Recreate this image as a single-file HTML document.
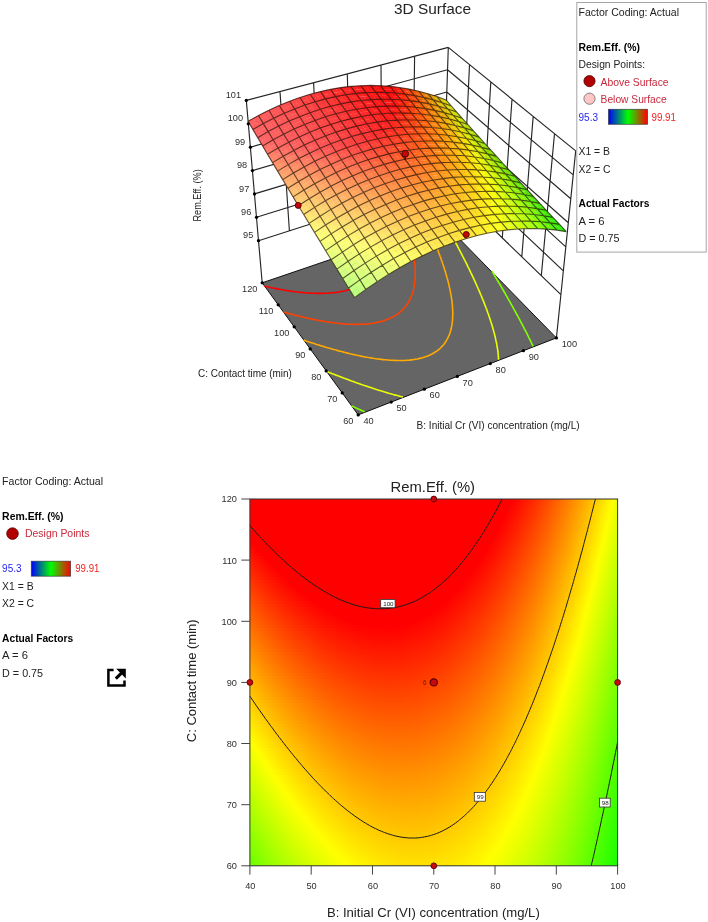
<!DOCTYPE html>
<html><head><meta charset="utf-8"><title>3D Surface</title>
<style>
html,body{margin:0;padding:0;background:#fff}
body{width:708px;height:922px;position:relative;overflow:hidden;font-family:"Liberation Sans",sans-serif}
svg{position:absolute;left:0;display:block}
.s3{top:0}.s2{top:460px}.sl{top:0}
</style></head><body>
<svg class="s3" width="708" height="460" viewBox="0 0 708 460"><path d="M258.5,240.7L443.8,181.2M443.8,181.2L560.9,294.7M256.5,217.3L444.5,158.9M444.5,158.9L563.3,270.8M254.5,193.9L445.3,136.6M445.3,136.6L565.8,246.8M252.4,170.6L446.0,114.3M446.0,114.3L568.3,222.8M250.4,147.2L446.8,92.0M446.8,92.0L570.8,198.8M248.3,123.8L447.5,69.7M447.5,69.7L573.2,174.9M246.3,100.4L448.3,47.4M448.3,47.4L575.7,150.9M246.3,100.4L258.5,240.7M448.3,47.4L443.8,181.2M280.0,91.6L289.4,230.8M469.5,64.7L463.3,200.2M313.6,82.7L320.3,220.9M490.8,81.9L482.8,219.1M347.3,73.9L351.1,211.0M512.0,99.2L502.3,238.0M381.0,65.1L382.0,201.1M533.2,116.4L521.8,256.9M414.6,56.2L412.9,191.2M554.5,133.7L541.3,275.8M448.3,47.4L443.8,181.2M575.7,150.9L560.9,294.7M262.2,282.8L258.5,240.7M442.4,221.4L443.8,181.2M556.4,337.9L560.9,294.7" stroke="#262626" stroke-width="1.15" fill="none"/><polygon points="262.2,282.8 358.2,414.9 556.4,337.9 442.4,221.4" fill="#656565" stroke="#111" stroke-width="1"/><polyline points="533.1,346.3 532.6,345.3 532.5,345.0 531.9,343.8 531.3,342.5 530.7,341.2 530.4,340.7 530.1,340.0 529.4,338.7 528.8,337.5 528.2,336.2 528.1,336.1 527.6,335.0 527.0,333.7 526.3,332.5 525.8,331.4 525.7,331.3 525.1,330.0 524.4,328.8 523.8,327.6 523.3,326.6 523.2,326.4 522.6,325.2 521.9,324.0 521.3,322.8 520.8,321.8 520.7,321.6 520.0,320.4 519.4,319.2 518.8,318.0 518.2,316.9 518.1,316.8 517.5,315.6 516.8,314.5 516.2,313.3 515.6,312.1 515.5,312.0 514.9,310.9 514.3,309.8 513.6,308.6 513.0,307.5 512.7,307.0 512.4,306.3 511.7,305.2 511.1,304.0 510.5,302.9 509.9,302.0 509.8,301.7 509.2,300.6 508.5,299.5 507.9,298.3 507.2,297.2 507.1,296.9 506.6,296.1 506.0,295.0 505.3,293.9 504.7,292.7 504.1,291.8 504.0,291.6 503.4,290.5 502.8,289.4 502.1,288.3 501.5,287.2 501.2,286.6 500.8,286.1 500.2,285.0 499.6,283.9 498.9,282.9 498.3,281.8 498.1,281.5 497.7,280.7 497.0,279.6 496.4,278.5 495.7,277.5 495.1,276.4 495.0,276.3 494.5,275.3 493.8,274.3 493.2,273.2 492.6,272.1 491.9,271.1 491.9,271.1" fill="none" stroke="#83ff00" stroke-width="1.6"/><polyline points="351.4,405.8 351.6,405.9 353.4,406.7 354.9,407.4 355.3,407.6 357.2,408.5 358.3,409.0 359.1,409.3 361.0,410.2 361.7,410.5 362.9,411.0 364.8,411.9" fill="none" stroke="#83ff00" stroke-width="1.6"/><polyline points="498.5,359.8 498.5,358.3 498.4,357.3 498.4,356.8 498.2,355.3 498.2,354.7 498.1,353.8 498.0,352.4 497.9,352.0 497.8,350.9 497.6,349.5 497.5,349.2 497.4,348.1 497.1,346.7 497.1,346.3 496.9,345.3 496.6,343.9 496.6,343.4 496.4,342.5 496.1,341.1 495.9,340.4 495.8,339.8 495.5,338.4 495.3,337.4 495.2,337.1 494.9,335.7 494.5,334.4 494.5,334.2 494.2,333.1 493.8,331.7 493.6,331.0 493.5,330.4 493.1,329.1 492.7,327.8 492.7,327.7 492.4,326.5 492.0,325.2 491.7,324.4 491.6,323.9 491.2,322.7 490.8,321.4 490.6,321.0 490.4,320.1 490.0,318.9 489.5,317.6 489.5,317.5 489.1,316.4 488.7,315.1 488.3,314.0 488.2,313.9 487.8,312.7 487.4,311.4 487.0,310.4 486.9,310.2 486.5,309.0 486.0,307.8 485.6,306.7 485.5,306.6 485.1,305.4 484.6,304.2 484.2,303.0 484.1,303.0 483.7,301.8 483.2,300.6 482.7,299.4 482.6,299.2 482.2,298.2 481.8,297.1 481.3,295.9 481.0,295.3 480.8,294.7 480.3,293.6 479.8,292.4 479.4,291.4 479.3,291.3 478.8,290.1 478.3,289.0 477.8,287.8 477.7,287.5 477.3,286.7 476.8,285.6 476.3,284.4 475.9,283.5 475.8,283.3 475.3,282.2 474.8,281.1 474.3,280.0 474.0,279.5 473.8,278.8 473.2,277.7 472.7,276.6 472.2,275.5 472.1,275.4 471.7,274.4 471.2,273.3 470.7,272.3 470.2,271.2 470.1,271.2 469.6,270.1 469.1,269.0 468.6,267.9 468.1,267.1 468.0,266.9 467.5,265.8 467.0,264.7 466.5,263.6 466.1,262.8 465.9,262.6 465.4,261.5 464.9,260.5 464.3,259.4 463.9,258.6 463.8,258.4 463.3,257.3 462.7,256.3 462.2,255.2 461.7,254.3 461.7,254.2 461.1,253.2 460.6,252.1 460.1,251.1 459.5,250.1 459.5,250.0 459.0,249.1 458.5,248.0 457.9,247.0 457.4,246.0 457.2,245.6 456.9,245.0 456.3,244.0 455.8,243.0 455.3,242.0 454.8,241.2 454.7,241.0 454.2,240.0 453.6,239.0 453.1,238.0 452.6,237.0 452.5,236.8 452.0,236.0 451.5,235.0 451.0,234.0 450.4,233.1 450.0,232.3 449.9,232.1 449.3,231.1 448.8,230.1 448.3,229.2 447.7,228.2 447.6,227.9 447.2,227.2 446.7,226.3 446.1,225.3 445.6,224.3 445.1,223.4" fill="none" stroke="#ebff00" stroke-width="1.6"/><polyline points="326.3,371.3 328.0,371.9 329.4,372.5 329.9,372.7 331.8,373.5 332.5,373.7 333.8,374.2 335.6,374.9 335.7,375.0 337.7,375.7 338.6,376.1 339.7,376.5 341.6,377.2 341.7,377.3 343.6,378.0 344.8,378.4 345.7,378.7 347.7,379.5 347.8,379.6 349.7,380.2 350.9,380.7 351.7,381.0 353.8,381.7 353.9,381.8 355.8,382.5 357.0,382.9 357.9,383.2 360.0,383.9 360.0,383.9 362.1,384.7 363.0,385.0 364.2,385.4 366.0,386.0 366.4,386.1 368.5,386.9 369.0,387.0 370.7,387.6 372.0,388.0 372.8,388.3 374.9,389.0 375.0,389.0 377.2,389.7 377.9,389.9 379.5,390.4 380.8,390.8 381.7,391.1 383.8,391.7 384.0,391.8 386.3,392.5 386.7,392.6 388.6,393.2 389.6,393.5 390.9,393.8 392.5,394.3 393.2,394.5 395.3,395.1 395.6,395.1 398.0,395.8 398.2,395.8 400.5,396.4 401.0,396.6 402.9,397.1" fill="none" stroke="#ebff00" stroke-width="1.6"/><polyline points="303.6,340.1 304.7,340.5 306.4,341.1 306.7,341.2 308.7,341.8 309.2,342.0 310.7,342.5 312.1,342.9 312.7,343.1 314.8,343.8 314.9,343.8 316.8,344.5 317.6,344.7 318.9,345.1 320.4,345.6 321.0,345.7 323.1,346.4 323.2,346.4 325.2,347.0 326.0,347.2 327.4,347.7 328.7,348.1 329.5,348.3 331.5,348.8 331.7,348.9 333.9,349.5 334.2,349.6 336.1,350.1 336.9,350.4 338.3,350.7 339.6,351.1 340.6,351.3 342.3,351.8 342.9,351.9 345.0,352.5 345.2,352.5 347.5,353.1 347.6,353.1 349.9,353.7 350.3,353.8 352.2,354.2 352.9,354.4 354.7,354.8 355.5,355.0 357.1,355.3 358.1,355.5 359.6,355.8 360.7,356.1 362.2,356.4 363.3,356.6 364.7,356.8 365.8,357.1 367.4,357.3 368.3,357.5 370.0,357.8 370.8,357.9 372.8,358.2 373.3,358.3 375.6,358.7 375.8,358.7 378.2,359.0 378.4,359.1 380.6,359.3 381.4,359.4 383.0,359.6 384.5,359.7 385.4,359.8 387.6,360.0 387.7,360.0 390.0,360.2 390.9,360.3 392.3,360.3 394.4,360.4 394.5,360.4 396.8,360.5 398.1,360.5 399.0,360.5 401.1,360.5 402.1,360.5 403.3,360.5 405.4,360.4 406.6,360.3 407.4,360.2 409.5,360.1 411.5,359.9 411.8,359.8 413.4,359.6 415.4,359.3 417.3,359.0 418.9,358.6 419.1,358.6 420.9,358.1 422.7,357.7 424.4,357.1 426.1,356.6 427.8,355.9 429.4,355.3 430.9,354.5 432.4,353.8 433.8,353.0 433.9,352.9 435.3,352.0 436.7,351.1 438.0,350.1 438.5,349.8 439.3,349.1 440.5,348.0 441.2,347.2 441.6,346.8 442.7,345.6 443.3,345.0 443.8,344.4 444.8,343.1 444.9,342.9 445.7,341.7 446.2,341.0 446.6,340.2 447.2,339.1 447.5,338.7 448.1,337.4 448.2,337.2 448.9,335.6 449.0,335.6 449.6,333.9 449.6,333.9 450.2,332.3 450.2,332.2 450.6,330.7 450.7,330.4 451.1,329.1 451.2,328.5 451.4,327.6 451.6,326.6 451.7,326.0 452.0,324.6 452.0,324.5 452.2,323.1 452.3,322.6 452.4,321.6 452.5,320.5 452.5,320.1 452.6,318.7 452.6,318.3 452.7,317.3 452.7,316.1 452.7,315.9 452.8,314.5 452.8,313.8 452.8,313.1 452.7,311.7 452.7,311.5 452.7,310.4 452.6,309.1 452.6,309.0 452.6,307.7 452.5,306.6 452.5,306.4 452.3,305.1 452.3,304.1 452.2,303.8 452.1,302.5 452.0,301.5 451.9,301.2 451.8,299.9 451.6,298.9 451.6,298.6 451.4,297.4 451.2,296.2 451.2,296.1 451.0,294.9 450.8,293.6 450.7,293.5 450.5,292.4 450.3,291.1 450.2,290.6 450.0,289.9 449.8,288.7 449.6,287.8 449.5,287.5 449.2,286.3 449.0,285.1 448.9,284.9 448.7,283.9 448.4,282.7 448.2,281.9 448.1,281.5 447.8,280.3 447.5,279.2 447.4,278.9 447.1,278.0 446.8,276.8 446.5,275.8 446.5,275.7 446.2,274.5 445.8,273.4 445.6,272.6 445.5,272.3 445.1,271.1 444.8,270.0 444.6,269.5 444.4,268.9 444.1,267.7 443.7,266.6 443.6,266.2 443.3,265.5 443.0,264.4 442.6,263.3 442.5,262.9 442.2,262.2 441.8,261.1 441.4,260.0 441.3,259.6 441.1,258.9 440.7,257.8 440.3,256.7 440.1,256.2 439.9,255.6 439.5,254.6 439.1,253.5 438.8,252.8 438.7,252.4 438.3,251.3 437.9,250.3 437.5,249.4 437.5,249.2 437.0,248.2 436.6,247.1 436.2,246.1 436.1,245.9 435.8,245.0 435.4,244.0 435.0,243.0 434.7,242.3 434.5,241.9 434.1,240.9 433.7,239.9 433.3,238.8 433.2,238.7 432.8,237.8 432.4,236.8 432.0,235.8 431.7,235.1 431.5,234.8 431.1,233.8 430.6,232.7 430.2,231.7 430.1,231.5 429.8,230.7 429.3,229.7 428.9,228.8 428.5,227.8 428.4,227.8 428.0,226.8" fill="none" stroke="#ffaa00" stroke-width="1.6"/><polyline points="283.1,311.9 283.4,312.0 285.4,312.6 285.7,312.6 287.5,313.2 288.3,313.4 289.6,313.7 290.8,314.0 291.8,314.3 293.4,314.7 293.9,314.8 296.0,315.4 296.1,315.4 298.2,315.9 298.5,316.0 300.5,316.5 301.1,316.6 302.7,317.0 303.6,317.2 305.0,317.5 306.1,317.8 307.2,318.1 308.6,318.4 309.6,318.6 311.1,318.9 311.9,319.1 313.6,319.4 314.3,319.5 316.0,319.9 316.7,320.0 318.5,320.4 319.2,320.5 320.9,320.8 321.7,320.9 323.3,321.2 324.2,321.4 325.7,321.6 326.8,321.8 328.1,322.0 329.4,322.2 330.4,322.3 332.2,322.6 332.8,322.7 334.9,322.9 335.1,323.0 337.4,323.2 337.8,323.3 339.7,323.5 340.7,323.6 342.0,323.7 343.8,323.8 344.2,323.9 346.4,324.0 346.9,324.1 348.6,324.2 350.2,324.2 350.8,324.3 353.0,324.3 353.8,324.3 355.1,324.4 357.2,324.4 357.5,324.4 359.3,324.3 361.3,324.3 361.5,324.3 363.3,324.2 365.3,324.1 366.1,324.0 367.3,323.9 369.2,323.7 371.2,323.5 371.5,323.4 373.0,323.2 374.9,322.9 376.7,322.5 378.5,322.1 379.5,321.9 380.2,321.7 381.9,321.3 383.6,320.8 385.3,320.2 386.9,319.6 388.4,319.0 390.0,318.3 391.5,317.6 391.7,317.5 392.9,316.9 394.3,316.1 395.7,315.2 397.1,314.4 397.4,314.1 398.4,313.4 399.6,312.4 400.6,311.6 400.8,311.4 402.0,310.3 402.9,309.5 403.1,309.2 404.2,308.1 404.7,307.5 405.2,306.9 406.2,305.6 406.2,305.6 407.1,304.3 407.4,303.8 408.0,302.9 408.5,302.1 408.8,301.5 409.4,300.5 409.6,300.1 410.2,298.9 410.3,298.5 410.9,297.3 411.0,297.0 411.5,295.8 411.7,295.4 412.1,294.3 412.3,293.7 412.5,292.8 412.8,292.0 413.0,291.4 413.3,290.3 413.4,289.9 413.7,288.5 413.7,288.4 414.0,287.1 414.1,286.6 414.2,285.8 414.4,284.7 414.5,284.4 414.6,283.1 414.7,282.7 414.8,281.7 414.9,280.7 414.9,280.4 415.0,279.1 415.1,278.6 415.1,277.8 415.2,276.5 415.2,276.5 415.2,275.3 415.2,274.4 415.2,274.0 415.2,272.8 415.2,272.1 415.2,271.5 415.2,270.3 415.2,269.9 415.2,269.1 415.1,267.8 415.1,267.6 415.0,266.6 415.0,265.4 414.9,265.2 414.9,264.2 414.7,263.0 414.7,262.8 414.6,261.9 414.5,260.7 414.5,260.3 414.4,259.5 414.2,258.4 414.1,257.8 414.1,257.2 413.9,256.1 413.8,255.3 413.7,254.9 413.5,253.8 413.3,252.7 413.3,252.7 413.1,251.5 412.9,250.4 412.9,250.1 412.7,249.3 412.5,248.2 412.3,247.4 412.3,247.1 412.0,246.0 411.8,244.9 411.7,244.6 411.6,243.8 411.3,242.7 411.1,241.9 411.1,241.6 410.8,240.5 410.5,239.5 410.4,239.0 410.3,238.4 410.0,237.3 409.7,236.3 409.7,236.2 409.4,235.2 409.1,234.2 408.9,233.3 408.9,233.1" fill="none" stroke="#ff4200" stroke-width="1.6"/><polyline points="264.3,286.1 266.1,286.5 266.7,286.7 268.3,287.0 269.1,287.2 270.5,287.5 271.5,287.7 272.8,288.0 273.9,288.2 275.1,288.4 276.2,288.6 277.4,288.9 278.6,289.1 279.7,289.3 280.9,289.5 282.1,289.7 283.3,289.9 284.5,290.2 285.6,290.3 287.0,290.6 287.9,290.7 289.5,290.9 290.2,291.0 292.1,291.3 292.4,291.4 294.7,291.7 294.7,291.7 296.9,292.0 297.4,292.0 299.2,292.2 300.1,292.3 301.4,292.4 303.0,292.6 303.6,292.7 305.7,292.8 305.9,292.8 307.9,293.0 308.9,293.1 310.0,293.1 312.1,293.2 312.1,293.2 314.2,293.3 315.4,293.4 316.3,293.4 318.4,293.4 318.9,293.4 320.4,293.4 322.4,293.4 322.7,293.4 324.4,293.3 326.4,293.3 326.8,293.2 328.3,293.2 330.3,293.0 331.4,292.9 332.2,292.8 334.0,292.6 335.9,292.4 337.1,292.2 337.7,292.1 339.5,291.8 341.3,291.5 343.0,291.2 344.7,290.8 345.9,290.4 346.4,290.3 348.0,289.9 349.7,289.4 351.2,288.8 352.8,288.3 354.3,287.7 355.5,287.1 355.8,287.0 357.3,286.3 358.7,285.6 360.1,284.9 361.5,284.1 362.2,283.6 362.8,283.2 364.1,282.4 365.3,281.4 365.7,281.1 366.5,280.5 367.7,279.5 368.2,279.0 368.8,278.5 369.9,277.4 370.2,277.1 371.0,276.3 371.8,275.3 372.0,275.1 373.0,273.9 373.2,273.6 373.9,272.7 374.4,272.0 374.8,271.4 375.5,270.4 375.6,270.1 376.4,268.8 376.5,268.7 377.2,267.3 377.2,267.3 378.0,265.9 378.0,265.9 378.6,264.4 378.6,264.4 379.2,263.0 379.3,262.8 379.7,261.6 379.9,261.3 380.2,260.3 380.4,259.6 380.6,258.9 380.9,258.0 381.0,257.6 381.4,256.3 381.4,256.3 381.7,255.0 381.8,254.5 381.9,253.7 382.2,252.7 382.2,252.5 382.4,251.2 382.5,250.9 382.6,250.0 382.8,249.0 382.8,248.8 382.9,247.5 383.0,247.1 383.1,246.3 383.2,245.1 383.2,245.1 383.2,243.9 383.3,243.1 383.3,242.8 383.4,241.6" fill="none" stroke="#ff0000" stroke-width="1.6"/><polygon points="444.1,101.3 448.9,103.1 446.1,99.9 441.3,98.1" fill="#d5d802"/><polygon points="446.8,104.4 451.6,106.2 448.7,102.9 444.0,101.1" fill="#d0d902"/><polygon points="439.6,99.7 444.4,101.4 441.6,98.2 436.8,96.5" fill="#dcc702"/><polygon points="449.5,107.5 454.3,109.2 451.4,106.0 446.7,104.2" fill="#cbd902"/><polygon points="442.3,102.8 447.1,104.5 444.2,101.2 439.4,99.5" fill="#ddcd02"/><polygon points="435.0,98.2 439.9,99.8 437.0,96.6 432.2,95.0" fill="#e0b203"/><polygon points="452.2,110.6 457.0,112.3 454.1,109.0 449.4,107.3" fill="#c6da02"/><polygon points="445.0,105.9 449.8,107.6 446.9,104.3 442.1,102.6" fill="#ddd302"/><polygon points="437.7,101.4 442.6,102.9 439.7,99.6 434.9,98.1" fill="#e0b903"/><polygon points="430.5,96.9 435.3,98.3 432.5,95.0 427.6,93.6" fill="#e49e03"/><polygon points="455.0,113.7 459.8,115.4 456.9,112.1 452.1,110.4" fill="#c1da02"/><polygon points="447.7,109.0 452.5,110.7 449.6,107.4 444.8,105.7" fill="#ded902"/><polygon points="440.4,104.5 445.3,106.0 442.4,102.7 437.6,101.2" fill="#e1bf03"/><polygon points="433.1,100.0 438.0,101.4 435.2,98.1 430.3,96.7" fill="#e4a503"/><polygon points="425.8,95.6 430.7,96.9 427.9,93.6 423.0,92.3" fill="#e88a04"/><polygon points="457.7,116.8 462.5,118.5 459.6,115.2 454.8,113.5" fill="#bcdb02"/><polygon points="450.4,112.2 455.3,113.8 452.4,110.5 447.5,108.8" fill="#ddde02"/><polygon points="443.1,107.6 448.0,109.1 445.1,105.8 440.3,104.3" fill="#e1c503"/><polygon points="435.8,103.1 440.7,104.6 437.8,101.3 433.0,99.8" fill="#e5ab03"/><polygon points="428.5,98.8 433.4,100.1 430.6,96.8 425.7,95.4" fill="#e89104"/><polygon points="421.2,94.4 426.1,95.7 423.3,92.3 418.4,91.1" fill="#ec7705"/><polygon points="460.5,119.9 465.3,121.6 462.4,118.3 457.6,116.6" fill="#b8db02"/><polygon points="453.2,115.3 458.0,116.9 455.1,113.6 450.3,112.0" fill="#d8df02"/><polygon points="445.9,110.8 450.7,112.2 447.8,108.9 443.0,107.4" fill="#e2cb03"/><polygon points="438.5,106.3 443.4,107.7 440.5,104.4 435.7,103.0" fill="#e5b103"/><polygon points="431.2,101.9 436.1,103.2 433.3,99.9 428.4,98.6" fill="#e99704"/><polygon points="423.9,97.6 428.8,98.8 426.0,95.5 421.0,94.2" fill="#ec7d05"/><polygon points="416.5,93.4 421.5,94.5 418.7,91.1 413.7,90.0" fill="#f06305"/><polygon points="463.3,123.0 468.1,124.7 465.1,121.4 460.3,119.7" fill="#b3dc02"/><polygon points="456.0,118.5 460.8,120.0 457.8,116.7 453.0,115.1" fill="#d3df02"/><polygon points="448.6,113.9 453.5,115.4 450.6,112.1 445.7,110.6" fill="#e2d103"/><polygon points="441.3,109.5 446.1,110.8 443.3,107.5 438.4,106.1" fill="#e6b804"/><polygon points="433.9,105.1 438.8,106.4 435.9,103.0 431.0,101.7" fill="#e99e04"/><polygon points="426.5,100.8 431.5,102.0 428.6,98.6 423.7,97.4" fill="#ed8405"/><polygon points="419.2,96.6 424.1,97.7 421.3,94.3 416.4,93.2" fill="#f06b06"/><polygon points="411.8,92.4 416.8,93.4 414.0,90.1 409.0,89.0" fill="#f35106"/><polygon points="466.1,126.2 470.9,127.8 467.9,124.5 463.1,122.9" fill="#aedc02"/><polygon points="458.7,121.6 463.6,123.1 460.6,119.8 455.8,118.3" fill="#cedf03"/><polygon points="451.4,117.1 456.2,118.5 453.3,115.2 448.4,113.7" fill="#e3d803"/><polygon points="444.0,112.7 448.9,114.0 446.0,110.7 441.1,109.3" fill="#e6be04"/><polygon points="436.6,108.3 441.5,109.6 438.7,106.2 433.7,104.9" fill="#eaa404"/><polygon points="429.2,104.0 434.2,105.2 431.3,101.8 426.4,100.6" fill="#ed8b05"/><polygon points="421.9,99.8 426.8,100.9 424.0,97.5 419.0,96.4" fill="#f17206"/><polygon points="414.5,95.7 419.5,96.6 416.6,93.2 411.6,92.2" fill="#f45807"/><polygon points="407.1,91.6 412.1,92.5 409.3,89.1 404.3,88.2" fill="#f73f08"/><polygon points="468.9,129.4 473.7,131.0 470.7,127.6 465.9,126.0" fill="#a9dd02"/><polygon points="461.5,124.8 466.4,126.3 463.4,123.0 458.6,121.4" fill="#c9e003"/><polygon points="454.1,120.3 459.0,121.7 456.1,118.3 451.2,116.9" fill="#e3de03"/><polygon points="446.8,115.9 451.6,117.2 448.7,113.8 443.8,112.5" fill="#e7c404"/><polygon points="439.4,111.5 444.3,112.7 441.4,109.4 436.5,108.1" fill="#eaab04"/><polygon points="432.0,107.2 436.9,108.4 434.0,105.0 429.1,103.8" fill="#ee9205"/><polygon points="424.5,103.0 429.5,104.1 426.7,100.7 421.7,99.6" fill="#f17806"/><polygon points="417.1,98.9 422.1,99.8 419.3,96.4 414.3,95.5" fill="#f55f07"/><polygon points="409.7,94.8 414.7,95.7 411.9,92.3 406.9,91.4" fill="#f84608"/><polygon points="402.3,90.9 407.3,91.6 404.6,88.2 399.5,87.4" fill="#fb2e09"/><polygon points="471.7,132.5 476.5,134.1 473.5,130.8 468.7,129.2" fill="#a4dd02"/><polygon points="464.3,128.0 469.2,129.5 466.2,126.1 461.4,124.6" fill="#c4e003"/><polygon points="456.9,123.5 461.8,124.9 458.8,121.5 454.0,120.1" fill="#e4e403"/><polygon points="449.5,119.1 454.4,120.4 451.5,117.0 446.6,115.7" fill="#e7cb04"/><polygon points="442.1,114.7 447.0,115.9 444.1,112.5 439.2,111.3" fill="#ebb204"/><polygon points="434.7,110.4 439.6,111.6 436.7,108.2 431.8,107.0" fill="#ee9805"/><polygon points="427.3,106.3 432.2,107.3 429.4,103.9 424.4,102.8" fill="#f27f06"/><polygon points="419.8,102.1 424.8,103.1 422.0,99.7 417.0,98.7" fill="#f56707"/><polygon points="412.4,98.1 417.4,98.9 414.6,95.5 409.6,94.6" fill="#f84e08"/><polygon points="404.9,94.1 410.0,94.9 407.2,91.4 402.1,90.7" fill="#fc3509"/><polygon points="397.5,90.3 402.6,90.9 399.8,87.5 394.7,86.8" fill="#ff1d0a"/><polygon points="474.6,135.7 479.4,137.3 476.4,133.9 471.6,132.4" fill="#a0dd02"/><polygon points="467.2,131.2 472.0,132.6 469.0,129.3 464.2,127.8" fill="#bfe103"/><polygon points="459.7,126.7 464.6,128.1 461.6,124.7 456.8,123.3" fill="#dfe403"/><polygon points="452.3,122.3 457.2,123.6 454.2,120.2 449.4,118.9" fill="#e8d104"/><polygon points="444.9,117.9 449.8,119.1 446.9,115.7 441.9,114.5" fill="#ebb805"/><polygon points="437.4,113.7 442.4,114.8 439.5,111.4 434.5,110.3" fill="#ef9f05"/><polygon points="430.0,109.5 435.0,110.5 432.1,107.1 427.1,106.1" fill="#f28606"/><polygon points="422.5,105.4 427.5,106.3 424.7,102.9 419.7,101.9" fill="#f66e07"/><polygon points="415.1,101.4 420.1,102.2 417.3,98.7 412.2,97.9" fill="#f95508"/><polygon points="407.6,97.4 412.7,98.1 409.8,94.7 404.8,93.9" fill="#fc3d09"/><polygon points="400.2,93.6 405.2,94.2 402.4,90.7 397.4,90.1" fill="#ff250a"/><polygon points="392.7,89.8 397.8,90.3 395.0,86.8 389.9,86.3" fill="#ff0e0c"/><polygon points="477.4,138.9 482.2,140.5 479.2,137.1 474.4,135.5" fill="#9bde02"/><polygon points="470.0,134.4 474.8,135.8 471.8,132.4 467.0,131.0" fill="#bae103"/><polygon points="462.6,129.9 467.4,131.3 464.4,127.9 459.6,126.5" fill="#dae503"/><polygon points="455.1,125.5 460.0,126.8 457.0,123.4 452.1,122.1" fill="#e8d704"/><polygon points="447.6,121.2 452.6,122.4 449.6,118.9 444.7,117.8" fill="#ecbf05"/><polygon points="440.2,116.9 445.1,118.0 442.2,114.6 437.3,113.5" fill="#efa605"/><polygon points="432.7,112.8 437.7,113.7 434.8,110.3 429.8,109.3" fill="#f38d06"/><polygon points="425.2,108.7 430.3,109.6 427.4,106.1 422.4,105.2" fill="#f67507"/><polygon points="417.8,104.7 422.8,105.4 419.9,102.0 414.9,101.2" fill="#fa5d08"/><polygon points="410.3,100.7 415.4,101.4 412.5,97.9 407.4,97.2" fill="#fd4509"/><polygon points="387.8,89.4 393.0,89.8 390.2,86.3 385.1,85.9" fill="#ff0d0d"/><polygon points="402.8,96.9 407.9,97.5 405.1,94.0 400.0,93.4" fill="#ff2d0b"/><polygon points="395.3,93.1 400.4,93.6 397.6,90.1 392.5,89.6" fill="#ff160c"/><polygon points="480.3,142.2 485.1,143.7 482.1,140.3 477.3,138.8" fill="#96de02"/><polygon points="472.9,137.6 477.7,139.0 474.7,135.6 469.8,134.2" fill="#b5e203"/><polygon points="465.4,133.2 470.3,134.5 467.3,131.1 462.4,129.7" fill="#d5e503"/><polygon points="457.9,128.8 462.8,130.0 459.8,126.6 454.9,125.3" fill="#e9dd04"/><polygon points="450.4,124.4 455.4,125.6 452.4,122.2 447.5,121.0" fill="#ecc505"/><polygon points="443.0,120.2 447.9,121.3 445.0,117.8 440.0,116.7" fill="#f0ad06"/><polygon points="435.5,116.0 440.5,117.0 437.5,113.6 432.5,112.6" fill="#f39406"/><polygon points="428.0,112.0 433.0,112.8 430.1,109.4 425.1,108.5" fill="#f77c07"/><polygon points="420.5,108.0 425.5,108.7 422.6,105.3 417.6,104.5" fill="#fa6408"/><polygon points="383.0,89.1 388.1,89.4 385.4,85.9 380.2,85.6" fill="#ff0f0f"/><polygon points="413.0,104.0 418.1,104.7 415.2,101.2 410.1,100.5" fill="#fe4c0a"/><polygon points="390.5,92.7 395.6,93.1 392.8,89.6 387.7,89.2" fill="#ff0e0e"/><polygon points="405.5,100.2 410.6,100.8 407.7,97.3 402.6,96.7" fill="#ff340b"/><polygon points="398.0,96.4 403.1,96.9 400.3,93.4 395.2,92.9" fill="#ff1d0c"/><polygon points="483.2,145.4 488.0,146.9 485.0,143.5 480.1,142.0" fill="#92df02"/><polygon points="475.7,140.9 480.6,142.2 477.5,138.8 472.7,137.4" fill="#b1e203"/><polygon points="468.2,136.4 473.1,137.7 470.1,134.3 465.2,133.0" fill="#d0e604"/><polygon points="460.8,132.0 465.7,133.2 462.7,129.8 457.8,128.6" fill="#e9e404"/><polygon points="453.3,127.7 458.2,128.8 455.2,125.4 450.3,124.3" fill="#edcb05"/><polygon points="445.7,123.5 450.7,124.5 447.8,121.1 442.8,120.0" fill="#f0b306"/><polygon points="438.2,119.3 443.2,120.3 440.3,116.8 435.3,115.9" fill="#f49b07"/><polygon points="378.1,89.0 383.3,89.1 380.5,85.6 375.3,85.4" fill="#ff1111"/><polygon points="430.7,115.3 435.8,116.1 432.8,112.6 427.8,111.8" fill="#f78308"/><polygon points="385.6,92.5 390.8,92.7 388.0,89.2 382.8,88.9" fill="#ff1010"/><polygon points="423.2,111.3 428.3,112.0 425.4,108.5 420.3,107.8" fill="#fb6b09"/><polygon points="393.1,96.1 398.3,96.4 395.5,92.9 390.3,92.5" fill="#ff0f0e"/><polygon points="415.7,107.4 420.8,108.0 417.9,104.5 412.8,103.8" fill="#fe540a"/><polygon points="400.6,99.8 405.8,100.2 402.9,96.7 397.8,96.2" fill="#ff250c"/><polygon points="408.2,103.5 413.3,104.1 410.4,100.6 405.3,100.0" fill="#ff3c0b"/><polygon points="486.1,148.6 490.9,150.1 487.9,146.7 483.0,145.2" fill="#8ddf03"/><polygon points="478.6,144.1 483.5,145.5 480.4,142.0 475.6,140.7" fill="#ace303"/><polygon points="471.1,139.7 476.0,140.9 473.0,137.5 468.1,136.2" fill="#cbe604"/><polygon points="463.6,135.3 468.5,136.5 465.5,133.0 460.6,131.8" fill="#eaea04"/><polygon points="456.1,131.0 461.0,132.1 458.0,128.6 453.1,127.5" fill="#edd205"/><polygon points="448.6,126.8 453.5,127.8 450.6,124.3 445.6,123.3" fill="#f1ba06"/><polygon points="373.2,88.9 378.4,89.0 375.6,85.4 370.4,85.3" fill="#ff1414"/><polygon points="441.0,122.6 446.0,123.5 443.1,120.1 438.1,119.1" fill="#f4a207"/><polygon points="380.7,92.4 385.9,92.5 383.1,88.9 377.9,88.8" fill="#ff1212"/><polygon points="433.5,118.6 438.5,119.4 435.6,115.9 430.6,115.1" fill="#f88a08"/><polygon points="388.2,95.9 393.4,96.1 390.6,92.5 385.4,92.3" fill="#ff1010"/><polygon points="425.9,114.6 431.0,115.3 428.1,111.8 423.0,111.1" fill="#fb7309"/><polygon points="395.8,99.5 400.9,99.8 398.1,96.2 393.0,95.9" fill="#ff170e"/><polygon points="418.4,110.7 423.5,111.3 420.6,107.8 415.5,107.2" fill="#ff5b0a"/><polygon points="403.3,103.1 408.5,103.5 405.6,100.0 400.5,99.6" fill="#ff2d0d"/><polygon points="410.9,106.9 416.0,107.4 413.1,103.9 408.0,103.3" fill="#ff440b"/><polygon points="489.1,151.9 493.9,153.3 490.8,149.9 485.9,148.4" fill="#88e003"/><polygon points="481.5,147.4 486.4,148.7 483.3,145.3 478.5,143.9" fill="#a7e303"/><polygon points="474.0,142.9 478.9,144.2 475.8,140.7 470.9,139.5" fill="#c6e704"/><polygon points="466.5,138.6 471.4,139.7 468.4,136.3 463.4,135.1" fill="#e5ea04"/><polygon points="368.2,89.0 373.5,88.9 370.7,85.3 365.5,85.4" fill="#ff1616"/><polygon points="458.9,134.3 463.9,135.4 460.9,131.9 455.9,130.8" fill="#eed805"/><polygon points="375.8,92.4 381.0,92.4 378.2,88.8 373.0,88.7" fill="#ff1414"/><polygon points="451.4,130.1 456.4,131.1 453.4,127.6 448.4,126.6" fill="#f1c006"/><polygon points="383.3,95.8 388.5,95.9 385.7,92.3 380.5,92.2" fill="#ff1212"/><polygon points="443.8,126.0 448.8,126.8 445.9,123.3 440.9,122.4" fill="#f5a907"/><polygon points="390.9,99.3 396.1,99.5 393.3,95.9 388.1,95.7" fill="#ff1010"/><polygon points="436.3,121.9 441.3,122.7 438.4,119.2 433.3,118.4" fill="#f89108"/><polygon points="398.5,102.8 403.6,103.1 400.8,99.6 395.6,99.3" fill="#ff1f0f"/><polygon points="428.7,117.9 433.8,118.6 430.8,115.1 425.8,114.4" fill="#fc7a09"/><polygon points="406.0,106.5 411.2,106.9 408.3,103.3 403.2,102.9" fill="#ff350d"/><polygon points="421.1,114.0 426.2,114.6 423.3,111.1 418.2,110.5" fill="#ff630a"/><polygon points="413.6,110.2 418.7,110.7 415.8,107.2 410.7,106.7" fill="#ff4b0c"/><polygon points="492.0,155.2 496.8,156.6 493.7,153.1 488.9,151.7" fill="#84e003"/><polygon points="484.5,150.7 489.3,152.0 486.2,148.5 481.4,147.2" fill="#a2e403"/><polygon points="363.3,89.3 368.5,89.0 365.8,85.4 360.5,85.6" fill="#ff1919"/><polygon points="476.9,146.2 481.8,147.5 478.7,144.0 473.8,142.7" fill="#c1e704"/><polygon points="370.8,92.5 376.1,92.4 373.3,88.7 368.1,88.8" fill="#ff1717"/><polygon points="469.4,141.9 474.3,143.0 471.2,139.5 466.3,138.4" fill="#e0eb04"/><polygon points="378.4,95.8 383.6,95.8 380.8,92.2 375.6,92.2" fill="#ff1414"/><polygon points="461.8,137.6 466.7,138.6 463.7,135.2 458.8,134.1" fill="#eedf05"/><polygon points="386.0,99.2 391.2,99.3 388.4,95.7 383.2,95.6" fill="#ff1212"/><polygon points="454.2,133.4 459.2,134.4 456.2,130.9 451.2,129.9" fill="#f2c706"/><polygon points="393.6,102.7 398.7,102.9 395.9,99.3 390.7,99.1" fill="#ff1311"/><polygon points="446.6,129.3 451.7,130.1 448.7,126.6 443.7,125.8" fill="#f5b007"/><polygon points="401.1,106.2 406.3,106.5 403.5,102.9 398.3,102.6" fill="#ff270f"/><polygon points="439.1,125.2 444.1,126.0 441.1,122.5 436.1,121.7" fill="#f99808"/><polygon points="408.7,109.9 413.9,110.2 411.0,106.7 405.9,106.3" fill="#ff3c0d"/><polygon points="431.5,121.3 436.6,121.9 433.6,118.4 428.5,117.7" fill="#fc8109"/><polygon points="416.3,113.6 421.4,114.1 418.5,110.5 413.4,110.0" fill="#ff530c"/><polygon points="423.9,117.4 429.0,118.0 426.1,114.4 421.0,113.8" fill="#ff6a0a"/><polygon points="495.0,158.4 499.8,159.8 496.7,156.4 491.8,155.0" fill="#7fe103"/><polygon points="358.3,89.6 363.6,89.2 360.8,85.6 355.6,85.9" fill="#ff1c1c"/><polygon points="487.4,154.0 492.3,155.2 489.2,151.8 484.3,150.5" fill="#9ee403"/><polygon points="365.9,92.7 371.1,92.5 368.4,88.8 363.1,89.0" fill="#ff1919"/><polygon points="479.8,149.5 484.7,150.7 481.6,147.3 476.7,146.0" fill="#bce804"/><polygon points="373.5,95.9 378.7,95.8 375.9,92.2 370.7,92.3" fill="#ff1717"/><polygon points="472.2,145.2 477.2,146.3 474.1,142.8 469.2,141.7" fill="#daeb05"/><polygon points="381.0,99.2 386.3,99.2 383.5,95.6 378.2,95.6" fill="#ff1515"/><polygon points="464.7,140.9 469.6,141.9 466.6,138.4 461.6,137.4" fill="#efe505"/><polygon points="388.6,102.6 393.9,102.7 391.0,99.1 385.8,99.0" fill="#ff1313"/><polygon points="457.1,136.7 462.1,137.7 459.0,134.2 454.0,133.2" fill="#f2ce06"/><polygon points="396.2,106.1 401.4,106.2 398.6,102.6 393.4,102.5" fill="#ff1b11"/><polygon points="449.5,132.6 454.5,133.5 451.5,129.9 446.5,129.1" fill="#f6b607"/><polygon points="403.8,109.6 409.0,109.9 406.1,106.3 401.0,106.0" fill="#ff2f0f"/><polygon points="441.9,128.6 446.9,129.3 443.9,125.8 438.9,125.0" fill="#f99f08"/><polygon points="411.4,113.3 416.6,113.6 413.7,110.0 408.6,109.7" fill="#ff440e"/><polygon points="434.3,124.6 439.3,125.3 436.4,121.7 431.3,121.1" fill="#fd8809"/><polygon points="419.1,117.0 424.2,117.4 421.3,113.9 416.1,113.4" fill="#ff5a0c"/><polygon points="426.7,120.8 431.8,121.3 428.8,117.8 423.7,117.2" fill="#ff710b"/><polygon points="353.3,90.0 358.6,89.6 355.9,85.9 350.6,86.3" fill="#ff1f1f"/><polygon points="360.9,93.1 366.2,92.7 363.4,89.0 358.1,89.4" fill="#ff1c1c"/><polygon points="497.9,161.7 502.8,163.1 499.6,159.6 494.8,158.3" fill="#7be103"/><polygon points="368.5,96.2 373.7,95.9 371.0,92.3 365.7,92.5" fill="#ff1a1a"/><polygon points="490.4,157.3 495.2,158.5 492.1,155.0 487.2,153.8" fill="#99e503"/><polygon points="376.1,99.4 381.3,99.2 378.5,95.6 373.3,95.7" fill="#ff1717"/><polygon points="482.8,152.9 487.7,154.0 484.6,150.5 479.7,149.3" fill="#b7e804"/><polygon points="383.7,102.7 388.9,102.6 386.1,99.0 380.9,99.0" fill="#ff1515"/><polygon points="475.2,148.5 480.1,149.6 477.0,146.1 472.1,145.0" fill="#d5ec05"/><polygon points="391.3,106.1 396.5,106.1 393.7,102.5 388.5,102.4" fill="#ff1313"/><polygon points="467.6,144.3 472.5,145.3 469.5,141.7 464.5,140.7" fill="#efeb05"/><polygon points="398.9,109.5 404.1,109.7 401.3,106.0 396.1,105.9" fill="#ff2311"/><polygon points="459.9,140.1 464.9,141.0 461.9,137.5 456.9,136.5" fill="#f3d406"/><polygon points="406.6,113.1 411.7,113.3 408.9,109.7 403.7,109.4" fill="#ff370f"/><polygon points="452.3,136.0 457.4,136.8 454.3,133.3 449.3,132.4" fill="#f6bd07"/><polygon points="414.2,116.7 419.3,117.0 416.4,113.4 411.3,113.1" fill="#ff4c0e"/><polygon points="444.7,132.0 449.8,132.7 446.8,129.1 441.7,128.4" fill="#faa608"/><polygon points="421.8,120.4 427.0,120.8 424.0,117.2 418.9,116.8" fill="#ff610c"/><polygon points="437.1,128.0 442.2,128.6 439.2,125.1 434.1,124.4" fill="#fd900a"/><polygon points="429.4,124.2 434.6,124.7 431.6,121.1 426.5,120.6" fill="#ff780b"/><polygon points="348.3,90.6 353.6,90.0 350.9,86.3 345.6,86.9" fill="#ff2222"/><polygon points="355.9,93.6 361.2,93.1 358.4,89.4 353.1,89.8" fill="#ff1f1f"/><polygon points="363.5,96.6 368.8,96.2 366.0,92.5 360.7,92.9" fill="#ff1d1d"/><polygon points="500.9,165.1 505.8,166.4 502.6,162.9 497.8,161.5" fill="#76e203"/><polygon points="371.1,99.7 376.4,99.4 373.6,95.7 368.3,96.0" fill="#ff1a1a"/><polygon points="493.3,160.6 498.2,161.8 495.1,158.3 490.2,157.1" fill="#94e503"/><polygon points="378.7,102.9 384.0,102.7 381.2,99.0 375.9,99.2" fill="#ff1818"/><polygon points="485.7,156.2 490.6,157.3 487.5,153.8 482.6,152.7" fill="#b2e904"/><polygon points="386.4,106.2 391.6,106.1 388.8,102.4 383.5,102.5" fill="#ff1616"/><polygon points="478.1,151.9 483.0,152.9 479.9,149.4 475.0,148.3" fill="#d0ec05"/><polygon points="343.2,91.3 348.6,90.6 345.9,86.8 340.5,87.6" fill="#ff2525"/><polygon points="394.0,109.5 399.2,109.5 396.4,105.9 391.2,105.9" fill="#ff1814"/><polygon points="470.5,147.6 475.4,148.6 472.4,145.1 467.4,144.1" fill="#eef006"/><polygon points="401.6,113.0 406.9,113.1 404.0,109.4 398.8,109.3" fill="#ff2b12"/><polygon points="462.8,143.4 467.8,144.3 464.8,140.8 459.8,139.9" fill="#f4db06"/><polygon points="409.3,116.5 414.5,116.7 411.6,113.1 406.4,112.9" fill="#ff3e10"/><polygon points="455.2,139.4 460.2,140.1 457.2,136.6 452.2,135.8" fill="#f7c407"/><polygon points="416.9,120.1 422.1,120.4 419.2,116.8 414.0,116.5" fill="#ff530e"/><polygon points="350.8,94.2 356.2,93.5 353.4,89.8 348.1,90.4" fill="#ff2222"/><polygon points="447.5,135.3 452.6,136.0 449.6,132.5 444.5,131.8" fill="#fbad09"/><polygon points="424.6,123.8 429.7,124.2 426.8,120.6 421.6,120.2" fill="#ff690d"/><polygon points="439.9,131.4 445.0,132.0 442.0,128.4 436.9,127.8" fill="#fe970a"/><polygon points="432.2,127.6 437.4,128.1 434.4,124.5 429.3,124.0" fill="#ff800b"/><polygon points="358.5,97.1 363.8,96.6 361.0,92.8 355.7,93.4" fill="#ff2020"/><polygon points="366.1,100.1 371.4,99.7 368.6,96.0 363.3,96.4" fill="#ff1d1d"/><polygon points="373.7,103.2 379.0,102.9 376.2,99.2 370.9,99.5" fill="#ff1b1b"/><polygon points="504.0,168.4 508.8,169.7 505.6,166.2 500.8,164.9" fill="#72e203"/><polygon points="338.2,92.1 343.5,91.3 340.8,87.5 335.5,88.3" fill="#ff2828"/><polygon points="381.4,106.4 386.7,106.2 383.8,102.5 378.6,102.7" fill="#ff1818"/><polygon points="496.3,163.9 501.2,165.1 498.0,161.6 493.2,160.4" fill="#90e604"/><polygon points="389.0,109.7 394.3,109.5 391.4,105.9 386.2,106.0" fill="#ff1616"/><polygon points="488.7,159.5 493.6,160.7 490.5,157.1 485.5,156.0" fill="#ade904"/><polygon points="345.8,94.9 351.1,94.1 348.4,90.4 343.1,91.1" fill="#ff2626"/><polygon points="396.7,113.0 401.9,113.0 399.1,109.3 393.8,109.3" fill="#ff2014"/><polygon points="481.0,155.2 486.0,156.2 482.9,152.7 477.9,151.7" fill="#cbed05"/><polygon points="404.4,116.4 409.6,116.5 406.7,112.9 401.5,112.8" fill="#ff3312"/><polygon points="473.4,151.0 478.4,151.9 475.3,148.4 470.3,147.4" fill="#e9f106"/><polygon points="412.0,119.9 417.2,120.1 414.3,116.5 409.1,116.3" fill="#ff4610"/><polygon points="465.7,146.8 470.8,147.7 467.7,144.1 462.7,143.2" fill="#f4e107"/><polygon points="353.4,97.7 358.8,97.1 356.0,93.3 350.7,94.0" fill="#ff2323"/><polygon points="419.7,123.5 424.9,123.8 421.9,120.2 416.8,119.9" fill="#ff5a0e"/><polygon points="458.1,142.7 463.1,143.5 460.1,139.9 455.0,139.2" fill="#f8cb08"/><polygon points="427.4,127.2 432.5,127.6 429.6,124.0 424.4,123.6" fill="#ff700d"/><polygon points="450.4,138.7 455.5,139.4 452.4,135.8 447.4,135.1" fill="#fbb409"/><polygon points="435.1,131.0 440.2,131.4 437.2,127.9 432.1,127.4" fill="#ff870b"/><polygon points="442.7,134.8 447.8,135.4 444.8,131.8 439.7,131.2" fill="#ff9e0a"/><polygon points="361.1,100.6 366.4,100.1 363.6,96.4 358.3,96.9" fill="#ff2020"/><polygon points="333.1,93.1 338.5,92.1 335.8,88.3 330.4,89.3" fill="#ff2c2c"/><polygon points="368.7,103.6 374.0,103.2 371.2,99.5 365.9,99.9" fill="#ff1e1e"/><polygon points="376.4,106.7 381.7,106.4 378.9,102.7 373.6,103.0" fill="#ff1b1b"/><polygon points="340.7,95.7 346.1,94.8 343.4,91.1 338.0,91.9" fill="#ff2929"/><polygon points="507.0,171.7 511.9,173.0 508.6,169.5 503.8,168.2" fill="#6de303"/><polygon points="384.1,109.9 389.3,109.6 386.5,106.0 381.2,106.2" fill="#ff1919"/><polygon points="499.4,167.3 504.2,168.5 501.0,164.9 496.2,163.7" fill="#8be604"/><polygon points="391.7,113.2 397.0,113.0 394.1,109.3 388.9,109.4" fill="#ff1716"/><polygon points="348.4,98.5 353.7,97.7 351.0,93.9 345.6,94.7" fill="#ff2626"/><polygon points="491.7,162.9 496.6,164.0 493.4,160.5 488.5,159.3" fill="#a9ea04"/><polygon points="399.4,116.5 404.7,116.4 401.8,112.8 396.5,112.8" fill="#ff2814"/><polygon points="484.0,158.6 489.0,159.6 485.8,156.0 480.9,155.0" fill="#c6ee05"/><polygon points="407.1,119.9 412.3,120.0 409.4,116.3 404.2,116.2" fill="#ff3a12"/><polygon points="356.0,101.3 361.4,100.6 358.6,96.8 353.3,97.5" fill="#ff2323"/><polygon points="476.3,154.4 481.3,155.3 478.2,151.7 473.2,150.8" fill="#e4f106"/><polygon points="414.8,123.4 420.0,123.6 417.1,119.9 411.9,119.7" fill="#ff4e10"/><polygon points="468.7,150.2 473.7,151.0 470.6,147.5 465.6,146.6" fill="#f5e807"/><polygon points="328.0,94.2 333.4,93.0 330.7,89.2 325.3,90.3" fill="#ff2f2f"/><polygon points="422.5,127.0 427.7,127.2 424.7,123.6 419.5,123.3" fill="#ff620f"/><polygon points="461.0,146.1 466.0,146.9 462.9,143.3 457.9,142.5" fill="#f8d108"/><polygon points="430.2,130.7 435.3,131.0 432.4,127.4 427.2,127.0" fill="#ff770d"/><polygon points="453.3,142.2 458.4,142.8 455.3,139.2 450.2,138.5" fill="#fcbb09"/><polygon points="437.9,134.4 443.0,134.9 440.0,131.2 434.9,130.8" fill="#ff8e0c"/><polygon points="445.6,138.2 450.7,138.8 447.7,135.2 442.6,134.6" fill="#ffa50a"/><polygon points="363.7,104.2 369.0,103.6 366.2,99.9 360.9,100.4" fill="#ff2121"/><polygon points="335.6,96.7 341.0,95.7 338.3,91.9 332.9,92.9" fill="#ff2d2d"/><polygon points="371.4,107.2 376.7,106.7 373.9,103.0 368.6,103.4" fill="#ff1e1e"/><polygon points="379.1,110.3 384.4,109.9 381.5,106.2 376.2,106.5" fill="#ff1c1c"/><polygon points="343.3,99.4 348.7,98.4 345.9,94.6 340.6,95.5" fill="#ff2a2a"/><polygon points="386.8,113.4 392.0,113.1 389.2,109.4 383.9,109.7" fill="#ff1919"/><polygon points="510.1,175.1 514.9,176.3 511.7,172.8 506.8,171.5" fill="#69e303"/><polygon points="322.9,95.4 328.3,94.1 325.6,90.2 320.2,91.5" fill="#ff3333"/><polygon points="394.5,116.7 399.7,116.5 396.8,112.8 391.6,112.9" fill="#ff1f17"/><polygon points="351.0,102.1 356.3,101.3 353.6,97.5 348.2,98.3" fill="#ff2727"/><polygon points="502.4,170.6 507.3,171.8 504.1,168.3 499.2,167.1" fill="#86e704"/><polygon points="402.2,120.0 407.4,119.9 404.5,116.2 399.3,116.3" fill="#ff3015"/><polygon points="494.7,166.3 499.6,167.3 496.4,163.8 491.5,162.7" fill="#a4ea04"/><polygon points="409.9,123.4 415.1,123.4 412.2,119.7 406.9,119.7" fill="#ff4213"/><polygon points="487.0,162.0 492.0,162.9 488.8,159.4 483.8,158.4" fill="#c1ee05"/><polygon points="358.6,104.9 364.0,104.2 361.2,100.4 355.9,101.1" fill="#ff2424"/><polygon points="417.6,126.9 422.8,127.0 419.8,123.4 414.6,123.2" fill="#ff5511"/><polygon points="330.5,97.8 335.9,96.7 333.2,92.8 327.8,94.0" fill="#ff3030"/><polygon points="479.3,157.8 484.3,158.6 481.2,155.1 476.2,154.2" fill="#dff206"/><polygon points="425.3,130.5 430.5,130.7 427.5,127.0 422.3,126.8" fill="#ff690f"/><polygon points="471.6,153.6 476.6,154.4 473.5,150.8 468.5,150.0" fill="#f5ee07"/><polygon points="433.0,134.1 438.2,134.4 435.2,130.8 430.0,130.5" fill="#ff7e0d"/><polygon points="463.9,149.6 468.9,150.3 465.8,146.7 460.8,145.9" fill="#f9d808"/><polygon points="440.7,137.9 445.9,138.3 442.9,134.6 437.7,134.2" fill="#ff950c"/><polygon points="456.2,145.6 461.3,146.2 458.2,142.6 453.1,141.9" fill="#fcc209"/><polygon points="448.5,141.7 453.6,142.2 450.5,138.6 445.4,138.0" fill="#ffac0a"/><polygon points="366.3,107.8 371.7,107.2 368.9,103.4 363.5,104.0" fill="#ff2121"/><polygon points="338.2,100.4 343.6,99.3 340.9,95.5 335.5,96.5" fill="#ff2d2d"/><polygon points="374.0,110.8 379.4,110.2 376.5,106.5 371.2,107.0" fill="#ff1f1f"/><polygon points="317.8,96.7 323.2,95.3 320.5,91.4 315.1,92.8" fill="#ff3737"/><polygon points="381.7,113.8 387.1,113.4 384.2,109.7 378.9,110.1" fill="#ff1c1c"/><polygon points="345.9,103.0 351.3,102.0 348.5,98.2 343.1,99.1" fill="#ff2a2a"/><polygon points="389.5,117.0 394.8,116.7 391.9,112.9 386.6,113.2" fill="#ff1a1a"/><polygon points="325.4,99.1 330.8,97.8 328.2,93.9 322.7,95.2" fill="#ff3434"/><polygon points="513.1,178.5 518.0,179.7 514.7,176.1 509.9,174.9" fill="#65e403"/><polygon points="353.6,105.7 358.9,104.8 356.2,101.0 350.8,101.9" fill="#ff2727"/><polygon points="397.2,120.2 402.5,120.0 399.6,116.3 394.3,116.5" fill="#ff2717"/><polygon points="505.4,174.0 510.3,175.2 507.1,171.6 502.2,170.4" fill="#82e704"/><polygon points="404.9,123.5 410.2,123.4 407.2,119.7 402.0,119.8" fill="#ff3815"/><polygon points="497.7,169.7 502.7,170.7 499.4,167.1 494.5,166.1" fill="#9feb04"/><polygon points="361.3,108.5 366.6,107.7 363.8,104.0 358.5,104.7" fill="#ff2525"/><polygon points="412.6,126.9 417.9,126.9 414.9,123.2 409.7,123.2" fill="#ff4a13"/><polygon points="333.1,101.5 338.5,100.3 335.8,96.4 330.4,97.6" fill="#ff3131"/><polygon points="490.0,165.4 495.0,166.3 491.8,162.7 486.8,161.8" fill="#bcef05"/><polygon points="420.4,130.4 425.6,130.5 422.6,126.8 417.4,126.7" fill="#ff5c11"/><polygon points="312.6,98.2 318.1,96.6 315.4,92.7 310.0,94.2" fill="#ff3b3b"/><polygon points="482.3,161.2 487.3,162.0 484.1,158.4 479.1,157.6" fill="#daf206"/><polygon points="428.1,133.9 433.3,134.1 430.3,130.5 425.1,130.3" fill="#ff700f"/><polygon points="474.6,157.0 479.6,157.8 476.4,154.2 471.4,153.4" fill="#f6f507"/><polygon points="435.9,137.6 441.0,137.9 438.0,134.2 432.8,133.9" fill="#ff850e"/><polygon points="369.0,111.4 374.3,110.7 371.5,106.9 366.2,107.6" fill="#ff2222"/><polygon points="466.8,153.0 471.9,153.7 468.8,150.1 463.7,149.4" fill="#f9df08"/><polygon points="443.6,141.3 448.7,141.7 445.7,138.1 440.6,137.7" fill="#ff9b0c"/><polygon points="459.1,149.0 464.2,149.6 461.1,146.0 456.0,145.4" fill="#fdc909"/><polygon points="451.3,145.1 456.5,145.6 453.4,142.0 448.3,141.5" fill="#ffb20b"/><polygon points="340.8,104.0 346.2,102.9 343.4,99.1 338.1,100.1" fill="#ff2e2e"/><polygon points="376.7,114.3 382.0,113.8 379.2,110.0 373.9,110.5" fill="#ff1f1f"/><polygon points="320.3,100.4 325.7,99.0 323.0,95.1 317.6,96.5" fill="#ff3838"/><polygon points="384.4,117.4 389.8,116.9 386.9,113.2 381.6,113.6" fill="#ff1d1d"/><polygon points="348.5,106.6 353.9,105.6 351.1,101.8 345.7,102.8" fill="#ff2b2b"/><polygon points="392.2,120.5 397.5,120.2 394.6,116.4 389.3,116.8" fill="#ff201a"/><polygon points="328.0,102.7 333.4,101.4 330.7,97.5 325.3,98.8" fill="#ff3535"/><polygon points="307.5,99.7 312.9,98.1 310.3,94.1 304.9,95.8" fill="#ff3e3e"/><polygon points="356.2,109.3 361.6,108.4 358.8,104.6 353.4,105.5" fill="#ff2828"/><polygon points="399.9,123.7 405.2,123.5 402.3,119.8 397.0,120.0" fill="#ff2f18"/><polygon points="516.2,181.8 521.1,183.0 517.8,179.5 512.9,178.3" fill="#60e403"/><polygon points="407.7,127.0 412.9,126.9 410.0,123.2 404.7,123.3" fill="#ff4015"/><polygon points="508.5,177.4 513.4,178.5 510.2,174.9 505.2,173.8" fill="#7de804"/><polygon points="363.9,112.1 369.3,111.3 366.5,107.5 361.1,108.3" fill="#ff2525"/><polygon points="335.7,105.2 341.1,104.0 338.4,100.1 332.9,101.3" fill="#ff3232"/><polygon points="415.4,130.4 420.7,130.4 417.7,126.7 412.5,126.7" fill="#ff5113"/><polygon points="500.8,173.1 505.7,174.1 502.5,170.5 497.5,169.5" fill="#9aec05"/><polygon points="315.2,101.9 320.6,100.3 317.9,96.4 312.5,97.9" fill="#ff3b3b"/><polygon points="423.2,133.9 428.4,134.0 425.4,130.3 420.2,130.2" fill="#ff6411"/><polygon points="493.0,168.8 498.0,169.7 494.8,166.1 489.8,165.2" fill="#b8ef05"/><polygon points="431.0,137.4 436.2,137.6 433.1,133.9 428.0,133.7" fill="#ff7810"/><polygon points="371.7,115.0 377.0,114.3 374.2,110.5 368.8,111.2" fill="#ff2222"/><polygon points="485.3,164.6 490.3,165.4 487.1,161.8 482.1,161.0" fill="#d5f306"/><polygon points="438.7,141.1 443.9,141.3 440.9,137.7 435.7,137.4" fill="#ff8c0e"/><polygon points="477.5,160.5 482.6,161.2 479.4,157.6 474.4,156.8" fill="#f2f607"/><polygon points="446.5,144.8 451.6,145.2 448.6,141.5 443.4,141.1" fill="#ffa20c"/><polygon points="469.8,156.4 474.8,157.1 471.7,153.5 466.6,152.8" fill="#fae508"/><polygon points="343.4,107.7 348.8,106.6 346.0,102.7 340.6,103.8" fill="#ff2f2f"/><polygon points="454.2,148.6 459.4,149.0 456.3,145.4 451.2,144.9" fill="#ffb90b"/><polygon points="462.0,152.5 467.1,153.0 464.0,149.4 458.9,148.8" fill="#fdd00a"/><polygon points="302.3,101.4 307.8,99.6 305.2,95.7 299.7,97.4" fill="#ff4242"/><polygon points="379.4,117.9 384.7,117.4 381.9,113.6 376.5,114.1" fill="#ff2020"/><polygon points="322.8,104.1 328.3,102.7 325.6,98.8 320.1,100.2" fill="#ff3838"/><polygon points="351.1,110.3 356.5,109.3 353.7,105.4 348.3,106.4" fill="#ff2c2c"/><polygon points="387.2,121.0 392.5,120.5 389.6,116.7 384.3,117.2" fill="#ff1d1d"/><polygon points="394.9,124.1 400.2,123.7 397.3,120.0 392.0,120.3" fill="#ff281b"/><polygon points="330.5,106.5 336.0,105.1 333.3,101.2 327.8,102.5" fill="#ff3535"/><polygon points="310.0,103.5 315.5,101.8 312.8,97.8 307.3,99.5" fill="#ff3f3f"/><polygon points="358.8,113.0 364.2,112.1 361.4,108.2 356.0,109.1" fill="#ff2929"/><polygon points="402.7,127.3 408.0,127.0 405.0,123.3 399.8,123.5" fill="#ff3718"/><polygon points="297.2,103.3 302.6,101.3 300.0,97.3 294.5,99.3" fill="#ff4646"/><polygon points="519.3,185.2 524.2,186.4 520.9,182.8 516.0,181.6" fill="#5ce503"/><polygon points="410.5,130.6 415.7,130.4 412.8,126.7 407.5,126.8" fill="#ff4716"/><polygon points="366.6,115.7 372.0,114.9 369.1,111.1 363.8,111.9" fill="#ff2626"/><polygon points="338.3,108.9 343.7,107.6 340.9,103.7 335.5,105.0" fill="#ff3232"/><polygon points="317.7,105.6 323.1,104.0 320.5,100.1 315.0,101.7" fill="#ff3c3c"/><polygon points="511.6,180.8 516.5,181.9 513.2,178.3 508.3,177.2" fill="#79e904"/><polygon points="418.2,134.0 423.5,133.9 420.5,130.2 415.3,130.2" fill="#ff5914"/><polygon points="503.8,176.5 508.8,177.5 505.5,173.9 500.6,172.9" fill="#96ec05"/><polygon points="426.0,137.4 431.2,137.4 428.2,133.7 423.0,133.7" fill="#ff6b12"/><polygon points="374.3,118.6 379.7,117.9 376.8,114.1 371.5,114.8" fill="#ff2323"/><polygon points="496.1,172.2 501.1,173.1 497.8,169.5 492.8,168.6" fill="#b3f006"/><polygon points="433.8,141.0 439.0,141.1 436.0,137.4 430.8,137.2" fill="#ff7f10"/><polygon points="346.0,111.4 351.4,110.2 348.6,106.3 343.2,107.5" fill="#ff2f2f"/><polygon points="488.3,168.0 493.3,168.8 490.1,165.2 485.1,164.4" fill="#d0f306"/><polygon points="441.6,144.6 446.8,144.8 443.7,141.1 438.5,140.9" fill="#ff930e"/><polygon points="480.5,163.9 485.6,164.6 482.4,161.0 477.4,160.3" fill="#ecf707"/><polygon points="449.4,148.3 454.5,148.6 451.5,144.9 446.3,144.6" fill="#ffa90d"/><polygon points="304.8,105.2 310.3,103.4 307.7,99.4 302.2,101.2" fill="#ff4343"/><polygon points="472.7,159.9 477.8,160.5 474.7,156.9 469.6,156.2" fill="#faec09"/><polygon points="457.2,152.1 462.3,152.5 459.2,148.8 454.1,148.4" fill="#ffc00b"/><polygon points="465.0,155.9 470.1,156.5 466.9,152.8 461.8,152.3" fill="#fed70a"/><polygon points="325.4,107.9 330.8,106.4 328.1,102.4 322.7,103.9" fill="#ff3939"/><polygon points="382.1,121.5 387.5,120.9 384.6,117.1 379.2,117.7" fill="#ff2020"/><polygon points="292.0,105.3 297.5,103.2 294.9,99.1 289.4,101.2" fill="#ff4949"/><polygon points="353.7,114.0 359.1,112.9 356.3,109.1 350.9,110.1" fill="#ff2c2c"/><polygon points="389.9,124.6 395.2,124.1 392.3,120.3 387.0,120.7" fill="#ff221e"/><polygon points="312.5,107.3 318.0,105.5 315.3,101.6 309.9,103.3" fill="#ff4040"/><polygon points="333.1,110.2 338.6,108.8 335.8,104.9 330.4,106.2" fill="#ff3636"/><polygon points="397.7,127.7 403.0,127.3 400.1,123.5 394.7,123.9" fill="#ff301b"/><polygon points="361.5,116.6 366.9,115.7 364.1,111.8 358.7,112.7" fill="#ff2929"/><polygon points="405.5,130.9 410.8,130.6 407.8,126.8 402.5,127.1" fill="#ff3f19"/><polygon points="299.7,107.1 305.1,105.1 302.5,101.1 297.0,103.1" fill="#ff4747"/><polygon points="413.3,134.1 418.5,133.9 415.6,130.2 410.3,130.4" fill="#ff4f16"/><polygon points="340.8,112.6 346.3,111.3 343.5,107.4 338.1,108.6" fill="#ff3333"/><polygon points="369.3,119.4 374.6,118.5 371.8,114.7 366.4,115.5" fill="#ff2626"/><polygon points="320.2,109.4 325.7,107.8 323.0,103.8 317.5,105.4" fill="#ff3d3d"/><polygon points="522.5,188.7 527.4,189.8 524.0,186.2 519.2,185.0" fill="#58e503"/><polygon points="286.8,107.3 292.3,105.1 289.7,101.1 284.2,103.3" fill="#ff4d4d"/><polygon points="421.1,137.5 426.3,137.4 423.3,133.7 418.1,133.7" fill="#ff6014"/><polygon points="514.7,184.2 519.6,185.3 516.3,181.7 511.4,180.6" fill="#74e904"/><polygon points="428.9,140.9 434.1,141.0 431.1,137.2 425.8,137.2" fill="#ff7212"/><polygon points="377.0,122.2 382.4,121.5 379.5,117.7 374.2,118.4" fill="#ff2424"/><polygon points="506.9,179.9 511.9,180.9 508.6,177.3 503.6,176.3" fill="#91ed05"/><polygon points="436.7,144.5 441.9,144.6 438.8,140.9 433.6,140.7" fill="#ff8610"/><polygon points="348.6,115.1 354.0,113.9 351.2,110.0 345.8,111.1" fill="#ff3030"/><polygon points="307.4,109.0 312.8,107.2 310.2,103.2 304.7,105.0" fill="#ff4444"/><polygon points="499.1,175.7 504.1,176.5 500.9,172.9 495.9,172.0" fill="#aef006"/><polygon points="444.5,148.1 449.7,148.3 446.6,144.6 441.4,144.4" fill="#ff9a0e"/><polygon points="491.3,171.5 496.4,172.3 493.1,168.6 488.1,167.8" fill="#cbf407"/><polygon points="328.0,111.6 333.4,110.1 330.7,106.2 325.2,107.6" fill="#ff3a3a"/><polygon points="452.3,151.8 457.5,152.1 454.4,148.4 449.2,148.1" fill="#ffb00d"/><polygon points="483.5,167.4 488.6,168.1 485.4,164.4 480.3,163.7" fill="#e7f708"/><polygon points="460.1,155.6 465.2,156.0 462.1,152.3 457.0,151.9" fill="#ffc60b"/><polygon points="384.8,125.2 390.2,124.5 387.3,120.7 381.9,121.3" fill="#ff2121"/><polygon points="475.7,163.4 480.8,164.0 477.6,160.3 472.6,159.7" fill="#fbf209"/><polygon points="467.9,159.4 473.0,159.9 469.9,156.3 464.8,155.7" fill="#ffdd0a"/><polygon points="294.5,109.1 300.0,107.0 297.3,102.9 291.8,105.0" fill="#ff4a4a"/><polygon points="356.4,117.6 361.8,116.6 359.0,112.7 353.6,113.7" fill="#ff2d2d"/><polygon points="281.6,109.6 287.1,107.2 284.5,103.1 279.0,105.4" fill="#ff5050"/><polygon points="392.6,128.2 398.0,127.6 395.1,123.8 389.7,124.3" fill="#ff2a1e"/><polygon points="315.1,111.1 320.5,109.3 317.8,105.3 312.4,107.1" fill="#ff4141"/><polygon points="335.7,113.9 341.2,112.5 338.4,108.6 333.0,110.0" fill="#ff3737"/><polygon points="400.4,131.3 405.8,130.8 402.8,127.1 397.5,127.5" fill="#ff381c"/><polygon points="364.1,120.3 369.6,119.3 366.7,115.5 361.3,116.4" fill="#ff2a2a"/><polygon points="302.2,110.9 307.7,108.9 305.0,104.9 299.5,106.9" fill="#ff4848"/><polygon points="408.2,134.4 413.6,134.1 410.6,130.4 405.3,130.6" fill="#ff4719"/><polygon points="343.5,116.3 348.9,115.0 346.1,111.1 340.7,112.4" fill="#ff3434"/><polygon points="289.3,111.2 294.8,109.0 292.2,104.9 286.7,107.1" fill="#ff4e4e"/><polygon points="371.9,123.0 377.3,122.2 374.5,118.3 369.1,119.2" fill="#ff2727"/><polygon points="322.8,113.2 328.3,111.5 325.5,107.6 320.1,109.2" fill="#ff3e3e"/><polygon points="416.1,137.7 421.4,137.5 418.4,133.7 413.1,133.9" fill="#ff5617"/><polygon points="276.4,111.9 281.9,109.4 279.3,105.3 273.8,107.8" fill="#ff5454"/><polygon points="423.9,141.1 429.2,140.9 426.1,137.2 420.9,137.3" fill="#ff6715"/><polygon points="525.6,192.1 530.5,193.2 527.2,189.6 522.3,188.4" fill="#53e604"/><polygon points="379.7,125.9 385.1,125.1 382.2,121.3 376.9,122.0" fill="#ff2424"/><polygon points="431.7,144.5 437.0,144.5 433.9,140.7 428.7,140.7" fill="#ff7a12"/><polygon points="517.8,187.7 522.7,188.7 519.4,185.1 514.5,184.0" fill="#70ea04"/><polygon points="309.9,112.9 315.4,111.0 312.7,106.9 307.2,108.8" fill="#ff4545"/><polygon points="351.2,118.8 356.7,117.6 353.9,113.7 348.4,114.8" fill="#ff3131"/><polygon points="439.6,148.0 444.8,148.1 441.7,144.4 436.5,144.3" fill="#ff8d11"/><polygon points="510.0,183.4 515.0,184.3 511.7,180.7 506.7,179.7" fill="#8ded05"/><polygon points="330.5,115.4 336.0,113.8 333.3,109.9 327.8,111.4" fill="#ff3b3b"/><polygon points="447.4,151.6 452.6,151.8 449.5,148.1 444.3,147.9" fill="#ffa10f"/><polygon points="502.2,179.1 507.2,180.0 503.9,176.3 498.9,175.4" fill="#a9f106"/><polygon points="387.6,128.8 392.9,128.1 390.0,124.3 384.7,124.9" fill="#ff2621"/><polygon points="455.2,155.3 460.4,155.6 457.3,151.9 452.1,151.6" fill="#ffb60d"/><polygon points="494.4,174.9 499.4,175.7 496.2,172.1 491.2,171.3" fill="#c6f407"/><polygon points="297.0,113.0 302.5,110.8 299.8,106.8 294.3,108.9" fill="#ff4b4b"/><polygon points="463.1,159.1 468.2,159.4 465.1,155.8 459.9,155.4" fill="#ffcd0c"/><polygon points="486.6,170.9 491.6,171.5 488.4,167.9 483.4,167.2" fill="#e2f808"/><polygon points="470.9,162.9 476.0,163.4 472.9,159.7 467.7,159.2" fill="#ffe40a"/><polygon points="478.7,166.8 483.8,167.4 480.6,163.7 475.5,163.2" fill="#fcf909"/><polygon points="284.1,113.5 289.6,111.1 287.0,107.0 281.5,109.3" fill="#ff5151"/><polygon points="271.2,114.4 276.7,111.8 274.1,107.6 268.6,110.2" fill="#ff5757"/><polygon points="359.0,121.3 364.5,120.2 361.6,116.3 356.2,117.4" fill="#ff2e2e"/><polygon points="395.4,131.8 400.7,131.2 397.8,127.4 392.5,127.9" fill="#ff321f"/><polygon points="317.6,114.9 323.1,113.1 320.4,109.1 314.9,110.8" fill="#ff4242"/><polygon points="338.3,117.7 343.8,116.2 341.0,112.3 335.5,113.7" fill="#ff3838"/><polygon points="403.2,134.9 408.5,134.4 405.6,130.6 400.3,131.0" fill="#ff401c"/><polygon points="366.8,124.0 372.2,123.0 369.4,119.1 364.0,120.1" fill="#ff2b2b"/><polygon points="304.7,114.8 310.2,112.8 307.5,108.7 302.0,110.7" fill="#ff4949"/><polygon points="411.1,138.0 416.4,137.7 413.4,133.9 408.1,134.2" fill="#ff4e1a"/><polygon points="291.8,115.1 297.3,112.8 294.6,108.7 289.1,111.0" fill="#ff4f4f"/><polygon points="266.0,117.0 271.5,114.2 268.9,110.1 263.4,112.8" fill="#ff5959"/><polygon points="346.1,120.0 351.5,118.7 348.8,114.8 343.3,116.1" fill="#ff3535"/><polygon points="325.4,117.0 330.8,115.3 328.1,111.3 322.6,113.0" fill="#ff3f3f"/><polygon points="278.9,115.8 284.4,113.3 281.8,109.2 276.3,111.7" fill="#ff5454"/><polygon points="374.6,126.7 380.0,125.8 377.2,122.0 371.8,122.8" fill="#ff2828"/><polygon points="418.9,141.3 424.2,141.1 421.2,137.3 415.9,137.5" fill="#ff5e17"/><polygon points="426.7,144.6 432.0,144.5 429.0,140.7 423.7,140.9" fill="#ff6f15"/><polygon points="312.4,116.7 317.9,114.8 315.2,110.7 309.7,112.6" fill="#ff4646"/><polygon points="528.8,195.5 533.7,196.6 530.3,193.0 525.4,191.9" fill="#4fe704"/><polygon points="382.5,129.5 387.9,128.7 385.0,124.9 379.6,125.7" fill="#ff2525"/><polygon points="353.9,122.5 359.3,121.3 356.5,117.4 351.1,118.6" fill="#ff3232"/><polygon points="434.6,148.1 439.9,148.0 436.8,144.3 431.6,144.3" fill="#ff8113"/><polygon points="521.0,191.1 525.9,192.1 522.6,188.5 517.6,187.5" fill="#6cea04"/><polygon points="333.1,119.2 338.6,117.6 335.9,113.6 330.4,115.2" fill="#ff3c3c"/><polygon points="442.5,151.6 447.7,151.6 444.6,147.9 439.4,147.8" fill="#ff9411"/><polygon points="260.8,119.7 266.3,116.8 263.8,112.6 258.2,115.5" fill="#ff5c5c"/><polygon points="299.5,116.8 305.0,114.7 302.3,110.6 296.8,112.7" fill="#ff4c4c"/><polygon points="513.1,186.8 518.1,187.7 514.8,184.1 509.8,183.2" fill="#88ee05"/><polygon points="450.3,155.2 455.5,155.3 452.4,151.6 447.2,151.4" fill="#ffa80f"/><polygon points="390.3,132.4 395.7,131.8 392.8,127.9 387.4,128.6" fill="#ff2e22"/><polygon points="505.3,182.6 510.3,183.4 507.0,179.8 502.0,178.9" fill="#a4f106"/><polygon points="273.7,118.4 279.2,115.7 276.6,111.5 271.1,114.2" fill="#ff5757"/><polygon points="286.6,117.4 292.1,115.0 289.4,110.9 283.9,113.2" fill="#ff5252"/><polygon points="458.2,158.8 463.4,159.1 460.2,155.4 455.1,155.1" fill="#ffbd0d"/><polygon points="497.5,178.4 502.5,179.2 499.2,175.5 494.2,174.7" fill="#c1f507"/><polygon points="466.0,162.6 471.2,162.9 468.0,159.2 462.9,158.9" fill="#ffd30c"/><polygon points="361.7,125.1 367.1,123.9 364.3,120.0 358.9,121.1" fill="#ff2e2e"/><polygon points="489.6,174.3 494.7,175.0 491.4,171.3 486.4,170.6" fill="#ddf908"/><polygon points="473.9,166.4 479.0,166.9 475.8,163.2 470.7,162.7" fill="#ffea0a"/><polygon points="481.8,170.3 486.8,170.9 483.6,167.2 478.6,166.6" fill="#f9fc09"/><polygon points="320.2,118.7 325.7,116.9 322.9,112.9 317.5,114.6" fill="#ff4343"/><polygon points="398.2,135.4 403.5,134.8 400.6,131.0 395.2,131.6" fill="#ff3a1f"/><polygon points="340.9,121.4 346.4,120.0 343.6,116.0 338.1,117.4" fill="#ff3939"/><polygon points="255.6,122.6 261.1,119.6 258.5,115.3 253.0,118.3" fill="#ff5e5e"/><polygon points="369.5,127.7 374.9,126.7 372.1,122.8 366.7,123.8" fill="#ff2b2b"/><polygon points="406.0,138.5 411.4,138.0 408.4,134.2 403.0,134.7" fill="#ff471d"/><polygon points="307.2,118.6 312.7,116.6 310.0,112.5 304.5,114.6" fill="#ff4949"/><polygon points="268.4,121.0 274.0,118.2 271.4,114.0 265.9,116.8" fill="#ff5a5a"/><polygon points="294.3,119.0 299.8,116.7 297.1,112.6 291.6,114.9" fill="#ff5050"/><polygon points="413.9,141.7 419.2,141.3 416.2,137.5 410.9,137.8" fill="#ff561a"/><polygon points="281.3,119.8 286.9,117.2 284.2,113.1 278.7,115.6" fill="#ff5555"/><polygon points="348.7,123.8 354.2,122.4 351.4,118.5 345.9,119.8" fill="#ff3535"/><polygon points="327.9,120.8 333.4,119.1 330.7,115.1 325.2,116.7" fill="#ff4040"/><polygon points="377.4,130.4 382.8,129.5 379.9,125.6 374.5,126.5" fill="#ff2828"/><polygon points="421.7,144.9 427.0,144.6 424.0,140.8 418.7,141.1" fill="#ff6518"/><polygon points="250.4,125.6 255.9,122.4 253.3,118.2 247.8,121.3" fill="#ff6161"/><polygon points="315.0,120.5 320.5,118.6 317.8,114.5 312.3,116.5" fill="#ff4747"/><polygon points="429.6,148.2 434.9,148.1 431.9,144.3 426.6,144.4" fill="#ff7615"/><polygon points="385.2,133.2 390.6,132.4 387.7,128.5 382.3,129.3" fill="#ff2b25"/><polygon points="356.5,126.2 362.0,125.0 359.2,121.0 353.7,122.3" fill="#ff3232"/><polygon points="335.7,123.0 341.2,121.3 338.5,117.4 333.0,118.9" fill="#ff3d3d"/><polygon points="437.5,151.6 442.8,151.6 439.7,147.8 434.4,147.9" fill="#ff8813"/><polygon points="263.2,123.8 268.8,120.8 266.2,116.6 260.6,119.5" fill="#ff5d5d"/><polygon points="532.0,199.0 536.9,200.1 533.5,196.4 528.6,195.3" fill="#4be704"/><polygon points="302.0,120.7 307.5,118.5 304.8,114.4 299.3,116.6" fill="#ff4d4d"/><polygon points="445.4,155.1 450.6,155.2 447.5,151.4 442.3,151.4" fill="#ff9b11"/><polygon points="524.1,194.6 529.1,195.6 525.7,191.9 520.8,190.9" fill="#67eb04"/><polygon points="276.1,122.3 281.7,119.6 279.0,115.5 273.5,118.1" fill="#ff5858"/><polygon points="289.0,121.3 294.6,118.9 291.9,114.7 286.4,117.2" fill="#ff5353"/><polygon points="393.1,136.1 398.5,135.4 395.5,131.5 390.1,132.2" fill="#ff3622"/><polygon points="453.3,158.7 458.5,158.8 455.3,155.1 450.1,155.0" fill="#ffae0f"/><polygon points="516.3,190.3 521.2,191.2 517.9,187.5 513.0,186.6" fill="#83ee05"/><polygon points="364.4,128.8 369.8,127.6 367.0,123.7 361.5,124.8" fill="#ff2f2f"/><polygon points="461.1,162.4 466.3,162.6 463.2,158.9 458.0,158.6" fill="#ffc30e"/><polygon points="508.4,186.1 513.4,186.9 510.1,183.2 505.1,182.4" fill="#a0f206"/><polygon points="469.0,166.1 474.2,166.5 471.0,162.7 465.9,162.4" fill="#ffd90c"/><polygon points="500.5,181.9 505.6,182.6 502.3,178.9 497.3,178.2" fill="#bcf607"/><polygon points="322.7,122.5 328.3,120.7 325.5,116.6 320.0,118.5" fill="#ff4444"/><polygon points="476.9,170.0 482.0,170.4 478.8,166.7 473.7,166.2" fill="#fff00b"/><polygon points="492.7,177.9 497.7,178.5 494.5,174.8 489.4,174.1" fill="#d8f908"/><polygon points="484.8,173.9 489.9,174.4 486.7,170.7 481.6,170.1" fill="#f4fd09"/><polygon points="343.6,125.2 349.0,123.7 346.2,119.7 340.8,121.2" fill="#ff3939"/><polygon points="400.9,139.1 406.3,138.5 403.3,134.6 398.0,135.2" fill="#ff4220"/><polygon points="258.0,126.7 263.5,123.6 261.0,119.3 255.4,122.4" fill="#ff5f5f"/><polygon points="309.8,122.5 315.3,120.4 312.6,116.4 307.1,118.4" fill="#ff4a4a"/><polygon points="372.2,131.4 377.7,130.3 374.8,126.4 369.4,127.5" fill="#ff2c2c"/><polygon points="408.8,142.1 414.2,141.6 411.2,137.8 405.8,138.3" fill="#ff4f1d"/><polygon points="270.9,125.0 276.4,122.2 273.8,118.0 268.3,120.8" fill="#ff5b5b"/><polygon points="296.8,122.9 302.3,120.6 299.6,116.5 294.1,118.8" fill="#ff5151"/><polygon points="283.8,123.8 289.4,121.2 286.7,117.0 281.2,119.6" fill="#ff5656"/><polygon points="330.5,124.6 336.0,122.9 333.3,118.8 327.8,120.6" fill="#ff4141"/><polygon points="351.4,127.6 356.9,126.2 354.0,122.2 348.6,123.6" fill="#ff3636"/><polygon points="416.7,145.3 422.0,144.9 419.0,141.1 413.7,141.4" fill="#ff5d1a"/><polygon points="380.1,134.1 385.5,133.2 382.6,129.3 377.2,130.2" fill="#ff2929"/><polygon points="252.8,129.7 258.3,126.5 255.7,122.2 250.2,125.4" fill="#ff6161"/><polygon points="424.6,148.5 429.9,148.2 426.9,144.4 421.6,144.7" fill="#ff6d18"/><polygon points="317.5,124.4 323.1,122.4 320.3,118.4 314.8,120.3" fill="#ff4747"/><polygon points="432.5,151.8 437.8,151.6 434.7,147.8 429.4,148.0" fill="#ff7d16"/><polygon points="359.2,130.0 364.7,128.7 361.8,124.8 356.4,126.0" fill="#ff3333"/><polygon points="388.0,136.9 393.4,136.1 390.4,132.2 385.0,133.0" fill="#ff3326"/><polygon points="265.7,127.8 271.2,124.8 268.6,120.6 263.1,123.5" fill="#ff5e5e"/><polygon points="338.4,126.8 343.9,125.1 341.1,121.1 335.6,122.7" fill="#ff3d3d"/><polygon points="304.5,124.6 310.1,122.4 307.4,118.3 301.8,120.5" fill="#ff4e4e"/><polygon points="440.4,155.2 445.7,155.1 442.6,151.4 437.3,151.4" fill="#ff8f14"/><polygon points="278.6,126.3 284.1,123.6 281.5,119.4 276.0,122.1" fill="#ff5959"/><polygon points="291.5,125.3 297.1,122.8 294.4,118.6 288.9,121.1" fill="#ff5454"/><polygon points="535.2,202.5 540.1,203.5 536.7,199.9 531.8,198.8" fill="#47e804"/><polygon points="448.3,158.7 453.6,158.7 450.4,155.0 445.2,154.9" fill="#ffa112"/><polygon points="395.9,139.8 401.2,139.0 398.3,135.2 392.9,135.9" fill="#ff3e23"/><polygon points="527.3,198.1 532.3,199.1 528.9,195.4 523.9,194.4" fill="#63eb05"/><polygon points="456.2,162.3 461.4,162.4 458.3,158.6 453.1,158.5" fill="#ffb510"/><polygon points="367.1,132.5 372.5,131.3 369.7,127.4 364.2,128.6" fill="#ff3030"/><polygon points="325.3,126.4 330.9,124.5 328.1,120.5 322.6,122.3" fill="#ff4444"/><polygon points="519.4,193.8 524.4,194.7 521.1,191.0 516.1,190.1" fill="#7fef05"/><polygon points="464.1,166.0 469.3,166.1 466.2,162.4 461.0,162.2" fill="#ffca0e"/><polygon points="511.6,189.6 516.6,190.4 513.2,186.7 508.2,185.9" fill="#9bf306"/><polygon points="346.2,129.0 351.7,127.5 348.9,123.5 343.4,125.0" fill="#ff3a3a"/><polygon points="472.0,169.7 477.2,170.0 474.0,166.2 468.9,165.9" fill="#ffe00c"/><polygon points="260.4,130.7 266.0,127.6 263.4,123.3 257.8,126.4" fill="#ff6060"/><polygon points="503.7,185.4 508.7,186.1 505.4,182.4 500.4,181.7" fill="#b7f607"/><polygon points="403.8,142.7 409.1,142.1 406.1,138.3 400.8,138.9" fill="#ff4a20"/><polygon points="479.9,173.5 485.1,173.9 481.9,170.2 476.7,169.7" fill="#fff60b"/><polygon points="495.8,181.4 500.8,182.0 497.6,178.3 492.5,177.6" fill="#d3fa08"/><polygon points="487.9,177.4 493.0,177.9 489.7,174.2 484.6,173.7" fill="#eefd0a"/><polygon points="312.3,126.4 317.8,124.3 315.1,120.2 309.6,122.3" fill="#ff4b4b"/><polygon points="375.0,135.1 380.4,134.1 377.5,130.1 372.1,131.2" fill="#ff2d2d"/><polygon points="273.3,129.0 278.9,126.2 276.3,121.9 270.7,124.8" fill="#ff5c5c"/><polygon points="299.3,126.9 304.8,124.5 302.2,120.4 296.6,122.7" fill="#ff5252"/><polygon points="411.7,145.8 417.0,145.3 414.0,141.4 408.7,141.9" fill="#ff571e"/><polygon points="286.3,127.7 291.9,125.1 289.2,120.9 283.7,123.5" fill="#ff5757"/><polygon points="333.2,128.4 338.7,126.7 335.9,122.6 330.4,124.4" fill="#ff4141"/><polygon points="354.0,131.4 359.5,129.9 356.7,125.9 351.2,127.3" fill="#ff3737"/><polygon points="419.6,148.9 424.9,148.5 421.9,144.7 416.5,145.1" fill="#ff651b"/><polygon points="255.2,133.8 260.7,130.5 258.2,126.2 252.6,129.4" fill="#ff6262"/><polygon points="382.8,137.8 388.3,136.9 385.4,132.9 379.9,133.9" fill="#ff312a"/><polygon points="320.1,128.3 325.6,126.3 322.9,122.2 317.4,124.2" fill="#ff4848"/><polygon points="427.5,152.2 432.8,151.8 429.7,148.0 424.4,148.3" fill="#ff7419"/><polygon points="268.1,131.8 273.7,128.9 271.1,124.6 265.5,127.5" fill="#ff5f5f"/><polygon points="361.9,133.8 367.4,132.5 364.5,128.5 359.1,129.8" fill="#ff3434"/><polygon points="390.7,140.6 396.2,139.7 393.2,135.8 387.8,136.7" fill="#ff3b27"/><polygon points="341.0,130.6 346.5,128.9 343.7,124.9 338.2,126.5" fill="#ff3e3e"/><polygon points="307.1,128.6 312.6,126.3 309.9,122.2 304.4,124.4" fill="#ff4f4f"/><polygon points="435.4,155.5 440.7,155.2 437.6,151.4 432.3,151.6" fill="#ff8416"/><polygon points="281.1,130.3 286.6,127.6 284.0,123.4 278.4,126.1" fill="#ff5a5a"/><polygon points="294.1,129.2 299.6,126.7 296.9,122.6 291.4,125.0" fill="#ff5555"/><polygon points="443.3,158.9 448.6,158.7 445.5,154.9 440.2,155.0" fill="#ff9614"/><polygon points="398.7,143.5 404.1,142.7 401.1,138.8 395.7,139.6" fill="#ff4524"/><polygon points="451.3,162.3 456.5,162.3 453.4,158.5 448.1,158.5" fill="#ffa812"/><polygon points="538.4,206.0 543.3,207.0 539.9,203.3 535.0,202.3" fill="#43e804"/><polygon points="369.8,136.3 375.3,135.1 372.4,131.1 366.9,132.3" fill="#ff3131"/><polygon points="327.9,130.3 333.5,128.3 330.7,124.3 325.2,126.2" fill="#ff4545"/><polygon points="459.2,165.9 464.4,166.0 461.3,162.2 456.0,162.1" fill="#ffbc10"/><polygon points="262.9,134.8 268.4,131.7 265.8,127.4 260.3,130.5" fill="#ff6161"/><polygon points="530.5,201.6 535.5,202.5 532.1,198.8 527.1,197.9" fill="#5fec05"/><polygon points="348.9,132.8 354.4,131.3 351.5,127.3 346.0,128.8" fill="#ff3b3b"/><polygon points="467.1,169.5 472.3,169.7 469.1,165.9 464.0,165.7" fill="#ffd00e"/><polygon points="522.6,197.3 527.6,198.1 524.2,194.5 519.2,193.6" fill="#7aef05"/><polygon points="406.6,146.4 412.0,145.8 409.0,141.9 403.6,142.5" fill="#ff5121"/><polygon points="475.1,173.3 480.2,173.5 477.0,169.8 471.9,169.5" fill="#ffe60d"/><polygon points="514.7,193.1 519.7,193.8 516.4,190.1 511.4,189.4" fill="#96f306"/><polygon points="314.9,130.3 320.4,128.2 317.7,124.1 312.2,126.2" fill="#ff4c4c"/><polygon points="483.0,177.1 488.1,177.4 484.9,173.7 479.8,173.3" fill="#fffc0b"/><polygon points="506.8,189.0 511.8,189.6 508.5,185.9 503.5,185.2" fill="#b2f707"/><polygon points="275.8,133.1 281.4,130.2 278.7,125.9 273.2,128.8" fill="#ff5d5d"/><polygon points="490.9,181.0 496.0,181.4 492.8,177.7 487.7,177.2" fill="#e9fe0a"/><polygon points="498.9,184.9 503.9,185.5 500.6,181.8 495.6,181.2" fill="#cefa08"/><polygon points="377.7,138.9 383.2,137.8 380.2,133.8 374.8,134.9" fill="#ff312d"/><polygon points="301.8,130.8 307.4,128.4 304.7,124.3 299.1,126.6" fill="#ff5353"/><polygon points="288.8,131.7 294.4,129.1 291.7,124.9 286.2,127.5" fill="#ff5858"/><polygon points="414.5,149.5 419.9,148.9 416.8,145.0 411.5,145.6" fill="#ff5e1e"/><polygon points="335.8,132.3 341.3,130.5 338.5,126.4 333.0,128.2" fill="#ff4242"/><polygon points="356.7,135.2 362.2,133.7 359.4,129.7 353.9,131.1" fill="#ff3838"/><polygon points="257.6,137.9 263.2,134.6 260.6,130.3 255.0,133.5" fill="#ff6363"/><polygon points="422.4,152.6 427.8,152.1 424.7,148.3 419.4,148.7" fill="#ff6c1b"/><polygon points="385.6,141.6 391.1,140.6 388.1,136.6 382.7,137.6" fill="#ff392a"/><polygon points="322.7,132.2 328.3,130.1 325.5,126.0 320.0,128.1" fill="#ff4949"/><polygon points="270.6,135.9 276.1,132.9 273.5,128.6 268.0,131.6" fill="#ff6060"/><polygon points="430.4,155.8 435.7,155.5 432.6,151.6 427.3,151.9" fill="#ff7b19"/><polygon points="364.6,137.6 370.1,136.2 367.2,132.2 361.8,133.5" fill="#ff3535"/><polygon points="309.6,132.5 315.2,130.2 312.5,126.1 306.9,128.3" fill="#ff5050"/><polygon points="283.6,134.4 289.1,131.6 286.5,127.3 280.9,130.1" fill="#ff5b5b"/><polygon points="343.6,134.4 349.2,132.7 346.3,128.7 340.8,130.4" fill="#ff3f3f"/><polygon points="393.5,144.3 399.0,143.4 396.0,139.5 390.6,140.4" fill="#ff4327"/><polygon points="296.6,133.2 302.2,130.7 299.5,126.5 293.9,129.0" fill="#ff5656"/><polygon points="438.3,159.1 443.6,158.8 440.5,155.0 435.2,155.3" fill="#ff8b17"/><polygon points="446.3,162.5 451.6,162.3 448.4,158.5 443.2,158.6" fill="#ff9c14"/><polygon points="401.5,147.2 406.9,146.4 403.9,142.5 398.5,143.3" fill="#ff4d24"/><polygon points="330.6,134.1 336.1,132.2 333.3,128.1 327.8,130.0" fill="#ff4646"/><polygon points="372.5,140.1 378.0,138.8 375.1,134.8 369.6,136.1" fill="#ff3131"/><polygon points="265.3,138.9 270.9,135.7 268.3,131.4 262.7,134.5" fill="#ff6262"/><polygon points="454.2,166.0 459.5,165.9 456.3,162.1 451.1,162.1" fill="#ffaf12"/><polygon points="351.5,136.7 357.0,135.1 354.2,131.0 348.7,132.6" fill="#ff3c3c"/><polygon points="541.7,209.5 546.6,210.5 543.1,206.8 538.2,205.8" fill="#3fe904"/><polygon points="462.2,169.5 467.4,169.5 464.2,165.7 459.0,165.7" fill="#ffc210"/><polygon points="317.5,134.3 323.0,132.1 320.3,127.9 314.7,130.1" fill="#ff4d4d"/><polygon points="533.7,205.1 538.7,206.0 535.3,202.3 530.3,201.4" fill="#5aec05"/><polygon points="278.3,137.1 283.9,134.2 281.2,129.9 275.7,132.8" fill="#ff5e5e"/><polygon points="470.2,173.1 475.4,173.3 472.2,169.5 467.0,169.3" fill="#ffd70f"/><polygon points="409.4,150.1 414.8,149.4 411.8,145.5 406.4,146.2" fill="#ff5921"/><polygon points="525.8,200.8 530.8,201.6 527.4,197.9 522.4,197.1" fill="#76f006"/><polygon points="478.1,176.8 483.3,177.1 480.1,173.3 474.9,173.0" fill="#ffec0d"/><polygon points="304.4,134.8 310.0,132.4 307.2,128.2 301.7,130.6" fill="#ff5353"/><polygon points="291.3,135.7 296.9,133.1 294.2,128.8 288.7,131.5" fill="#ff5959"/><polygon points="517.9,196.6 522.9,197.4 519.5,193.6 514.5,192.9" fill="#92f406"/><polygon points="486.1,180.6 491.2,181.0 488.0,177.2 482.8,176.9" fill="#fcff0b"/><polygon points="380.5,142.6 385.9,141.5 383.0,137.5 377.5,138.7" fill="#ff392e"/><polygon points="509.9,192.5 515.0,193.1 511.6,189.4 506.6,188.8" fill="#adf708"/><polygon points="494.0,184.5 499.2,184.9 495.9,181.2 490.7,180.7" fill="#e4ff0a"/><polygon points="502.0,188.5 507.1,189.0 503.8,185.3 498.7,184.7" fill="#c9fb09"/><polygon points="260.1,142.0 265.6,138.7 263.0,134.4 257.5,137.6" fill="#ff6464"/><polygon points="338.4,136.2 344.0,134.3 341.2,130.3 335.6,132.1" fill="#ff4343"/><polygon points="417.4,153.2 422.7,152.6 419.7,148.7 414.3,149.3" fill="#ff661f"/><polygon points="359.4,139.0 364.9,137.5 362.1,133.5 356.6,134.9" fill="#ff3939"/><polygon points="388.4,145.3 393.8,144.3 390.9,140.3 385.4,141.3" fill="#ff412b"/><polygon points="425.3,156.3 430.7,155.8 427.6,151.9 422.3,152.4" fill="#ff731c"/><polygon points="273.0,140.0 278.6,136.9 276.0,132.6 270.4,135.7" fill="#ff6161"/><polygon points="325.3,136.1 330.9,134.0 328.1,129.9 322.6,132.0" fill="#ff4a4a"/><polygon points="286.1,138.4 291.6,135.6 289.0,131.3 283.4,134.1" fill="#ff5c5c"/><polygon points="312.2,136.4 317.8,134.1 315.0,130.0 309.5,132.3" fill="#ff5151"/><polygon points="433.3,159.5 438.6,159.1 435.5,155.2 430.2,155.6" fill="#ff8219"/><polygon points="367.3,141.4 372.8,140.0 369.9,136.0 364.5,137.3" fill="#ff3535"/><polygon points="346.3,138.3 351.8,136.6 349.0,132.5 343.5,134.2" fill="#ff4040"/><polygon points="299.1,137.2 304.7,134.6 302.0,130.4 296.4,133.0" fill="#ff5757"/><polygon points="396.3,148.1 401.8,147.1 398.8,143.2 393.4,144.1" fill="#ff4a28"/><polygon points="441.3,162.8 446.6,162.5 443.5,158.6 438.2,158.9" fill="#ff9217"/><polygon points="267.8,143.0 273.4,139.8 270.7,135.5 265.2,138.6" fill="#ff6363"/><polygon points="449.2,166.1 454.5,165.9 451.4,162.1 446.1,162.3" fill="#ffa315"/><polygon points="333.2,138.0 338.7,136.1 335.9,132.0 330.4,133.9" fill="#ff4747"/><polygon points="404.3,150.9 409.7,150.1 406.7,146.2 401.3,147.0" fill="#ff5525"/><polygon points="375.3,143.9 380.8,142.6 377.8,138.6 372.4,139.8" fill="#ff3a32"/><polygon points="457.2,169.6 462.5,169.5 459.3,165.7 454.1,165.7" fill="#ffb513"/><polygon points="354.2,140.5 359.7,138.9 356.9,134.8 351.4,136.4" fill="#ff3d3d"/><polygon points="280.8,141.2 286.4,138.2 283.7,133.9 278.2,136.9" fill="#ff5f5f"/><polygon points="320.1,138.2 325.6,136.0 322.9,131.8 317.3,134.0" fill="#ff4e4e"/><polygon points="465.2,173.1 470.5,173.1 467.2,169.3 462.0,169.3" fill="#ffc911"/><polygon points="544.9,213.0 549.9,214.0 546.4,210.3 541.5,209.3" fill="#3be904"/><polygon points="293.9,139.8 299.4,137.1 296.8,132.8 291.2,135.5" fill="#ff5a5a"/><polygon points="307.0,138.8 312.5,136.3 309.8,132.1 304.2,134.5" fill="#ff5454"/><polygon points="412.3,153.9 417.7,153.1 414.6,149.2 409.2,149.9" fill="#ff6022"/><polygon points="473.2,176.7 478.4,176.9 475.2,173.1 470.0,172.9" fill="#ffdd0f"/><polygon points="537.0,208.7 541.9,209.5 538.5,205.8 533.6,204.9" fill="#56ed05"/><polygon points="383.2,146.4 388.7,145.3 385.8,141.3 380.3,142.4" fill="#ff412f"/><polygon points="481.2,180.4 486.4,180.7 483.1,176.9 477.9,176.6" fill="#fff20d"/><polygon points="262.5,146.1 268.1,142.8 265.5,138.5 259.9,141.7" fill="#ff6865"/><polygon points="529.0,204.4 534.0,205.2 530.6,201.4 525.6,200.6" fill="#71f106"/><polygon points="489.2,184.2 494.3,184.5 491.0,180.8 485.9,180.4" fill="#f6ff0c"/><polygon points="341.1,140.1 346.6,138.2 343.8,134.1 338.3,135.9" fill="#ff4444"/><polygon points="521.1,200.2 526.1,200.9 522.7,197.1 517.7,196.4" fill="#8df407"/><polygon points="497.1,188.1 502.3,188.5 499.0,184.7 493.8,184.3" fill="#deff0a"/><polygon points="513.1,196.1 518.2,196.7 514.8,192.9 509.7,192.3" fill="#a8f808"/><polygon points="505.1,192.0 510.2,192.5 506.9,188.8 501.8,188.3" fill="#c3fc09"/><polygon points="420.2,156.9 425.6,156.2 422.6,152.4 417.2,152.9" fill="#ff6d1f"/><polygon points="362.1,142.8 367.7,141.3 364.8,137.3 359.3,138.7" fill="#ff3a3a"/><polygon points="275.5,144.1 281.1,141.0 278.5,136.7 272.9,139.7" fill="#ff6262"/><polygon points="327.9,140.0 333.5,137.9 330.7,133.8 325.2,135.9" fill="#ff4b4b"/><polygon points="391.2,149.1 396.6,148.0 393.7,144.1 388.2,145.1" fill="#ff492c"/><polygon points="428.2,160.0 433.6,159.5 430.5,155.6 425.2,156.1" fill="#ff7b1d"/><polygon points="288.6,142.4 294.2,139.6 291.5,135.3 285.9,138.1" fill="#ff5d5d"/><polygon points="314.8,140.4 320.4,138.1 317.6,133.9 312.1,136.2" fill="#ff5252"/><polygon points="301.7,141.2 307.3,138.6 304.6,134.4 299.0,137.0" fill="#ff5858"/><polygon points="349.0,142.2 354.5,140.4 351.7,136.3 346.2,138.1" fill="#ff4141"/><polygon points="370.1,145.2 375.6,143.8 372.7,139.8 367.2,141.1" fill="#ff3b36"/><polygon points="436.2,163.2 441.6,162.7 438.5,158.9 433.1,159.3" fill="#ff891a"/><polygon points="399.2,151.8 404.6,150.9 401.6,146.9 396.2,147.9" fill="#ff5229"/><polygon points="444.2,166.4 449.5,166.1 446.4,162.3 441.1,162.5" fill="#ff9918"/><polygon points="270.3,147.1 275.8,143.9 273.2,139.6 267.6,142.7" fill="#ff6664"/><polygon points="335.8,141.9 341.4,139.9 338.6,135.8 333.0,137.8" fill="#ff4848"/><polygon points="452.2,169.8 457.5,169.6 454.4,165.7 449.1,165.9" fill="#ffaa15"/><polygon points="378.0,147.7 383.5,146.4 380.6,142.4 375.1,143.6" fill="#ff4233"/><polygon points="407.1,154.7 412.6,153.8 409.5,149.9 404.1,150.7" fill="#ff5c26"/><polygon points="283.3,145.3 288.9,142.3 286.2,138.0 280.7,140.9" fill="#ff6060"/><polygon points="356.9,144.4 362.5,142.7 359.6,138.7 354.1,140.3" fill="#ff3e3e"/><polygon points="322.7,142.1 328.3,139.9 325.5,135.7 319.9,138.0" fill="#ff4f4f"/><polygon points="460.2,173.2 465.5,173.1 462.3,169.3 457.0,169.4" fill="#ffbc13"/><polygon points="296.4,143.8 302.0,141.1 299.3,136.8 293.7,139.5" fill="#ff5b5b"/><polygon points="309.5,142.8 315.1,140.3 312.4,136.1 306.8,138.5" fill="#ff5555"/><polygon points="468.2,176.8 473.5,176.7 470.3,172.9 465.0,172.9" fill="#ffcf11"/><polygon points="415.1,157.6 420.6,156.8 417.5,152.9 412.1,153.6" fill="#ff6823"/><polygon points="265.0,150.3 270.6,146.9 267.9,142.6 262.4,145.9" fill="#ff7066"/><polygon points="548.2,216.5 553.2,217.5 549.7,213.8 544.7,212.8" fill="#36ea04"/><polygon points="386.0,150.2 391.5,149.0 388.5,145.0 383.1,146.2" fill="#ff4930"/><polygon points="476.3,180.4 481.5,180.5 478.2,176.6 473.0,176.5" fill="#ffe30f"/><polygon points="343.8,144.0 349.3,142.1 346.5,138.0 340.9,139.8" fill="#ff4545"/><polygon points="540.3,212.2 545.2,213.1 541.8,209.3 536.8,208.4" fill="#52ed05"/><polygon points="484.3,184.1 489.5,184.2 486.2,180.4 481.0,180.2" fill="#fff80d"/><polygon points="364.9,146.7 370.4,145.1 367.5,141.1 362.0,142.6" fill="#ff3e3a"/><polygon points="532.3,207.9 537.3,208.7 533.8,205.0 528.8,204.2" fill="#6df106"/><polygon points="492.3,187.8 497.4,188.1 494.1,184.3 489.0,184.0" fill="#f0ff0c"/><polygon points="423.1,160.6 428.5,159.9 425.5,156.0 420.1,156.6" fill="#ff7420"/><polygon points="524.3,203.8 529.3,204.4 525.9,200.7 520.9,200.0" fill="#88f507"/><polygon points="500.3,191.7 505.4,192.1 502.1,188.3 497.0,187.9" fill="#d9ff0a"/><polygon points="516.3,199.7 521.4,200.2 518.0,196.5 512.9,195.9" fill="#a4f808"/><polygon points="508.3,195.6 513.4,196.1 510.0,192.3 504.9,191.8" fill="#bffc09"/><polygon points="278.0,148.2 283.6,145.1 281.0,140.8 275.4,143.8" fill="#ff6463"/><polygon points="330.6,144.0 336.1,141.8 333.3,137.7 327.8,139.8" fill="#ff4c4c"/><polygon points="394.0,152.9 399.5,151.8 396.5,147.8 391.0,148.9" fill="#ff512c"/><polygon points="291.1,146.5 296.7,143.6 294.0,139.4 288.4,142.2" fill="#ff5e5e"/><polygon points="431.2,163.7 436.5,163.1 433.4,159.2 428.1,159.8" fill="#ff821d"/><polygon points="317.4,144.4 323.0,142.0 320.2,137.8 314.6,140.2" fill="#ff5353"/><polygon points="304.3,145.2 309.8,142.6 307.1,138.4 301.5,141.0" fill="#ff5959"/><polygon points="351.7,146.1 357.2,144.3 354.4,140.2 348.8,141.9" fill="#ff4242"/><polygon points="372.8,149.0 378.4,147.6 375.4,143.6 369.9,145.0" fill="#ff4337"/><polygon points="439.2,166.9 444.5,166.4 441.4,162.5 436.0,162.9" fill="#ff901a"/><polygon points="402.0,155.6 407.5,154.6 404.4,150.6 399.0,151.6" fill="#ff5a29"/><polygon points="272.7,151.3 278.3,148.0 275.7,143.7 270.1,146.9" fill="#ff6e65"/><polygon points="447.2,170.1 452.5,169.8 449.4,165.9 444.0,166.2" fill="#ffa018"/><polygon points="338.5,145.9 344.1,143.9 341.2,139.7 335.7,141.7" fill="#ff4949"/><polygon points="285.8,149.4 291.4,146.3 288.8,142.0 283.2,145.0" fill="#ff6361"/><polygon points="380.8,151.5 386.3,150.2 383.4,146.1 377.9,147.4" fill="#ff4934"/><polygon points="410.0,158.4 415.4,157.5 412.4,153.6 407.0,154.4" fill="#ff6426"/><polygon points="455.2,173.5 460.5,173.2 457.3,169.4 452.0,169.6" fill="#ffb116"/><polygon points="359.6,148.2 365.2,146.6 362.3,142.5 356.8,144.1" fill="#ff423f"/><polygon points="325.3,146.1 330.9,143.8 328.1,139.7 322.5,141.9" fill="#ff5050"/><polygon points="299.0,147.9 304.6,145.1 301.8,140.8 296.3,143.6" fill="#ff5c5c"/><polygon points="312.1,146.8 317.7,144.3 315.0,140.0 309.4,142.5" fill="#ff5656"/><polygon points="463.3,176.9 468.5,176.8 465.3,172.9 460.1,173.0" fill="#ffc213"/><polygon points="267.5,154.5 273.1,151.1 270.4,146.7 264.8,150.0" fill="#ff7867"/><polygon points="418.0,161.3 423.4,160.6 420.4,156.6 415.0,157.4" fill="#ff6f23"/><polygon points="471.3,180.4 476.6,180.4 473.3,176.5 468.1,176.5" fill="#ffd511"/><polygon points="388.8,154.0 394.3,152.8 391.3,148.8 385.8,150.0" fill="#ff5130"/><polygon points="346.4,147.9 352.0,146.0 349.1,141.8 343.6,143.7" fill="#ff4646"/><polygon points="479.3,184.0 484.6,184.1 481.3,180.2 476.1,180.2" fill="#ffe90f"/><polygon points="551.5,220.1 556.5,221.0 553.0,217.3 548.0,216.3" fill="#32ea04"/><polygon points="367.6,150.5 373.2,148.9 370.2,144.9 364.7,146.4" fill="#ff463b"/><polygon points="280.5,152.3 286.2,149.2 283.5,144.8 277.9,147.9" fill="#ff6c63"/><polygon points="487.4,187.7 492.6,187.9 489.3,184.0 484.1,183.8" fill="#fffe0e"/><polygon points="543.5,215.8 548.5,216.6 545.0,212.8 540.1,212.0" fill="#4eee05"/><polygon points="426.1,164.3 431.5,163.6 428.4,159.7 423.0,160.4" fill="#ff7b20"/><polygon points="495.4,191.5 500.6,191.7 497.3,187.9 492.1,187.6" fill="#eaff0c"/><polygon points="535.5,211.5 540.5,212.2 537.1,208.5 532.1,207.7" fill="#69f206"/><polygon points="333.2,147.9 338.8,145.8 336.0,141.6 330.4,143.7" fill="#ff4d4d"/><polygon points="503.4,195.3 508.6,195.7 505.2,191.9 500.1,191.5" fill="#d3ff0b"/><polygon points="527.5,207.3 532.6,208.0 529.1,204.2 524.1,203.5" fill="#84f507"/><polygon points="511.5,199.2 516.6,199.7 513.2,195.9 508.1,195.4" fill="#bafd09"/><polygon points="519.5,203.3 524.6,203.8 521.2,200.0 516.1,199.4" fill="#9ff908"/><polygon points="293.7,150.6 299.3,147.7 296.6,143.4 291.0,146.3" fill="#ff615f"/><polygon points="396.8,156.7 402.3,155.5 399.3,151.5 393.8,152.6" fill="#ff582d"/><polygon points="320.0,148.4 325.6,146.0 322.8,141.8 317.2,144.2" fill="#ff5454"/><polygon points="306.8,149.3 312.4,146.6 309.7,142.4 304.1,145.0" fill="#ff5a5a"/><polygon points="434.1,167.4 439.5,166.8 436.4,162.9 431.0,163.5" fill="#ff891e"/><polygon points="354.4,150.0 360.0,148.1 357.1,144.0 351.5,145.8" fill="#ff4643"/><polygon points="375.6,152.9 381.1,151.4 378.2,147.4 372.7,148.8" fill="#ff4b38"/><polygon points="275.2,155.4 280.9,152.1 278.2,147.8 272.6,151.0" fill="#ff7666"/><polygon points="442.1,170.6 447.5,170.1 444.3,166.2 439.0,166.6" fill="#ff971b"/><polygon points="404.9,159.4 410.3,158.4 407.3,154.4 401.8,155.4" fill="#ff612a"/><polygon points="341.2,149.8 346.8,147.8 343.9,143.6 338.3,145.6" fill="#ff4a4a"/><polygon points="288.4,153.5 294.0,150.4 291.3,146.1 285.7,149.1" fill="#ff6b62"/><polygon points="450.2,173.8 455.5,173.5 452.3,169.6 447.0,169.9" fill="#ffa718"/><polygon points="383.6,155.3 389.1,154.0 386.2,149.9 380.7,151.3" fill="#ff5135"/><polygon points="327.9,150.1 333.5,147.8 330.7,143.6 325.1,145.9" fill="#ff5151"/><polygon points="362.4,152.1 367.9,150.4 365.0,146.3 359.5,148.0" fill="#ff4a3f"/><polygon points="412.9,162.2 418.3,161.3 415.3,157.3 409.8,158.2" fill="#ff6b27"/><polygon points="301.5,151.9 307.2,149.1 304.4,144.9 298.8,147.6" fill="#ff605d"/><polygon points="314.7,150.8 320.3,148.3 317.6,144.0 312.0,146.5" fill="#ff5757"/><polygon points="458.2,177.2 463.6,176.9 460.4,173.0 455.0,173.2" fill="#ffb716"/><polygon points="270.0,158.7 275.6,155.2 272.9,150.8 267.3,154.2" fill="#ff8068"/><polygon points="466.3,180.6 471.6,180.4 468.4,176.5 463.1,176.7" fill="#ffc914"/><polygon points="420.9,165.1 426.4,164.3 423.3,160.3 417.9,161.1" fill="#ff7624"/><polygon points="349.1,151.8 354.7,149.9 351.8,145.7 346.3,147.6" fill="#ff4c47"/><polygon points="391.6,157.9 397.1,156.6 394.1,152.6 388.7,153.8" fill="#ff5831"/><polygon points="474.4,184.1 479.6,184.0 476.4,180.2 471.1,180.2" fill="#ffdc12"/><polygon points="283.1,156.5 288.7,153.3 286.0,148.9 280.4,152.1" fill="#ff7464"/><polygon points="370.4,154.4 375.9,152.8 373.0,148.7 367.5,150.3" fill="#ff4e3c"/><polygon points="482.4,187.7 487.7,187.7 484.4,183.9 479.1,183.8" fill="#ffef10"/><polygon points="335.9,151.9 341.5,149.7 338.7,145.5 333.1,147.7" fill="#ff504e"/><polygon points="554.9,223.7 559.8,224.6 556.3,220.8 551.3,219.9" fill="#2eeb04"/><polygon points="490.5,191.3 495.7,191.5 492.4,187.6 487.2,187.5" fill="#faff0e"/><polygon points="429.0,168.1 434.4,167.4 431.3,163.4 425.9,164.1" fill="#ff8321"/><polygon points="296.2,154.7 301.9,151.8 299.1,147.5 293.5,150.4" fill="#ff6960"/><polygon points="546.9,219.4 551.8,220.2 548.3,216.4 543.3,215.6" fill="#49ef05"/><polygon points="498.6,195.1 503.7,195.3 500.4,191.5 495.2,191.2" fill="#e4ff0c"/><polygon points="322.7,152.4 328.3,150.0 325.5,145.8 319.9,148.2" fill="#ff5755"/><polygon points="309.4,153.4 315.0,150.7 312.3,146.4 306.7,149.1" fill="#ff5f5b"/><polygon points="538.8,215.1 543.8,215.8 540.3,212.0 535.3,211.3" fill="#64f206"/><polygon points="506.6,198.9 511.8,199.3 508.4,195.4 503.2,195.1" fill="#ceff0b"/><polygon points="399.7,160.5 405.2,159.3 402.1,155.3 396.7,156.4" fill="#ff602e"/><polygon points="530.8,211.0 535.8,211.6 532.4,207.8 527.3,207.1" fill="#7ff607"/><polygon points="514.7,202.9 519.8,203.3 516.4,199.5 511.3,199.0" fill="#b5fd0a"/><polygon points="522.7,206.9 527.8,207.4 524.4,203.6 519.3,203.0" fill="#9afa08"/><polygon points="437.1,171.1 442.4,170.5 439.3,166.6 433.9,167.2" fill="#ff901e"/><polygon points="357.1,153.9 362.7,152.0 359.8,147.9 354.2,149.7" fill="#ff4e44"/><polygon points="277.8,159.6 283.4,156.3 280.7,151.9 275.1,155.2" fill="#ff7e67"/><polygon points="378.4,156.7 383.9,155.2 381.0,151.2 375.4,152.6" fill="#ff5339"/><polygon points="407.7,163.2 413.2,162.1 410.1,158.1 404.7,159.2" fill="#ff692b"/><polygon points="445.1,174.3 450.5,173.8 447.3,169.9 442.0,170.4" fill="#ff9e1b"/><polygon points="343.9,153.8 349.5,151.7 346.6,147.5 341.0,149.6" fill="#ff524b"/><polygon points="290.9,157.6 296.6,154.5 293.8,150.2 288.2,153.2" fill="#ff7363"/><polygon points="453.2,177.5 458.5,177.1 455.3,173.2 450.0,173.6" fill="#ffad19"/><polygon points="330.6,154.1 336.2,151.8 333.4,147.6 327.8,149.9" fill="#ff5752"/><polygon points="304.1,156.0 309.7,153.2 307.0,148.9 301.4,151.7" fill="#ff685e"/><polygon points="386.4,159.2 392.0,157.8 389.0,153.7 383.4,155.1" fill="#ff5935"/><polygon points="365.1,156.0 370.7,154.3 367.8,150.2 362.2,151.9" fill="#ff5240"/><polygon points="272.5,162.9 278.1,159.4 275.4,155.0 269.8,158.4" fill="#ff8869"/><polygon points="317.4,154.9 323.0,152.3 320.2,148.0 314.6,150.6" fill="#ff5f58"/><polygon points="415.8,166.0 421.2,165.0 418.2,161.1 412.7,162.0" fill="#ff7328"/><polygon points="461.3,180.9 466.6,180.6 463.4,176.7 458.1,176.9" fill="#ffbe16"/><polygon points="469.4,184.3 474.7,184.1 471.4,180.2 466.1,180.4" fill="#ffcf14"/><polygon points="351.9,155.8 357.4,153.8 354.6,149.6 349.0,151.6" fill="#ff5448"/><polygon points="285.6,160.6 291.2,157.4 288.5,153.0 282.9,156.2" fill="#ff7c65"/><polygon points="423.9,168.9 429.3,168.0 426.2,164.1 420.8,164.9" fill="#ff7e24"/><polygon points="394.5,161.7 400.0,160.4 397.0,156.4 391.5,157.6" fill="#ff6032"/><polygon points="477.5,187.8 482.7,187.7 479.4,183.8 474.2,183.9" fill="#ffe212"/><polygon points="373.2,158.3 378.7,156.7 375.8,152.6 370.2,154.2" fill="#ff563d"/><polygon points="338.6,155.9 344.2,153.7 341.3,149.5 335.7,151.7" fill="#ff584f"/><polygon points="298.8,158.8 304.4,155.9 301.7,151.5 296.1,154.5" fill="#ff7161"/><polygon points="485.5,191.4 490.8,191.4 487.5,187.5 482.2,187.5" fill="#fff510"/><polygon points="431.9,171.9 437.4,171.1 434.2,167.1 428.8,167.9" fill="#ff8a22"/><polygon points="325.3,156.5 330.9,154.0 328.1,149.7 322.5,152.2" fill="#ff5f56"/><polygon points="312.0,157.4 317.7,154.7 314.9,150.4 309.3,153.1" fill="#ff675c"/><polygon points="493.6,195.0 498.8,195.1 495.5,191.3 490.3,191.1" fill="#f4ff0e"/><polygon points="558.2,227.3 563.2,228.1 559.6,224.4 554.7,223.5" fill="#2beb05"/><polygon points="402.5,164.3 408.0,163.1 405.0,159.1 399.5,160.3" fill="#ff682f"/><polygon points="501.7,198.8 506.9,199.0 503.5,195.1 498.4,194.9" fill="#dfff0d"/><polygon points="550.2,223.0 555.2,223.7 551.6,219.9 546.7,219.1" fill="#45ef05"/><polygon points="509.8,202.6 515.0,202.9 511.6,199.0 506.4,198.7" fill="#c8ff0b"/><polygon points="280.3,163.8 285.9,160.5 283.2,156.0 277.6,159.4" fill="#ff8668"/><polygon points="359.9,157.8 365.4,155.9 362.5,151.8 357.0,153.7" fill="#ff5645"/><polygon points="542.1,218.7 547.1,219.4 543.6,215.6 538.6,214.9" fill="#60f306"/><polygon points="517.9,206.5 523.0,206.9 519.6,203.1 514.5,202.6" fill="#b0fe0a"/><polygon points="534.1,214.6 539.1,215.2 535.6,211.3 530.6,210.7" fill="#7bf707"/><polygon points="526.0,210.5 531.1,211.0 527.6,207.2 522.5,206.7" fill="#95fa08"/><polygon points="440.0,174.9 445.4,174.3 442.3,170.3 436.9,170.9" fill="#ff971f"/><polygon points="381.2,160.6 386.7,159.1 383.8,155.0 378.2,156.5" fill="#ff5b3a"/><polygon points="293.5,161.8 299.1,158.7 296.4,154.3 290.8,157.4" fill="#ff7a64"/><polygon points="410.6,167.0 416.1,165.9 413.0,161.9 407.6,163.0" fill="#ff702b"/><polygon points="346.6,157.8 352.2,155.7 349.3,151.5 343.7,153.6" fill="#ff5a4c"/><polygon points="448.1,178.1 453.5,177.5 450.3,173.6 444.9,174.1" fill="#ffa51c"/><polygon points="306.7,160.1 312.4,157.3 309.6,153.0 304.0,155.8" fill="#ff705f"/><polygon points="333.3,158.1 338.9,155.8 336.0,151.5 330.4,153.9" fill="#ff5f53"/><polygon points="275.0,167.1 280.6,163.6 277.9,159.2 272.3,162.6" fill="#ff906a"/><polygon points="320.0,158.9 325.6,156.3 322.8,152.0 317.2,154.6" fill="#ff6759"/><polygon points="389.3,163.1 394.8,161.6 391.8,157.6 386.3,159.0" fill="#ff6136"/><polygon points="367.9,160.0 373.5,158.2 370.5,154.1 365.0,155.8" fill="#ff5a41"/><polygon points="456.2,181.3 461.6,180.8 458.4,176.9 453.0,177.3" fill="#ffb419"/><polygon points="418.7,169.8 424.2,168.8 421.1,164.8 415.6,165.8" fill="#ff7a28"/><polygon points="464.3,184.6 469.7,184.3 466.4,180.3 461.1,180.6" fill="#ffc417"/><polygon points="288.2,164.8 293.8,161.6 291.1,157.2 285.5,160.4" fill="#ff8466"/><polygon points="354.6,159.7 360.2,157.7 357.3,153.5 351.7,155.5" fill="#ff5c49"/><polygon points="472.4,188.0 477.8,187.8 474.5,183.9 469.2,184.1" fill="#ffd515"/><polygon points="397.3,165.6 402.8,164.3 399.8,160.2 394.3,161.5" fill="#ff6733"/><polygon points="426.8,172.7 432.2,171.8 429.1,167.8 423.7,168.7" fill="#ff8525"/><polygon points="375.9,162.2 381.5,160.5 378.5,156.4 373.0,158.1" fill="#ff5e3e"/><polygon points="301.4,163.0 307.0,160.0 304.3,155.6 298.7,158.6" fill="#ff7962"/><polygon points="341.3,159.9 346.9,157.7 344.0,153.4 338.4,155.7" fill="#ff6050"/><polygon points="480.6,191.5 485.8,191.4 482.5,187.5 477.3,187.6" fill="#ffe812"/><polygon points="314.7,161.5 320.3,158.8 317.5,154.5 311.9,157.2" fill="#ff6f5d"/><polygon points="328.0,160.5 333.6,158.0 330.8,153.7 325.1,156.2" fill="#ff6757"/><polygon points="488.7,195.0 493.9,195.0 490.6,191.1 485.4,191.1" fill="#fffb10"/><polygon points="434.9,175.6 440.3,174.9 437.2,170.9 431.8,171.6" fill="#ff9122"/><polygon points="282.8,168.0 288.5,164.6 285.8,160.2 280.1,163.5" fill="#ff8e69"/><polygon points="405.4,168.2 410.9,167.0 407.9,162.9 402.4,164.1" fill="#ff6f2f"/><polygon points="496.8,198.7 502.0,198.8 498.7,194.9 493.4,194.8" fill="#eeff0f"/><polygon points="362.6,161.8 368.2,159.9 365.3,155.7 359.7,157.6" fill="#ff5e46"/><polygon points="504.9,202.4 510.1,202.6 506.7,198.7 501.5,198.5" fill="#d9ff0d"/><polygon points="561.6,230.9 566.6,231.7 563.0,227.9 558.0,227.1" fill="#27ec05"/><polygon points="384.0,164.5 389.6,163.0 386.6,158.9 381.0,160.4" fill="#ff633a"/><polygon points="513.0,206.3 518.2,206.5 514.8,202.7 509.6,202.4" fill="#c3ff0b"/><polygon points="553.5,226.6 558.5,227.3 555.0,223.5 550.0,222.7" fill="#41f006"/><polygon points="443.0,178.7 448.4,178.0 445.2,174.0 439.8,174.7" fill="#ff9e1f"/><polygon points="521.1,210.2 526.3,210.5 522.8,206.7 517.7,206.3" fill="#abfe0a"/><polygon points="545.4,222.4 550.5,223.0 546.9,219.2 541.9,218.5" fill="#5cf306"/><polygon points="529.2,214.1 534.3,214.6 530.9,210.8 525.8,210.3" fill="#91fb09"/><polygon points="537.3,218.2 542.4,218.8 538.9,214.9 533.9,214.4" fill="#76f707"/><polygon points="296.1,165.9 301.7,162.8 299.0,158.4 293.3,161.5" fill="#ff8265"/><polygon points="349.3,161.8 354.9,159.6 352.0,155.4 346.4,157.5" fill="#ff624d"/><polygon points="413.5,170.9 419.0,169.7 415.9,165.7 410.4,166.8" fill="#ff782c"/><polygon points="451.1,181.8 456.5,181.3 453.3,177.3 447.9,177.8" fill="#ffab1c"/><polygon points="277.5,171.3 283.2,167.8 280.5,163.3 274.8,166.8" fill="#ff976b"/><polygon points="309.3,164.3 315.0,161.4 312.2,157.0 306.6,159.9" fill="#ff7860"/><polygon points="336.0,162.2 341.6,159.8 338.7,155.5 333.1,157.9" fill="#ff6754"/><polygon points="322.6,163.0 328.3,160.4 325.5,156.1 319.8,158.7" fill="#ff6f5a"/><polygon points="370.7,163.9 376.3,162.1 373.3,158.0 367.7,159.7" fill="#ff6142"/><polygon points="392.1,166.9 397.6,165.5 394.6,161.4 389.1,162.8" fill="#ff6837"/><polygon points="459.3,185.0 464.6,184.6 461.4,180.6 456.0,181.1" fill="#ffba1a"/><polygon points="421.6,173.6 427.1,172.6 424.0,168.6 418.5,169.6" fill="#ff8129"/><polygon points="290.7,169.0 296.4,165.7 293.7,161.3 288.0,164.6" fill="#ff8c67"/><polygon points="467.4,188.3 472.7,188.0 469.5,184.0 464.1,184.4" fill="#ffcb17"/><polygon points="357.3,163.7 362.9,161.7 360.0,157.5 354.4,159.5" fill="#ff634a"/><polygon points="400.2,169.4 405.7,168.1 402.7,164.0 397.2,165.3" fill="#ff6f34"/><polygon points="429.8,176.5 435.2,175.6 432.1,171.6 426.6,172.5" fill="#ff8c26"/><polygon points="304.0,167.1 309.7,164.1 306.9,159.7 301.2,162.7" fill="#ff8163"/><polygon points="475.5,191.7 480.9,191.5 477.6,187.5 472.3,187.8" fill="#ffdc15"/><polygon points="378.8,166.1 384.3,164.4 381.3,160.3 375.8,162.0" fill="#ff653f"/><polygon points="344.0,163.9 349.6,161.6 346.7,157.4 341.1,159.7" fill="#ff6851"/><polygon points="317.3,165.6 323.0,162.9 320.1,158.5 314.5,161.3" fill="#ff775e"/><polygon points="330.6,164.6 336.3,162.0 333.4,157.8 327.8,160.3" fill="#ff6f58"/><polygon points="483.7,195.2 489.0,195.0 485.7,191.1 480.4,191.3" fill="#ffee13"/><polygon points="285.4,172.2 291.1,168.8 288.3,164.4 282.7,167.8" fill="#ff956a"/><polygon points="437.9,179.4 443.3,178.6 440.2,174.6 434.7,175.4" fill="#ff9823"/><polygon points="491.8,198.8 497.1,198.7 493.7,194.8 488.5,194.8" fill="#fdff11"/><polygon points="408.3,172.0 413.8,170.8 410.7,166.7 405.2,167.9" fill="#ff7630"/><polygon points="365.4,165.8 371.0,163.8 368.0,159.6 362.5,161.5" fill="#ff6646"/><polygon points="500.0,202.4 505.2,202.4 501.8,198.6 496.6,198.5" fill="#e9ff0f"/><polygon points="386.8,168.5 392.4,166.9 389.4,162.7 383.8,164.3" fill="#ff6a3b"/><polygon points="508.1,206.1 513.3,206.3 509.9,202.4 504.7,202.2" fill="#d3ff0d"/><polygon points="298.7,170.1 304.3,166.9 301.6,162.5 295.9,165.7" fill="#ff8a66"/><polygon points="446.0,182.5 451.4,181.8 448.2,177.8 442.8,178.5" fill="#ffa420"/><polygon points="516.3,209.9 521.4,210.2 518.0,206.3 512.8,206.0" fill="#bdff0c"/><polygon points="556.9,230.2 561.9,230.9 558.3,227.1 553.3,226.4" fill="#3df006"/><polygon points="352.0,165.8 357.6,163.6 354.7,159.4 349.1,161.5" fill="#ff694e"/><polygon points="524.4,213.8 529.5,214.2 526.1,210.3 520.9,209.9" fill="#a6ff0a"/><polygon points="548.8,226.0 553.8,226.6 550.3,222.8 545.2,222.1" fill="#58f407"/><polygon points="532.5,217.8 537.6,218.2 534.1,214.4 529.0,213.9" fill="#8cfb09"/><polygon points="540.7,221.9 545.7,222.4 542.2,218.5 537.1,218.0" fill="#72f808"/><polygon points="280.1,175.6 285.7,172.0 283.0,167.6 277.4,171.1" fill="#ff9f6c"/><polygon points="416.4,174.7 421.9,173.6 418.8,169.5 413.3,170.6" fill="#ff7f2d"/><polygon points="312.0,168.4 317.6,165.5 314.8,161.1 309.2,164.0" fill="#ff8061"/><polygon points="338.7,166.2 344.3,163.8 341.4,159.5 335.8,161.9" fill="#ff6f55"/><polygon points="325.3,167.1 331.0,164.4 328.1,160.1 322.5,162.8" fill="#ff775b"/><polygon points="454.2,185.6 459.6,185.0 456.3,181.0 451.0,181.6" fill="#ffb21d"/><polygon points="373.5,167.9 379.1,166.0 376.1,161.9 370.5,163.7" fill="#ff6943"/><polygon points="395.0,170.9 400.5,169.4 397.5,165.3 391.9,166.7" fill="#ff7038"/><polygon points="293.3,173.2 299.0,169.9 296.2,165.5 290.6,168.8" fill="#ff9368"/><polygon points="462.3,188.8 467.7,188.3 464.5,184.3 459.1,184.8" fill="#ffc11a"/><polygon points="424.6,177.5 430.1,176.4 426.9,172.4 421.5,173.4" fill="#ff882a"/><polygon points="360.1,167.7 365.7,165.6 362.8,161.4 357.2,163.5" fill="#ff6b4b"/><polygon points="470.5,192.1 475.8,191.7 472.6,187.8 467.2,188.1" fill="#ffd118"/><polygon points="306.6,171.3 312.3,168.2 309.5,163.8 303.8,166.9" fill="#ff8864"/><polygon points="403.1,173.3 408.6,172.0 405.6,167.9 400.0,169.2" fill="#ff7634"/><polygon points="381.6,170.1 387.2,168.4 384.2,164.2 378.6,165.9" fill="#ff6d40"/><polygon points="346.7,168.0 352.3,165.7 349.4,161.4 343.8,163.7" fill="#ff7052"/><polygon points="432.7,180.3 438.2,179.4 435.0,175.4 429.6,176.3" fill="#ff9326"/><polygon points="320.0,169.8 325.6,167.0 322.8,162.6 317.1,165.4" fill="#ff7f5f"/><polygon points="478.7,195.5 484.0,195.2 480.7,191.2 475.4,191.5" fill="#ffe215"/><polygon points="333.3,168.7 339.0,166.1 336.1,161.8 330.5,164.3" fill="#ff7659"/><polygon points="288.0,176.5 293.6,173.0 290.9,168.6 285.2,172.0" fill="#ff9d6b"/><polygon points="486.8,198.9 492.1,198.8 488.8,194.8 483.5,195.0" fill="#fff413"/><polygon points="440.9,183.3 446.3,182.4 443.1,178.4 437.7,179.2" fill="#ff9e23"/><polygon points="368.2,169.7 373.8,167.8 370.8,163.6 365.2,165.5" fill="#ff6e47"/><polygon points="411.2,175.9 416.8,174.6 413.7,170.6 408.1,171.8" fill="#ff7e31"/><polygon points="495.0,202.5 500.3,202.4 496.9,198.5 491.6,198.5" fill="#f7ff11"/><polygon points="301.3,174.3 306.9,171.1 304.2,166.7 298.5,169.9" fill="#ff9167"/><polygon points="389.7,172.4 395.3,170.8 392.2,166.6 386.7,168.2" fill="#ff723c"/><polygon points="503.2,206.1 508.4,206.1 505.0,202.2 499.8,202.2" fill="#e3ff0f"/><polygon points="282.6,179.9 288.3,176.3 285.6,171.8 279.9,175.3" fill="#ffa66d"/><polygon points="354.8,169.8 360.4,167.6 357.5,163.4 351.9,165.5" fill="#ff714f"/><polygon points="449.1,186.3 454.5,185.6 451.3,181.6 445.8,182.3" fill="#ffab20"/><polygon points="511.3,209.8 516.6,210.0 513.1,206.0 507.9,205.9" fill="#ceff0d"/><polygon points="314.6,172.6 320.3,169.6 317.5,165.2 311.8,168.2" fill="#ff8762"/><polygon points="519.5,213.6 524.7,213.8 521.2,210.0 516.1,209.7" fill="#b8ff0c"/><polygon points="341.4,170.3 347.0,167.9 344.1,163.6 338.5,166.0" fill="#ff7756"/><polygon points="419.4,178.6 424.9,177.4 421.8,173.3 416.3,174.5" fill="#ff862e"/><polygon points="527.7,217.5 532.8,217.8 529.3,213.9 524.2,213.6" fill="#a1ff0a"/><polygon points="328.0,171.2 333.6,168.5 330.8,164.2 325.1,166.9" fill="#ff7e5c"/><polygon points="535.8,221.5 541.0,221.9 537.4,218.0 532.3,217.6" fill="#88fc09"/><polygon points="552.2,229.7 557.2,230.3 553.6,226.4 548.6,225.8" fill="#53f507"/><polygon points="544.0,225.5 549.1,226.0 545.5,222.2 540.5,221.6" fill="#6df808"/><polygon points="457.2,189.4 462.6,188.8 459.4,184.8 454.0,185.4" fill="#ffb91e"/><polygon points="376.3,171.9 381.9,170.0 378.9,165.8 373.3,167.6" fill="#ff7144"/><polygon points="397.8,174.8 403.4,173.3 400.3,169.1 394.8,170.6" fill="#ff7739"/><polygon points="295.9,177.5 301.6,174.1 298.8,169.7 293.2,173.0" fill="#ff9a69"/><polygon points="427.5,181.3 433.0,180.3 429.9,176.2 424.4,177.2" fill="#ff8f2a"/><polygon points="465.4,192.6 470.8,192.1 467.5,188.1 462.2,188.6" fill="#ffc71b"/><polygon points="362.9,171.7 368.5,169.6 365.5,165.4 359.9,167.5" fill="#ff734c"/><polygon points="309.3,175.5 314.9,172.4 312.1,168.0 306.5,171.0" fill="#ff9065"/><polygon points="473.6,195.9 479.0,195.5 475.7,191.5 470.3,191.9" fill="#ffd718"/><polygon points="349.4,172.0 355.1,169.7 352.2,165.4 346.5,167.7" fill="#ff7753"/><polygon points="406.0,177.3 411.5,175.8 408.5,171.7 402.9,173.1" fill="#ff7e35"/><polygon points="384.4,174.1 390.0,172.3 387.0,168.1 381.4,169.9" fill="#ff7541"/><polygon points="322.6,173.9 328.3,171.1 325.5,166.7 319.8,169.5" fill="#ff8660"/><polygon points="336.0,172.8 341.7,170.2 338.8,165.9 333.2,168.4" fill="#ff7e5a"/><polygon points="435.7,184.2 441.2,183.2 438.0,179.2 432.6,180.1" fill="#ff9a27"/><polygon points="290.5,180.7 296.2,177.3 293.5,172.8 287.8,176.2" fill="#ffa46c"/><polygon points="481.8,199.2 487.1,198.9 483.8,195.0 478.5,195.3" fill="#ffe816"/><polygon points="490.0,202.7 495.3,202.5 491.9,198.5 486.6,198.7" fill="#fffa14"/><polygon points="371.0,173.8 376.6,171.8 373.6,167.5 368.0,169.5" fill="#ff7548"/><polygon points="443.9,187.1 449.4,186.2 446.2,182.2 440.7,183.0" fill="#ffa524"/><polygon points="414.2,179.8 419.7,178.5 416.6,174.4 411.0,175.7" fill="#ff8532"/><polygon points="303.9,178.5 309.6,175.3 306.8,170.9 301.1,174.1" fill="#ff9968"/><polygon points="498.2,206.2 503.5,206.1 500.1,202.2 494.8,202.3" fill="#f1ff12"/><polygon points="392.6,176.3 398.2,174.7 395.1,170.5 389.5,172.2" fill="#ff793d"/><polygon points="285.2,184.2 290.9,180.5 288.1,176.0 282.5,179.6" fill="#ffae6d"/><polygon points="357.5,173.9 363.2,171.6 360.2,167.4 354.6,169.6" fill="#ff7850"/><polygon points="506.4,209.9 511.6,209.8 508.2,205.9 503.0,205.9" fill="#ddff10"/><polygon points="317.3,176.7 322.9,173.8 320.1,169.4 314.4,172.3" fill="#ff8f63"/><polygon points="452.1,190.1 457.5,189.4 454.3,185.3 448.9,186.1" fill="#ffb221"/><polygon points="344.1,174.4 349.8,171.9 346.9,167.6 341.2,170.1" fill="#ff7e57"/><polygon points="514.6,213.6 519.8,213.7 516.4,209.7 511.2,209.6" fill="#c8ff0e"/><polygon points="330.7,175.4 336.3,172.6 333.5,168.3 327.8,171.0" fill="#ff865e"/><polygon points="422.3,182.5 427.9,181.3 424.7,177.2 419.2,178.4" fill="#ff8d2e"/><polygon points="522.8,217.4 528.0,217.5 524.5,213.6 519.3,213.4" fill="#b3ff0c"/><polygon points="531.0,221.2 536.1,221.5 532.6,217.6 527.5,217.3" fill="#9cff0b"/><polygon points="379.1,175.9 384.7,174.0 381.7,169.8 376.1,171.6" fill="#ff7845"/><polygon points="539.2,225.2 544.3,225.6 540.8,221.7 535.6,221.3" fill="#83fd09"/><polygon points="298.5,181.7 304.2,178.3 301.4,173.9 295.8,177.2" fill="#ffa26a"/><polygon points="547.4,229.2 552.4,229.7 548.9,225.8 543.8,225.3" fill="#69f908"/><polygon points="460.3,193.2 465.7,192.6 462.5,188.5 457.1,189.2" fill="#ffbf1e"/><polygon points="400.7,178.7 406.3,177.2 403.2,173.0 397.7,174.5" fill="#ff7f3a"/><polygon points="430.5,185.2 436.0,184.1 432.9,180.0 427.4,181.1" fill="#ff962b"/><polygon points="365.7,175.8 371.3,173.6 368.3,169.4 362.7,171.5" fill="#ff7a4d"/><polygon points="468.5,196.4 473.9,195.9 470.6,191.8 465.2,192.4" fill="#ffce1b"/><polygon points="311.9,179.7 317.6,176.6 314.8,172.1 309.1,175.2" fill="#ff9766"/><polygon points="352.2,176.1 357.9,173.7 354.9,169.4 349.3,171.8" fill="#ff7f54"/><polygon points="325.3,178.1 331.0,175.2 328.1,170.8 322.5,173.7" fill="#ff8e61"/><polygon points="408.9,181.2 414.5,179.7 411.4,175.6 405.8,177.0" fill="#ff8536"/><polygon points="293.1,185.0 298.8,181.5 296.1,177.0 290.4,180.5" fill="#ffab6d"/><polygon points="387.3,178.0 392.9,176.3 389.8,172.1 384.2,173.8" fill="#ff7c42"/><polygon points="338.7,176.9 344.4,174.3 341.5,169.9 335.9,172.5" fill="#ff855b"/><polygon points="476.7,199.7 482.1,199.2 478.8,195.2 473.4,195.7" fill="#ffdd19"/><polygon points="438.7,188.0 444.2,187.1 441.0,183.0 435.5,183.9" fill="#ffa128"/><polygon points="485.0,203.0 490.3,202.7 486.9,198.7 481.6,199.0" fill="#ffee16"/><polygon points="306.5,182.8 312.2,179.5 309.4,175.1 303.7,178.3" fill="#ffa069"/><polygon points="373.8,177.8 379.4,175.7 376.4,171.5 370.8,173.5" fill="#ff7d49"/><polygon points="493.2,206.5 498.5,206.2 495.1,202.3 489.8,202.5" fill="#feff14"/><polygon points="417.1,183.7 422.6,182.4 419.5,178.3 414.0,179.6" fill="#ff8c33"/><polygon points="447.0,191.0 452.4,190.1 449.2,186.0 443.7,186.9" fill="#ffac25"/><polygon points="287.8,188.5 293.5,184.8 290.7,180.3 285.0,183.9" fill="#ffb56e"/><polygon points="395.4,180.3 401.0,178.6 398.0,174.5 392.4,176.1" fill="#ff803e"/><polygon points="501.4,210.0 506.7,209.9 503.3,205.9 498.0,206.0" fill="#ecff12"/><polygon points="319.9,180.9 325.6,177.9 322.8,173.5 317.1,176.5" fill="#ff9664"/><polygon points="360.3,177.9 366.0,175.7 363.0,171.4 357.4,173.6" fill="#ff8051"/><polygon points="333.4,179.5 339.1,176.7 336.2,172.4 330.5,175.1" fill="#ff8d5f"/><polygon points="346.8,178.5 352.5,176.0 349.6,171.7 343.9,174.2" fill="#ff8658"/><polygon points="509.6,213.6 514.9,213.6 511.4,209.6 506.2,209.6" fill="#d8ff10"/><polygon points="455.2,194.0 460.6,193.2 457.4,189.1 451.9,189.9" fill="#ffb822"/><polygon points="425.3,186.4 430.8,185.2 427.7,181.0 422.2,182.2" fill="#ff942f"/><polygon points="517.9,217.3 523.1,217.4 519.6,213.4 514.4,213.3" fill="#c3ff0e"/><polygon points="301.1,186.0 306.8,182.6 304.1,178.1 298.4,181.5" fill="#ffa96b"/><polygon points="382.0,179.9 387.6,177.9 384.6,173.7 379.0,175.6" fill="#ff8046"/><polygon points="526.1,221.1 531.3,221.2 527.8,217.3 522.6,217.1" fill="#adff0c"/><polygon points="403.6,182.7 409.2,181.1 406.1,176.9 400.6,178.5" fill="#ff863a"/><polygon points="534.3,225.0 539.5,225.2 535.9,221.3 530.8,221.0" fill="#97ff0b"/><polygon points="463.4,197.1 468.8,196.4 465.5,192.3 460.1,193.0" fill="#ffc61f"/><polygon points="542.5,228.9 547.7,229.3 544.1,225.3 539.0,225.0" fill="#7efd09"/><polygon points="314.6,183.9 320.3,180.8 317.4,176.3 311.7,179.4" fill="#ff9e67"/><polygon points="368.5,179.8 374.1,177.7 371.1,173.4 365.5,175.5" fill="#ff824e"/><polygon points="433.5,189.1 439.0,188.0 435.9,183.9 430.4,185.0" fill="#ff9d2c"/><polygon points="471.6,200.2 477.0,199.6 473.7,195.6 468.3,196.2" fill="#ffd41c"/><polygon points="328.0,182.3 333.7,179.4 330.8,175.0 325.1,177.8" fill="#ff9562"/><polygon points="355.0,180.2 360.6,177.8 357.7,173.5 352.0,175.9" fill="#ff8655"/><polygon points="295.8,189.3 301.5,185.8 298.7,181.3 293.0,184.8" fill="#ffb26e"/><polygon points="341.5,181.0 347.2,178.4 344.3,174.0 338.6,176.7" fill="#ff8d5c"/><polygon points="390.1,182.0 395.8,180.2 392.7,176.0 387.1,177.8" fill="#ff8342"/><polygon points="411.8,185.1 417.4,183.7 414.3,179.5 408.7,181.0" fill="#ff8c37"/><polygon points="479.9,203.5 485.3,203.0 481.9,199.0 476.6,199.4" fill="#ffe319"/><polygon points="441.8,191.9 447.3,190.9 444.0,186.8 438.6,187.8" fill="#ffa728"/><polygon points="309.2,187.0 314.9,183.7 312.1,179.3 306.4,182.5" fill="#ffa76a"/><polygon points="488.1,206.8 493.5,206.5 490.1,202.5 484.8,202.8" fill="#fff417"/><polygon points="376.6,181.8 382.3,179.8 379.3,175.5 373.6,177.5" fill="#ff844a"/><polygon points="290.4,192.8 296.1,189.1 293.3,184.6 287.6,188.2" fill="#ffbc6f"/><polygon points="420.1,187.7 425.6,186.3 422.5,182.2 416.9,183.5" fill="#ff9333"/><polygon points="450.0,194.8 455.5,193.9 452.2,189.8 446.8,190.7" fill="#ffb325"/><polygon points="496.4,210.3 501.7,210.0 498.3,206.0 493.0,206.2" fill="#f8ff14"/><polygon points="398.4,184.3 404.0,182.6 400.9,178.4 395.3,180.1" fill="#ff883f"/><polygon points="322.6,185.1 328.3,182.1 325.5,177.7 319.8,180.7" fill="#ff9d65"/><polygon points="363.1,182.0 368.8,179.7 365.8,175.4 360.2,177.7" fill="#ff8752"/><polygon points="336.1,183.7 341.8,180.9 338.9,176.5 333.2,179.3" fill="#ff9460"/><polygon points="349.6,182.6 355.3,180.1 352.4,175.7 346.7,178.3" fill="#ff8d59"/><polygon points="504.6,213.8 509.9,213.6 506.5,209.6 501.2,209.8" fill="#e6ff12"/><polygon points="458.3,197.8 463.7,197.0 460.4,192.9 455.0,193.7" fill="#ffbf22"/><polygon points="303.8,190.3 309.5,186.8 306.7,182.3 301.0,185.7" fill="#ffb06c"/><polygon points="512.9,217.4 518.2,217.3 514.7,213.3 509.4,213.4" fill="#d2ff10"/><polygon points="428.3,190.3 433.8,189.0 430.7,184.9 425.1,186.2" fill="#ff9b30"/><polygon points="384.8,183.9 390.5,181.9 387.4,177.7 381.8,179.6" fill="#ff8747"/><polygon points="521.2,221.1 526.4,221.1 522.9,217.1 517.7,217.1" fill="#beff0e"/><polygon points="406.6,186.7 412.2,185.1 409.0,180.9 403.5,182.4" fill="#ff8d3b"/><polygon points="529.4,224.8 534.6,225.0 531.1,221.0 525.9,220.9" fill="#a8ff0d"/><polygon points="466.5,200.9 472.0,200.2 468.6,196.1 463.2,196.8" fill="#ffcc1f"/><polygon points="317.2,188.2 322.9,185.0 320.1,180.5 314.4,183.7" fill="#ffa568"/><polygon points="537.7,228.7 542.8,228.9 539.3,225.0 534.1,224.7" fill="#92ff0b"/><polygon points="371.3,183.9 377.0,181.7 374.0,177.4 368.3,179.6" fill="#ff894f"/><polygon points="436.6,193.0 442.1,191.9 438.9,187.8 433.4,188.9" fill="#ffa42c"/><polygon points="298.4,193.6 304.1,190.1 301.3,185.5 295.6,189.1" fill="#ffb96f"/><polygon points="330.7,186.5 336.4,183.5 333.5,179.1 327.8,182.0" fill="#ff9c63"/><polygon points="357.8,184.3 363.4,181.9 360.5,177.6 354.8,180.0" fill="#ff8d56"/><polygon points="474.8,204.1 480.2,203.5 476.9,199.4 471.5,200.0" fill="#ffda1c"/><polygon points="344.2,185.2 349.9,182.5 347.0,178.1 341.3,180.8" fill="#ff945d"/><polygon points="393.0,186.1 398.7,184.2 395.6,180.0 390.0,181.8" fill="#ff8a43"/><polygon points="414.8,189.1 420.4,187.6 417.2,183.4 411.7,184.9" fill="#ff9338"/><polygon points="483.1,207.3 488.4,206.8 485.1,202.8 479.7,203.3" fill="#ffea1a"/><polygon points="444.8,195.8 450.3,194.8 447.1,190.7 441.6,191.7" fill="#ffae29"/><polygon points="311.8,191.3 317.6,188.0 314.7,183.5 309.0,186.8" fill="#ffae6b"/><polygon points="293.0,197.1 298.7,193.4 295.9,188.9 290.2,192.5" fill="#ffc370"/><polygon points="379.5,185.9 385.2,183.8 382.1,179.5 376.5,181.6" fill="#ff8b4b"/><polygon points="491.3,210.7 496.7,210.2 493.3,206.2 487.9,206.6" fill="#fffa17"/><polygon points="325.3,189.4 331.0,186.3 328.2,181.8 322.5,184.9" fill="#ffa466"/><polygon points="423.1,191.6 428.6,190.2 425.4,186.1 419.9,187.4" fill="#ff9a34"/><polygon points="401.3,188.3 406.9,186.6 403.8,182.4 398.2,184.1" fill="#ff8f40"/><polygon points="453.1,198.7 458.6,197.8 455.3,193.7 449.8,194.6" fill="#ffb926"/><polygon points="365.9,186.1 371.6,183.8 368.6,179.5 363.0,181.8" fill="#ff8e53"/><polygon points="499.6,214.1 504.9,213.8 501.5,209.8 496.2,210.0" fill="#f3ff15"/><polygon points="338.8,187.9 344.6,185.0 341.6,180.6 335.9,183.4" fill="#ff9b61"/><polygon points="352.4,186.8 358.1,184.2 355.1,179.8 349.4,182.4" fill="#ff945a"/><polygon points="306.4,194.6 312.2,191.1 309.3,186.6 303.6,190.0" fill="#ffb76d"/><polygon points="507.9,217.6 513.2,217.4 509.7,213.4 504.5,213.6" fill="#e0ff13"/><polygon points="461.4,201.7 466.8,200.9 463.5,196.8 458.1,197.6" fill="#ffc523"/><polygon points="431.3,194.3 436.9,193.0 433.7,188.8 428.1,190.1" fill="#ffa231"/><polygon points="387.7,188.0 393.4,186.0 390.3,181.7 384.7,183.7" fill="#ff8e48"/><polygon points="516.2,221.2 521.5,221.1 518.0,217.1 512.7,217.2" fill="#cdff11"/><polygon points="409.5,190.7 415.1,189.0 412.0,184.8 406.4,186.4" fill="#ff943c"/><polygon points="524.5,224.9 529.7,224.9 526.2,220.9 521.0,220.9" fill="#b9ff0f"/><polygon points="319.9,192.4 325.6,189.2 322.8,184.7 317.1,187.9" fill="#ffac69"/><polygon points="469.7,204.8 475.1,204.0 471.8,200.0 466.3,200.7" fill="#ffd220"/><polygon points="532.8,228.6 538.0,228.7 534.4,224.7 529.2,224.6" fill="#a3ff0d"/><polygon points="374.1,188.0 379.8,185.8 376.8,181.5 371.1,183.7" fill="#ff9050"/><polygon points="301.0,198.0 306.8,194.4 303.9,189.8 298.2,193.4" fill="#ffc070"/><polygon points="333.4,190.7 339.2,187.7 336.3,183.3 330.6,186.2" fill="#ffa364"/><polygon points="439.6,197.0 445.1,195.8 441.9,191.6 436.4,192.8" fill="#ffab2d"/><polygon points="360.6,188.5 366.3,186.0 363.3,181.6 357.6,184.1" fill="#ff9557"/><polygon points="347.0,189.4 352.7,186.6 349.8,182.2 344.1,184.9" fill="#ff9b5e"/><polygon points="477.9,207.9 483.4,207.3 480.0,203.2 474.6,203.8" fill="#ffe01d"/><polygon points="395.9,190.1 401.6,188.2 398.5,184.0 392.9,185.8" fill="#ff9244"/><polygon points="417.8,193.1 423.4,191.6 420.2,187.4 414.6,188.9" fill="#ff9a39"/><polygon points="314.5,195.6 320.2,192.2 317.4,187.7 311.7,191.0" fill="#ffb56c"/><polygon points="295.6,201.5 301.4,197.8 298.6,193.2 292.8,196.9" fill="#ffc971"/><polygon points="447.9,199.8 453.4,198.7 450.1,194.5 444.6,195.6" fill="#ffb52a"/><polygon points="486.2,211.2 491.6,210.6 488.3,206.6 482.9,207.1" fill="#fff01a"/><polygon points="382.4,190.0 388.0,187.8 385.0,183.5 379.3,185.6" fill="#ff924c"/><polygon points="328.0,193.6 333.8,190.5 330.9,186.0 325.2,189.1" fill="#ffab67"/><polygon points="494.6,214.5 499.9,214.1 496.5,210.0 491.1,210.4" fill="#feff18"/><polygon points="426.1,195.6 431.6,194.2 428.4,190.0 422.9,191.4" fill="#ffa135"/><polygon points="368.8,190.3 374.5,187.9 371.5,183.5 365.8,185.9" fill="#ff9654"/><polygon points="404.2,192.3 409.8,190.6 406.7,186.3 401.1,188.1" fill="#ff9641"/><polygon points="341.6,192.1 347.3,189.2 344.4,184.8 338.7,187.6" fill="#ffa262"/><polygon points="456.2,202.6 461.7,201.7 458.4,197.5 452.9,198.5" fill="#ffc027"/><polygon points="355.2,191.0 360.9,188.3 357.9,184.0 352.2,186.5" fill="#ff9b5b"/><polygon points="309.1,198.9 314.8,195.4 312.0,190.9 306.3,194.3" fill="#ffbe6e"/><polygon points="502.9,217.9 508.2,217.6 504.8,213.5 499.4,213.9" fill="#edff15"/><polygon points="511.2,221.4 516.5,221.2 513.0,217.2 507.7,217.4" fill="#dbff13"/><polygon points="390.6,192.0 396.3,190.0 393.2,185.7 387.5,187.7" fill="#ff9549"/><polygon points="464.5,205.6 470.0,204.7 466.6,200.6 461.2,201.5" fill="#ffcb23"/><polygon points="434.3,198.2 439.9,196.9 436.7,192.7 431.1,194.0" fill="#ffa931"/><polygon points="322.6,196.7 328.4,193.5 325.5,188.9 319.8,192.2" fill="#ffb36a"/><polygon points="519.5,225.0 524.8,224.9 521.3,220.8 516.0,221.0" fill="#c8ff11"/><polygon points="412.5,194.7 418.1,193.0 414.9,188.8 409.3,190.4" fill="#ff9b3d"/><polygon points="303.7,202.3 309.4,198.7 306.6,194.1 300.9,197.7" fill="#ffc771"/><polygon points="527.8,228.7 533.0,228.6 529.5,224.6 524.3,224.6" fill="#b3ff0f"/><polygon points="377.0,192.1 382.7,189.8 379.6,185.5 374.0,187.8" fill="#ff9751"/><polygon points="336.2,194.9 341.9,191.9 339.0,187.5 333.3,190.4" fill="#ffaa65"/><polygon points="472.8,208.7 478.3,207.9 474.9,203.8 469.5,204.5" fill="#ffd820"/><polygon points="363.4,192.6 369.1,190.1 366.1,185.7 360.4,188.2" fill="#ff9c58"/><polygon points="349.8,193.6 355.5,190.8 352.5,186.4 346.8,189.1" fill="#ffa25f"/><polygon points="442.7,200.9 448.2,199.7 444.9,195.5 439.4,196.7" fill="#ffb12e"/><polygon points="398.9,194.2 404.5,192.2 401.4,188.0 395.8,189.9" fill="#ff9945"/><polygon points="481.1,211.8 486.6,211.1 483.2,207.1 477.8,207.7" fill="#ffe61e"/><polygon points="420.8,197.1 426.4,195.5 423.2,191.3 417.6,192.9" fill="#ffa13a"/><polygon points="317.2,199.9 323.0,196.5 320.1,192.0 314.4,195.3" fill="#ffbc6d"/><polygon points="298.3,205.9 304.0,202.1 301.2,197.5 295.5,201.2" fill="#ffd072"/><polygon points="451.0,203.7 456.5,202.6 453.2,198.4 447.7,199.5" fill="#ffbb2b"/><polygon points="489.5,215.0 494.9,214.5 491.4,210.4 486.1,210.9" fill="#fff51b"/><polygon points="385.3,194.1 390.9,191.9 387.9,187.6 382.2,189.7" fill="#ff994d"/><polygon points="330.8,197.9 336.5,194.8 333.6,190.3 327.9,193.4" fill="#ffb268"/><polygon points="371.6,194.4 377.3,192.0 374.3,187.6 368.6,190.0" fill="#ff9d55"/><polygon points="344.4,196.3 350.1,193.4 347.2,189.0 341.4,191.8" fill="#ffa963"/><polygon points="429.1,199.6 434.7,198.1 431.4,193.9 425.9,195.4" fill="#ffa836"/><polygon points="497.8,218.4 503.2,217.9 499.7,213.8 494.4,214.3" fill="#f9ff18"/><polygon points="407.2,196.4 412.8,194.6 409.7,190.3 404.0,192.1" fill="#ff9d42"/><polygon points="358.0,195.1 363.7,192.5 360.7,188.1 355.0,190.7" fill="#ffa25c"/><polygon points="311.8,203.2 317.5,199.7 314.7,195.1 308.9,198.6" fill="#ffc56f"/><polygon points="459.3,206.6 464.8,205.6 461.5,201.4 456.0,202.4" fill="#ffc627"/><polygon points="506.1,221.8 511.5,221.4 508.0,217.3 502.7,217.7" fill="#e7ff16"/><polygon points="393.5,196.1 399.2,194.0 396.1,189.7 390.4,191.8" fill="#ff9c4a"/><polygon points="325.3,201.0 331.1,197.7 328.2,193.2 322.5,196.4" fill="#ffba6b"/><polygon points="514.5,225.2 519.8,225.0 516.3,220.9 511.0,221.2" fill="#d5ff13"/><polygon points="467.6,209.5 473.1,208.6 469.8,204.5 464.3,205.4" fill="#ffd224"/><polygon points="437.4,202.2 443.0,200.8 439.7,196.7 434.2,198.0" fill="#ffaf32"/><polygon points="415.5,198.7 421.1,197.0 417.9,192.8 412.3,194.4" fill="#ffa23e"/><polygon points="306.4,206.7 312.1,203.0 309.3,198.4 303.5,202.1" fill="#ffce72"/><polygon points="522.8,228.8 528.1,228.7 524.6,224.6 519.3,224.8" fill="#c2ff11"/><polygon points="379.9,196.2 385.6,193.9 382.5,189.6 376.8,191.9" fill="#ff9e52"/><polygon points="339.0,199.2 344.7,196.1 341.8,191.7 336.0,194.7" fill="#ffb166"/><polygon points="366.2,196.8 371.9,194.3 368.9,189.9 363.2,192.4" fill="#ffa359"/><polygon points="352.6,197.8 358.3,195.0 355.3,190.6 349.6,193.3" fill="#ffa960"/><polygon points="476.0,212.6 481.4,211.8 478.1,207.7 472.6,208.4" fill="#ffdf21"/><polygon points="445.7,204.9 451.3,203.6 448.0,199.5 442.5,200.7" fill="#ffb82f"/><polygon points="401.8,198.2 407.5,196.3 404.3,192.0 398.7,193.9" fill="#ff9f46"/><polygon points="319.9,204.2 325.7,200.8 322.8,196.3 317.0,199.7" fill="#ffc36e"/><polygon points="300.9,210.3 306.7,206.5 303.8,201.9 298.1,205.6" fill="#ffd773"/><polygon points="423.8,201.1 429.4,199.5 426.2,195.3 420.6,196.9" fill="#ffa83a"/><polygon points="484.3,215.7 489.8,215.0 486.4,210.9 480.9,211.6" fill="#ffec1e"/><polygon points="388.2,198.2 393.8,196.0 390.8,191.7 385.1,193.8" fill="#ffa04e"/><polygon points="454.1,207.7 459.6,206.5 456.3,202.3 450.8,203.5" fill="#ffc22b"/><polygon points="333.5,202.2 339.3,199.0 336.4,194.5 330.6,197.6" fill="#ffb96a"/><polygon points="492.7,218.9 498.1,218.3 494.7,214.2 489.3,214.8" fill="#fffb1b"/><polygon points="374.5,198.6 380.2,196.1 377.2,191.7 371.4,194.1" fill="#ffa456"/><polygon points="347.2,200.6 352.9,197.6 349.9,193.2 344.2,196.1" fill="#ffb064"/><polygon points="314.5,207.6 320.2,204.0 317.4,199.5 311.6,203.0" fill="#ffcb70"/><polygon points="360.8,199.3 366.5,196.7 363.5,192.2 357.8,194.9" fill="#ffa95e"/><polygon points="410.1,200.5 415.8,198.6 412.6,194.3 407.0,196.1" fill="#ffa443"/><polygon points="432.1,203.6 437.7,202.1 434.5,197.9 428.9,199.4" fill="#ffae37"/><polygon points="501.1,222.2 506.4,221.7 503.0,217.7 497.6,218.1" fill="#f3ff19"/><polygon points="462.4,210.5 467.9,209.5 464.6,205.3 459.1,206.3" fill="#ffcc28"/><polygon points="509.4,225.6 514.8,225.2 511.3,221.2 505.9,221.5" fill="#e2ff16"/><polygon points="328.1,205.3 333.8,202.0 330.9,197.5 325.2,200.7" fill="#ffc16c"/><polygon points="396.5,200.2 402.1,198.1 399.0,193.8 393.3,195.9" fill="#ffa34b"/><polygon points="440.5,206.2 446.0,204.8 442.8,200.6 437.2,202.0" fill="#ffb633"/><polygon points="309.0,211.1 314.8,207.4 311.9,202.8 306.2,206.4" fill="#ffd473"/><polygon points="470.8,213.5 476.3,212.5 472.9,208.4 467.4,209.3" fill="#ffd825"/><polygon points="517.8,229.1 523.1,228.8 519.6,224.8 514.3,225.0" fill="#d0ff14"/><polygon points="418.5,202.8 424.1,201.0 420.9,196.8 415.3,198.5" fill="#ffa93f"/><polygon points="341.7,203.5 347.5,200.4 344.5,195.9 338.8,198.9" fill="#ffb867"/><polygon points="382.8,200.4 388.5,198.1 385.4,193.7 379.7,196.0" fill="#ffa553"/><polygon points="355.4,202.0 361.1,199.2 358.1,194.7 352.4,197.5" fill="#ffb061"/><polygon points="369.1,201.0 374.8,198.4 371.8,194.0 366.1,196.6" fill="#ffa95b"/><polygon points="479.2,216.5 484.6,215.7 481.2,211.5 475.8,212.3" fill="#ffe522"/><polygon points="322.6,208.6 328.4,205.1 325.5,200.6 319.8,204.0" fill="#ffc96f"/><polygon points="448.8,208.9 454.4,207.6 451.1,203.4 445.5,204.6" fill="#ffbf30"/><polygon points="303.6,214.7 309.4,210.9 306.5,206.2 300.8,210.0" fill="#ffdd74"/><polygon points="404.8,202.3 410.4,200.3 407.3,196.0 401.6,198.0" fill="#ffa647"/><polygon points="426.8,205.2 432.4,203.5 429.2,199.3 423.6,200.9" fill="#ffae3b"/><polygon points="487.6,219.6 493.0,218.9 489.6,214.8 484.1,215.5" fill="#fff21f"/><polygon points="336.3,206.5 342.1,203.3 339.1,198.8 333.4,201.9" fill="#ffbf6b"/><polygon points="391.1,202.3 396.8,200.1 393.7,195.7 388.0,197.9" fill="#ffa750"/><polygon points="457.2,211.6 462.7,210.4 459.4,206.3 453.9,207.4" fill="#ffc82c"/><polygon points="350.0,204.8 355.7,201.9 352.7,197.4 347.0,200.3" fill="#ffb765"/><polygon points="495.9,222.8 501.4,222.2 497.9,218.1 492.5,218.7" fill="#fdff1c"/><polygon points="317.2,212.0 323.0,208.4 320.1,203.8 314.3,207.3" fill="#ffd271"/><polygon points="377.4,202.7 383.1,200.3 380.0,195.9 374.3,198.3" fill="#ffaa57"/><polygon points="363.7,203.6 369.4,200.8 366.4,196.4 360.6,199.1" fill="#ffb05f"/><polygon points="413.1,204.5 418.8,202.7 415.6,198.4 409.9,200.2" fill="#ffaa44"/><polygon points="435.2,207.6 440.8,206.1 437.5,201.9 431.9,203.4" fill="#ffb538"/><polygon points="504.3,226.1 509.7,225.6 506.2,221.5 500.9,222.0" fill="#edff19"/><polygon points="465.6,214.5 471.1,213.4 467.8,209.2 462.2,210.3" fill="#ffd329"/><polygon points="330.8,209.7 336.6,206.3 333.7,201.7 327.9,205.1" fill="#ffc76e"/><polygon points="399.4,204.3 405.1,202.2 402.0,197.9 396.3,200.0" fill="#ffaa4c"/><polygon points="311.7,215.5 317.5,211.8 314.6,207.1 308.9,210.8" fill="#ffda74"/><polygon points="512.7,229.5 518.1,229.1 514.6,225.0 509.2,225.4" fill="#dcff17"/><polygon points="443.5,210.2 449.1,208.8 445.9,204.6 440.3,206.0" fill="#ffbc34"/><polygon points="344.5,207.8 350.3,204.6 347.3,200.1 341.6,203.2" fill="#ffbe69"/><polygon points="474.0,217.4 479.5,216.4 476.1,212.3 470.6,213.2" fill="#ffde25"/><polygon points="421.5,206.8 427.1,205.1 423.9,200.8 418.3,202.5" fill="#ffaf40"/><polygon points="385.7,204.6 391.4,202.2 388.3,197.8 382.6,200.1" fill="#ffac54"/><polygon points="358.2,206.3 364.0,203.4 361.0,198.9 355.2,201.8" fill="#ffb663"/><polygon points="371.9,205.2 377.7,202.6 374.6,198.2 368.9,200.7" fill="#ffb05c"/><polygon points="325.4,213.0 331.2,209.5 328.2,204.9 322.5,208.3" fill="#ffd070"/><polygon points="306.3,219.2 312.1,215.3 309.2,210.6 303.4,214.5" fill="#ffe475"/><polygon points="482.4,220.4 487.9,219.6 484.4,215.4 479.0,216.3" fill="#ffeb22"/><polygon points="451.9,212.9 457.5,211.6 454.2,207.3 448.6,208.6" fill="#ffc530"/><polygon points="407.8,206.4 413.4,204.4 410.3,200.1 404.6,202.1" fill="#ffad48"/><polygon points="429.9,209.2 435.5,207.5 432.2,203.3 426.6,204.9" fill="#ffb53c"/><polygon points="339.1,210.8 344.8,207.6 341.9,203.0 336.1,206.2" fill="#ffc66c"/><polygon points="490.8,223.6 496.2,222.8 492.8,218.7 487.4,219.4" fill="#fff81f"/><polygon points="394.0,206.5 399.7,204.2 396.6,199.8 390.9,202.1" fill="#ffae51"/><polygon points="319.9,216.4 325.7,212.8 322.8,208.1 317.0,211.7" fill="#ffd873"/><polygon points="460.3,215.6 465.9,214.4 462.6,210.2 457.0,211.4" fill="#ffce2d"/><polygon points="352.8,209.1 358.6,206.1 355.6,201.6 349.8,204.6" fill="#ffbd66"/><polygon points="380.3,206.9 386.0,204.4 382.9,200.0 377.2,202.5" fill="#ffb158"/><polygon points="366.5,207.8 372.3,205.0 369.2,200.6 363.5,203.3" fill="#ffb660"/><polygon points="499.2,226.8 504.6,226.1 501.2,222.0 495.7,222.6" fill="#f7ff1c"/><polygon points="416.1,208.6 421.8,206.7 418.6,202.4 412.9,204.3" fill="#ffb145"/><polygon points="438.2,211.7 443.9,210.1 440.6,205.9 435.0,207.4" fill="#ffbb38"/><polygon points="333.6,214.0 339.4,210.6 336.4,206.1 330.7,209.4" fill="#ffce6f"/><polygon points="468.8,218.5 474.3,217.4 470.9,213.2 465.4,214.2" fill="#ffd929"/><polygon points="507.6,230.0 513.0,229.5 509.5,225.4 504.1,225.9" fill="#e8ff1a"/><polygon points="314.5,219.9 320.2,216.2 317.4,211.5 311.6,215.2" fill="#ffe175"/><polygon points="402.4,208.5 408.1,206.3 404.9,202.0 399.2,204.1" fill="#ffb04d"/><polygon points="347.3,212.1 353.1,208.9 350.1,204.4 344.3,207.5" fill="#ffc56a"/><polygon points="446.7,214.2 452.3,212.8 449.0,208.6 443.4,210.0" fill="#ffc335"/><polygon points="424.5,210.9 430.2,209.1 426.9,204.8 421.3,206.6" fill="#ffb641"/><polygon points="388.6,208.7 394.3,206.3 391.2,201.9 385.5,204.3" fill="#ffb255"/><polygon points="477.2,221.4 482.7,220.4 479.3,216.2 473.8,217.2" fill="#ffe426"/><polygon points="361.1,210.5 366.8,207.6 363.8,203.2 358.1,206.0" fill="#ffbd64"/><polygon points="374.8,209.4 380.6,206.8 377.5,202.3 371.8,204.9" fill="#ffb75d"/><polygon points="309.0,223.6 314.8,219.7 311.9,215.0 306.1,218.9" fill="#ffea76"/><polygon points="328.1,217.3 333.9,213.8 331.0,209.2 325.2,212.7" fill="#ffd671"/><polygon points="485.6,224.4 491.1,223.5 487.7,219.3 482.2,220.2" fill="#fff123"/><polygon points="410.8,210.6 416.4,208.5 413.3,204.2 407.6,206.2" fill="#ffb449"/><polygon points="455.1,216.9 460.7,215.6 457.3,211.3 451.7,212.6" fill="#ffcb31"/><polygon points="432.9,213.3 438.6,211.6 435.3,207.3 429.7,209.0" fill="#ffbb3d"/><polygon points="341.9,215.2 347.7,211.9 344.7,207.3 338.9,210.6" fill="#ffcc6d"/><polygon points="397.0,210.6 402.7,208.4 399.5,204.0 393.8,206.2" fill="#ffb452"/><polygon points="494.1,227.5 499.5,226.7 496.1,222.6 490.6,223.3" fill="#fffe20"/><polygon points="322.7,220.8 328.5,217.1 325.5,212.5 319.8,216.1" fill="#ffde74"/><polygon points="355.6,213.4 361.4,210.4 358.4,205.8 352.6,208.8" fill="#ffc467"/><polygon points="383.2,211.1 388.9,208.6 385.8,204.2 380.1,206.7" fill="#ffb85a"/><polygon points="463.5,219.6 469.1,218.4 465.7,214.2 460.2,215.4" fill="#ffd52e"/><polygon points="369.4,212.1 375.2,209.3 372.1,204.8 366.3,207.5" fill="#ffbd61"/><polygon points="419.1,212.8 424.8,210.8 421.6,206.5 415.9,208.4" fill="#ffb846"/><polygon points="502.5,230.7 507.9,230.0 504.4,225.9 499.0,226.5" fill="#f2ff1d"/><polygon points="441.3,215.8 447.0,214.2 443.7,209.9 438.1,211.4" fill="#ffc239"/><polygon points="336.4,218.4 342.2,215.0 339.2,210.4 333.4,213.8" fill="#ffd470"/><polygon points="317.2,224.4 323.0,220.6 320.1,215.9 314.3,219.7" fill="#ffe776"/><polygon points="471.9,222.5 477.5,221.3 474.1,217.1 468.6,218.2" fill="#ffdf2a"/><polygon points="405.4,212.6 411.1,210.5 407.9,206.1 402.2,208.2" fill="#ffb74e"/><polygon points="350.1,216.4 355.9,213.2 352.9,208.7 347.2,211.8" fill="#ffcb6b"/><polygon points="391.6,212.9 397.3,210.5 394.2,206.1 388.4,208.5" fill="#ffb956"/><polygon points="449.8,218.3 455.4,216.8 452.1,212.6 446.5,214.0" fill="#ffc936"/><polygon points="427.6,215.0 433.2,213.2 430.0,208.9 424.3,210.7" fill="#ffbc42"/><polygon points="363.9,214.8 369.7,211.9 366.7,207.4 360.9,210.3" fill="#ffc365"/><polygon points="377.7,213.7 383.5,211.0 380.4,206.5 374.7,209.2" fill="#ffbd5e"/><polygon points="480.4,225.4 485.9,224.4 482.5,220.2 477.0,221.2" fill="#ffea27"/><polygon points="311.7,228.1 317.5,224.2 314.6,219.5 308.8,223.4" fill="#fff077"/><polygon points="330.9,221.8 336.7,218.2 333.8,213.6 328.0,217.1" fill="#ffdc72"/><polygon points="413.8,214.7 419.5,212.6 416.3,208.3 410.6,210.3" fill="#ffba4a"/><polygon points="488.9,228.4 494.4,227.5 490.9,223.3 485.4,224.2" fill="#fff624"/><polygon points="458.2,220.9 463.8,219.6 460.5,215.3 454.9,216.7" fill="#ffd132"/><polygon points="344.7,219.5 350.5,216.2 347.5,211.6 341.7,214.9" fill="#ffd36e"/><polygon points="436.0,217.4 441.7,215.7 438.4,211.4 432.7,213.0" fill="#ffc23e"/><polygon points="325.4,225.2 331.2,221.6 328.3,216.9 322.5,220.5" fill="#ffe475"/><polygon points="399.9,214.8 405.7,212.5 402.5,208.1 396.8,210.4" fill="#ffbb53"/><polygon points="358.5,217.7 364.3,214.7 361.2,210.1 355.4,213.1" fill="#ffca68"/><polygon points="497.3,231.5 502.8,230.7 499.3,226.5 493.9,227.3" fill="#faff20"/><polygon points="386.1,215.4 391.9,212.8 388.8,208.4 383.0,210.9" fill="#ffbe5b"/><polygon points="372.3,216.3 378.1,213.5 375.0,209.0 369.2,211.8" fill="#ffc362"/><polygon points="466.7,223.7 472.3,222.4 468.9,218.2 463.3,219.4" fill="#ffdb2e"/><polygon points="422.2,216.9 427.9,214.9 424.6,210.6 419.0,212.5" fill="#ffbe47"/><polygon points="339.2,222.8 345.0,219.3 342.0,214.7 336.2,218.1" fill="#ffda71"/><polygon points="444.5,219.8 450.1,218.2 446.8,213.9 441.2,215.5" fill="#ffc83a"/><polygon points="319.9,228.9 325.7,225.0 322.8,220.3 317.0,224.1" fill="#ffed77"/><polygon points="475.2,226.5 480.7,225.3 477.3,221.1 471.8,222.2" fill="#ffe52b"/><polygon points="408.4,216.8 414.1,214.6 410.9,210.2 405.2,212.4" fill="#ffbd4f"/><polygon points="353.0,220.8 358.8,217.6 355.8,213.0 350.0,216.1" fill="#ffd16c"/><polygon points="394.5,217.2 400.3,214.7 397.1,210.3 391.4,212.7" fill="#ffbf57"/><polygon points="366.8,219.1 372.6,216.2 369.5,211.6 363.8,214.6" fill="#ffca66"/><polygon points="314.4,232.6 320.3,228.6 317.3,223.9 311.5,227.8" fill="#fff678"/><polygon points="452.9,222.4 458.5,220.9 455.2,216.6 449.6,218.1" fill="#ffcf37"/><polygon points="430.6,219.2 436.3,217.3 433.1,212.9 427.4,214.8" fill="#ffc343"/><polygon points="380.7,217.9 386.4,215.2 383.3,210.7 377.6,213.4" fill="#ffc45f"/><polygon points="333.7,226.2 339.5,222.6 336.5,217.9 330.7,221.5" fill="#ffe273"/><polygon points="483.6,229.4 489.2,228.3 485.7,224.1 480.2,225.1" fill="#fff027"/><polygon points="416.8,218.9 422.5,216.8 419.3,212.4 413.6,214.5" fill="#ffc14b"/><polygon points="347.5,223.9 353.3,220.6 350.3,216.0 344.5,219.3" fill="#ffd96f"/><polygon points="461.4,225.0 467.0,223.6 463.6,219.3 458.0,220.7" fill="#ffd833"/><polygon points="492.1,232.4 497.7,231.4 494.2,227.2 488.7,228.1" fill="#fffc24"/><polygon points="328.2,229.7 334.0,226.0 331.1,221.3 325.3,225.0" fill="#ffea76"/><polygon points="439.1,221.5 444.8,219.7 441.5,215.4 435.8,217.1" fill="#ffc83f"/><polygon points="402.9,219.1 408.7,216.7 405.5,212.3 399.8,214.6" fill="#ffc154"/><polygon points="361.3,222.1 367.1,219.0 364.1,214.4 358.3,217.5" fill="#ffd06a"/><polygon points="389.1,219.6 394.8,217.0 391.7,212.6 385.9,215.1" fill="#ffc45c"/><polygon points="375.2,220.6 381.0,217.8 377.9,213.3 372.1,216.1" fill="#ffca63"/><polygon points="469.9,227.7 475.5,226.4 472.1,222.2 466.5,223.4" fill="#ffe12f"/><polygon points="342.0,227.2 347.8,223.7 344.8,219.1 339.0,222.5" fill="#ffe072"/><polygon points="425.3,221.1 431.0,219.0 427.7,214.7 422.0,216.6" fill="#ffc448"/><polygon points="322.7,233.4 328.5,229.5 325.6,224.8 319.8,228.6" fill="#fff378"/><polygon points="447.6,223.9 453.2,222.3 449.9,218.0 444.3,219.6" fill="#ffce3b"/><polygon points="355.8,225.1 361.7,221.9 358.6,217.3 352.8,220.5" fill="#ffd76d"/><polygon points="411.4,221.0 417.1,218.8 413.9,214.4 408.2,216.6" fill="#ffc450"/><polygon points="478.4,230.5 484.0,229.3 480.5,225.1 475.0,226.3" fill="#ffeb2c"/><polygon points="317.2,237.1 323.0,233.1 320.1,228.4 314.3,232.3" fill="#fffc79"/><polygon points="369.7,223.5 375.5,220.5 372.4,215.9 366.6,218.9" fill="#ffd067"/><polygon points="397.5,221.4 403.3,218.9 400.1,214.5 394.3,216.9" fill="#ffc658"/><polygon points="336.5,230.6 342.3,227.0 339.3,222.3 333.5,225.9" fill="#ffe875"/><polygon points="383.6,222.2 389.4,219.5 386.3,215.0 380.5,217.7" fill="#ffca60"/><polygon points="433.7,223.3 439.4,221.4 436.1,217.0 430.5,218.9" fill="#ffc944"/><polygon points="456.1,226.5 461.7,224.9 458.4,220.6 452.7,222.1" fill="#ffd637"/><polygon points="486.9,233.4 492.5,232.3 489.0,228.1 483.5,229.2" fill="#fff628"/><polygon points="350.3,228.3 356.2,224.9 353.1,220.3 347.3,223.7" fill="#ffdf70"/><polygon points="419.8,223.1 425.6,220.9 422.3,216.5 416.6,218.6" fill="#ffc74d"/><polygon points="331.0,234.2 336.8,230.4 333.9,225.7 328.0,229.4" fill="#fff077"/><polygon points="464.6,229.1 470.2,227.7 466.8,223.4 461.2,224.8" fill="#ffde34"/><polygon points="442.2,225.6 447.9,223.8 444.6,219.5 438.9,221.3" fill="#ffce40"/><polygon points="364.2,226.4 370.0,223.3 367.0,218.7 361.2,221.8" fill="#ffd76b"/><polygon points="405.9,223.3 411.7,220.9 408.5,216.4 402.8,218.8" fill="#ffc855"/><polygon points="378.1,225.0 383.9,222.1 380.8,217.5 375.0,220.4" fill="#ffd064"/><polygon points="392.0,223.9 397.8,221.3 394.7,216.8 388.9,219.4" fill="#ffcb5d"/><polygon points="344.8,231.6 350.7,228.1 347.7,223.5 341.8,226.9" fill="#ffe673"/><polygon points="325.5,237.9 331.3,234.0 328.4,229.2 322.5,233.1" fill="#fff979"/><polygon points="473.1,231.8 478.7,230.5 475.3,226.2 469.7,227.5" fill="#ffe730"/><polygon points="428.3,225.2 434.1,223.2 430.8,218.8 425.1,220.8" fill="#ffcb49"/><polygon points="450.7,228.1 456.4,226.4 453.0,222.0 447.4,223.7" fill="#ffd53c"/><polygon points="358.7,229.5 364.6,226.3 361.5,221.6 355.7,224.9" fill="#ffde6e"/><polygon points="414.4,225.2 420.2,223.0 416.9,218.5 411.2,220.8" fill="#ffca51"/><polygon points="319.9,241.7 325.8,237.6 322.9,232.9 317.0,236.9" fill="#fcff7a"/><polygon points="481.7,234.6 487.2,233.4 483.8,229.1 478.2,230.3" fill="#fff12c"/><polygon points="372.6,227.8 378.5,224.8 375.3,220.2 369.5,223.2" fill="#ffd668"/><polygon points="339.3,235.1 345.2,231.4 342.2,226.7 336.3,230.4" fill="#ffee76"/><polygon points="400.5,225.7 406.3,223.1 403.1,218.7 397.3,221.2" fill="#ffcc5a"/><polygon points="386.6,226.5 392.4,223.8 389.2,219.2 383.4,222.0" fill="#ffd061"/><polygon points="436.8,227.5 442.5,225.5 439.2,221.2 433.5,223.1" fill="#ffcf45"/><polygon points="459.3,230.6 464.9,229.0 461.5,224.7 455.9,226.2" fill="#ffdc38"/><polygon points="353.2,232.7 359.0,229.3 356.0,224.7 350.2,228.1" fill="#ffe571"/><polygon points="422.9,227.3 428.7,225.1 425.4,220.7 419.7,222.8" fill="#ffcd4e"/><polygon points="333.8,238.7 339.6,234.9 336.7,230.2 330.8,233.9" fill="#fff678"/><polygon points="467.8,233.2 473.4,231.7 470.0,227.4 464.4,228.8" fill="#ffe435"/><polygon points="367.1,230.8 373.0,227.6 369.9,223.0 364.0,226.2" fill="#ffdd6c"/><polygon points="445.4,229.8 451.1,228.0 447.7,223.6 442.0,225.4" fill="#ffd541"/><polygon points="409.0,227.5 414.7,225.1 411.5,220.6 405.8,223.0" fill="#ffce56"/><polygon points="381.1,229.3 386.9,226.4 383.8,221.8 377.9,224.7" fill="#ffd665"/><polygon points="395.0,228.2 400.8,225.5 397.6,221.0 391.9,223.7" fill="#ffd15e"/><polygon points="347.7,236.1 353.5,232.6 350.5,227.9 344.7,231.4" fill="#ffec74"/><polygon points="328.3,242.4 334.1,238.5 331.1,233.7 325.3,237.6" fill="#ffff7a"/><polygon points="431.4,229.4 437.2,227.4 433.9,222.9 428.1,225.0" fill="#ffd14a"/><polygon points="476.4,235.9 482.0,234.5 478.5,230.2 472.9,231.6" fill="#ffec31"/><polygon points="453.9,232.2 459.6,230.5 456.2,226.1 450.5,227.8" fill="#ffdb3d"/><polygon points="361.6,233.9 367.5,230.6 364.4,226.0 358.5,229.3" fill="#ffe36f"/><polygon points="322.7,246.3 328.6,242.2 325.6,237.4 319.8,241.4" fill="#f7ff7b"/><polygon points="417.5,229.5 423.2,227.2 420.0,222.7 414.2,225.0" fill="#ffd052"/><polygon points="342.1,239.6 348.0,235.9 345.0,231.2 339.1,234.8" fill="#fff477"/><polygon points="375.6,232.2 381.4,229.1 378.3,224.5 372.5,227.6" fill="#ffdc69"/><polygon points="403.5,230.0 409.3,227.4 406.1,222.9 400.3,225.4" fill="#ffd25b"/><polygon points="389.5,230.9 395.3,228.1 392.2,223.5 386.4,226.3" fill="#ffd662"/><polygon points="440.0,231.7 445.7,229.7 442.4,225.3 436.7,227.2" fill="#ffd546"/><polygon points="462.5,234.7 468.1,233.1 464.7,228.8 459.1,230.3" fill="#ffe239"/><polygon points="356.1,237.2 361.9,233.7 358.9,229.1 353.0,232.5" fill="#ffeb72"/><polygon points="336.6,243.2 342.5,239.4 339.5,234.6 333.6,238.4" fill="#fffc79"/><polygon points="426.0,231.5 431.8,229.3 428.5,224.9 422.7,227.0" fill="#ffd34f"/><polygon points="370.0,235.2 375.9,232.0 372.8,227.4 366.9,230.6" fill="#ffe26d"/><polygon points="471.0,237.3 476.7,235.8 473.2,231.5 467.6,233.0" fill="#ffe935"/><polygon points="412.0,231.8 417.8,229.4 414.6,224.9 408.8,227.3" fill="#ffd457"/><polygon points="448.5,234.0 454.2,232.1 450.9,227.7 445.2,229.6" fill="#ffdb42"/><polygon points="384.0,233.7 389.9,230.7 386.7,226.1 380.9,229.0" fill="#ffdc67"/><polygon points="398.0,232.5 403.8,229.8 400.6,225.3 394.8,227.9" fill="#ffd75f"/><polygon points="331.1,247.0 336.9,243.0 334.0,238.2 328.1,242.1" fill="#faff7b"/><polygon points="350.5,240.6 356.4,237.0 353.4,232.3 347.5,235.8" fill="#fff275"/><polygon points="434.6,233.7 440.3,231.5 437.0,227.1 431.2,229.2" fill="#ffd74b"/><polygon points="364.5,238.4 370.4,235.0 367.3,230.4 361.4,233.7" fill="#ffe970"/><polygon points="457.1,236.4 462.8,234.6 459.4,230.3 453.7,232.0" fill="#ffe13e"/><polygon points="325.5,250.8 331.4,246.7 328.4,241.9 322.6,246.0" fill="#f1ff7c"/><polygon points="420.6,233.7 426.3,231.4 423.1,226.9 417.3,229.2" fill="#ffd654"/><polygon points="345.0,244.1 350.9,240.4 347.8,235.6 342.0,239.3" fill="#fffa78"/><polygon points="378.5,236.6 384.4,233.5 381.2,228.9 375.4,231.9" fill="#ffe26a"/><polygon points="406.5,234.3 412.3,231.7 409.1,227.1 403.3,229.7" fill="#ffd85c"/><polygon points="392.5,235.2 398.4,232.4 395.2,227.8 389.4,230.6" fill="#ffdc64"/><polygon points="443.1,235.9 448.9,233.9 445.5,229.4 439.8,231.4" fill="#ffdb47"/><polygon points="465.7,238.9 471.4,237.2 467.9,232.9 462.3,234.5" fill="#ffe73a"/><polygon points="359.0,241.7 364.8,238.2 361.8,233.5 355.9,236.9" fill="#fff074"/><polygon points="339.4,247.8 345.3,243.9 342.3,239.1 336.4,242.9" fill="#fdff7a"/><polygon points="429.1,235.8 434.9,233.5 431.6,229.1 425.8,231.3" fill="#ffd950"/><polygon points="373.0,239.6 378.8,236.4 375.7,231.8 369.9,235.0" fill="#ffe86e"/><polygon points="415.1,236.1 420.9,233.6 417.6,229.1 411.8,231.6" fill="#ffda58"/><polygon points="387.0,238.0 392.9,235.1 389.7,230.4 383.8,233.4" fill="#ffe268"/><polygon points="451.7,238.2 457.4,236.3 454.0,231.9 448.3,233.7" fill="#ffe043"/><polygon points="401.0,236.9 406.9,234.1 403.7,229.6 397.8,232.3" fill="#ffdd60"/><polygon points="333.9,251.5 339.8,247.5 336.8,242.7 330.9,246.7" fill="#f4ff7c"/><polygon points="353.4,245.1 359.3,241.5 356.2,236.7 350.4,240.3" fill="#fff776"/><polygon points="437.7,237.9 443.4,235.8 440.1,231.3 434.4,233.4" fill="#ffdd4c"/><polygon points="367.4,242.8 373.3,239.5 370.2,234.8 364.3,238.1" fill="#ffef72"/><polygon points="328.3,255.4 334.2,251.3 331.2,246.5 325.3,250.6" fill="#ecff7d"/><polygon points="460.3,240.6 466.0,238.8 462.6,234.4 456.9,236.1" fill="#ffe63f"/><polygon points="347.9,248.6 353.8,244.9 350.7,240.1 344.8,243.8" fill="#ffff79"/><polygon points="423.7,238.0 429.4,235.6 426.1,231.1 420.4,233.5" fill="#ffdc55"/><polygon points="381.5,241.0 387.3,237.9 384.2,233.2 378.3,236.3" fill="#ffe86c"/><polygon points="409.6,238.6 415.4,236.0 412.2,231.4 406.4,234.0" fill="#ffde5d"/><polygon points="395.5,239.6 401.4,236.7 398.2,232.1 392.3,235.0" fill="#ffe265"/><polygon points="446.3,240.1 452.0,238.1 448.7,233.6 442.9,235.6" fill="#ffe148"/><polygon points="361.9,246.2 367.8,242.6 364.7,237.9 358.8,241.4" fill="#fff675"/><polygon points="342.3,252.3 348.2,248.4 345.2,243.6 339.3,247.5" fill="#f7ff7b"/><polygon points="432.2,240.0 438.0,237.8 434.7,233.3 428.9,235.5" fill="#ffdf51"/><polygon points="375.9,244.1 381.8,240.8 378.7,236.1 372.8,239.4" fill="#ffee6f"/><polygon points="418.2,240.4 424.0,237.9 420.7,233.4 414.9,235.8" fill="#ffe059"/><polygon points="390.0,242.4 395.9,239.4 392.7,234.8 386.8,237.8" fill="#ffe769"/><polygon points="336.7,256.1 342.6,252.1 339.6,247.3 333.7,251.3" fill="#efff7d"/><polygon points="404.1,241.2 409.9,238.4 406.7,233.9 400.9,236.6" fill="#ffe362"/><polygon points="454.9,242.4 460.6,240.5 457.2,236.0 451.5,237.9" fill="#ffe644"/><polygon points="356.3,249.6 362.2,245.9 359.1,241.2 353.3,244.8" fill="#fffd78"/><polygon points="440.9,242.2 446.6,240.0 443.3,235.5 437.5,237.6" fill="#ffe34d"/><polygon points="331.2,260.1 337.1,255.9 334.1,251.0 328.2,255.2" fill="#e6ff7e"/><polygon points="370.4,247.3 376.3,243.9 373.1,239.2 367.3,242.6" fill="#fff473"/><polygon points="350.8,253.2 356.7,249.4 353.6,244.6 347.7,248.4" fill="#faff7a"/><polygon points="426.8,242.3 432.6,239.9 429.3,235.4 423.5,237.8" fill="#ffe256"/><polygon points="384.5,245.4 390.3,242.3 387.2,237.6 381.3,240.7" fill="#ffed6d"/><polygon points="412.7,242.9 418.5,240.3 415.2,235.7 409.4,238.3" fill="#ffe45e"/><polygon points="398.6,244.0 404.4,241.1 401.2,236.4 395.4,239.3" fill="#ffe866"/><polygon points="364.8,250.7 370.7,247.1 367.6,242.4 361.7,245.9" fill="#fffb76"/><polygon points="449.5,244.3 455.2,242.3 451.8,237.8 446.1,239.8" fill="#ffe749"/><polygon points="345.2,256.9 351.1,253.0 348.0,248.1 342.1,252.0" fill="#f2ff7c"/><polygon points="378.9,248.6 384.8,245.2 381.6,240.5 375.8,243.8" fill="#fff371"/><polygon points="435.4,244.3 441.2,242.0 437.8,237.5 432.1,239.8" fill="#ffe552"/><polygon points="339.6,260.7 345.5,256.7 342.5,251.8 336.6,255.9" fill="#eaff7e"/><polygon points="393.0,246.9 398.9,243.8 395.7,239.2 389.8,242.2" fill="#ffed6a"/><polygon points="421.3,244.8 427.1,242.2 423.8,237.6 418.0,240.2" fill="#ffe65b"/><polygon points="359.2,254.1 365.1,250.5 362.0,245.7 356.1,249.3" fill="#fcff79"/><polygon points="407.1,245.6 413.0,242.8 409.7,238.2 403.9,241.0" fill="#ffe863"/><polygon points="334.0,264.7 339.9,260.5 336.9,255.6 331.0,259.8" fill="#e1ff80"/><polygon points="373.3,251.8 379.2,248.4 376.1,243.6 370.2,247.0" fill="#fffa74"/><polygon points="444.0,246.4 449.8,244.2 446.4,239.7 440.7,241.9" fill="#ffe84e"/><polygon points="353.7,257.8 359.6,253.9 356.5,249.1 350.6,252.9" fill="#f4ff7b"/><polygon points="387.5,249.9 393.4,246.7 390.2,242.0 384.3,245.2" fill="#fff36e"/><polygon points="429.9,246.7 435.7,244.2 432.4,239.7 426.6,242.1" fill="#ffe857"/><polygon points="401.6,248.4 407.5,245.4 404.2,240.8 398.4,243.7" fill="#ffed67"/><polygon points="415.8,247.3 421.6,244.6 418.3,240.0 412.5,242.7" fill="#ffea5f"/><polygon points="367.8,255.2 373.7,251.6 370.5,246.8 364.6,250.4" fill="#fdff77"/><polygon points="348.1,261.5 354.0,257.5 350.9,252.7 345.0,256.6" fill="#edff7d"/><polygon points="381.9,253.0 387.8,249.7 384.6,245.0 378.7,248.3" fill="#fff972"/><polygon points="438.6,248.7 444.4,246.3 441.0,241.8 435.2,244.1" fill="#ffeb53"/><polygon points="342.5,265.4 348.4,261.3 345.3,256.4 339.4,260.5" fill="#e4ff7f"/><polygon points="396.1,251.3 401.9,248.2 398.7,243.5 392.8,246.6" fill="#fff36b"/><polygon points="362.2,258.7 368.1,255.0 365.0,250.2 359.1,253.9" fill="#f6ff7a"/><polygon points="424.4,249.1 430.2,246.5 426.9,241.9 421.1,244.5" fill="#ffeb5c"/><polygon points="410.2,250.0 416.1,247.2 412.8,242.5 407.0,245.3" fill="#ffee64"/><polygon points="336.9,269.4 342.8,265.2 339.8,260.2 333.8,264.4" fill="#dcff80"/><polygon points="376.3,256.3 382.2,252.8 379.1,248.1 373.2,251.5" fill="#ffff75"/><polygon points="356.6,262.4 362.5,258.5 359.4,253.7 353.5,257.5" fill="#efff7c"/><polygon points="390.5,254.4 396.4,251.1 393.2,246.4 387.3,249.6" fill="#fff86f"/><polygon points="433.1,251.0 438.9,248.5 435.5,243.9 429.7,246.4" fill="#ffed58"/><polygon points="404.7,252.8 410.6,249.8 407.3,245.2 401.4,248.1" fill="#fff368"/><polygon points="418.9,251.7 424.7,249.0 421.4,244.3 415.6,247.0" fill="#ffef61"/><polygon points="370.7,259.7 376.7,256.1 373.5,251.3 367.6,254.9" fill="#f8ff78"/><polygon points="351.0,266.1 356.9,262.1 353.8,257.3 347.9,261.2" fill="#e7ff7e"/><polygon points="384.9,257.5 390.8,254.2 387.6,249.4 381.7,252.8" fill="#fffe73"/><polygon points="345.4,270.1 351.3,265.9 348.2,261.0 342.3,265.1" fill="#dfff80"/><polygon points="365.1,263.3 371.1,259.5 367.9,254.7 362.0,258.4" fill="#f1ff7b"/><polygon points="399.1,255.8 405.0,252.6 401.8,247.9 395.9,251.0" fill="#fff86d"/><polygon points="427.5,253.5 433.4,250.9 430.0,246.3 424.2,248.9" fill="#fff15d"/><polygon points="413.3,254.4 419.2,251.5 415.9,246.9 410.0,249.7" fill="#fff365"/><polygon points="339.7,274.1 345.7,269.8 342.6,264.9 336.7,269.1" fill="#d6ff80"/><polygon points="379.3,260.9 385.2,257.4 382.1,252.6 376.1,256.1" fill="#faff76"/><polygon points="359.5,267.0 365.5,263.1 362.3,258.2 356.4,262.1" fill="#eaff7d"/><polygon points="393.5,258.9 399.4,255.6 396.2,250.9 390.3,254.1" fill="#fffe70"/><polygon points="407.8,257.3 413.7,254.3 410.4,249.6 404.5,252.6" fill="#fff86a"/><polygon points="422.0,256.1 427.9,253.3 424.5,248.7 418.7,251.4" fill="#fff562"/><polygon points="353.9,270.8 359.8,266.8 356.7,261.9 350.8,265.9" fill="#e2ff7f"/><polygon points="373.7,264.3 379.6,260.7 376.5,255.9 370.5,259.5" fill="#f3ff79"/><polygon points="387.9,262.1 393.9,258.7 390.6,253.9 384.7,257.3" fill="#fbff74"/><polygon points="348.3,274.7 354.2,270.6 351.1,265.6 345.2,269.8" fill="#daff80"/><polygon points="368.1,267.9 374.0,264.1 370.9,259.3 364.9,263.0" fill="#ecff7c"/><polygon points="402.2,260.3 408.1,257.1 404.8,252.4 398.9,255.5" fill="#fffd6e"/><polygon points="416.4,258.9 422.3,255.9 419.0,251.3 413.1,254.2" fill="#fff966"/><polygon points="342.6,278.8 348.6,274.5 345.5,269.5 339.6,273.8" fill="#d1ff80"/><polygon points="382.3,265.4 388.3,261.9 385.1,257.1 379.1,260.6" fill="#f4ff77"/><polygon points="362.5,271.6 368.4,267.7 365.3,262.8 359.3,266.7" fill="#e5ff7f"/><polygon points="396.6,263.4 402.5,260.1 399.3,255.3 393.3,258.6" fill="#fbff72"/><polygon points="410.9,261.7 416.8,258.7 413.5,254.0 407.6,257.0" fill="#fffd6b"/><polygon points="356.8,275.5 362.8,271.4 359.7,266.5 353.7,270.5" fill="#ddff80"/><polygon points="376.7,268.9 382.7,265.2 379.5,260.4 373.5,264.0" fill="#eeff7b"/><polygon points="391.0,266.6 396.9,263.2 393.7,258.4 387.8,261.8" fill="#f6ff75"/><polygon points="351.2,279.4 357.2,275.2 354.1,270.3 348.1,274.5" fill="#d5ff80"/><polygon points="371.1,272.5 377.0,268.7 373.9,263.8 367.9,267.6" fill="#e7ff7d"/><polygon points="405.3,264.8 411.2,261.6 407.9,256.8 402.0,260.0" fill="#fcff6f"/><polygon points="345.5,283.5 351.5,279.2 348.4,274.2 342.5,278.5" fill="#ccff80"/><polygon points="385.4,270.0 391.3,266.4 388.1,261.6 382.1,265.2" fill="#efff79"/><polygon points="365.4,276.3 371.4,272.3 368.2,267.4 362.3,271.3" fill="#e0ff80"/><polygon points="399.7,267.9 405.6,264.6 402.3,259.8 396.4,263.1" fill="#f6ff73"/><polygon points="359.8,280.2 365.8,276.1 362.6,271.1 356.7,275.2" fill="#d8ff80"/><polygon points="379.7,273.5 385.7,269.8 382.5,265.0 376.5,268.6" fill="#e9ff7c"/><polygon points="354.1,284.2 360.1,279.9 357.0,274.9 351.0,279.2" fill="#cfff80"/><polygon points="394.0,271.2 400.0,267.7 396.7,262.9 390.8,266.4" fill="#f1ff77"/><polygon points="374.1,277.2 380.1,273.3 376.9,268.4 370.9,272.3" fill="#e2ff7e"/><polygon points="348.5,288.3 354.5,283.9 351.4,278.9 345.4,283.3" fill="#c6ff80"/><polygon points="388.4,274.6 394.4,271.0 391.1,266.2 385.2,269.7" fill="#ebff7a"/><polygon points="368.4,281.0 374.4,277.0 371.2,272.0 365.3,276.0" fill="#dbff80"/><polygon points="362.8,284.9 368.8,280.7 365.6,275.8 359.6,279.9" fill="#d3ff80"/><polygon points="382.8,278.2 388.7,274.4 385.5,269.5 379.5,273.3" fill="#e4ff7d"/><polygon points="357.1,288.9 363.1,284.6 360.0,279.6 354.0,283.9" fill="#caff80"/><polygon points="377.1,281.9 383.1,278.0 379.9,273.0 373.9,276.9" fill="#deff80"/><polygon points="351.4,293.1 357.4,288.7 354.3,283.6 348.3,288.0" fill="#c1ff80"/><polygon points="371.4,285.7 377.4,281.6 374.2,276.7 368.2,280.7" fill="#d6ff80"/><polygon points="365.8,289.6 371.8,285.4 368.6,280.5 362.6,284.6" fill="#ceff80"/><polygon points="360.1,293.7 366.1,289.4 362.9,284.4 356.9,288.6" fill="#c5ff80"/><polygon points="354.4,297.9 360.4,293.5 357.3,288.4 351.2,292.8" fill="#bcff80"/><path d="M354.5,297.6L348.6,288.0L342.7,278.5L336.9,269.1L331.2,259.8L325.6,250.6L320.0,241.4L314.5,232.4L309.1,223.4L303.7,214.5L298.3,205.7L293.1,196.9L287.9,188.2L282.7,179.6L277.6,171.1L272.5,162.6L267.5,154.2L262.6,145.9L257.7,137.7L252.9,129.5L248.1,121.3M354.5,297.6L365.8,289.4L377.2,281.6L388.5,274.4L399.7,267.7L410.9,261.5L422.1,255.9L433.1,250.8L444.1,246.2L455.0,242.2L465.8,238.7L476.4,235.7L487.0,233.3L497.4,231.3L507.7,229.9L517.8,229.0L527.8,228.5L537.7,228.6L547.4,229.1L556.9,230.1L566.3,231.6M365.8,289.4L359.9,279.9L354.0,270.5L348.1,261.3L342.4,252.1L336.7,243.0L331.1,233.9L325.5,225.0L320.0,216.2L314.6,207.4L309.2,198.7L303.9,190.0L298.6,181.5L293.4,173.0L288.2,164.6L283.2,156.3L278.1,148.0L273.1,139.8L268.2,131.6L263.3,123.6L258.5,115.5M348.6,288.0L359.9,279.9L371.2,272.3L382.4,265.2L393.6,258.6L404.8,252.6L415.8,247.1L426.8,242.1L437.8,237.7L448.6,233.8L459.3,230.4L470.0,227.6L480.5,225.2L490.9,223.4L501.1,222.1L511.2,221.3L521.2,221.0L531.0,221.1L540.7,221.8L550.2,222.9L559.6,224.4M377.2,281.6L371.2,272.3L365.2,263.1L359.3,253.9L353.5,244.8L347.8,235.9L342.1,227.0L336.5,218.2L330.9,209.4L325.4,200.8L320.0,192.2L314.6,183.7L309.3,175.3L304.1,166.9L298.9,158.6L293.8,150.4L288.7,142.2L283.6,134.2L278.7,126.1L273.7,118.2L268.9,110.3M342.7,278.5L354.0,270.5L365.2,263.1L376.4,256.1L387.5,249.7L398.6,243.8L409.7,238.4L420.6,233.6L431.5,229.2L442.3,225.5L453.0,222.2L463.6,219.5L474.0,217.3L484.4,215.6L494.6,214.4L504.7,213.7L514.6,213.5L524.4,213.7L534.1,214.5L543.6,215.7L552.9,217.4M388.5,274.4L382.4,265.2L376.4,256.1L370.5,247.1L364.6,238.1L358.8,229.3L353.1,220.5L347.4,211.9L341.8,203.2L336.3,194.7L330.8,186.3L325.4,177.9L320.0,169.6L314.7,161.3L309.5,153.2L304.3,145.1L299.2,137.0L294.1,129.0L289.1,121.1L284.2,113.3L279.2,105.5M336.9,269.1L348.1,261.3L359.3,253.9L370.5,247.1L381.6,240.8L392.6,235.0L403.6,229.8L414.5,225.1L425.3,220.9L436.1,217.2L446.7,214.1L457.3,211.5L467.7,209.4L478.0,207.8L488.2,206.7L498.3,206.1L508.2,206.0L517.9,206.4L527.6,207.3L537.0,208.6L546.3,210.3M399.7,267.7L393.6,258.6L387.5,249.7L381.6,240.8L375.6,232.0L369.8,223.3L364.0,214.6L358.3,206.1L352.7,197.6L347.1,189.2L341.6,180.8L336.1,172.6L330.7,164.4L325.4,156.3L320.1,148.2L314.9,140.2L309.7,132.3L304.6,124.5L299.6,116.7L294.6,108.9L289.6,101.2M331.2,259.8L342.4,252.1L353.5,244.8L364.6,238.1L375.6,232.0L386.6,226.3L397.6,221.2L408.4,216.6L419.2,212.6L429.9,209.0L440.5,206.0L451.0,203.5L461.4,201.6L471.7,200.1L481.9,199.1L491.9,198.6L501.8,198.7L511.5,199.1L521.1,200.1L530.6,201.5L539.9,203.4M410.9,261.5L404.8,252.6L398.6,243.8L392.6,235.0L386.6,226.3L380.7,217.7L374.9,209.2L369.2,200.8L363.5,192.4L357.8,184.2L352.3,175.9L346.8,167.8L341.3,159.7L336.0,151.7L330.7,143.8L325.4,135.9L320.2,128.1L315.0,120.4L310.0,112.7L304.9,105.1L299.9,97.5M325.6,250.6L336.7,243.0L347.8,235.9L358.8,229.3L369.8,223.3L380.7,217.7L391.6,212.8L402.4,208.3L413.2,204.4L423.8,200.9L434.4,198.1L444.9,195.7L455.2,193.8L465.5,192.5L475.6,191.6L485.6,191.2L495.5,191.4L505.2,192.0L514.8,193.0L524.2,194.5L533.4,196.5M422.1,255.9L415.8,247.1L409.7,238.4L403.6,229.8L397.6,221.2L391.6,212.8L385.8,204.4L380.0,196.1L374.2,187.8L368.5,179.7L362.9,171.6L357.4,163.5L351.9,155.6L346.5,147.7L341.2,139.9L335.9,132.1L330.6,124.4L325.4,116.8L320.3,109.2L315.2,101.7L310.2,94.3M320.0,241.4L331.1,233.9L342.1,227.0L353.1,220.5L364.0,214.6L374.9,209.2L385.8,204.4L396.5,200.0L407.2,196.2L417.8,192.9L428.4,190.2L438.8,187.9L449.1,186.2L459.3,184.9L469.4,184.2L479.4,183.9L489.2,184.1L498.9,184.8L508.5,186.0L517.9,187.6L527.1,189.7M433.1,250.8L426.8,242.1L420.6,233.6L414.5,225.1L408.4,216.6L402.4,208.3L396.5,200.0L390.7,191.8L384.9,183.7L379.2,175.7L373.6,167.7L368.0,159.8L362.5,152.0L357.0,144.2L351.6,136.5L346.3,128.9L341.0,121.3L335.8,113.8L330.6,106.3L325.5,98.9L320.5,91.6M314.5,232.4L325.5,225.0L336.5,218.2L347.4,211.9L358.3,206.1L369.2,200.8L380.0,196.1L390.7,191.8L401.3,188.1L411.9,185.0L422.4,182.3L432.8,180.2L443.1,178.6L453.3,177.4L463.3,176.8L473.3,176.6L483.1,177.0L492.7,177.8L502.3,179.0L511.6,180.7L520.9,182.9M444.1,246.2L437.8,237.7L431.5,229.2L425.3,220.9L419.2,212.6L413.2,204.4L407.2,196.2L401.3,188.1L395.5,180.2L389.8,172.2L384.1,164.4L378.5,156.6L372.9,148.9L367.4,141.2L362.0,133.6L356.6,126.1L351.3,118.6L346.1,111.2L340.9,103.9L335.7,96.6L330.6,89.4M309.1,223.4L320.0,216.2L330.9,209.4L341.8,203.2L352.7,197.6L363.5,192.4L374.2,187.8L384.9,183.7L395.5,180.2L406.1,177.1L416.5,174.6L426.9,172.5L437.1,171.0L447.3,170.0L457.3,169.5L467.2,169.4L477.0,169.9L486.6,170.8L496.1,172.1L505.5,173.9L514.7,176.2M455.0,242.2L448.6,233.8L442.3,225.5L436.1,217.2L429.9,209.0L423.8,200.9L417.8,192.9L411.9,185.0L406.1,177.1L400.3,169.3L394.5,161.6L388.9,153.9L383.3,146.3L377.8,138.7L372.3,131.3L366.9,123.8L361.6,116.5L356.3,109.2L351.0,101.9L345.9,94.8L340.7,87.6M303.7,214.5L314.6,207.4L325.4,200.8L336.3,194.7L347.1,189.2L357.8,184.2L368.5,179.7L379.2,175.7L389.8,172.2L400.3,169.3L410.7,166.9L421.0,165.0L431.2,163.6L441.3,162.6L451.3,162.2L461.2,162.3L471.0,162.8L480.6,163.8L490.1,165.3L499.4,167.2L508.6,169.6M465.8,238.7L459.3,230.4L453.0,222.2L446.7,214.1L440.5,206.0L434.4,198.1L428.4,190.2L422.4,182.3L416.5,174.6L410.7,166.9L404.9,159.3L399.2,151.7L393.6,144.2L388.0,136.8L382.5,129.4L377.1,122.1L371.7,114.8L366.4,107.7L361.1,100.5L355.9,93.4L350.8,86.4M298.3,205.7L309.2,198.7L320.0,192.2L330.8,186.3L341.6,180.8L352.3,175.9L362.9,171.6L373.6,167.7L384.1,164.4L394.5,161.6L404.9,159.3L415.2,157.5L425.4,156.2L435.5,155.4L445.4,155.0L455.3,155.2L465.0,155.8L474.6,157.0L484.1,158.5L493.4,160.5L502.6,163.0M476.4,235.7L470.0,227.6L463.6,219.5L457.3,211.5L451.0,203.5L444.9,195.7L438.8,187.9L432.8,180.2L426.9,172.5L421.0,165.0L415.2,157.5L409.5,150.0L403.8,142.6L398.2,135.3L392.7,128.0L387.2,120.8L381.8,113.7L376.5,106.6L371.2,99.6L365.9,92.6L360.8,85.7M293.1,196.9L303.9,190.0L314.6,183.7L325.4,177.9L336.1,172.6L346.8,167.8L357.4,163.5L368.0,159.8L378.5,156.6L388.9,153.9L399.2,151.7L409.5,150.0L419.6,148.8L429.7,148.1L439.6,147.9L449.4,148.2L459.1,148.9L468.7,150.1L478.2,151.8L487.5,153.9L496.6,156.4M487.0,233.3L480.5,225.2L474.0,217.3L467.7,209.4L461.4,201.6L455.2,193.8L449.1,186.2L443.1,178.6L437.1,171.0L431.2,163.6L425.4,156.2L419.6,148.8L413.9,141.5L408.3,134.3L402.7,127.2L397.2,120.1L391.8,113.0L386.4,106.1L381.1,99.1L375.8,92.3L370.6,85.4M287.9,188.2L298.6,181.5L309.3,175.3L320.0,169.6L330.7,164.4L341.3,159.7L351.9,155.6L362.5,152.0L372.9,148.9L383.3,146.3L393.6,144.2L403.8,142.6L413.9,141.5L424.0,141.0L433.9,140.9L443.7,141.2L453.3,142.1L462.9,143.4L472.3,145.1L481.6,147.3L490.7,149.9M497.4,231.3L490.9,223.4L484.4,215.6L478.0,207.8L471.7,200.1L465.5,192.5L459.3,184.9L453.3,177.4L447.3,170.0L441.3,162.6L435.5,155.4L429.7,148.1L424.0,141.0L418.3,133.8L412.7,126.8L407.2,119.8L401.7,112.9L396.3,106.0L391.0,99.2L385.7,92.4L380.4,85.7M282.7,179.6L293.4,173.0L304.1,166.9L314.7,161.3L325.4,156.3L336.0,151.7L346.5,147.7L357.0,144.2L367.4,141.2L377.8,138.7L388.0,136.8L398.2,135.3L408.3,134.3L418.3,133.8L428.2,133.8L438.0,134.3L447.6,135.3L457.1,136.7L466.5,138.5L475.8,140.8L484.9,143.5M507.7,229.9L501.1,222.1L494.6,214.4L488.2,206.7L481.9,199.1L475.6,191.6L469.4,184.2L463.3,176.8L457.3,169.5L451.3,162.2L445.4,155.0L439.6,147.9L433.9,140.9L428.2,133.8L422.6,126.9L417.0,120.0L411.5,113.2L406.1,106.4L400.7,99.7L395.4,93.0L390.1,86.4M277.6,171.1L288.2,164.6L298.9,158.6L309.5,153.2L320.1,148.2L330.7,143.8L341.2,139.9L351.6,136.5L362.0,133.6L372.3,131.3L382.5,129.4L392.7,128.0L402.7,127.2L412.7,126.8L422.6,126.9L432.3,127.5L441.9,128.5L451.4,130.0L460.8,132.0L470.1,134.3L479.2,137.1M517.8,229.0L511.2,221.3L504.7,213.7L498.3,206.1L491.9,198.6L485.6,191.2L479.4,183.9L473.3,176.6L467.2,169.4L461.2,162.3L455.3,155.2L449.4,148.2L443.7,141.2L438.0,134.3L432.3,127.5L426.7,120.7L421.2,114.0L415.7,107.3L410.3,100.6L405.0,94.1L399.7,87.5M272.5,162.6L283.2,156.3L293.8,150.4L304.3,145.1L314.9,140.2L325.4,135.9L335.9,132.1L346.3,128.9L356.6,126.1L366.9,123.8L377.1,122.1L387.2,120.8L397.2,120.1L407.2,119.8L417.0,120.0L426.7,120.7L436.3,121.8L445.8,123.4L455.2,125.5L464.4,127.9L473.5,130.8M527.8,228.5L521.2,221.0L514.6,213.5L508.2,206.0L501.8,198.7L495.5,191.4L489.2,184.1L483.1,177.0L477.0,169.9L471.0,162.8L465.0,155.8L459.1,148.9L453.3,142.1L447.6,135.3L441.9,128.5L436.3,121.8L430.8,115.2L425.3,108.6L419.9,102.1L414.5,95.6L409.2,89.1M267.5,154.2L278.1,148.0L288.7,142.2L299.2,137.0L309.7,132.3L320.2,128.1L330.6,124.4L341.0,121.3L351.3,118.6L361.6,116.5L371.7,114.8L381.8,113.7L391.8,113.0L401.7,112.9L411.5,113.2L421.2,114.0L430.8,115.2L440.2,116.9L449.6,119.0L458.8,121.6L467.9,124.5M537.7,228.6L531.0,221.1L524.4,213.7L517.9,206.4L511.5,199.1L505.2,192.0L498.9,184.8L492.7,177.8L486.6,170.8L480.6,163.8L474.6,157.0L468.7,150.1L462.9,143.4L457.1,136.7L451.4,130.0L445.8,123.4L440.2,116.9L434.7,110.4L429.3,103.9L423.9,97.5L418.6,91.2M262.6,145.9L273.1,139.8L283.6,134.2L294.1,129.0L304.6,124.5L315.0,120.4L325.4,116.8L335.8,113.8L346.1,111.2L356.3,109.2L366.4,107.7L376.5,106.6L386.4,106.1L396.3,106.0L406.1,106.4L415.7,107.3L425.3,108.6L434.7,110.4L444.1,112.6L453.2,115.3L462.3,118.3M547.4,229.1L540.7,221.8L534.1,214.5L527.6,207.3L521.1,200.1L514.8,193.0L508.5,186.0L502.3,179.0L496.1,172.1L490.1,165.3L484.1,158.5L478.2,151.8L472.3,145.1L466.5,138.5L460.8,132.0L455.2,125.5L449.6,119.0L444.1,112.6L438.6,106.3L433.2,99.9L427.9,93.7M257.7,137.7L268.2,131.6L278.7,126.1L289.1,121.1L299.6,116.7L310.0,112.7L320.3,109.2L330.6,106.3L340.9,103.9L351.0,101.9L361.1,100.5L371.2,99.6L381.1,99.1L391.0,99.2L400.7,99.7L410.3,100.6L419.9,102.1L429.3,103.9L438.6,106.3L447.8,109.0L456.8,112.1M556.9,230.1L550.2,222.9L543.6,215.7L537.0,208.6L530.6,201.5L524.2,194.5L517.9,187.6L511.6,180.7L505.5,173.9L499.4,167.2L493.4,160.5L487.5,153.9L481.6,147.3L475.8,140.8L470.1,134.3L464.4,127.9L458.8,121.6L453.2,115.3L447.8,109.0L442.3,102.8L437.0,96.6M252.9,129.5L263.3,123.6L273.7,118.2L284.2,113.3L294.6,108.9L304.9,105.1L315.2,101.7L325.5,98.9L335.7,96.6L345.9,94.8L355.9,93.4L365.9,92.6L375.8,92.3L385.7,92.4L395.4,93.0L405.0,94.1L414.5,95.6L423.9,97.5L433.2,99.9L442.3,102.8L451.4,106.0M566.3,231.6L559.6,224.4L552.9,217.4L546.3,210.3L539.9,203.4L533.4,196.5L527.1,189.7L520.9,182.9L514.7,176.2L508.6,169.6L502.6,163.0L496.6,156.4L490.7,149.9L484.9,143.5L479.2,137.1L473.5,130.8L467.9,124.5L462.3,118.3L456.8,112.1L451.4,106.0L446.0,99.9M248.1,121.3L258.5,115.5L268.9,110.3L279.2,105.5L289.6,101.2L299.9,97.5L310.2,94.3L320.5,91.6L330.6,89.4L340.7,87.6L350.8,86.4L360.8,85.7L370.6,85.4L380.4,85.7L390.1,86.4L399.7,87.5L409.2,89.1L418.6,91.2L427.9,93.7L437.0,96.6L446.0,99.9" fill="none" stroke="#140800" stroke-opacity="0.66" stroke-width="1.1"/><path d="M298.2,205.4v1.5" stroke="#300" stroke-width="1.3"/><circle cx="298.2" cy="205.4" r="3.0" fill="#c4060a" stroke="#4a0000" stroke-width="0.9"/><path d="M405.2,153.8v6.0" stroke="#300" stroke-width="1.3"/><circle cx="405.2" cy="153.8" r="3.4" fill="#c4060a" stroke="#4a0000" stroke-width="0.9"/><path d="M466.3,234.5v2.0" stroke="#300" stroke-width="1.3"/><circle cx="466.3" cy="234.5" r="3.0" fill="#c4060a" stroke="#4a0000" stroke-width="0.9"/><circle cx="258.5" cy="240.7" r="1.65" fill="#000"/><circle cx="256.5" cy="217.3" r="1.65" fill="#000"/><circle cx="254.5" cy="193.9" r="1.65" fill="#000"/><circle cx="252.4" cy="170.6" r="1.65" fill="#000"/><circle cx="250.4" cy="147.2" r="1.65" fill="#000"/><circle cx="248.3" cy="123.8" r="1.65" fill="#000"/><circle cx="246.3" cy="100.4" r="1.65" fill="#000"/><circle cx="262.2" cy="282.8" r="1.65" fill="#000"/><circle cx="278.2" cy="304.8" r="1.65" fill="#000"/><circle cx="294.2" cy="326.8" r="1.65" fill="#000"/><circle cx="310.2" cy="348.9" r="1.65" fill="#000"/><circle cx="326.2" cy="370.9" r="1.65" fill="#000"/><circle cx="342.2" cy="392.9" r="1.65" fill="#000"/><circle cx="358.2" cy="414.9" r="1.65" fill="#000"/><circle cx="391.2" cy="402.1" r="1.65" fill="#000"/><circle cx="424.3" cy="389.2" r="1.65" fill="#000"/><circle cx="457.3" cy="376.4" r="1.65" fill="#000"/><circle cx="490.3" cy="363.6" r="1.65" fill="#000"/><circle cx="523.4" cy="350.7" r="1.65" fill="#000"/><circle cx="556.4" cy="337.9" r="1.65" fill="#000"/><g font-family="Liberation Sans, sans-serif" font-size="9.2" fill="#2e2e2e"><text x="253.3" y="238.3" text-anchor="end">95</text><text x="251.3" y="214.9" text-anchor="end">96</text><text x="249.3" y="191.5" text-anchor="end">97</text><text x="247.2" y="168.2" text-anchor="end">98</text><text x="245.2" y="144.8" text-anchor="end">99</text><text x="243.1" y="121.4" text-anchor="end">100</text><text x="241.1" y="98.0" text-anchor="end">101</text><text x="257.4" y="292.3" text-anchor="end">120</text><text x="273.4" y="314.3" text-anchor="end">110</text><text x="289.4" y="336.3" text-anchor="end">100</text><text x="305.4" y="358.4" text-anchor="end">90</text><text x="321.4" y="380.4" text-anchor="end">80</text><text x="337.4" y="402.4" text-anchor="end">70</text><text x="353.4" y="424.4" text-anchor="end">60</text><text x="363.5" y="424.0">40</text><text x="396.5" y="411.2">50</text><text x="429.6" y="398.3">60</text><text x="462.6" y="385.5">70</text><text x="495.6" y="372.7">80</text><text x="528.7" y="359.8">90</text><text x="561.7" y="347.0">100</text></g><text font-family="Liberation Sans, sans-serif" font-size="10.4" fill="#222" x="198.1" y="376.6" textLength="93.8" lengthAdjust="spacingAndGlyphs">C: Contact time (min)</text><text font-family="Liberation Sans, sans-serif" font-size="10.4" fill="#222" x="416.6" y="429.2" textLength="163" lengthAdjust="spacingAndGlyphs">B: Initial Cr (VI) concentration (mg/L)</text><text font-family="Liberation Sans, sans-serif" font-size="10.4" fill="#222" transform="translate(201.2,221.6) rotate(-90)" textLength="52.4" lengthAdjust="spacingAndGlyphs">Rem.Eff. (%)</text><text font-family="Liberation Sans, sans-serif" font-size="15" fill="#222" x="394" y="14.1" textLength="77.1" lengthAdjust="spacingAndGlyphs">3D Surface</text></svg>
<svg class="s2" width="708" height="462" viewBox="0 460 708 462"><defs><linearGradient id="r0"><stop offset="0" stop-color="#ff0000"/><stop offset="0.714" stop-color="#ff0000"/><stop offset="0.75" stop-color="#ff1b00"/><stop offset="0.792" stop-color="#ff3c00"/><stop offset="0.833" stop-color="#ff6000"/><stop offset="0.875" stop-color="#ff8800"/><stop offset="0.917" stop-color="#ffb200"/><stop offset="0.958" stop-color="#ffdf00"/><stop offset="0.986" stop-color="#ffff00"/><stop offset="1" stop-color="#eeff00"/></linearGradient><linearGradient id="r1"><stop offset="0" stop-color="#ff0000"/><stop offset="0.71" stop-color="#ff0000"/><stop offset="0.75" stop-color="#ff1d00"/><stop offset="0.792" stop-color="#ff3e00"/><stop offset="0.833" stop-color="#ff6300"/><stop offset="0.875" stop-color="#ff8a00"/><stop offset="0.917" stop-color="#ffb400"/><stop offset="0.958" stop-color="#ffe100"/><stop offset="0.984" stop-color="#ffff00"/><stop offset="1" stop-color="#ecff00"/></linearGradient><linearGradient id="r2"><stop offset="0" stop-color="#ff0000"/><stop offset="0.706" stop-color="#ff0000"/><stop offset="0.708" stop-color="#ff0200"/><stop offset="0.75" stop-color="#ff2000"/><stop offset="0.792" stop-color="#ff4100"/><stop offset="0.833" stop-color="#ff6500"/><stop offset="0.875" stop-color="#ff8c00"/><stop offset="0.917" stop-color="#ffb600"/><stop offset="0.958" stop-color="#ffe400"/><stop offset="0.982" stop-color="#ffff00"/><stop offset="1" stop-color="#eaff00"/></linearGradient><linearGradient id="r3"><stop offset="0" stop-color="#ff0000"/><stop offset="0.702" stop-color="#ff0000"/><stop offset="0.708" stop-color="#ff0400"/><stop offset="0.75" stop-color="#ff2200"/><stop offset="0.792" stop-color="#ff4300"/><stop offset="0.833" stop-color="#ff6700"/><stop offset="0.875" stop-color="#ff8e00"/><stop offset="0.917" stop-color="#ffb900"/><stop offset="0.958" stop-color="#ffe600"/><stop offset="0.98" stop-color="#ffff00"/><stop offset="1" stop-color="#e8ff00"/></linearGradient><linearGradient id="r4"><stop offset="0" stop-color="#ff0000"/><stop offset="0.698" stop-color="#ff0000"/><stop offset="0.708" stop-color="#ff0700"/><stop offset="0.75" stop-color="#ff2500"/><stop offset="0.792" stop-color="#ff4600"/><stop offset="0.833" stop-color="#ff6a00"/><stop offset="0.875" stop-color="#ff9100"/><stop offset="0.917" stop-color="#ffbb00"/><stop offset="0.958" stop-color="#ffe800"/><stop offset="0.979" stop-color="#ffff00"/><stop offset="1" stop-color="#e6ff00"/></linearGradient><linearGradient id="r5"><stop offset="0" stop-color="#ff0000"/><stop offset="0.694" stop-color="#ff0000"/><stop offset="0.708" stop-color="#ff0a00"/><stop offset="0.75" stop-color="#ff2700"/><stop offset="0.792" stop-color="#ff4800"/><stop offset="0.833" stop-color="#ff6c00"/><stop offset="0.875" stop-color="#ff9300"/><stop offset="0.917" stop-color="#ffbd00"/><stop offset="0.958" stop-color="#ffea00"/><stop offset="0.977" stop-color="#ffff00"/><stop offset="1" stop-color="#e4ff00"/></linearGradient><linearGradient id="r6"><stop offset="0" stop-color="#ff0000"/><stop offset="0.69" stop-color="#ff0000"/><stop offset="0.708" stop-color="#ff0c00"/><stop offset="0.75" stop-color="#ff2a00"/><stop offset="0.792" stop-color="#ff4b00"/><stop offset="0.833" stop-color="#ff6f00"/><stop offset="0.875" stop-color="#ff9500"/><stop offset="0.917" stop-color="#ffbf00"/><stop offset="0.958" stop-color="#ffec00"/><stop offset="0.975" stop-color="#ffff00"/><stop offset="1" stop-color="#e2ff00"/></linearGradient><linearGradient id="r7"><stop offset="0" stop-color="#ff0000"/><stop offset="0.686" stop-color="#ff0000"/><stop offset="0.708" stop-color="#ff0f00"/><stop offset="0.75" stop-color="#ff2d00"/><stop offset="0.792" stop-color="#ff4d00"/><stop offset="0.833" stop-color="#ff7100"/><stop offset="0.875" stop-color="#ff9800"/><stop offset="0.917" stop-color="#ffc200"/><stop offset="0.958" stop-color="#ffee00"/><stop offset="0.973" stop-color="#ffff00"/><stop offset="1" stop-color="#e0ff00"/></linearGradient><linearGradient id="r8"><stop offset="0" stop-color="#ff0000"/><stop offset="0.681" stop-color="#ff0000"/><stop offset="0.708" stop-color="#ff1100"/><stop offset="0.75" stop-color="#ff2f00"/><stop offset="0.792" stop-color="#ff5000"/><stop offset="0.833" stop-color="#ff7300"/><stop offset="0.875" stop-color="#ff9a00"/><stop offset="0.917" stop-color="#ffc400"/><stop offset="0.958" stop-color="#fff100"/><stop offset="0.971" stop-color="#ffff00"/><stop offset="1" stop-color="#deff00"/></linearGradient><linearGradient id="r9"><stop offset="0" stop-color="#ff0000"/><stop offset="0.677" stop-color="#ff0000"/><stop offset="0.708" stop-color="#ff1400"/><stop offset="0.75" stop-color="#ff3200"/><stop offset="0.792" stop-color="#ff5200"/><stop offset="0.833" stop-color="#ff7600"/><stop offset="0.875" stop-color="#ff9c00"/><stop offset="0.917" stop-color="#ffc600"/><stop offset="0.958" stop-color="#fff300"/><stop offset="0.969" stop-color="#ffff00"/><stop offset="1" stop-color="#dcff00"/></linearGradient><linearGradient id="r10"><stop offset="0" stop-color="#ff0000"/><stop offset="0.673" stop-color="#ff0000"/><stop offset="0.708" stop-color="#ff1700"/><stop offset="0.75" stop-color="#ff3400"/><stop offset="0.792" stop-color="#ff5500"/><stop offset="0.833" stop-color="#ff7800"/><stop offset="0.875" stop-color="#ff9f00"/><stop offset="0.917" stop-color="#ffc800"/><stop offset="0.958" stop-color="#fff500"/><stop offset="0.968" stop-color="#ffff00"/><stop offset="1" stop-color="#daff00"/></linearGradient><linearGradient id="r11"><stop offset="0" stop-color="#ff0000"/><stop offset="0.668" stop-color="#ff0000"/><stop offset="0.708" stop-color="#ff1900"/><stop offset="0.75" stop-color="#ff3700"/><stop offset="0.792" stop-color="#ff5700"/><stop offset="0.833" stop-color="#ff7a00"/><stop offset="0.875" stop-color="#ffa100"/><stop offset="0.917" stop-color="#ffca00"/><stop offset="0.958" stop-color="#fff700"/><stop offset="0.966" stop-color="#ffff00"/><stop offset="1" stop-color="#d8ff00"/></linearGradient><linearGradient id="r12"><stop offset="0" stop-color="#ff0000"/><stop offset="0.664" stop-color="#ff0000"/><stop offset="0.667" stop-color="#ff0200"/><stop offset="0.708" stop-color="#ff1c00"/><stop offset="0.75" stop-color="#ff3900"/><stop offset="0.792" stop-color="#ff5900"/><stop offset="0.833" stop-color="#ff7d00"/><stop offset="0.875" stop-color="#ffa300"/><stop offset="0.917" stop-color="#ffcd00"/><stop offset="0.958" stop-color="#fff900"/><stop offset="0.964" stop-color="#ffff00"/><stop offset="1" stop-color="#d6ff00"/></linearGradient><linearGradient id="r13"><stop offset="0" stop-color="#ff0000"/><stop offset="0.659" stop-color="#ff0000"/><stop offset="0.667" stop-color="#ff0400"/><stop offset="0.708" stop-color="#ff1f00"/><stop offset="0.75" stop-color="#ff3c00"/><stop offset="0.792" stop-color="#ff5c00"/><stop offset="0.833" stop-color="#ff7f00"/><stop offset="0.875" stop-color="#ffa500"/><stop offset="0.917" stop-color="#ffcf00"/><stop offset="0.958" stop-color="#fffb00"/><stop offset="0.962" stop-color="#ffff00"/><stop offset="1" stop-color="#d4ff00"/></linearGradient><linearGradient id="r14"><stop offset="0" stop-color="#ff0300"/><stop offset="0.005" stop-color="#ff0000"/><stop offset="0.654" stop-color="#ff0000"/><stop offset="0.667" stop-color="#ff0700"/><stop offset="0.708" stop-color="#ff2100"/><stop offset="0.75" stop-color="#ff3e00"/><stop offset="0.792" stop-color="#ff5e00"/><stop offset="0.833" stop-color="#ff8200"/><stop offset="0.875" stop-color="#ffa800"/><stop offset="0.917" stop-color="#ffd100"/><stop offset="0.958" stop-color="#fffd00"/><stop offset="0.96" stop-color="#ffff00"/><stop offset="1" stop-color="#d2ff00"/></linearGradient><linearGradient id="r15"><stop offset="0" stop-color="#ff0700"/><stop offset="0.012" stop-color="#ff0000"/><stop offset="0.65" stop-color="#ff0000"/><stop offset="0.667" stop-color="#ff0a00"/><stop offset="0.708" stop-color="#ff2400"/><stop offset="0.75" stop-color="#ff4100"/><stop offset="0.792" stop-color="#ff6100"/><stop offset="0.833" stop-color="#ff8400"/><stop offset="0.875" stop-color="#ffaa00"/><stop offset="0.917" stop-color="#ffd300"/><stop offset="0.958" stop-color="#ffff00"/><stop offset="0.958" stop-color="#ffff00"/><stop offset="1" stop-color="#d0ff00"/></linearGradient><linearGradient id="r16"><stop offset="0" stop-color="#ff0b00"/><stop offset="0.019" stop-color="#ff0000"/><stop offset="0.645" stop-color="#ff0000"/><stop offset="0.667" stop-color="#ff0c00"/><stop offset="0.708" stop-color="#ff2600"/><stop offset="0.75" stop-color="#ff4300"/><stop offset="0.792" stop-color="#ff6300"/><stop offset="0.833" stop-color="#ff8600"/><stop offset="0.875" stop-color="#ffac00"/><stop offset="0.917" stop-color="#ffd500"/><stop offset="0.956" stop-color="#ffff00"/><stop offset="0.958" stop-color="#fdff00"/><stop offset="1" stop-color="#ceff00"/></linearGradient><linearGradient id="r17"><stop offset="0" stop-color="#ff0f00"/><stop offset="0.026" stop-color="#ff0000"/><stop offset="0.64" stop-color="#ff0000"/><stop offset="0.667" stop-color="#ff0f00"/><stop offset="0.708" stop-color="#ff2900"/><stop offset="0.75" stop-color="#ff4600"/><stop offset="0.792" stop-color="#ff6600"/><stop offset="0.833" stop-color="#ff8900"/><stop offset="0.875" stop-color="#ffae00"/><stop offset="0.917" stop-color="#ffd700"/><stop offset="0.954" stop-color="#ffff00"/><stop offset="0.958" stop-color="#fbff00"/><stop offset="1" stop-color="#ccff00"/></linearGradient><linearGradient id="r18"><stop offset="0" stop-color="#ff1300"/><stop offset="0.034" stop-color="#ff0000"/><stop offset="0.635" stop-color="#ff0000"/><stop offset="0.667" stop-color="#ff1200"/><stop offset="0.708" stop-color="#ff2b00"/><stop offset="0.75" stop-color="#ff4800"/><stop offset="0.792" stop-color="#ff6800"/><stop offset="0.833" stop-color="#ff8b00"/><stop offset="0.875" stop-color="#ffb100"/><stop offset="0.917" stop-color="#ffda00"/><stop offset="0.952" stop-color="#ffff00"/><stop offset="0.958" stop-color="#f8ff00"/><stop offset="1" stop-color="#caff00"/></linearGradient><linearGradient id="r19"><stop offset="0" stop-color="#ff1700"/><stop offset="0.041" stop-color="#ff0000"/><stop offset="0.629" stop-color="#ff0000"/><stop offset="0.667" stop-color="#ff1400"/><stop offset="0.708" stop-color="#ff2e00"/><stop offset="0.75" stop-color="#ff4b00"/><stop offset="0.792" stop-color="#ff6a00"/><stop offset="0.833" stop-color="#ff8d00"/><stop offset="0.875" stop-color="#ffb300"/><stop offset="0.917" stop-color="#ffdc00"/><stop offset="0.95" stop-color="#ffff00"/><stop offset="0.958" stop-color="#f6ff00"/><stop offset="1" stop-color="#c8ff00"/></linearGradient><linearGradient id="r20"><stop offset="0" stop-color="#ff1b00"/><stop offset="0.042" stop-color="#ff0400"/><stop offset="0.049" stop-color="#ff0000"/><stop offset="0.624" stop-color="#ff0000"/><stop offset="0.625" stop-color="#ff0100"/><stop offset="0.667" stop-color="#ff1700"/><stop offset="0.708" stop-color="#ff3100"/><stop offset="0.75" stop-color="#ff4d00"/><stop offset="0.792" stop-color="#ff6d00"/><stop offset="0.833" stop-color="#ff8f00"/><stop offset="0.875" stop-color="#ffb500"/><stop offset="0.917" stop-color="#ffde00"/><stop offset="0.948" stop-color="#ffff00"/><stop offset="0.958" stop-color="#f4ff00"/><stop offset="1" stop-color="#c6ff00"/></linearGradient><linearGradient id="r21"><stop offset="0" stop-color="#ff1f00"/><stop offset="0.042" stop-color="#ff0800"/><stop offset="0.057" stop-color="#ff0000"/><stop offset="0.618" stop-color="#ff0000"/><stop offset="0.625" stop-color="#ff0300"/><stop offset="0.667" stop-color="#ff1a00"/><stop offset="0.708" stop-color="#ff3300"/><stop offset="0.75" stop-color="#ff5000"/><stop offset="0.792" stop-color="#ff6f00"/><stop offset="0.833" stop-color="#ff9200"/><stop offset="0.875" stop-color="#ffb700"/><stop offset="0.917" stop-color="#ffe000"/><stop offset="0.946" stop-color="#ffff00"/><stop offset="0.958" stop-color="#f2ff00"/><stop offset="1" stop-color="#c4ff00"/></linearGradient><linearGradient id="r22"><stop offset="0" stop-color="#ff2300"/><stop offset="0.042" stop-color="#ff0c00"/><stop offset="0.065" stop-color="#ff0000"/><stop offset="0.613" stop-color="#ff0000"/><stop offset="0.625" stop-color="#ff0600"/><stop offset="0.667" stop-color="#ff1c00"/><stop offset="0.708" stop-color="#ff3600"/><stop offset="0.75" stop-color="#ff5200"/><stop offset="0.792" stop-color="#ff7200"/><stop offset="0.833" stop-color="#ff9400"/><stop offset="0.875" stop-color="#ffba00"/><stop offset="0.917" stop-color="#ffe200"/><stop offset="0.945" stop-color="#ffff00"/><stop offset="0.958" stop-color="#f0ff00"/><stop offset="1" stop-color="#c2ff00"/></linearGradient><linearGradient id="r23"><stop offset="0" stop-color="#ff2700"/><stop offset="0.042" stop-color="#ff0f00"/><stop offset="0.073" stop-color="#ff0000"/><stop offset="0.607" stop-color="#ff0000"/><stop offset="0.625" stop-color="#ff0900"/><stop offset="0.667" stop-color="#ff1f00"/><stop offset="0.708" stop-color="#ff3800"/><stop offset="0.75" stop-color="#ff5500"/><stop offset="0.792" stop-color="#ff7400"/><stop offset="0.833" stop-color="#ff9600"/><stop offset="0.875" stop-color="#ffbc00"/><stop offset="0.917" stop-color="#ffe400"/><stop offset="0.943" stop-color="#ffff00"/><stop offset="0.958" stop-color="#eeff00"/><stop offset="1" stop-color="#c0ff00"/></linearGradient><linearGradient id="r24"><stop offset="0" stop-color="#ff2b00"/><stop offset="0.042" stop-color="#ff1300"/><stop offset="0.081" stop-color="#ff0000"/><stop offset="0.601" stop-color="#ff0000"/><stop offset="0.625" stop-color="#ff0b00"/><stop offset="0.667" stop-color="#ff2200"/><stop offset="0.708" stop-color="#ff3b00"/><stop offset="0.75" stop-color="#ff5700"/><stop offset="0.792" stop-color="#ff7600"/><stop offset="0.833" stop-color="#ff9900"/><stop offset="0.875" stop-color="#ffbe00"/><stop offset="0.917" stop-color="#ffe600"/><stop offset="0.941" stop-color="#ffff00"/><stop offset="0.958" stop-color="#ecff00"/><stop offset="1" stop-color="#beff00"/></linearGradient><linearGradient id="r25"><stop offset="0" stop-color="#ff2f00"/><stop offset="0.042" stop-color="#ff1700"/><stop offset="0.083" stop-color="#ff0300"/><stop offset="0.09" stop-color="#ff0000"/><stop offset="0.595" stop-color="#ff0000"/><stop offset="0.625" stop-color="#ff0e00"/><stop offset="0.667" stop-color="#ff2400"/><stop offset="0.708" stop-color="#ff3d00"/><stop offset="0.75" stop-color="#ff5a00"/><stop offset="0.792" stop-color="#ff7900"/><stop offset="0.833" stop-color="#ff9b00"/><stop offset="0.875" stop-color="#ffc000"/><stop offset="0.917" stop-color="#ffe900"/><stop offset="0.939" stop-color="#ffff00"/><stop offset="0.958" stop-color="#eaff00"/><stop offset="1" stop-color="#bcff00"/></linearGradient><linearGradient id="r26"><stop offset="0" stop-color="#ff3200"/><stop offset="0.042" stop-color="#ff1b00"/><stop offset="0.083" stop-color="#ff0700"/><stop offset="0.098" stop-color="#ff0000"/><stop offset="0.588" stop-color="#ff0000"/><stop offset="0.625" stop-color="#ff1100"/><stop offset="0.667" stop-color="#ff2700"/><stop offset="0.708" stop-color="#ff4000"/><stop offset="0.75" stop-color="#ff5c00"/><stop offset="0.792" stop-color="#ff7b00"/><stop offset="0.833" stop-color="#ff9d00"/><stop offset="0.875" stop-color="#ffc200"/><stop offset="0.917" stop-color="#ffeb00"/><stop offset="0.937" stop-color="#ffff00"/><stop offset="0.958" stop-color="#e8ff00"/><stop offset="1" stop-color="#baff00"/></linearGradient><linearGradient id="r27"><stop offset="0" stop-color="#ff3600"/><stop offset="0.042" stop-color="#ff1f00"/><stop offset="0.083" stop-color="#ff0a00"/><stop offset="0.107" stop-color="#ff0000"/><stop offset="0.582" stop-color="#ff0000"/><stop offset="0.583" stop-color="#ff0100"/><stop offset="0.625" stop-color="#ff1400"/><stop offset="0.667" stop-color="#ff2900"/><stop offset="0.708" stop-color="#ff4200"/><stop offset="0.75" stop-color="#ff5e00"/><stop offset="0.792" stop-color="#ff7d00"/><stop offset="0.833" stop-color="#ffa000"/><stop offset="0.875" stop-color="#ffc500"/><stop offset="0.917" stop-color="#ffed00"/><stop offset="0.935" stop-color="#ffff00"/><stop offset="0.958" stop-color="#e6ff00"/><stop offset="1" stop-color="#b8ff00"/></linearGradient><linearGradient id="r28"><stop offset="0" stop-color="#ff3a00"/><stop offset="0.042" stop-color="#ff2300"/><stop offset="0.083" stop-color="#ff0e00"/><stop offset="0.116" stop-color="#ff0000"/><stop offset="0.575" stop-color="#ff0000"/><stop offset="0.583" stop-color="#ff0300"/><stop offset="0.625" stop-color="#ff1600"/><stop offset="0.667" stop-color="#ff2c00"/><stop offset="0.708" stop-color="#ff4500"/><stop offset="0.75" stop-color="#ff6100"/><stop offset="0.792" stop-color="#ff8000"/><stop offset="0.833" stop-color="#ffa200"/><stop offset="0.875" stop-color="#ffc700"/><stop offset="0.917" stop-color="#ffef00"/><stop offset="0.933" stop-color="#ffff00"/><stop offset="0.958" stop-color="#e4ff00"/><stop offset="1" stop-color="#b6ff00"/></linearGradient><linearGradient id="r29"><stop offset="0" stop-color="#ff3e00"/><stop offset="0.042" stop-color="#ff2700"/><stop offset="0.083" stop-color="#ff1200"/><stop offset="0.125" stop-color="#ff0000"/><stop offset="0.568" stop-color="#ff0000"/><stop offset="0.583" stop-color="#ff0600"/><stop offset="0.625" stop-color="#ff1900"/><stop offset="0.667" stop-color="#ff2f00"/><stop offset="0.708" stop-color="#ff4700"/><stop offset="0.75" stop-color="#ff6300"/><stop offset="0.792" stop-color="#ff8200"/><stop offset="0.833" stop-color="#ffa400"/><stop offset="0.875" stop-color="#ffc900"/><stop offset="0.917" stop-color="#fff100"/><stop offset="0.931" stop-color="#ffff00"/><stop offset="0.958" stop-color="#e2ff00"/><stop offset="1" stop-color="#b4ff00"/></linearGradient><linearGradient id="r30"><stop offset="0" stop-color="#ff4200"/><stop offset="0.042" stop-color="#ff2a00"/><stop offset="0.083" stop-color="#ff1600"/><stop offset="0.125" stop-color="#ff0400"/><stop offset="0.135" stop-color="#ff0000"/><stop offset="0.561" stop-color="#ff0000"/><stop offset="0.583" stop-color="#ff0900"/><stop offset="0.625" stop-color="#ff1c00"/><stop offset="0.667" stop-color="#ff3100"/><stop offset="0.708" stop-color="#ff4a00"/><stop offset="0.75" stop-color="#ff6600"/><stop offset="0.792" stop-color="#ff8500"/><stop offset="0.833" stop-color="#ffa600"/><stop offset="0.875" stop-color="#ffcb00"/><stop offset="0.917" stop-color="#fff300"/><stop offset="0.929" stop-color="#ffff00"/><stop offset="0.958" stop-color="#e0ff00"/><stop offset="1" stop-color="#b2ff00"/></linearGradient><linearGradient id="r31"><stop offset="0" stop-color="#ff4600"/><stop offset="0.042" stop-color="#ff2e00"/><stop offset="0.083" stop-color="#ff1900"/><stop offset="0.125" stop-color="#ff0800"/><stop offset="0.145" stop-color="#ff0000"/><stop offset="0.553" stop-color="#ff0000"/><stop offset="0.583" stop-color="#ff0c00"/><stop offset="0.625" stop-color="#ff1e00"/><stop offset="0.667" stop-color="#ff3400"/><stop offset="0.708" stop-color="#ff4c00"/><stop offset="0.75" stop-color="#ff6800"/><stop offset="0.792" stop-color="#ff8700"/><stop offset="0.833" stop-color="#ffa900"/><stop offset="0.875" stop-color="#ffcd00"/><stop offset="0.917" stop-color="#fff500"/><stop offset="0.926" stop-color="#ffff00"/><stop offset="0.958" stop-color="#deff00"/><stop offset="1" stop-color="#b0ff00"/></linearGradient><linearGradient id="r32"><stop offset="0" stop-color="#ff4a00"/><stop offset="0.042" stop-color="#ff3200"/><stop offset="0.083" stop-color="#ff1d00"/><stop offset="0.125" stop-color="#ff0b00"/><stop offset="0.156" stop-color="#ff0000"/><stop offset="0.545" stop-color="#ff0000"/><stop offset="0.583" stop-color="#ff0e00"/><stop offset="0.625" stop-color="#ff2100"/><stop offset="0.667" stop-color="#ff3600"/><stop offset="0.708" stop-color="#ff4f00"/><stop offset="0.75" stop-color="#ff6b00"/><stop offset="0.792" stop-color="#ff8900"/><stop offset="0.833" stop-color="#ffab00"/><stop offset="0.875" stop-color="#ffd000"/><stop offset="0.917" stop-color="#fff700"/><stop offset="0.924" stop-color="#ffff00"/><stop offset="0.958" stop-color="#dcff00"/><stop offset="1" stop-color="#aeff00"/></linearGradient><linearGradient id="r33"><stop offset="0" stop-color="#ff4e00"/><stop offset="0.042" stop-color="#ff3600"/><stop offset="0.083" stop-color="#ff2100"/><stop offset="0.125" stop-color="#ff0f00"/><stop offset="0.167" stop-color="#ff0000"/><stop offset="0.536" stop-color="#ff0000"/><stop offset="0.542" stop-color="#ff0200"/><stop offset="0.583" stop-color="#ff1100"/><stop offset="0.625" stop-color="#ff2400"/><stop offset="0.667" stop-color="#ff3900"/><stop offset="0.708" stop-color="#ff5100"/><stop offset="0.75" stop-color="#ff6d00"/><stop offset="0.792" stop-color="#ff8c00"/><stop offset="0.833" stop-color="#ffad00"/><stop offset="0.875" stop-color="#ffd200"/><stop offset="0.917" stop-color="#fff900"/><stop offset="0.922" stop-color="#ffff00"/><stop offset="0.958" stop-color="#daff00"/><stop offset="1" stop-color="#acff00"/></linearGradient><linearGradient id="r34"><stop offset="0" stop-color="#ff5200"/><stop offset="0.042" stop-color="#ff3a00"/><stop offset="0.083" stop-color="#ff2500"/><stop offset="0.125" stop-color="#ff1300"/><stop offset="0.167" stop-color="#ff0400"/><stop offset="0.178" stop-color="#ff0000"/><stop offset="0.527" stop-color="#ff0000"/><stop offset="0.542" stop-color="#ff0500"/><stop offset="0.583" stop-color="#ff1400"/><stop offset="0.625" stop-color="#ff2600"/><stop offset="0.667" stop-color="#ff3c00"/><stop offset="0.708" stop-color="#ff5400"/><stop offset="0.75" stop-color="#ff6f00"/><stop offset="0.792" stop-color="#ff8e00"/><stop offset="0.833" stop-color="#ffaf00"/><stop offset="0.875" stop-color="#ffd400"/><stop offset="0.917" stop-color="#fffb00"/><stop offset="0.92" stop-color="#ffff00"/><stop offset="0.958" stop-color="#d8ff00"/><stop offset="1" stop-color="#aaff00"/></linearGradient><linearGradient id="r35"><stop offset="0" stop-color="#ff5600"/><stop offset="0.042" stop-color="#ff3e00"/><stop offset="0.083" stop-color="#ff2800"/><stop offset="0.125" stop-color="#ff1600"/><stop offset="0.167" stop-color="#ff0700"/><stop offset="0.19" stop-color="#ff0000"/><stop offset="0.517" stop-color="#ff0000"/><stop offset="0.542" stop-color="#ff0700"/><stop offset="0.583" stop-color="#ff1700"/><stop offset="0.625" stop-color="#ff2900"/><stop offset="0.667" stop-color="#ff3e00"/><stop offset="0.708" stop-color="#ff5600"/><stop offset="0.75" stop-color="#ff7200"/><stop offset="0.792" stop-color="#ff9000"/><stop offset="0.833" stop-color="#ffb200"/><stop offset="0.875" stop-color="#ffd600"/><stop offset="0.917" stop-color="#fffe00"/><stop offset="0.918" stop-color="#ffff00"/><stop offset="0.958" stop-color="#d6ff00"/><stop offset="1" stop-color="#a8ff00"/></linearGradient><linearGradient id="r36"><stop offset="0" stop-color="#ff5a00"/><stop offset="0.042" stop-color="#ff4100"/><stop offset="0.083" stop-color="#ff2c00"/><stop offset="0.125" stop-color="#ff1a00"/><stop offset="0.167" stop-color="#ff0b00"/><stop offset="0.202" stop-color="#ff0000"/><stop offset="0.507" stop-color="#ff0000"/><stop offset="0.542" stop-color="#ff0a00"/><stop offset="0.583" stop-color="#ff1900"/><stop offset="0.625" stop-color="#ff2c00"/><stop offset="0.667" stop-color="#ff4100"/><stop offset="0.708" stop-color="#ff5900"/><stop offset="0.75" stop-color="#ff7400"/><stop offset="0.792" stop-color="#ff9300"/><stop offset="0.833" stop-color="#ffb400"/><stop offset="0.875" stop-color="#ffd800"/><stop offset="0.916" stop-color="#ffff00"/><stop offset="0.917" stop-color="#feff00"/><stop offset="0.958" stop-color="#d4ff00"/><stop offset="1" stop-color="#a7ff00"/></linearGradient><linearGradient id="r37"><stop offset="0" stop-color="#ff5e00"/><stop offset="0.042" stop-color="#ff4500"/><stop offset="0.083" stop-color="#ff3000"/><stop offset="0.125" stop-color="#ff1e00"/><stop offset="0.167" stop-color="#ff0e00"/><stop offset="0.208" stop-color="#ff0200"/><stop offset="0.216" stop-color="#ff0000"/><stop offset="0.496" stop-color="#ff0000"/><stop offset="0.5" stop-color="#ff0100"/><stop offset="0.542" stop-color="#ff0d00"/><stop offset="0.583" stop-color="#ff1c00"/><stop offset="0.625" stop-color="#ff2e00"/><stop offset="0.667" stop-color="#ff4300"/><stop offset="0.708" stop-color="#ff5b00"/><stop offset="0.75" stop-color="#ff7700"/><stop offset="0.792" stop-color="#ff9500"/><stop offset="0.833" stop-color="#ffb600"/><stop offset="0.875" stop-color="#ffda00"/><stop offset="0.914" stop-color="#ffff00"/><stop offset="0.917" stop-color="#fcff00"/><stop offset="0.958" stop-color="#d2ff00"/><stop offset="1" stop-color="#a5ff00"/></linearGradient><linearGradient id="r38"><stop offset="0" stop-color="#ff6100"/><stop offset="0.042" stop-color="#ff4900"/><stop offset="0.083" stop-color="#ff3400"/><stop offset="0.125" stop-color="#ff2100"/><stop offset="0.167" stop-color="#ff1200"/><stop offset="0.208" stop-color="#ff0500"/><stop offset="0.231" stop-color="#ff0000"/><stop offset="0.483" stop-color="#ff0000"/><stop offset="0.5" stop-color="#ff0400"/><stop offset="0.542" stop-color="#ff1000"/><stop offset="0.583" stop-color="#ff1f00"/><stop offset="0.625" stop-color="#ff3100"/><stop offset="0.667" stop-color="#ff4600"/><stop offset="0.708" stop-color="#ff5e00"/><stop offset="0.75" stop-color="#ff7900"/><stop offset="0.792" stop-color="#ff9700"/><stop offset="0.833" stop-color="#ffb800"/><stop offset="0.875" stop-color="#ffdc00"/><stop offset="0.912" stop-color="#ffff00"/><stop offset="0.917" stop-color="#faff00"/><stop offset="0.958" stop-color="#d0ff00"/><stop offset="1" stop-color="#a3ff00"/></linearGradient><linearGradient id="r39"><stop offset="0" stop-color="#ff6500"/><stop offset="0.042" stop-color="#ff4d00"/><stop offset="0.083" stop-color="#ff3700"/><stop offset="0.125" stop-color="#ff2500"/><stop offset="0.167" stop-color="#ff1500"/><stop offset="0.208" stop-color="#ff0900"/><stop offset="0.247" stop-color="#ff0000"/><stop offset="0.469" stop-color="#ff0000"/><stop offset="0.5" stop-color="#ff0700"/><stop offset="0.542" stop-color="#ff1300"/><stop offset="0.583" stop-color="#ff2200"/><stop offset="0.625" stop-color="#ff3300"/><stop offset="0.667" stop-color="#ff4800"/><stop offset="0.708" stop-color="#ff6000"/><stop offset="0.75" stop-color="#ff7b00"/><stop offset="0.792" stop-color="#ff9900"/><stop offset="0.833" stop-color="#ffba00"/><stop offset="0.875" stop-color="#ffdf00"/><stop offset="0.91" stop-color="#ffff00"/><stop offset="0.917" stop-color="#f8ff00"/><stop offset="0.958" stop-color="#ceff00"/><stop offset="1" stop-color="#a1ff00"/></linearGradient><linearGradient id="r40"><stop offset="0" stop-color="#ff6900"/><stop offset="0.042" stop-color="#ff5100"/><stop offset="0.083" stop-color="#ff3b00"/><stop offset="0.125" stop-color="#ff2800"/><stop offset="0.167" stop-color="#ff1900"/><stop offset="0.208" stop-color="#ff0c00"/><stop offset="0.25" stop-color="#ff0300"/><stop offset="0.266" stop-color="#ff0000"/><stop offset="0.452" stop-color="#ff0000"/><stop offset="0.458" stop-color="#ff0100"/><stop offset="0.5" stop-color="#ff0a00"/><stop offset="0.542" stop-color="#ff1500"/><stop offset="0.583" stop-color="#ff2400"/><stop offset="0.625" stop-color="#ff3600"/><stop offset="0.667" stop-color="#ff4b00"/><stop offset="0.708" stop-color="#ff6300"/><stop offset="0.75" stop-color="#ff7e00"/><stop offset="0.792" stop-color="#ff9c00"/><stop offset="0.833" stop-color="#ffbd00"/><stop offset="0.875" stop-color="#ffe100"/><stop offset="0.908" stop-color="#ffff00"/><stop offset="0.917" stop-color="#f6ff00"/><stop offset="0.958" stop-color="#ccff00"/><stop offset="1" stop-color="#9fff00"/></linearGradient><linearGradient id="r41"><stop offset="0" stop-color="#ff6d00"/><stop offset="0.042" stop-color="#ff5400"/><stop offset="0.083" stop-color="#ff3f00"/><stop offset="0.125" stop-color="#ff2c00"/><stop offset="0.167" stop-color="#ff1c00"/><stop offset="0.208" stop-color="#ff1000"/><stop offset="0.25" stop-color="#ff0600"/><stop offset="0.289" stop-color="#ff0000"/><stop offset="0.432" stop-color="#ff0000"/><stop offset="0.458" stop-color="#ff0400"/><stop offset="0.5" stop-color="#ff0d00"/><stop offset="0.542" stop-color="#ff1800"/><stop offset="0.583" stop-color="#ff2700"/><stop offset="0.625" stop-color="#ff3900"/><stop offset="0.667" stop-color="#ff4d00"/><stop offset="0.708" stop-color="#ff6500"/><stop offset="0.75" stop-color="#ff8000"/><stop offset="0.792" stop-color="#ff9e00"/><stop offset="0.833" stop-color="#ffbf00"/><stop offset="0.875" stop-color="#ffe300"/><stop offset="0.905" stop-color="#ffff00"/><stop offset="0.917" stop-color="#f4ff00"/><stop offset="0.958" stop-color="#caff00"/><stop offset="1" stop-color="#9dff00"/></linearGradient><linearGradient id="r42"><stop offset="0" stop-color="#ff7100"/><stop offset="0.042" stop-color="#ff5800"/><stop offset="0.083" stop-color="#ff4200"/><stop offset="0.125" stop-color="#ff3000"/><stop offset="0.167" stop-color="#ff2000"/><stop offset="0.208" stop-color="#ff1300"/><stop offset="0.25" stop-color="#ff0a00"/><stop offset="0.292" stop-color="#ff0300"/><stop offset="0.323" stop-color="#ff0000"/><stop offset="0.4" stop-color="#ff0000"/><stop offset="0.417" stop-color="#ff0100"/><stop offset="0.458" stop-color="#ff0700"/><stop offset="0.5" stop-color="#ff0f00"/><stop offset="0.542" stop-color="#ff1b00"/><stop offset="0.583" stop-color="#ff2a00"/><stop offset="0.625" stop-color="#ff3b00"/><stop offset="0.667" stop-color="#ff5000"/><stop offset="0.708" stop-color="#ff6800"/><stop offset="0.75" stop-color="#ff8200"/><stop offset="0.792" stop-color="#ffa000"/><stop offset="0.833" stop-color="#ffc100"/><stop offset="0.875" stop-color="#ffe500"/><stop offset="0.903" stop-color="#ffff00"/><stop offset="0.917" stop-color="#f2ff00"/><stop offset="0.958" stop-color="#c8ff00"/><stop offset="1" stop-color="#9bff00"/></linearGradient><linearGradient id="r43"><stop offset="0" stop-color="#ff7500"/><stop offset="0.042" stop-color="#ff5c00"/><stop offset="0.083" stop-color="#ff4600"/><stop offset="0.125" stop-color="#ff3300"/><stop offset="0.167" stop-color="#ff2300"/><stop offset="0.208" stop-color="#ff1700"/><stop offset="0.25" stop-color="#ff0d00"/><stop offset="0.292" stop-color="#ff0600"/><stop offset="0.333" stop-color="#ff0300"/><stop offset="0.375" stop-color="#ff0200"/><stop offset="0.417" stop-color="#ff0400"/><stop offset="0.458" stop-color="#ff0a00"/><stop offset="0.5" stop-color="#ff1200"/><stop offset="0.542" stop-color="#ff1e00"/><stop offset="0.583" stop-color="#ff2c00"/><stop offset="0.625" stop-color="#ff3e00"/><stop offset="0.667" stop-color="#ff5300"/><stop offset="0.708" stop-color="#ff6a00"/><stop offset="0.75" stop-color="#ff8500"/><stop offset="0.792" stop-color="#ffa300"/><stop offset="0.833" stop-color="#ffc300"/><stop offset="0.875" stop-color="#ffe700"/><stop offset="0.901" stop-color="#ffff00"/><stop offset="0.917" stop-color="#f0ff00"/><stop offset="0.958" stop-color="#c6ff00"/><stop offset="1" stop-color="#99ff00"/></linearGradient><linearGradient id="r44"><stop offset="0" stop-color="#ff7900"/><stop offset="0.042" stop-color="#ff6000"/><stop offset="0.083" stop-color="#ff4a00"/><stop offset="0.125" stop-color="#ff3700"/><stop offset="0.167" stop-color="#ff2700"/><stop offset="0.208" stop-color="#ff1a00"/><stop offset="0.25" stop-color="#ff1000"/><stop offset="0.292" stop-color="#ff0a00"/><stop offset="0.333" stop-color="#ff0600"/><stop offset="0.375" stop-color="#ff0500"/><stop offset="0.417" stop-color="#ff0700"/><stop offset="0.458" stop-color="#ff0d00"/><stop offset="0.5" stop-color="#ff1500"/><stop offset="0.542" stop-color="#ff2100"/><stop offset="0.583" stop-color="#ff2f00"/><stop offset="0.625" stop-color="#ff4100"/><stop offset="0.667" stop-color="#ff5500"/><stop offset="0.708" stop-color="#ff6d00"/><stop offset="0.75" stop-color="#ff8700"/><stop offset="0.792" stop-color="#ffa500"/><stop offset="0.833" stop-color="#ffc500"/><stop offset="0.875" stop-color="#ffe900"/><stop offset="0.899" stop-color="#ffff00"/><stop offset="0.917" stop-color="#eeff00"/><stop offset="0.958" stop-color="#c4ff00"/><stop offset="1" stop-color="#98ff00"/></linearGradient><linearGradient id="r45"><stop offset="0" stop-color="#ff7d00"/><stop offset="0.042" stop-color="#ff6300"/><stop offset="0.083" stop-color="#ff4d00"/><stop offset="0.125" stop-color="#ff3a00"/><stop offset="0.167" stop-color="#ff2a00"/><stop offset="0.208" stop-color="#ff1e00"/><stop offset="0.25" stop-color="#ff1400"/><stop offset="0.292" stop-color="#ff0d00"/><stop offset="0.333" stop-color="#ff0900"/><stop offset="0.375" stop-color="#ff0800"/><stop offset="0.417" stop-color="#ff0a00"/><stop offset="0.458" stop-color="#ff1000"/><stop offset="0.5" stop-color="#ff1800"/><stop offset="0.542" stop-color="#ff2300"/><stop offset="0.583" stop-color="#ff3200"/><stop offset="0.625" stop-color="#ff4300"/><stop offset="0.667" stop-color="#ff5800"/><stop offset="0.708" stop-color="#ff6f00"/><stop offset="0.75" stop-color="#ff8a00"/><stop offset="0.792" stop-color="#ffa700"/><stop offset="0.833" stop-color="#ffc800"/><stop offset="0.875" stop-color="#ffeb00"/><stop offset="0.897" stop-color="#ffff00"/><stop offset="0.917" stop-color="#ecff00"/><stop offset="0.958" stop-color="#c2ff00"/><stop offset="1" stop-color="#96ff00"/></linearGradient><linearGradient id="r46"><stop offset="0" stop-color="#ff8000"/><stop offset="0.042" stop-color="#ff6700"/><stop offset="0.083" stop-color="#ff5100"/><stop offset="0.125" stop-color="#ff3e00"/><stop offset="0.167" stop-color="#ff2e00"/><stop offset="0.208" stop-color="#ff2100"/><stop offset="0.25" stop-color="#ff1700"/><stop offset="0.292" stop-color="#ff1000"/><stop offset="0.333" stop-color="#ff0c00"/><stop offset="0.375" stop-color="#ff0b00"/><stop offset="0.417" stop-color="#ff0d00"/><stop offset="0.458" stop-color="#ff1300"/><stop offset="0.5" stop-color="#ff1b00"/><stop offset="0.542" stop-color="#ff2600"/><stop offset="0.583" stop-color="#ff3400"/><stop offset="0.625" stop-color="#ff4600"/><stop offset="0.667" stop-color="#ff5a00"/><stop offset="0.708" stop-color="#ff7100"/><stop offset="0.75" stop-color="#ff8c00"/><stop offset="0.792" stop-color="#ffa900"/><stop offset="0.833" stop-color="#ffca00"/><stop offset="0.875" stop-color="#ffed00"/><stop offset="0.894" stop-color="#ffff00"/><stop offset="0.917" stop-color="#eaff00"/><stop offset="0.958" stop-color="#c0ff00"/><stop offset="1" stop-color="#94ff00"/></linearGradient><linearGradient id="r47"><stop offset="0" stop-color="#ff8400"/><stop offset="0.042" stop-color="#ff6b00"/><stop offset="0.083" stop-color="#ff5500"/><stop offset="0.125" stop-color="#ff4200"/><stop offset="0.167" stop-color="#ff3200"/><stop offset="0.208" stop-color="#ff2400"/><stop offset="0.25" stop-color="#ff1a00"/><stop offset="0.292" stop-color="#ff1300"/><stop offset="0.333" stop-color="#ff0f00"/><stop offset="0.375" stop-color="#ff0e00"/><stop offset="0.417" stop-color="#ff1000"/><stop offset="0.458" stop-color="#ff1600"/><stop offset="0.5" stop-color="#ff1e00"/><stop offset="0.542" stop-color="#ff2900"/><stop offset="0.583" stop-color="#ff3700"/><stop offset="0.625" stop-color="#ff4800"/><stop offset="0.667" stop-color="#ff5d00"/><stop offset="0.708" stop-color="#ff7400"/><stop offset="0.75" stop-color="#ff8e00"/><stop offset="0.792" stop-color="#ffac00"/><stop offset="0.833" stop-color="#ffcc00"/><stop offset="0.875" stop-color="#ffef00"/><stop offset="0.892" stop-color="#ffff00"/><stop offset="0.917" stop-color="#e8ff00"/><stop offset="0.958" stop-color="#bfff00"/><stop offset="1" stop-color="#92ff00"/></linearGradient><linearGradient id="r48"><stop offset="0" stop-color="#ff8800"/><stop offset="0.042" stop-color="#ff6f00"/><stop offset="0.083" stop-color="#ff5800"/><stop offset="0.125" stop-color="#ff4500"/><stop offset="0.167" stop-color="#ff3500"/><stop offset="0.208" stop-color="#ff2800"/><stop offset="0.25" stop-color="#ff1e00"/><stop offset="0.292" stop-color="#ff1700"/><stop offset="0.333" stop-color="#ff1300"/><stop offset="0.375" stop-color="#ff1100"/><stop offset="0.417" stop-color="#ff1300"/><stop offset="0.458" stop-color="#ff1800"/><stop offset="0.5" stop-color="#ff2100"/><stop offset="0.542" stop-color="#ff2c00"/><stop offset="0.583" stop-color="#ff3a00"/><stop offset="0.625" stop-color="#ff4b00"/><stop offset="0.667" stop-color="#ff5f00"/><stop offset="0.708" stop-color="#ff7600"/><stop offset="0.75" stop-color="#ff9100"/><stop offset="0.792" stop-color="#ffae00"/><stop offset="0.833" stop-color="#ffce00"/><stop offset="0.875" stop-color="#fff200"/><stop offset="0.89" stop-color="#ffff00"/><stop offset="0.917" stop-color="#e6ff00"/><stop offset="0.958" stop-color="#bdff00"/><stop offset="1" stop-color="#90ff00"/></linearGradient><linearGradient id="r49"><stop offset="0" stop-color="#ff8c00"/><stop offset="0.042" stop-color="#ff7200"/><stop offset="0.083" stop-color="#ff5c00"/><stop offset="0.125" stop-color="#ff4900"/><stop offset="0.167" stop-color="#ff3900"/><stop offset="0.208" stop-color="#ff2b00"/><stop offset="0.25" stop-color="#ff2100"/><stop offset="0.292" stop-color="#ff1a00"/><stop offset="0.333" stop-color="#ff1600"/><stop offset="0.375" stop-color="#ff1500"/><stop offset="0.417" stop-color="#ff1600"/><stop offset="0.458" stop-color="#ff1b00"/><stop offset="0.5" stop-color="#ff2300"/><stop offset="0.542" stop-color="#ff2e00"/><stop offset="0.583" stop-color="#ff3c00"/><stop offset="0.625" stop-color="#ff4d00"/><stop offset="0.667" stop-color="#ff6200"/><stop offset="0.708" stop-color="#ff7900"/><stop offset="0.75" stop-color="#ff9300"/><stop offset="0.792" stop-color="#ffb000"/><stop offset="0.833" stop-color="#ffd000"/><stop offset="0.875" stop-color="#fff400"/><stop offset="0.888" stop-color="#ffff00"/><stop offset="0.917" stop-color="#e4ff00"/><stop offset="0.958" stop-color="#bbff00"/><stop offset="1" stop-color="#8eff00"/></linearGradient><linearGradient id="r50"><stop offset="0" stop-color="#ff9000"/><stop offset="0.042" stop-color="#ff7600"/><stop offset="0.083" stop-color="#ff6000"/><stop offset="0.125" stop-color="#ff4c00"/><stop offset="0.167" stop-color="#ff3c00"/><stop offset="0.208" stop-color="#ff2f00"/><stop offset="0.25" stop-color="#ff2400"/><stop offset="0.292" stop-color="#ff1d00"/><stop offset="0.333" stop-color="#ff1900"/><stop offset="0.375" stop-color="#ff1800"/><stop offset="0.417" stop-color="#ff1900"/><stop offset="0.458" stop-color="#ff1e00"/><stop offset="0.5" stop-color="#ff2600"/><stop offset="0.542" stop-color="#ff3100"/><stop offset="0.583" stop-color="#ff3f00"/><stop offset="0.625" stop-color="#ff5000"/><stop offset="0.667" stop-color="#ff6400"/><stop offset="0.708" stop-color="#ff7b00"/><stop offset="0.75" stop-color="#ff9500"/><stop offset="0.792" stop-color="#ffb200"/><stop offset="0.833" stop-color="#ffd300"/><stop offset="0.875" stop-color="#fff600"/><stop offset="0.885" stop-color="#ffff00"/><stop offset="0.917" stop-color="#e2ff00"/><stop offset="0.958" stop-color="#b9ff00"/><stop offset="1" stop-color="#8dff00"/></linearGradient><linearGradient id="r51"><stop offset="0" stop-color="#ff9400"/><stop offset="0.042" stop-color="#ff7a00"/><stop offset="0.083" stop-color="#ff6300"/><stop offset="0.125" stop-color="#ff5000"/><stop offset="0.167" stop-color="#ff3f00"/><stop offset="0.208" stop-color="#ff3200"/><stop offset="0.25" stop-color="#ff2800"/><stop offset="0.292" stop-color="#ff2000"/><stop offset="0.333" stop-color="#ff1c00"/><stop offset="0.375" stop-color="#ff1b00"/><stop offset="0.417" stop-color="#ff1c00"/><stop offset="0.458" stop-color="#ff2100"/><stop offset="0.5" stop-color="#ff2900"/><stop offset="0.542" stop-color="#ff3400"/><stop offset="0.583" stop-color="#ff4200"/><stop offset="0.625" stop-color="#ff5300"/><stop offset="0.667" stop-color="#ff6700"/><stop offset="0.708" stop-color="#ff7e00"/><stop offset="0.75" stop-color="#ff9800"/><stop offset="0.792" stop-color="#ffb500"/><stop offset="0.833" stop-color="#ffd500"/><stop offset="0.875" stop-color="#fff800"/><stop offset="0.883" stop-color="#ffff00"/><stop offset="0.917" stop-color="#e0ff00"/><stop offset="0.958" stop-color="#b7ff00"/><stop offset="1" stop-color="#8bff00"/></linearGradient><linearGradient id="r52"><stop offset="0" stop-color="#ff9700"/><stop offset="0.042" stop-color="#ff7e00"/><stop offset="0.083" stop-color="#ff6700"/><stop offset="0.125" stop-color="#ff5400"/><stop offset="0.167" stop-color="#ff4300"/><stop offset="0.208" stop-color="#ff3500"/><stop offset="0.25" stop-color="#ff2b00"/><stop offset="0.292" stop-color="#ff2400"/><stop offset="0.333" stop-color="#ff1f00"/><stop offset="0.375" stop-color="#ff1e00"/><stop offset="0.417" stop-color="#ff1f00"/><stop offset="0.458" stop-color="#ff2400"/><stop offset="0.5" stop-color="#ff2c00"/><stop offset="0.542" stop-color="#ff3700"/><stop offset="0.583" stop-color="#ff4400"/><stop offset="0.625" stop-color="#ff5500"/><stop offset="0.667" stop-color="#ff6900"/><stop offset="0.708" stop-color="#ff8000"/><stop offset="0.75" stop-color="#ff9a00"/><stop offset="0.792" stop-color="#ffb700"/><stop offset="0.833" stop-color="#ffd700"/><stop offset="0.875" stop-color="#fffa00"/><stop offset="0.881" stop-color="#ffff00"/><stop offset="0.917" stop-color="#deff00"/><stop offset="0.958" stop-color="#b5ff00"/><stop offset="1" stop-color="#89ff00"/></linearGradient><linearGradient id="r53"><stop offset="0" stop-color="#ff9b00"/><stop offset="0.042" stop-color="#ff8100"/><stop offset="0.083" stop-color="#ff6b00"/><stop offset="0.125" stop-color="#ff5700"/><stop offset="0.167" stop-color="#ff4600"/><stop offset="0.208" stop-color="#ff3900"/><stop offset="0.25" stop-color="#ff2e00"/><stop offset="0.292" stop-color="#ff2700"/><stop offset="0.333" stop-color="#ff2200"/><stop offset="0.375" stop-color="#ff2100"/><stop offset="0.417" stop-color="#ff2200"/><stop offset="0.458" stop-color="#ff2700"/><stop offset="0.5" stop-color="#ff2f00"/><stop offset="0.542" stop-color="#ff3900"/><stop offset="0.583" stop-color="#ff4700"/><stop offset="0.625" stop-color="#ff5800"/><stop offset="0.667" stop-color="#ff6c00"/><stop offset="0.708" stop-color="#ff8200"/><stop offset="0.75" stop-color="#ff9c00"/><stop offset="0.792" stop-color="#ffb900"/><stop offset="0.833" stop-color="#ffd900"/><stop offset="0.875" stop-color="#fffc00"/><stop offset="0.879" stop-color="#ffff00"/><stop offset="0.917" stop-color="#dcff00"/><stop offset="0.958" stop-color="#b3ff00"/><stop offset="1" stop-color="#87ff00"/></linearGradient><linearGradient id="r54"><stop offset="0" stop-color="#ff9f00"/><stop offset="0.042" stop-color="#ff8500"/><stop offset="0.083" stop-color="#ff6e00"/><stop offset="0.125" stop-color="#ff5b00"/><stop offset="0.167" stop-color="#ff4a00"/><stop offset="0.208" stop-color="#ff3c00"/><stop offset="0.25" stop-color="#ff3200"/><stop offset="0.292" stop-color="#ff2a00"/><stop offset="0.333" stop-color="#ff2500"/><stop offset="0.375" stop-color="#ff2400"/><stop offset="0.417" stop-color="#ff2500"/><stop offset="0.458" stop-color="#ff2a00"/><stop offset="0.5" stop-color="#ff3100"/><stop offset="0.542" stop-color="#ff3c00"/><stop offset="0.583" stop-color="#ff4a00"/><stop offset="0.625" stop-color="#ff5a00"/><stop offset="0.667" stop-color="#ff6e00"/><stop offset="0.708" stop-color="#ff8500"/><stop offset="0.75" stop-color="#ff9e00"/><stop offset="0.792" stop-color="#ffbb00"/><stop offset="0.833" stop-color="#ffdb00"/><stop offset="0.875" stop-color="#fffe00"/><stop offset="0.876" stop-color="#ffff00"/><stop offset="0.917" stop-color="#daff00"/><stop offset="0.958" stop-color="#b1ff00"/><stop offset="1" stop-color="#85ff00"/></linearGradient><linearGradient id="r55"><stop offset="0" stop-color="#ffa300"/><stop offset="0.042" stop-color="#ff8900"/><stop offset="0.083" stop-color="#ff7200"/><stop offset="0.125" stop-color="#ff5e00"/><stop offset="0.167" stop-color="#ff4d00"/><stop offset="0.208" stop-color="#ff4000"/><stop offset="0.25" stop-color="#ff3500"/><stop offset="0.292" stop-color="#ff2d00"/><stop offset="0.333" stop-color="#ff2900"/><stop offset="0.375" stop-color="#ff2700"/><stop offset="0.417" stop-color="#ff2800"/><stop offset="0.458" stop-color="#ff2d00"/><stop offset="0.5" stop-color="#ff3400"/><stop offset="0.542" stop-color="#ff3f00"/><stop offset="0.583" stop-color="#ff4c00"/><stop offset="0.625" stop-color="#ff5d00"/><stop offset="0.667" stop-color="#ff7000"/><stop offset="0.708" stop-color="#ff8700"/><stop offset="0.75" stop-color="#ffa100"/><stop offset="0.792" stop-color="#ffbd00"/><stop offset="0.833" stop-color="#ffdd00"/><stop offset="0.874" stop-color="#ffff00"/><stop offset="0.875" stop-color="#feff00"/><stop offset="0.917" stop-color="#d8ff00"/><stop offset="0.958" stop-color="#afff00"/><stop offset="1" stop-color="#83ff00"/></linearGradient><linearGradient id="r56"><stop offset="0" stop-color="#ffa700"/><stop offset="0.042" stop-color="#ff8d00"/><stop offset="0.083" stop-color="#ff7600"/><stop offset="0.125" stop-color="#ff6200"/><stop offset="0.167" stop-color="#ff5100"/><stop offset="0.208" stop-color="#ff4300"/><stop offset="0.25" stop-color="#ff3800"/><stop offset="0.292" stop-color="#ff3000"/><stop offset="0.333" stop-color="#ff2c00"/><stop offset="0.375" stop-color="#ff2a00"/><stop offset="0.417" stop-color="#ff2b00"/><stop offset="0.458" stop-color="#ff3000"/><stop offset="0.5" stop-color="#ff3700"/><stop offset="0.542" stop-color="#ff4100"/><stop offset="0.583" stop-color="#ff4f00"/><stop offset="0.625" stop-color="#ff5f00"/><stop offset="0.667" stop-color="#ff7300"/><stop offset="0.708" stop-color="#ff8900"/><stop offset="0.75" stop-color="#ffa300"/><stop offset="0.792" stop-color="#ffc000"/><stop offset="0.833" stop-color="#ffdf00"/><stop offset="0.871" stop-color="#ffff00"/><stop offset="0.875" stop-color="#fcff00"/><stop offset="0.917" stop-color="#d6ff00"/><stop offset="0.958" stop-color="#adff00"/><stop offset="1" stop-color="#82ff00"/></linearGradient><linearGradient id="r57"><stop offset="0" stop-color="#ffaa00"/><stop offset="0.042" stop-color="#ff9000"/><stop offset="0.083" stop-color="#ff7900"/><stop offset="0.125" stop-color="#ff6500"/><stop offset="0.167" stop-color="#ff5400"/><stop offset="0.208" stop-color="#ff4600"/><stop offset="0.25" stop-color="#ff3b00"/><stop offset="0.292" stop-color="#ff3400"/><stop offset="0.333" stop-color="#ff2f00"/><stop offset="0.375" stop-color="#ff2d00"/><stop offset="0.417" stop-color="#ff2e00"/><stop offset="0.458" stop-color="#ff3300"/><stop offset="0.5" stop-color="#ff3a00"/><stop offset="0.542" stop-color="#ff4400"/><stop offset="0.583" stop-color="#ff5200"/><stop offset="0.625" stop-color="#ff6200"/><stop offset="0.667" stop-color="#ff7500"/><stop offset="0.708" stop-color="#ff8c00"/><stop offset="0.75" stop-color="#ffa500"/><stop offset="0.792" stop-color="#ffc200"/><stop offset="0.833" stop-color="#ffe100"/><stop offset="0.869" stop-color="#ffff00"/><stop offset="0.875" stop-color="#faff00"/><stop offset="0.917" stop-color="#d4ff00"/><stop offset="0.958" stop-color="#acff00"/><stop offset="1" stop-color="#80ff00"/></linearGradient><linearGradient id="r58"><stop offset="0" stop-color="#ffae00"/><stop offset="0.042" stop-color="#ff9400"/><stop offset="0.083" stop-color="#ff7d00"/><stop offset="0.125" stop-color="#ff6900"/><stop offset="0.167" stop-color="#ff5800"/><stop offset="0.208" stop-color="#ff4a00"/><stop offset="0.25" stop-color="#ff3f00"/><stop offset="0.292" stop-color="#ff3700"/><stop offset="0.333" stop-color="#ff3200"/><stop offset="0.375" stop-color="#ff3000"/><stop offset="0.417" stop-color="#ff3100"/><stop offset="0.458" stop-color="#ff3500"/><stop offset="0.5" stop-color="#ff3d00"/><stop offset="0.542" stop-color="#ff4700"/><stop offset="0.583" stop-color="#ff5400"/><stop offset="0.625" stop-color="#ff6400"/><stop offset="0.667" stop-color="#ff7800"/><stop offset="0.708" stop-color="#ff8e00"/><stop offset="0.75" stop-color="#ffa800"/><stop offset="0.792" stop-color="#ffc400"/><stop offset="0.833" stop-color="#ffe400"/><stop offset="0.867" stop-color="#ffff00"/><stop offset="0.875" stop-color="#f8ff00"/><stop offset="0.917" stop-color="#d2ff00"/><stop offset="0.958" stop-color="#aaff00"/><stop offset="1" stop-color="#7eff00"/></linearGradient><linearGradient id="r59"><stop offset="0" stop-color="#ffb200"/><stop offset="0.042" stop-color="#ff9800"/><stop offset="0.083" stop-color="#ff8000"/><stop offset="0.125" stop-color="#ff6c00"/><stop offset="0.167" stop-color="#ff5b00"/><stop offset="0.208" stop-color="#ff4d00"/><stop offset="0.25" stop-color="#ff4200"/><stop offset="0.292" stop-color="#ff3a00"/><stop offset="0.333" stop-color="#ff3500"/><stop offset="0.375" stop-color="#ff3300"/><stop offset="0.417" stop-color="#ff3400"/><stop offset="0.458" stop-color="#ff3800"/><stop offset="0.5" stop-color="#ff3f00"/><stop offset="0.542" stop-color="#ff4a00"/><stop offset="0.583" stop-color="#ff5700"/><stop offset="0.625" stop-color="#ff6700"/><stop offset="0.667" stop-color="#ff7a00"/><stop offset="0.708" stop-color="#ff9100"/><stop offset="0.75" stop-color="#ffaa00"/><stop offset="0.792" stop-color="#ffc600"/><stop offset="0.833" stop-color="#ffe600"/><stop offset="0.864" stop-color="#ffff00"/><stop offset="0.875" stop-color="#f6ff00"/><stop offset="0.917" stop-color="#d0ff00"/><stop offset="0.958" stop-color="#a8ff00"/><stop offset="1" stop-color="#7cff00"/></linearGradient><linearGradient id="r60"><stop offset="0" stop-color="#ffb600"/><stop offset="0.042" stop-color="#ff9b00"/><stop offset="0.083" stop-color="#ff8400"/><stop offset="0.125" stop-color="#ff7000"/><stop offset="0.167" stop-color="#ff5f00"/><stop offset="0.208" stop-color="#ff5000"/><stop offset="0.25" stop-color="#ff4500"/><stop offset="0.292" stop-color="#ff3d00"/><stop offset="0.333" stop-color="#ff3800"/><stop offset="0.375" stop-color="#ff3600"/><stop offset="0.417" stop-color="#ff3700"/><stop offset="0.458" stop-color="#ff3b00"/><stop offset="0.5" stop-color="#ff4200"/><stop offset="0.542" stop-color="#ff4c00"/><stop offset="0.583" stop-color="#ff5900"/><stop offset="0.625" stop-color="#ff6a00"/><stop offset="0.667" stop-color="#ff7d00"/><stop offset="0.708" stop-color="#ff9300"/><stop offset="0.75" stop-color="#ffac00"/><stop offset="0.792" stop-color="#ffc800"/><stop offset="0.833" stop-color="#ffe800"/><stop offset="0.862" stop-color="#ffff00"/><stop offset="0.875" stop-color="#f4ff00"/><stop offset="0.917" stop-color="#ceff00"/><stop offset="0.958" stop-color="#a6ff00"/><stop offset="1" stop-color="#7bff00"/></linearGradient><linearGradient id="r61"><stop offset="0" stop-color="#ffb900"/><stop offset="0.042" stop-color="#ff9f00"/><stop offset="0.083" stop-color="#ff8800"/><stop offset="0.125" stop-color="#ff7300"/><stop offset="0.167" stop-color="#ff6200"/><stop offset="0.208" stop-color="#ff5400"/><stop offset="0.25" stop-color="#ff4900"/><stop offset="0.292" stop-color="#ff4000"/><stop offset="0.333" stop-color="#ff3b00"/><stop offset="0.375" stop-color="#ff3900"/><stop offset="0.417" stop-color="#ff3a00"/><stop offset="0.458" stop-color="#ff3e00"/><stop offset="0.5" stop-color="#ff4500"/><stop offset="0.542" stop-color="#ff4f00"/><stop offset="0.583" stop-color="#ff5c00"/><stop offset="0.625" stop-color="#ff6c00"/><stop offset="0.667" stop-color="#ff7f00"/><stop offset="0.708" stop-color="#ff9500"/><stop offset="0.75" stop-color="#ffae00"/><stop offset="0.792" stop-color="#ffcb00"/><stop offset="0.833" stop-color="#ffea00"/><stop offset="0.859" stop-color="#ffff00"/><stop offset="0.875" stop-color="#f2ff00"/><stop offset="0.917" stop-color="#ccff00"/><stop offset="0.958" stop-color="#a4ff00"/><stop offset="1" stop-color="#79ff00"/></linearGradient><linearGradient id="r62"><stop offset="0" stop-color="#ffbd00"/><stop offset="0.042" stop-color="#ffa300"/><stop offset="0.083" stop-color="#ff8b00"/><stop offset="0.125" stop-color="#ff7700"/><stop offset="0.167" stop-color="#ff6500"/><stop offset="0.208" stop-color="#ff5700"/><stop offset="0.25" stop-color="#ff4c00"/><stop offset="0.292" stop-color="#ff4400"/><stop offset="0.333" stop-color="#ff3e00"/><stop offset="0.375" stop-color="#ff3c00"/><stop offset="0.417" stop-color="#ff3d00"/><stop offset="0.458" stop-color="#ff4100"/><stop offset="0.5" stop-color="#ff4800"/><stop offset="0.542" stop-color="#ff5200"/><stop offset="0.583" stop-color="#ff5f00"/><stop offset="0.625" stop-color="#ff6f00"/><stop offset="0.667" stop-color="#ff8200"/><stop offset="0.708" stop-color="#ff9800"/><stop offset="0.75" stop-color="#ffb100"/><stop offset="0.792" stop-color="#ffcd00"/><stop offset="0.833" stop-color="#ffec00"/><stop offset="0.857" stop-color="#ffff00"/><stop offset="0.875" stop-color="#f0ff00"/><stop offset="0.917" stop-color="#cbff00"/><stop offset="0.958" stop-color="#a2ff00"/><stop offset="1" stop-color="#77ff00"/></linearGradient><linearGradient id="r63"><stop offset="0" stop-color="#ffc100"/><stop offset="0.042" stop-color="#ffa600"/><stop offset="0.083" stop-color="#ff8f00"/><stop offset="0.125" stop-color="#ff7a00"/><stop offset="0.167" stop-color="#ff6900"/><stop offset="0.208" stop-color="#ff5a00"/><stop offset="0.25" stop-color="#ff4f00"/><stop offset="0.292" stop-color="#ff4700"/><stop offset="0.333" stop-color="#ff4100"/><stop offset="0.375" stop-color="#ff3f00"/><stop offset="0.417" stop-color="#ff4000"/><stop offset="0.458" stop-color="#ff4400"/><stop offset="0.5" stop-color="#ff4a00"/><stop offset="0.542" stop-color="#ff5400"/><stop offset="0.583" stop-color="#ff6100"/><stop offset="0.625" stop-color="#ff7100"/><stop offset="0.667" stop-color="#ff8400"/><stop offset="0.708" stop-color="#ff9a00"/><stop offset="0.75" stop-color="#ffb300"/><stop offset="0.792" stop-color="#ffcf00"/><stop offset="0.833" stop-color="#ffee00"/><stop offset="0.854" stop-color="#ffff00"/><stop offset="0.875" stop-color="#eeff00"/><stop offset="0.917" stop-color="#c9ff00"/><stop offset="0.958" stop-color="#a0ff00"/><stop offset="1" stop-color="#75ff00"/></linearGradient><linearGradient id="r64"><stop offset="0" stop-color="#ffc500"/><stop offset="0.042" stop-color="#ffaa00"/><stop offset="0.083" stop-color="#ff9200"/><stop offset="0.125" stop-color="#ff7e00"/><stop offset="0.167" stop-color="#ff6c00"/><stop offset="0.208" stop-color="#ff5e00"/><stop offset="0.25" stop-color="#ff5200"/><stop offset="0.292" stop-color="#ff4a00"/><stop offset="0.333" stop-color="#ff4400"/><stop offset="0.375" stop-color="#ff4200"/><stop offset="0.417" stop-color="#ff4300"/><stop offset="0.458" stop-color="#ff4600"/><stop offset="0.5" stop-color="#ff4d00"/><stop offset="0.542" stop-color="#ff5700"/><stop offset="0.583" stop-color="#ff6400"/><stop offset="0.625" stop-color="#ff7400"/><stop offset="0.667" stop-color="#ff8600"/><stop offset="0.708" stop-color="#ff9c00"/><stop offset="0.75" stop-color="#ffb500"/><stop offset="0.792" stop-color="#ffd100"/><stop offset="0.833" stop-color="#fff000"/><stop offset="0.852" stop-color="#ffff00"/><stop offset="0.875" stop-color="#ecff00"/><stop offset="0.917" stop-color="#c7ff00"/><stop offset="0.958" stop-color="#9fff00"/><stop offset="1" stop-color="#74ff00"/></linearGradient><linearGradient id="r65"><stop offset="0" stop-color="#ffc800"/><stop offset="0.042" stop-color="#ffae00"/><stop offset="0.083" stop-color="#ff9600"/><stop offset="0.125" stop-color="#ff8100"/><stop offset="0.167" stop-color="#ff7000"/><stop offset="0.208" stop-color="#ff6100"/><stop offset="0.25" stop-color="#ff5600"/><stop offset="0.292" stop-color="#ff4d00"/><stop offset="0.333" stop-color="#ff4800"/><stop offset="0.375" stop-color="#ff4500"/><stop offset="0.417" stop-color="#ff4600"/><stop offset="0.458" stop-color="#ff4900"/><stop offset="0.5" stop-color="#ff5000"/><stop offset="0.542" stop-color="#ff5a00"/><stop offset="0.583" stop-color="#ff6600"/><stop offset="0.625" stop-color="#ff7600"/><stop offset="0.667" stop-color="#ff8900"/><stop offset="0.708" stop-color="#ff9f00"/><stop offset="0.75" stop-color="#ffb700"/><stop offset="0.792" stop-color="#ffd300"/><stop offset="0.833" stop-color="#fff200"/><stop offset="0.849" stop-color="#ffff00"/><stop offset="0.875" stop-color="#eaff00"/><stop offset="0.917" stop-color="#c5ff00"/><stop offset="0.958" stop-color="#9dff00"/><stop offset="1" stop-color="#72ff00"/></linearGradient><linearGradient id="r66"><stop offset="0" stop-color="#ffcc00"/><stop offset="0.042" stop-color="#ffb100"/><stop offset="0.083" stop-color="#ff9a00"/><stop offset="0.125" stop-color="#ff8500"/><stop offset="0.167" stop-color="#ff7300"/><stop offset="0.208" stop-color="#ff6400"/><stop offset="0.25" stop-color="#ff5900"/><stop offset="0.292" stop-color="#ff5000"/><stop offset="0.333" stop-color="#ff4b00"/><stop offset="0.375" stop-color="#ff4800"/><stop offset="0.417" stop-color="#ff4900"/><stop offset="0.458" stop-color="#ff4c00"/><stop offset="0.5" stop-color="#ff5300"/><stop offset="0.542" stop-color="#ff5c00"/><stop offset="0.583" stop-color="#ff6900"/><stop offset="0.625" stop-color="#ff7900"/><stop offset="0.667" stop-color="#ff8b00"/><stop offset="0.708" stop-color="#ffa100"/><stop offset="0.75" stop-color="#ffba00"/><stop offset="0.792" stop-color="#ffd600"/><stop offset="0.833" stop-color="#fff400"/><stop offset="0.847" stop-color="#ffff00"/><stop offset="0.875" stop-color="#e8ff00"/><stop offset="0.917" stop-color="#c3ff00"/><stop offset="0.958" stop-color="#9bff00"/><stop offset="1" stop-color="#70ff00"/></linearGradient><linearGradient id="r67"><stop offset="0" stop-color="#ffd000"/><stop offset="0.042" stop-color="#ffb500"/><stop offset="0.083" stop-color="#ff9d00"/><stop offset="0.125" stop-color="#ff8800"/><stop offset="0.167" stop-color="#ff7700"/><stop offset="0.208" stop-color="#ff6800"/><stop offset="0.25" stop-color="#ff5c00"/><stop offset="0.292" stop-color="#ff5300"/><stop offset="0.333" stop-color="#ff4e00"/><stop offset="0.375" stop-color="#ff4b00"/><stop offset="0.417" stop-color="#ff4b00"/><stop offset="0.458" stop-color="#ff4f00"/><stop offset="0.5" stop-color="#ff5500"/><stop offset="0.542" stop-color="#ff5f00"/><stop offset="0.583" stop-color="#ff6b00"/><stop offset="0.625" stop-color="#ff7b00"/><stop offset="0.667" stop-color="#ff8e00"/><stop offset="0.708" stop-color="#ffa300"/><stop offset="0.75" stop-color="#ffbc00"/><stop offset="0.792" stop-color="#ffd800"/><stop offset="0.833" stop-color="#fff600"/><stop offset="0.844" stop-color="#ffff00"/><stop offset="0.875" stop-color="#e6ff00"/><stop offset="0.917" stop-color="#c1ff00"/><stop offset="0.958" stop-color="#99ff00"/><stop offset="1" stop-color="#6eff00"/></linearGradient><linearGradient id="r68"><stop offset="0" stop-color="#ffd400"/><stop offset="0.042" stop-color="#ffb900"/><stop offset="0.083" stop-color="#ffa100"/><stop offset="0.125" stop-color="#ff8c00"/><stop offset="0.167" stop-color="#ff7a00"/><stop offset="0.208" stop-color="#ff6b00"/><stop offset="0.25" stop-color="#ff5f00"/><stop offset="0.292" stop-color="#ff5600"/><stop offset="0.333" stop-color="#ff5100"/><stop offset="0.375" stop-color="#ff4e00"/><stop offset="0.417" stop-color="#ff4e00"/><stop offset="0.458" stop-color="#ff5200"/><stop offset="0.5" stop-color="#ff5800"/><stop offset="0.542" stop-color="#ff6200"/><stop offset="0.583" stop-color="#ff6e00"/><stop offset="0.625" stop-color="#ff7d00"/><stop offset="0.667" stop-color="#ff9000"/><stop offset="0.708" stop-color="#ffa600"/><stop offset="0.75" stop-color="#ffbe00"/><stop offset="0.792" stop-color="#ffda00"/><stop offset="0.833" stop-color="#fff800"/><stop offset="0.842" stop-color="#ffff00"/><stop offset="0.875" stop-color="#e4ff00"/><stop offset="0.917" stop-color="#bfff00"/><stop offset="0.958" stop-color="#97ff00"/><stop offset="1" stop-color="#6dff00"/></linearGradient><linearGradient id="r69"><stop offset="0" stop-color="#ffd700"/><stop offset="0.042" stop-color="#ffbc00"/><stop offset="0.083" stop-color="#ffa400"/><stop offset="0.125" stop-color="#ff8f00"/><stop offset="0.167" stop-color="#ff7d00"/><stop offset="0.208" stop-color="#ff6e00"/><stop offset="0.25" stop-color="#ff6200"/><stop offset="0.292" stop-color="#ff5a00"/><stop offset="0.333" stop-color="#ff5400"/><stop offset="0.375" stop-color="#ff5100"/><stop offset="0.417" stop-color="#ff5100"/><stop offset="0.458" stop-color="#ff5500"/><stop offset="0.5" stop-color="#ff5b00"/><stop offset="0.542" stop-color="#ff6400"/><stop offset="0.583" stop-color="#ff7100"/><stop offset="0.625" stop-color="#ff8000"/><stop offset="0.667" stop-color="#ff9200"/><stop offset="0.708" stop-color="#ffa800"/><stop offset="0.75" stop-color="#ffc000"/><stop offset="0.792" stop-color="#ffdc00"/><stop offset="0.833" stop-color="#fffb00"/><stop offset="0.839" stop-color="#ffff00"/><stop offset="0.875" stop-color="#e2ff00"/><stop offset="0.917" stop-color="#bdff00"/><stop offset="0.958" stop-color="#96ff00"/><stop offset="1" stop-color="#6bff00"/></linearGradient><linearGradient id="r70"><stop offset="0" stop-color="#ffdb00"/><stop offset="0.042" stop-color="#ffc000"/><stop offset="0.083" stop-color="#ffa800"/><stop offset="0.125" stop-color="#ff9300"/><stop offset="0.167" stop-color="#ff8100"/><stop offset="0.208" stop-color="#ff7200"/><stop offset="0.25" stop-color="#ff6600"/><stop offset="0.292" stop-color="#ff5d00"/><stop offset="0.333" stop-color="#ff5700"/><stop offset="0.375" stop-color="#ff5400"/><stop offset="0.417" stop-color="#ff5400"/><stop offset="0.458" stop-color="#ff5700"/><stop offset="0.5" stop-color="#ff5e00"/><stop offset="0.542" stop-color="#ff6700"/><stop offset="0.583" stop-color="#ff7300"/><stop offset="0.625" stop-color="#ff8200"/><stop offset="0.667" stop-color="#ff9500"/><stop offset="0.708" stop-color="#ffaa00"/><stop offset="0.75" stop-color="#ffc300"/><stop offset="0.792" stop-color="#ffde00"/><stop offset="0.833" stop-color="#fffd00"/><stop offset="0.836" stop-color="#ffff00"/><stop offset="0.875" stop-color="#e0ff00"/><stop offset="0.917" stop-color="#bbff00"/><stop offset="0.958" stop-color="#94ff00"/><stop offset="1" stop-color="#69ff00"/></linearGradient><linearGradient id="r71"><stop offset="0" stop-color="#ffdf00"/><stop offset="0.042" stop-color="#ffc400"/><stop offset="0.083" stop-color="#ffab00"/><stop offset="0.125" stop-color="#ff9600"/><stop offset="0.167" stop-color="#ff8400"/><stop offset="0.208" stop-color="#ff7500"/><stop offset="0.25" stop-color="#ff6900"/><stop offset="0.292" stop-color="#ff6000"/><stop offset="0.333" stop-color="#ff5a00"/><stop offset="0.375" stop-color="#ff5700"/><stop offset="0.417" stop-color="#ff5700"/><stop offset="0.458" stop-color="#ff5a00"/><stop offset="0.5" stop-color="#ff6000"/><stop offset="0.542" stop-color="#ff6900"/><stop offset="0.583" stop-color="#ff7600"/><stop offset="0.625" stop-color="#ff8500"/><stop offset="0.667" stop-color="#ff9700"/><stop offset="0.708" stop-color="#ffac00"/><stop offset="0.75" stop-color="#ffc500"/><stop offset="0.792" stop-color="#ffe000"/><stop offset="0.833" stop-color="#ffff00"/><stop offset="0.834" stop-color="#ffff00"/><stop offset="0.875" stop-color="#deff00"/><stop offset="0.917" stop-color="#b9ff00"/><stop offset="0.958" stop-color="#92ff00"/><stop offset="1" stop-color="#67ff00"/></linearGradient><linearGradient id="r72"><stop offset="0" stop-color="#ffe300"/><stop offset="0.042" stop-color="#ffc700"/><stop offset="0.083" stop-color="#ffaf00"/><stop offset="0.125" stop-color="#ff9a00"/><stop offset="0.167" stop-color="#ff8700"/><stop offset="0.208" stop-color="#ff7800"/><stop offset="0.25" stop-color="#ff6c00"/><stop offset="0.292" stop-color="#ff6300"/><stop offset="0.333" stop-color="#ff5d00"/><stop offset="0.375" stop-color="#ff5a00"/><stop offset="0.417" stop-color="#ff5a00"/><stop offset="0.458" stop-color="#ff5d00"/><stop offset="0.5" stop-color="#ff6300"/><stop offset="0.542" stop-color="#ff6c00"/><stop offset="0.583" stop-color="#ff7800"/><stop offset="0.625" stop-color="#ff8700"/><stop offset="0.667" stop-color="#ff9a00"/><stop offset="0.708" stop-color="#ffaf00"/><stop offset="0.75" stop-color="#ffc700"/><stop offset="0.792" stop-color="#ffe200"/><stop offset="0.831" stop-color="#ffff00"/><stop offset="0.833" stop-color="#fdff00"/><stop offset="0.875" stop-color="#dcff00"/><stop offset="0.917" stop-color="#b8ff00"/><stop offset="0.958" stop-color="#90ff00"/><stop offset="1" stop-color="#66ff00"/></linearGradient><linearGradient id="r73"><stop offset="0" stop-color="#ffe600"/><stop offset="0.042" stop-color="#ffcb00"/><stop offset="0.083" stop-color="#ffb200"/><stop offset="0.125" stop-color="#ff9d00"/><stop offset="0.167" stop-color="#ff8b00"/><stop offset="0.208" stop-color="#ff7c00"/><stop offset="0.25" stop-color="#ff6f00"/><stop offset="0.292" stop-color="#ff6600"/><stop offset="0.333" stop-color="#ff6000"/><stop offset="0.375" stop-color="#ff5d00"/><stop offset="0.417" stop-color="#ff5d00"/><stop offset="0.458" stop-color="#ff6000"/><stop offset="0.5" stop-color="#ff6600"/><stop offset="0.542" stop-color="#ff6f00"/><stop offset="0.583" stop-color="#ff7b00"/><stop offset="0.625" stop-color="#ff8a00"/><stop offset="0.667" stop-color="#ff9c00"/><stop offset="0.708" stop-color="#ffb100"/><stop offset="0.75" stop-color="#ffc900"/><stop offset="0.792" stop-color="#ffe400"/><stop offset="0.828" stop-color="#ffff00"/><stop offset="0.833" stop-color="#fbff00"/><stop offset="0.875" stop-color="#daff00"/><stop offset="0.917" stop-color="#b6ff00"/><stop offset="0.958" stop-color="#8eff00"/><stop offset="1" stop-color="#64ff00"/></linearGradient><linearGradient id="r74"><stop offset="0" stop-color="#ffea00"/><stop offset="0.042" stop-color="#ffce00"/><stop offset="0.083" stop-color="#ffb600"/><stop offset="0.125" stop-color="#ffa100"/><stop offset="0.167" stop-color="#ff8e00"/><stop offset="0.208" stop-color="#ff7f00"/><stop offset="0.25" stop-color="#ff7300"/><stop offset="0.292" stop-color="#ff6900"/><stop offset="0.333" stop-color="#ff6300"/><stop offset="0.375" stop-color="#ff6000"/><stop offset="0.417" stop-color="#ff6000"/><stop offset="0.458" stop-color="#ff6200"/><stop offset="0.5" stop-color="#ff6800"/><stop offset="0.542" stop-color="#ff7100"/><stop offset="0.583" stop-color="#ff7d00"/><stop offset="0.625" stop-color="#ff8c00"/><stop offset="0.667" stop-color="#ff9e00"/><stop offset="0.708" stop-color="#ffb300"/><stop offset="0.75" stop-color="#ffcb00"/><stop offset="0.792" stop-color="#ffe700"/><stop offset="0.826" stop-color="#ffff00"/><stop offset="0.833" stop-color="#f9ff00"/><stop offset="0.875" stop-color="#d8ff00"/><stop offset="0.917" stop-color="#b4ff00"/><stop offset="0.958" stop-color="#8dff00"/><stop offset="1" stop-color="#62ff00"/></linearGradient><linearGradient id="r75"><stop offset="0" stop-color="#ffee00"/><stop offset="0.042" stop-color="#ffd200"/><stop offset="0.083" stop-color="#ffba00"/><stop offset="0.125" stop-color="#ffa400"/><stop offset="0.167" stop-color="#ff9200"/><stop offset="0.208" stop-color="#ff8200"/><stop offset="0.25" stop-color="#ff7600"/><stop offset="0.292" stop-color="#ff6c00"/><stop offset="0.333" stop-color="#ff6600"/><stop offset="0.375" stop-color="#ff6300"/><stop offset="0.417" stop-color="#ff6200"/><stop offset="0.458" stop-color="#ff6500"/><stop offset="0.5" stop-color="#ff6b00"/><stop offset="0.542" stop-color="#ff7400"/><stop offset="0.583" stop-color="#ff8000"/><stop offset="0.625" stop-color="#ff8f00"/><stop offset="0.667" stop-color="#ffa100"/><stop offset="0.708" stop-color="#ffb600"/><stop offset="0.75" stop-color="#ffce00"/><stop offset="0.792" stop-color="#ffe900"/><stop offset="0.823" stop-color="#ffff00"/><stop offset="0.833" stop-color="#f7ff00"/><stop offset="0.875" stop-color="#d6ff00"/><stop offset="0.917" stop-color="#b2ff00"/><stop offset="0.958" stop-color="#8bff00"/><stop offset="1" stop-color="#61ff00"/></linearGradient><linearGradient id="r76"><stop offset="0" stop-color="#fff100"/><stop offset="0.042" stop-color="#ffd600"/><stop offset="0.083" stop-color="#ffbd00"/><stop offset="0.125" stop-color="#ffa700"/><stop offset="0.167" stop-color="#ff9500"/><stop offset="0.208" stop-color="#ff8500"/><stop offset="0.25" stop-color="#ff7900"/><stop offset="0.292" stop-color="#ff6f00"/><stop offset="0.333" stop-color="#ff6900"/><stop offset="0.375" stop-color="#ff6600"/><stop offset="0.417" stop-color="#ff6500"/><stop offset="0.458" stop-color="#ff6800"/><stop offset="0.5" stop-color="#ff6e00"/><stop offset="0.542" stop-color="#ff7700"/><stop offset="0.583" stop-color="#ff8200"/><stop offset="0.625" stop-color="#ff9100"/><stop offset="0.667" stop-color="#ffa300"/><stop offset="0.708" stop-color="#ffb800"/><stop offset="0.75" stop-color="#ffd000"/><stop offset="0.792" stop-color="#ffeb00"/><stop offset="0.82" stop-color="#ffff00"/><stop offset="0.833" stop-color="#f5ff00"/><stop offset="0.875" stop-color="#d4ff00"/><stop offset="0.917" stop-color="#b0ff00"/><stop offset="0.958" stop-color="#89ff00"/><stop offset="1" stop-color="#5fff00"/></linearGradient><linearGradient id="r77"><stop offset="0" stop-color="#fff500"/><stop offset="0.042" stop-color="#ffd900"/><stop offset="0.083" stop-color="#ffc100"/><stop offset="0.125" stop-color="#ffab00"/><stop offset="0.167" stop-color="#ff9800"/><stop offset="0.208" stop-color="#ff8900"/><stop offset="0.25" stop-color="#ff7c00"/><stop offset="0.292" stop-color="#ff7300"/><stop offset="0.333" stop-color="#ff6c00"/><stop offset="0.375" stop-color="#ff6900"/><stop offset="0.417" stop-color="#ff6800"/><stop offset="0.458" stop-color="#ff6b00"/><stop offset="0.5" stop-color="#ff7000"/><stop offset="0.542" stop-color="#ff7900"/><stop offset="0.583" stop-color="#ff8500"/><stop offset="0.625" stop-color="#ff9400"/><stop offset="0.667" stop-color="#ffa500"/><stop offset="0.708" stop-color="#ffba00"/><stop offset="0.75" stop-color="#ffd200"/><stop offset="0.792" stop-color="#ffed00"/><stop offset="0.817" stop-color="#ffff00"/><stop offset="0.833" stop-color="#f3ff00"/><stop offset="0.875" stop-color="#d2ff00"/><stop offset="0.917" stop-color="#aeff00"/><stop offset="0.958" stop-color="#87ff00"/><stop offset="1" stop-color="#5dff00"/></linearGradient><linearGradient id="r78"><stop offset="0" stop-color="#fff900"/><stop offset="0.042" stop-color="#ffdd00"/><stop offset="0.083" stop-color="#ffc400"/><stop offset="0.125" stop-color="#ffae00"/><stop offset="0.167" stop-color="#ff9c00"/><stop offset="0.208" stop-color="#ff8c00"/><stop offset="0.25" stop-color="#ff7f00"/><stop offset="0.292" stop-color="#ff7600"/><stop offset="0.333" stop-color="#ff6f00"/><stop offset="0.375" stop-color="#ff6c00"/><stop offset="0.417" stop-color="#ff6b00"/><stop offset="0.458" stop-color="#ff6e00"/><stop offset="0.5" stop-color="#ff7300"/><stop offset="0.542" stop-color="#ff7c00"/><stop offset="0.583" stop-color="#ff8700"/><stop offset="0.625" stop-color="#ff9600"/><stop offset="0.667" stop-color="#ffa800"/><stop offset="0.708" stop-color="#ffbc00"/><stop offset="0.75" stop-color="#ffd400"/><stop offset="0.792" stop-color="#ffef00"/><stop offset="0.815" stop-color="#ffff00"/><stop offset="0.833" stop-color="#f1ff00"/><stop offset="0.875" stop-color="#d0ff00"/><stop offset="0.917" stop-color="#acff00"/><stop offset="0.958" stop-color="#86ff00"/><stop offset="1" stop-color="#5cff00"/></linearGradient><linearGradient id="r79"><stop offset="0" stop-color="#fffc00"/><stop offset="0.042" stop-color="#ffe000"/><stop offset="0.083" stop-color="#ffc800"/><stop offset="0.125" stop-color="#ffb200"/><stop offset="0.167" stop-color="#ff9f00"/><stop offset="0.208" stop-color="#ff8f00"/><stop offset="0.25" stop-color="#ff8200"/><stop offset="0.292" stop-color="#ff7900"/><stop offset="0.333" stop-color="#ff7200"/><stop offset="0.375" stop-color="#ff6e00"/><stop offset="0.417" stop-color="#ff6e00"/><stop offset="0.458" stop-color="#ff7000"/><stop offset="0.5" stop-color="#ff7600"/><stop offset="0.542" stop-color="#ff7e00"/><stop offset="0.583" stop-color="#ff8a00"/><stop offset="0.625" stop-color="#ff9800"/><stop offset="0.667" stop-color="#ffaa00"/><stop offset="0.708" stop-color="#ffbf00"/><stop offset="0.75" stop-color="#ffd600"/><stop offset="0.792" stop-color="#fff100"/><stop offset="0.812" stop-color="#ffff00"/><stop offset="0.833" stop-color="#efff00"/><stop offset="0.875" stop-color="#ceff00"/><stop offset="0.917" stop-color="#abff00"/><stop offset="0.958" stop-color="#84ff00"/><stop offset="1" stop-color="#5aff00"/></linearGradient><linearGradient id="r80"><stop offset="0" stop-color="#feff00"/><stop offset="0.001" stop-color="#ffff00"/><stop offset="0.042" stop-color="#ffe400"/><stop offset="0.083" stop-color="#ffcb00"/><stop offset="0.125" stop-color="#ffb500"/><stop offset="0.167" stop-color="#ffa200"/><stop offset="0.208" stop-color="#ff9200"/><stop offset="0.25" stop-color="#ff8600"/><stop offset="0.292" stop-color="#ff7c00"/><stop offset="0.333" stop-color="#ff7500"/><stop offset="0.375" stop-color="#ff7100"/><stop offset="0.417" stop-color="#ff7100"/><stop offset="0.458" stop-color="#ff7300"/><stop offset="0.5" stop-color="#ff7800"/><stop offset="0.542" stop-color="#ff8100"/><stop offset="0.583" stop-color="#ff8c00"/><stop offset="0.625" stop-color="#ff9b00"/><stop offset="0.667" stop-color="#ffac00"/><stop offset="0.708" stop-color="#ffc100"/><stop offset="0.75" stop-color="#ffd900"/><stop offset="0.792" stop-color="#fff300"/><stop offset="0.809" stop-color="#ffff00"/><stop offset="0.833" stop-color="#edff00"/><stop offset="0.875" stop-color="#ccff00"/><stop offset="0.917" stop-color="#a9ff00"/><stop offset="0.958" stop-color="#82ff00"/><stop offset="1" stop-color="#58ff00"/></linearGradient><linearGradient id="r81"><stop offset="0" stop-color="#faff00"/><stop offset="0.007" stop-color="#ffff00"/><stop offset="0.042" stop-color="#ffe800"/><stop offset="0.083" stop-color="#ffcf00"/><stop offset="0.125" stop-color="#ffb900"/><stop offset="0.167" stop-color="#ffa600"/><stop offset="0.208" stop-color="#ff9600"/><stop offset="0.25" stop-color="#ff8900"/><stop offset="0.292" stop-color="#ff7f00"/><stop offset="0.333" stop-color="#ff7800"/><stop offset="0.375" stop-color="#ff7400"/><stop offset="0.417" stop-color="#ff7400"/><stop offset="0.458" stop-color="#ff7600"/><stop offset="0.5" stop-color="#ff7b00"/><stop offset="0.542" stop-color="#ff8300"/><stop offset="0.583" stop-color="#ff8f00"/><stop offset="0.625" stop-color="#ff9d00"/><stop offset="0.667" stop-color="#ffaf00"/><stop offset="0.708" stop-color="#ffc300"/><stop offset="0.75" stop-color="#ffdb00"/><stop offset="0.792" stop-color="#fff500"/><stop offset="0.806" stop-color="#ffff00"/><stop offset="0.833" stop-color="#ebff00"/><stop offset="0.875" stop-color="#cbff00"/><stop offset="0.917" stop-color="#a7ff00"/><stop offset="0.958" stop-color="#80ff00"/><stop offset="1" stop-color="#57ff00"/></linearGradient><linearGradient id="r82"><stop offset="0" stop-color="#f7ff00"/><stop offset="0.012" stop-color="#ffff00"/><stop offset="0.042" stop-color="#ffeb00"/><stop offset="0.083" stop-color="#ffd200"/><stop offset="0.125" stop-color="#ffbc00"/><stop offset="0.167" stop-color="#ffa900"/><stop offset="0.208" stop-color="#ff9900"/><stop offset="0.25" stop-color="#ff8c00"/><stop offset="0.292" stop-color="#ff8200"/><stop offset="0.333" stop-color="#ff7b00"/><stop offset="0.375" stop-color="#ff7700"/><stop offset="0.417" stop-color="#ff7600"/><stop offset="0.458" stop-color="#ff7900"/><stop offset="0.5" stop-color="#ff7e00"/><stop offset="0.542" stop-color="#ff8600"/><stop offset="0.583" stop-color="#ff9100"/><stop offset="0.625" stop-color="#ffa000"/><stop offset="0.667" stop-color="#ffb100"/><stop offset="0.708" stop-color="#ffc500"/><stop offset="0.75" stop-color="#ffdd00"/><stop offset="0.792" stop-color="#fff700"/><stop offset="0.803" stop-color="#ffff00"/><stop offset="0.833" stop-color="#e9ff00"/><stop offset="0.875" stop-color="#c9ff00"/><stop offset="0.917" stop-color="#a5ff00"/><stop offset="0.958" stop-color="#7fff00"/><stop offset="1" stop-color="#55ff00"/></linearGradient><linearGradient id="r83"><stop offset="0" stop-color="#f3ff00"/><stop offset="0.017" stop-color="#ffff00"/><stop offset="0.042" stop-color="#ffef00"/><stop offset="0.083" stop-color="#ffd600"/><stop offset="0.125" stop-color="#ffbf00"/><stop offset="0.167" stop-color="#ffac00"/><stop offset="0.208" stop-color="#ff9c00"/><stop offset="0.25" stop-color="#ff8f00"/><stop offset="0.292" stop-color="#ff8500"/><stop offset="0.333" stop-color="#ff7e00"/><stop offset="0.375" stop-color="#ff7a00"/><stop offset="0.417" stop-color="#ff7900"/><stop offset="0.458" stop-color="#ff7b00"/><stop offset="0.5" stop-color="#ff8000"/><stop offset="0.542" stop-color="#ff8900"/><stop offset="0.583" stop-color="#ff9400"/><stop offset="0.625" stop-color="#ffa200"/><stop offset="0.667" stop-color="#ffb300"/><stop offset="0.708" stop-color="#ffc800"/><stop offset="0.75" stop-color="#ffdf00"/><stop offset="0.792" stop-color="#fff900"/><stop offset="0.8" stop-color="#ffff00"/><stop offset="0.833" stop-color="#e7ff00"/><stop offset="0.875" stop-color="#c7ff00"/><stop offset="0.917" stop-color="#a3ff00"/><stop offset="0.958" stop-color="#7dff00"/><stop offset="1" stop-color="#53ff00"/></linearGradient><linearGradient id="r84"><stop offset="0" stop-color="#efff00"/><stop offset="0.022" stop-color="#ffff00"/><stop offset="0.042" stop-color="#fff200"/><stop offset="0.083" stop-color="#ffd900"/><stop offset="0.125" stop-color="#ffc300"/><stop offset="0.167" stop-color="#ffb000"/><stop offset="0.208" stop-color="#ff9f00"/><stop offset="0.25" stop-color="#ff9200"/><stop offset="0.292" stop-color="#ff8800"/><stop offset="0.333" stop-color="#ff8100"/><stop offset="0.375" stop-color="#ff7d00"/><stop offset="0.417" stop-color="#ff7c00"/><stop offset="0.458" stop-color="#ff7e00"/><stop offset="0.5" stop-color="#ff8300"/><stop offset="0.542" stop-color="#ff8b00"/><stop offset="0.583" stop-color="#ff9600"/><stop offset="0.625" stop-color="#ffa400"/><stop offset="0.667" stop-color="#ffb600"/><stop offset="0.708" stop-color="#ffca00"/><stop offset="0.75" stop-color="#ffe100"/><stop offset="0.792" stop-color="#fffb00"/><stop offset="0.797" stop-color="#ffff00"/><stop offset="0.833" stop-color="#e5ff00"/><stop offset="0.875" stop-color="#c5ff00"/><stop offset="0.917" stop-color="#a1ff00"/><stop offset="0.958" stop-color="#7bff00"/><stop offset="1" stop-color="#52ff00"/></linearGradient><linearGradient id="r85"><stop offset="0" stop-color="#ecff00"/><stop offset="0.028" stop-color="#ffff00"/><stop offset="0.042" stop-color="#fff600"/><stop offset="0.083" stop-color="#ffdc00"/><stop offset="0.125" stop-color="#ffc600"/><stop offset="0.167" stop-color="#ffb300"/><stop offset="0.208" stop-color="#ffa300"/><stop offset="0.25" stop-color="#ff9500"/><stop offset="0.292" stop-color="#ff8b00"/><stop offset="0.333" stop-color="#ff8400"/><stop offset="0.375" stop-color="#ff8000"/><stop offset="0.417" stop-color="#ff7f00"/><stop offset="0.458" stop-color="#ff8100"/><stop offset="0.5" stop-color="#ff8600"/><stop offset="0.542" stop-color="#ff8e00"/><stop offset="0.583" stop-color="#ff9900"/><stop offset="0.625" stop-color="#ffa700"/><stop offset="0.667" stop-color="#ffb800"/><stop offset="0.708" stop-color="#ffcc00"/><stop offset="0.75" stop-color="#ffe300"/><stop offset="0.792" stop-color="#fffd00"/><stop offset="0.794" stop-color="#ffff00"/><stop offset="0.833" stop-color="#e3ff00"/><stop offset="0.875" stop-color="#c3ff00"/><stop offset="0.917" stop-color="#a0ff00"/><stop offset="0.958" stop-color="#79ff00"/><stop offset="1" stop-color="#50ff00"/></linearGradient><linearGradient id="r86"><stop offset="0" stop-color="#e8ff00"/><stop offset="0.033" stop-color="#ffff00"/><stop offset="0.042" stop-color="#fff900"/><stop offset="0.083" stop-color="#ffe000"/><stop offset="0.125" stop-color="#ffca00"/><stop offset="0.167" stop-color="#ffb600"/><stop offset="0.208" stop-color="#ffa600"/><stop offset="0.25" stop-color="#ff9800"/><stop offset="0.292" stop-color="#ff8e00"/><stop offset="0.333" stop-color="#ff8700"/><stop offset="0.375" stop-color="#ff8300"/><stop offset="0.417" stop-color="#ff8200"/><stop offset="0.458" stop-color="#ff8300"/><stop offset="0.5" stop-color="#ff8800"/><stop offset="0.542" stop-color="#ff9000"/><stop offset="0.583" stop-color="#ff9b00"/><stop offset="0.625" stop-color="#ffa900"/><stop offset="0.667" stop-color="#ffba00"/><stop offset="0.708" stop-color="#ffce00"/><stop offset="0.75" stop-color="#ffe500"/><stop offset="0.791" stop-color="#ffff00"/><stop offset="0.792" stop-color="#feff00"/><stop offset="0.833" stop-color="#e1ff00"/><stop offset="0.875" stop-color="#c1ff00"/><stop offset="0.917" stop-color="#9eff00"/><stop offset="0.958" stop-color="#78ff00"/><stop offset="1" stop-color="#4eff00"/></linearGradient><linearGradient id="r87"><stop offset="0" stop-color="#e5ff00"/><stop offset="0.038" stop-color="#ffff00"/><stop offset="0.042" stop-color="#fffd00"/><stop offset="0.083" stop-color="#ffe300"/><stop offset="0.125" stop-color="#ffcd00"/><stop offset="0.167" stop-color="#ffb900"/><stop offset="0.208" stop-color="#ffa900"/><stop offset="0.25" stop-color="#ff9c00"/><stop offset="0.292" stop-color="#ff9100"/><stop offset="0.333" stop-color="#ff8a00"/><stop offset="0.375" stop-color="#ff8600"/><stop offset="0.417" stop-color="#ff8400"/><stop offset="0.458" stop-color="#ff8600"/><stop offset="0.5" stop-color="#ff8b00"/><stop offset="0.542" stop-color="#ff9300"/><stop offset="0.583" stop-color="#ff9e00"/><stop offset="0.625" stop-color="#ffac00"/><stop offset="0.667" stop-color="#ffbd00"/><stop offset="0.708" stop-color="#ffd100"/><stop offset="0.75" stop-color="#ffe800"/><stop offset="0.788" stop-color="#ffff00"/><stop offset="0.792" stop-color="#fcff00"/><stop offset="0.833" stop-color="#dfff00"/><stop offset="0.875" stop-color="#bfff00"/><stop offset="0.917" stop-color="#9cff00"/><stop offset="0.958" stop-color="#76ff00"/><stop offset="1" stop-color="#4dff00"/></linearGradient><linearGradient id="r88"><stop offset="0" stop-color="#e1ff00"/><stop offset="0.042" stop-color="#feff00"/><stop offset="0.044" stop-color="#ffff00"/><stop offset="0.083" stop-color="#ffe700"/><stop offset="0.125" stop-color="#ffd000"/><stop offset="0.167" stop-color="#ffbd00"/><stop offset="0.208" stop-color="#ffac00"/><stop offset="0.25" stop-color="#ff9f00"/><stop offset="0.292" stop-color="#ff9400"/><stop offset="0.333" stop-color="#ff8d00"/><stop offset="0.375" stop-color="#ff8900"/><stop offset="0.417" stop-color="#ff8700"/><stop offset="0.458" stop-color="#ff8900"/><stop offset="0.5" stop-color="#ff8e00"/><stop offset="0.542" stop-color="#ff9500"/><stop offset="0.583" stop-color="#ffa000"/><stop offset="0.625" stop-color="#ffae00"/><stop offset="0.667" stop-color="#ffbf00"/><stop offset="0.708" stop-color="#ffd300"/><stop offset="0.75" stop-color="#ffea00"/><stop offset="0.785" stop-color="#ffff00"/><stop offset="0.792" stop-color="#faff00"/><stop offset="0.833" stop-color="#ddff00"/><stop offset="0.875" stop-color="#bdff00"/><stop offset="0.917" stop-color="#9aff00"/><stop offset="0.958" stop-color="#74ff00"/><stop offset="1" stop-color="#4bff00"/></linearGradient><linearGradient id="r89"><stop offset="0" stop-color="#ddff00"/><stop offset="0.042" stop-color="#faff00"/><stop offset="0.049" stop-color="#ffff00"/><stop offset="0.083" stop-color="#ffea00"/><stop offset="0.125" stop-color="#ffd400"/><stop offset="0.167" stop-color="#ffc000"/><stop offset="0.208" stop-color="#ffaf00"/><stop offset="0.25" stop-color="#ffa200"/><stop offset="0.292" stop-color="#ff9700"/><stop offset="0.333" stop-color="#ff9000"/><stop offset="0.375" stop-color="#ff8b00"/><stop offset="0.417" stop-color="#ff8a00"/><stop offset="0.458" stop-color="#ff8c00"/><stop offset="0.5" stop-color="#ff9000"/><stop offset="0.542" stop-color="#ff9800"/><stop offset="0.583" stop-color="#ffa300"/><stop offset="0.625" stop-color="#ffb000"/><stop offset="0.667" stop-color="#ffc100"/><stop offset="0.708" stop-color="#ffd500"/><stop offset="0.75" stop-color="#ffec00"/><stop offset="0.781" stop-color="#ffff00"/><stop offset="0.792" stop-color="#f8ff00"/><stop offset="0.833" stop-color="#dbff00"/><stop offset="0.875" stop-color="#bbff00"/><stop offset="0.917" stop-color="#99ff00"/><stop offset="0.958" stop-color="#72ff00"/><stop offset="1" stop-color="#49ff00"/></linearGradient><linearGradient id="r90"><stop offset="0" stop-color="#daff00"/><stop offset="0.042" stop-color="#f6ff00"/><stop offset="0.055" stop-color="#ffff00"/><stop offset="0.083" stop-color="#ffee00"/><stop offset="0.125" stop-color="#ffd700"/><stop offset="0.167" stop-color="#ffc300"/><stop offset="0.208" stop-color="#ffb300"/><stop offset="0.25" stop-color="#ffa500"/><stop offset="0.292" stop-color="#ff9a00"/><stop offset="0.333" stop-color="#ff9300"/><stop offset="0.375" stop-color="#ff8e00"/><stop offset="0.417" stop-color="#ff8d00"/><stop offset="0.458" stop-color="#ff8e00"/><stop offset="0.5" stop-color="#ff9300"/><stop offset="0.542" stop-color="#ff9a00"/><stop offset="0.583" stop-color="#ffa500"/><stop offset="0.625" stop-color="#ffb300"/><stop offset="0.667" stop-color="#ffc300"/><stop offset="0.708" stop-color="#ffd700"/><stop offset="0.75" stop-color="#ffee00"/><stop offset="0.778" stop-color="#ffff00"/><stop offset="0.792" stop-color="#f6ff00"/><stop offset="0.833" stop-color="#d9ff00"/><stop offset="0.875" stop-color="#baff00"/><stop offset="0.917" stop-color="#97ff00"/><stop offset="0.958" stop-color="#71ff00"/><stop offset="1" stop-color="#48ff00"/></linearGradient><linearGradient id="r91"><stop offset="0" stop-color="#d6ff00"/><stop offset="0.042" stop-color="#f3ff00"/><stop offset="0.06" stop-color="#ffff00"/><stop offset="0.083" stop-color="#fff100"/><stop offset="0.125" stop-color="#ffda00"/><stop offset="0.167" stop-color="#ffc700"/><stop offset="0.208" stop-color="#ffb600"/><stop offset="0.25" stop-color="#ffa800"/><stop offset="0.292" stop-color="#ff9d00"/><stop offset="0.333" stop-color="#ff9600"/><stop offset="0.375" stop-color="#ff9100"/><stop offset="0.417" stop-color="#ff9000"/><stop offset="0.458" stop-color="#ff9100"/><stop offset="0.5" stop-color="#ff9500"/><stop offset="0.542" stop-color="#ff9d00"/><stop offset="0.583" stop-color="#ffa700"/><stop offset="0.625" stop-color="#ffb500"/><stop offset="0.667" stop-color="#ffc600"/><stop offset="0.708" stop-color="#ffd900"/><stop offset="0.75" stop-color="#fff000"/><stop offset="0.775" stop-color="#ffff00"/><stop offset="0.792" stop-color="#f4ff00"/><stop offset="0.833" stop-color="#d8ff00"/><stop offset="0.875" stop-color="#b8ff00"/><stop offset="0.917" stop-color="#95ff00"/><stop offset="0.958" stop-color="#6fff00"/><stop offset="1" stop-color="#46ff00"/></linearGradient><linearGradient id="r92"><stop offset="0" stop-color="#d2ff00"/><stop offset="0.042" stop-color="#efff00"/><stop offset="0.066" stop-color="#ffff00"/><stop offset="0.083" stop-color="#fff500"/><stop offset="0.125" stop-color="#ffde00"/><stop offset="0.167" stop-color="#ffca00"/><stop offset="0.208" stop-color="#ffb900"/><stop offset="0.25" stop-color="#ffab00"/><stop offset="0.292" stop-color="#ffa000"/><stop offset="0.333" stop-color="#ff9900"/><stop offset="0.375" stop-color="#ff9400"/><stop offset="0.417" stop-color="#ff9200"/><stop offset="0.458" stop-color="#ff9400"/><stop offset="0.5" stop-color="#ff9800"/><stop offset="0.542" stop-color="#ff9f00"/><stop offset="0.583" stop-color="#ffaa00"/><stop offset="0.625" stop-color="#ffb700"/><stop offset="0.667" stop-color="#ffc800"/><stop offset="0.708" stop-color="#ffdc00"/><stop offset="0.75" stop-color="#fff200"/><stop offset="0.772" stop-color="#ffff00"/><stop offset="0.792" stop-color="#f2ff00"/><stop offset="0.833" stop-color="#d6ff00"/><stop offset="0.875" stop-color="#b6ff00"/><stop offset="0.917" stop-color="#93ff00"/><stop offset="0.958" stop-color="#6dff00"/><stop offset="1" stop-color="#45ff00"/></linearGradient><linearGradient id="r93"><stop offset="0" stop-color="#cfff00"/><stop offset="0.042" stop-color="#ecff00"/><stop offset="0.072" stop-color="#ffff00"/><stop offset="0.083" stop-color="#fff800"/><stop offset="0.125" stop-color="#ffe100"/><stop offset="0.167" stop-color="#ffcd00"/><stop offset="0.208" stop-color="#ffbc00"/><stop offset="0.25" stop-color="#ffae00"/><stop offset="0.292" stop-color="#ffa300"/><stop offset="0.333" stop-color="#ff9c00"/><stop offset="0.375" stop-color="#ff9700"/><stop offset="0.417" stop-color="#ff9500"/><stop offset="0.458" stop-color="#ff9600"/><stop offset="0.5" stop-color="#ff9b00"/><stop offset="0.542" stop-color="#ffa200"/><stop offset="0.583" stop-color="#ffac00"/><stop offset="0.625" stop-color="#ffba00"/><stop offset="0.667" stop-color="#ffca00"/><stop offset="0.708" stop-color="#ffde00"/><stop offset="0.75" stop-color="#fff400"/><stop offset="0.768" stop-color="#ffff00"/><stop offset="0.792" stop-color="#f0ff00"/><stop offset="0.833" stop-color="#d4ff00"/><stop offset="0.875" stop-color="#b4ff00"/><stop offset="0.917" stop-color="#91ff00"/><stop offset="0.958" stop-color="#6cff00"/><stop offset="1" stop-color="#43ff00"/></linearGradient><linearGradient id="r94"><stop offset="0" stop-color="#cbff00"/><stop offset="0.042" stop-color="#e8ff00"/><stop offset="0.077" stop-color="#ffff00"/><stop offset="0.083" stop-color="#fffb00"/><stop offset="0.125" stop-color="#ffe400"/><stop offset="0.167" stop-color="#ffd000"/><stop offset="0.208" stop-color="#ffbf00"/><stop offset="0.25" stop-color="#ffb100"/><stop offset="0.292" stop-color="#ffa600"/><stop offset="0.333" stop-color="#ff9f00"/><stop offset="0.375" stop-color="#ff9a00"/><stop offset="0.417" stop-color="#ff9800"/><stop offset="0.458" stop-color="#ff9900"/><stop offset="0.5" stop-color="#ff9d00"/><stop offset="0.542" stop-color="#ffa400"/><stop offset="0.583" stop-color="#ffaf00"/><stop offset="0.625" stop-color="#ffbc00"/><stop offset="0.667" stop-color="#ffcc00"/><stop offset="0.708" stop-color="#ffe000"/><stop offset="0.75" stop-color="#fff600"/><stop offset="0.765" stop-color="#ffff00"/><stop offset="0.792" stop-color="#eeff00"/><stop offset="0.833" stop-color="#d2ff00"/><stop offset="0.875" stop-color="#b2ff00"/><stop offset="0.917" stop-color="#90ff00"/><stop offset="0.958" stop-color="#6aff00"/><stop offset="1" stop-color="#41ff00"/></linearGradient><linearGradient id="r95"><stop offset="0" stop-color="#c8ff00"/><stop offset="0.042" stop-color="#e5ff00"/><stop offset="0.083" stop-color="#ffff00"/><stop offset="0.083" stop-color="#ffff00"/><stop offset="0.125" stop-color="#ffe800"/><stop offset="0.167" stop-color="#ffd400"/><stop offset="0.208" stop-color="#ffc300"/><stop offset="0.25" stop-color="#ffb400"/><stop offset="0.292" stop-color="#ffa900"/><stop offset="0.333" stop-color="#ffa100"/><stop offset="0.375" stop-color="#ff9c00"/><stop offset="0.417" stop-color="#ff9b00"/><stop offset="0.458" stop-color="#ff9c00"/><stop offset="0.5" stop-color="#ffa000"/><stop offset="0.542" stop-color="#ffa700"/><stop offset="0.583" stop-color="#ffb100"/><stop offset="0.625" stop-color="#ffbe00"/><stop offset="0.667" stop-color="#ffcf00"/><stop offset="0.708" stop-color="#ffe200"/><stop offset="0.75" stop-color="#fff800"/><stop offset="0.761" stop-color="#ffff00"/><stop offset="0.792" stop-color="#ecff00"/><stop offset="0.833" stop-color="#d0ff00"/><stop offset="0.875" stop-color="#b0ff00"/><stop offset="0.917" stop-color="#8eff00"/><stop offset="0.958" stop-color="#68ff00"/><stop offset="1" stop-color="#40ff00"/></linearGradient><linearGradient id="r96"><stop offset="0" stop-color="#c4ff00"/><stop offset="0.042" stop-color="#e1ff00"/><stop offset="0.083" stop-color="#fcff00"/><stop offset="0.089" stop-color="#ffff00"/><stop offset="0.125" stop-color="#ffeb00"/><stop offset="0.167" stop-color="#ffd700"/><stop offset="0.208" stop-color="#ffc600"/><stop offset="0.25" stop-color="#ffb800"/><stop offset="0.292" stop-color="#ffac00"/><stop offset="0.333" stop-color="#ffa400"/><stop offset="0.375" stop-color="#ff9f00"/><stop offset="0.417" stop-color="#ff9d00"/><stop offset="0.458" stop-color="#ff9e00"/><stop offset="0.5" stop-color="#ffa200"/><stop offset="0.542" stop-color="#ffa900"/><stop offset="0.583" stop-color="#ffb400"/><stop offset="0.625" stop-color="#ffc100"/><stop offset="0.667" stop-color="#ffd100"/><stop offset="0.708" stop-color="#ffe400"/><stop offset="0.75" stop-color="#fffa00"/><stop offset="0.758" stop-color="#ffff00"/><stop offset="0.792" stop-color="#eaff00"/><stop offset="0.833" stop-color="#ceff00"/><stop offset="0.875" stop-color="#afff00"/><stop offset="0.917" stop-color="#8cff00"/><stop offset="0.958" stop-color="#67ff00"/><stop offset="1" stop-color="#3eff00"/></linearGradient><linearGradient id="r97"><stop offset="0" stop-color="#c1ff00"/><stop offset="0.042" stop-color="#deff00"/><stop offset="0.083" stop-color="#f8ff00"/><stop offset="0.095" stop-color="#ffff00"/><stop offset="0.125" stop-color="#ffee00"/><stop offset="0.167" stop-color="#ffda00"/><stop offset="0.208" stop-color="#ffc900"/><stop offset="0.25" stop-color="#ffbb00"/><stop offset="0.292" stop-color="#ffaf00"/><stop offset="0.333" stop-color="#ffa700"/><stop offset="0.375" stop-color="#ffa200"/><stop offset="0.417" stop-color="#ffa000"/><stop offset="0.458" stop-color="#ffa100"/><stop offset="0.5" stop-color="#ffa500"/><stop offset="0.542" stop-color="#ffac00"/><stop offset="0.583" stop-color="#ffb600"/><stop offset="0.625" stop-color="#ffc300"/><stop offset="0.667" stop-color="#ffd300"/><stop offset="0.708" stop-color="#ffe600"/><stop offset="0.75" stop-color="#fffd00"/><stop offset="0.754" stop-color="#ffff00"/><stop offset="0.792" stop-color="#e8ff00"/><stop offset="0.833" stop-color="#ccff00"/><stop offset="0.875" stop-color="#adff00"/><stop offset="0.917" stop-color="#8aff00"/><stop offset="0.958" stop-color="#65ff00"/><stop offset="1" stop-color="#3dff00"/></linearGradient><linearGradient id="r98"><stop offset="0" stop-color="#bdff00"/><stop offset="0.042" stop-color="#daff00"/><stop offset="0.083" stop-color="#f5ff00"/><stop offset="0.101" stop-color="#ffff00"/><stop offset="0.125" stop-color="#fff200"/><stop offset="0.167" stop-color="#ffdd00"/><stop offset="0.208" stop-color="#ffcc00"/><stop offset="0.25" stop-color="#ffbe00"/><stop offset="0.292" stop-color="#ffb200"/><stop offset="0.333" stop-color="#ffaa00"/><stop offset="0.375" stop-color="#ffa500"/><stop offset="0.417" stop-color="#ffa300"/><stop offset="0.458" stop-color="#ffa400"/><stop offset="0.5" stop-color="#ffa800"/><stop offset="0.542" stop-color="#ffae00"/><stop offset="0.583" stop-color="#ffb800"/><stop offset="0.625" stop-color="#ffc500"/><stop offset="0.667" stop-color="#ffd500"/><stop offset="0.708" stop-color="#ffe900"/><stop offset="0.75" stop-color="#ffff00"/><stop offset="0.751" stop-color="#ffff00"/><stop offset="0.792" stop-color="#e6ff00"/><stop offset="0.833" stop-color="#caff00"/><stop offset="0.875" stop-color="#abff00"/><stop offset="0.917" stop-color="#89ff00"/><stop offset="0.958" stop-color="#63ff00"/><stop offset="1" stop-color="#3bff00"/></linearGradient><linearGradient id="r99"><stop offset="0" stop-color="#b9ff00"/><stop offset="0.042" stop-color="#d7ff00"/><stop offset="0.083" stop-color="#f1ff00"/><stop offset="0.107" stop-color="#ffff00"/><stop offset="0.125" stop-color="#fff500"/><stop offset="0.167" stop-color="#ffe100"/><stop offset="0.208" stop-color="#ffcf00"/><stop offset="0.25" stop-color="#ffc100"/><stop offset="0.292" stop-color="#ffb500"/><stop offset="0.333" stop-color="#ffad00"/><stop offset="0.375" stop-color="#ffa800"/><stop offset="0.417" stop-color="#ffa600"/><stop offset="0.458" stop-color="#ffa600"/><stop offset="0.5" stop-color="#ffaa00"/><stop offset="0.542" stop-color="#ffb100"/><stop offset="0.583" stop-color="#ffbb00"/><stop offset="0.625" stop-color="#ffc800"/><stop offset="0.667" stop-color="#ffd800"/><stop offset="0.708" stop-color="#ffeb00"/><stop offset="0.747" stop-color="#ffff00"/><stop offset="0.75" stop-color="#fdff00"/><stop offset="0.792" stop-color="#e4ff00"/><stop offset="0.833" stop-color="#c8ff00"/><stop offset="0.875" stop-color="#a9ff00"/><stop offset="0.917" stop-color="#87ff00"/><stop offset="0.958" stop-color="#62ff00"/><stop offset="1" stop-color="#3aff00"/></linearGradient><linearGradient id="r100"><stop offset="0" stop-color="#b6ff00"/><stop offset="0.042" stop-color="#d3ff00"/><stop offset="0.083" stop-color="#eeff00"/><stop offset="0.113" stop-color="#ffff00"/><stop offset="0.125" stop-color="#fff800"/><stop offset="0.167" stop-color="#ffe400"/><stop offset="0.208" stop-color="#ffd200"/><stop offset="0.25" stop-color="#ffc400"/><stop offset="0.292" stop-color="#ffb800"/><stop offset="0.333" stop-color="#ffb000"/><stop offset="0.375" stop-color="#ffab00"/><stop offset="0.417" stop-color="#ffa800"/><stop offset="0.458" stop-color="#ffa900"/><stop offset="0.5" stop-color="#ffad00"/><stop offset="0.542" stop-color="#ffb300"/><stop offset="0.583" stop-color="#ffbd00"/><stop offset="0.625" stop-color="#ffca00"/><stop offset="0.667" stop-color="#ffda00"/><stop offset="0.708" stop-color="#ffed00"/><stop offset="0.743" stop-color="#ffff00"/><stop offset="0.75" stop-color="#fbff00"/><stop offset="0.792" stop-color="#e2ff00"/><stop offset="0.833" stop-color="#c6ff00"/><stop offset="0.875" stop-color="#a7ff00"/><stop offset="0.917" stop-color="#85ff00"/><stop offset="0.958" stop-color="#60ff00"/><stop offset="1" stop-color="#38ff00"/></linearGradient><linearGradient id="r101"><stop offset="0" stop-color="#b2ff00"/><stop offset="0.042" stop-color="#d0ff00"/><stop offset="0.083" stop-color="#ebff00"/><stop offset="0.119" stop-color="#ffff00"/><stop offset="0.125" stop-color="#fffc00"/><stop offset="0.167" stop-color="#ffe700"/><stop offset="0.208" stop-color="#ffd500"/><stop offset="0.25" stop-color="#ffc700"/><stop offset="0.292" stop-color="#ffbb00"/><stop offset="0.333" stop-color="#ffb300"/><stop offset="0.375" stop-color="#ffad00"/><stop offset="0.417" stop-color="#ffab00"/><stop offset="0.458" stop-color="#ffac00"/><stop offset="0.5" stop-color="#ffaf00"/><stop offset="0.542" stop-color="#ffb600"/><stop offset="0.583" stop-color="#ffc000"/><stop offset="0.625" stop-color="#ffcc00"/><stop offset="0.667" stop-color="#ffdc00"/><stop offset="0.708" stop-color="#ffef00"/><stop offset="0.74" stop-color="#ffff00"/><stop offset="0.75" stop-color="#f9ff00"/><stop offset="0.792" stop-color="#e0ff00"/><stop offset="0.833" stop-color="#c4ff00"/><stop offset="0.875" stop-color="#a5ff00"/><stop offset="0.917" stop-color="#83ff00"/><stop offset="0.958" stop-color="#5eff00"/><stop offset="1" stop-color="#36ff00"/></linearGradient><linearGradient id="r102"><stop offset="0" stop-color="#afff00"/><stop offset="0.042" stop-color="#cdff00"/><stop offset="0.083" stop-color="#e7ff00"/><stop offset="0.125" stop-color="#ffff00"/><stop offset="0.125" stop-color="#ffff00"/><stop offset="0.167" stop-color="#ffea00"/><stop offset="0.208" stop-color="#ffd900"/><stop offset="0.25" stop-color="#ffca00"/><stop offset="0.292" stop-color="#ffbe00"/><stop offset="0.333" stop-color="#ffb600"/><stop offset="0.375" stop-color="#ffb000"/><stop offset="0.417" stop-color="#ffae00"/><stop offset="0.458" stop-color="#ffae00"/><stop offset="0.5" stop-color="#ffb200"/><stop offset="0.542" stop-color="#ffb800"/><stop offset="0.583" stop-color="#ffc200"/><stop offset="0.625" stop-color="#ffcf00"/><stop offset="0.667" stop-color="#ffde00"/><stop offset="0.708" stop-color="#fff100"/><stop offset="0.736" stop-color="#ffff00"/><stop offset="0.75" stop-color="#f7ff00"/><stop offset="0.792" stop-color="#deff00"/><stop offset="0.833" stop-color="#c3ff00"/><stop offset="0.875" stop-color="#a4ff00"/><stop offset="0.917" stop-color="#82ff00"/><stop offset="0.958" stop-color="#5dff00"/><stop offset="1" stop-color="#35ff00"/></linearGradient><linearGradient id="r103"><stop offset="0" stop-color="#abff00"/><stop offset="0.042" stop-color="#c9ff00"/><stop offset="0.083" stop-color="#e4ff00"/><stop offset="0.125" stop-color="#fcff00"/><stop offset="0.131" stop-color="#ffff00"/><stop offset="0.167" stop-color="#ffed00"/><stop offset="0.208" stop-color="#ffdc00"/><stop offset="0.25" stop-color="#ffcd00"/><stop offset="0.292" stop-color="#ffc100"/><stop offset="0.333" stop-color="#ffb900"/><stop offset="0.375" stop-color="#ffb300"/><stop offset="0.417" stop-color="#ffb000"/><stop offset="0.458" stop-color="#ffb100"/><stop offset="0.5" stop-color="#ffb400"/><stop offset="0.542" stop-color="#ffbb00"/><stop offset="0.583" stop-color="#ffc400"/><stop offset="0.625" stop-color="#ffd100"/><stop offset="0.667" stop-color="#ffe100"/><stop offset="0.708" stop-color="#fff300"/><stop offset="0.732" stop-color="#ffff00"/><stop offset="0.75" stop-color="#f5ff00"/><stop offset="0.792" stop-color="#dcff00"/><stop offset="0.833" stop-color="#c1ff00"/><stop offset="0.875" stop-color="#a2ff00"/><stop offset="0.917" stop-color="#80ff00"/><stop offset="0.958" stop-color="#5bff00"/><stop offset="1" stop-color="#33ff00"/></linearGradient><linearGradient id="r104"><stop offset="0" stop-color="#a8ff00"/><stop offset="0.042" stop-color="#c6ff00"/><stop offset="0.083" stop-color="#e1ff00"/><stop offset="0.125" stop-color="#f8ff00"/><stop offset="0.137" stop-color="#ffff00"/><stop offset="0.167" stop-color="#fff100"/><stop offset="0.208" stop-color="#ffdf00"/><stop offset="0.25" stop-color="#ffd000"/><stop offset="0.292" stop-color="#ffc400"/><stop offset="0.333" stop-color="#ffbb00"/><stop offset="0.375" stop-color="#ffb600"/><stop offset="0.417" stop-color="#ffb300"/><stop offset="0.458" stop-color="#ffb300"/><stop offset="0.5" stop-color="#ffb700"/><stop offset="0.542" stop-color="#ffbd00"/><stop offset="0.583" stop-color="#ffc700"/><stop offset="0.625" stop-color="#ffd300"/><stop offset="0.667" stop-color="#ffe300"/><stop offset="0.708" stop-color="#fff500"/><stop offset="0.728" stop-color="#ffff00"/><stop offset="0.75" stop-color="#f3ff00"/><stop offset="0.792" stop-color="#daff00"/><stop offset="0.833" stop-color="#bfff00"/><stop offset="0.875" stop-color="#a0ff00"/><stop offset="0.917" stop-color="#7eff00"/><stop offset="0.958" stop-color="#5aff00"/><stop offset="1" stop-color="#32ff00"/></linearGradient><linearGradient id="r105"><stop offset="0" stop-color="#a4ff00"/><stop offset="0.042" stop-color="#c2ff00"/><stop offset="0.083" stop-color="#ddff00"/><stop offset="0.125" stop-color="#f5ff00"/><stop offset="0.144" stop-color="#ffff00"/><stop offset="0.167" stop-color="#fff400"/><stop offset="0.208" stop-color="#ffe200"/><stop offset="0.25" stop-color="#ffd300"/><stop offset="0.292" stop-color="#ffc700"/><stop offset="0.333" stop-color="#ffbe00"/><stop offset="0.375" stop-color="#ffb900"/><stop offset="0.417" stop-color="#ffb600"/><stop offset="0.458" stop-color="#ffb600"/><stop offset="0.5" stop-color="#ffb900"/><stop offset="0.542" stop-color="#ffc000"/><stop offset="0.583" stop-color="#ffc900"/><stop offset="0.625" stop-color="#ffd600"/><stop offset="0.667" stop-color="#ffe500"/><stop offset="0.708" stop-color="#fff700"/><stop offset="0.724" stop-color="#ffff00"/><stop offset="0.75" stop-color="#f1ff00"/><stop offset="0.792" stop-color="#d9ff00"/><stop offset="0.833" stop-color="#bdff00"/><stop offset="0.875" stop-color="#9eff00"/><stop offset="0.917" stop-color="#7dff00"/><stop offset="0.958" stop-color="#58ff00"/><stop offset="1" stop-color="#30ff00"/></linearGradient><linearGradient id="r106"><stop offset="0" stop-color="#a1ff00"/><stop offset="0.042" stop-color="#bfff00"/><stop offset="0.083" stop-color="#daff00"/><stop offset="0.125" stop-color="#f2ff00"/><stop offset="0.15" stop-color="#ffff00"/><stop offset="0.167" stop-color="#fff700"/><stop offset="0.208" stop-color="#ffe500"/><stop offset="0.25" stop-color="#ffd600"/><stop offset="0.292" stop-color="#ffca00"/><stop offset="0.333" stop-color="#ffc100"/><stop offset="0.375" stop-color="#ffbb00"/><stop offset="0.417" stop-color="#ffb800"/><stop offset="0.458" stop-color="#ffb900"/><stop offset="0.5" stop-color="#ffbc00"/><stop offset="0.542" stop-color="#ffc200"/><stop offset="0.583" stop-color="#ffcb00"/><stop offset="0.625" stop-color="#ffd800"/><stop offset="0.667" stop-color="#ffe700"/><stop offset="0.708" stop-color="#fffa00"/><stop offset="0.72" stop-color="#ffff00"/><stop offset="0.75" stop-color="#efff00"/><stop offset="0.792" stop-color="#d7ff00"/><stop offset="0.833" stop-color="#bbff00"/><stop offset="0.875" stop-color="#9dff00"/><stop offset="0.917" stop-color="#7bff00"/><stop offset="0.958" stop-color="#56ff00"/><stop offset="1" stop-color="#2fff00"/></linearGradient><linearGradient id="r107"><stop offset="0" stop-color="#9dff00"/><stop offset="0.042" stop-color="#bbff00"/><stop offset="0.083" stop-color="#d6ff00"/><stop offset="0.125" stop-color="#efff00"/><stop offset="0.157" stop-color="#ffff00"/><stop offset="0.167" stop-color="#fffa00"/><stop offset="0.208" stop-color="#ffe800"/><stop offset="0.25" stop-color="#ffd900"/><stop offset="0.292" stop-color="#ffcd00"/><stop offset="0.333" stop-color="#ffc400"/><stop offset="0.375" stop-color="#ffbe00"/><stop offset="0.417" stop-color="#ffbb00"/><stop offset="0.458" stop-color="#ffbb00"/><stop offset="0.5" stop-color="#ffbe00"/><stop offset="0.542" stop-color="#ffc500"/><stop offset="0.583" stop-color="#ffce00"/><stop offset="0.625" stop-color="#ffda00"/><stop offset="0.667" stop-color="#ffe900"/><stop offset="0.708" stop-color="#fffc00"/><stop offset="0.715" stop-color="#ffff00"/><stop offset="0.75" stop-color="#edff00"/><stop offset="0.792" stop-color="#d5ff00"/><stop offset="0.833" stop-color="#b9ff00"/><stop offset="0.875" stop-color="#9bff00"/><stop offset="0.917" stop-color="#79ff00"/><stop offset="0.958" stop-color="#55ff00"/><stop offset="1" stop-color="#2dff00"/></linearGradient><linearGradient id="r108"><stop offset="0" stop-color="#9aff00"/><stop offset="0.042" stop-color="#b8ff00"/><stop offset="0.083" stop-color="#d3ff00"/><stop offset="0.125" stop-color="#ebff00"/><stop offset="0.163" stop-color="#ffff00"/><stop offset="0.167" stop-color="#fffd00"/><stop offset="0.208" stop-color="#ffeb00"/><stop offset="0.25" stop-color="#ffdc00"/><stop offset="0.292" stop-color="#ffd000"/><stop offset="0.333" stop-color="#ffc700"/><stop offset="0.375" stop-color="#ffc100"/><stop offset="0.417" stop-color="#ffbe00"/><stop offset="0.458" stop-color="#ffbe00"/><stop offset="0.5" stop-color="#ffc100"/><stop offset="0.542" stop-color="#ffc700"/><stop offset="0.583" stop-color="#ffd000"/><stop offset="0.625" stop-color="#ffdc00"/><stop offset="0.667" stop-color="#ffec00"/><stop offset="0.708" stop-color="#fffe00"/><stop offset="0.711" stop-color="#ffff00"/><stop offset="0.75" stop-color="#ebff00"/><stop offset="0.792" stop-color="#d3ff00"/><stop offset="0.833" stop-color="#b7ff00"/><stop offset="0.875" stop-color="#99ff00"/><stop offset="0.917" stop-color="#78ff00"/><stop offset="0.958" stop-color="#53ff00"/><stop offset="1" stop-color="#2cff00"/></linearGradient><linearGradient id="r109"><stop offset="0" stop-color="#96ff00"/><stop offset="0.042" stop-color="#b4ff00"/><stop offset="0.083" stop-color="#d0ff00"/><stop offset="0.125" stop-color="#e8ff00"/><stop offset="0.167" stop-color="#fdff00"/><stop offset="0.17" stop-color="#ffff00"/><stop offset="0.208" stop-color="#ffee00"/><stop offset="0.25" stop-color="#ffdf00"/><stop offset="0.292" stop-color="#ffd300"/><stop offset="0.333" stop-color="#ffca00"/><stop offset="0.375" stop-color="#ffc400"/><stop offset="0.417" stop-color="#ffc100"/><stop offset="0.458" stop-color="#ffc000"/><stop offset="0.5" stop-color="#ffc300"/><stop offset="0.542" stop-color="#ffc900"/><stop offset="0.583" stop-color="#ffd300"/><stop offset="0.625" stop-color="#ffdf00"/><stop offset="0.667" stop-color="#ffee00"/><stop offset="0.707" stop-color="#ffff00"/><stop offset="0.708" stop-color="#feff00"/><stop offset="0.75" stop-color="#e9ff00"/><stop offset="0.792" stop-color="#d1ff00"/><stop offset="0.833" stop-color="#b6ff00"/><stop offset="0.875" stop-color="#97ff00"/><stop offset="0.917" stop-color="#76ff00"/><stop offset="0.958" stop-color="#52ff00"/><stop offset="1" stop-color="#2aff00"/></linearGradient><linearGradient id="r110"><stop offset="0" stop-color="#93ff00"/><stop offset="0.042" stop-color="#b1ff00"/><stop offset="0.083" stop-color="#ccff00"/><stop offset="0.125" stop-color="#e5ff00"/><stop offset="0.167" stop-color="#faff00"/><stop offset="0.177" stop-color="#ffff00"/><stop offset="0.208" stop-color="#fff100"/><stop offset="0.25" stop-color="#ffe200"/><stop offset="0.292" stop-color="#ffd600"/><stop offset="0.333" stop-color="#ffcd00"/><stop offset="0.375" stop-color="#ffc600"/><stop offset="0.417" stop-color="#ffc300"/><stop offset="0.458" stop-color="#ffc300"/><stop offset="0.5" stop-color="#ffc600"/><stop offset="0.542" stop-color="#ffcc00"/><stop offset="0.583" stop-color="#ffd500"/><stop offset="0.625" stop-color="#ffe100"/><stop offset="0.667" stop-color="#fff000"/><stop offset="0.702" stop-color="#ffff00"/><stop offset="0.708" stop-color="#fcff00"/><stop offset="0.75" stop-color="#e7ff00"/><stop offset="0.792" stop-color="#cfff00"/><stop offset="0.833" stop-color="#b4ff00"/><stop offset="0.875" stop-color="#95ff00"/><stop offset="0.917" stop-color="#74ff00"/><stop offset="0.958" stop-color="#50ff00"/><stop offset="1" stop-color="#29ff00"/></linearGradient><linearGradient id="r111"><stop offset="0" stop-color="#8fff00"/><stop offset="0.042" stop-color="#aeff00"/><stop offset="0.083" stop-color="#c9ff00"/><stop offset="0.125" stop-color="#e2ff00"/><stop offset="0.167" stop-color="#f7ff00"/><stop offset="0.184" stop-color="#ffff00"/><stop offset="0.208" stop-color="#fff500"/><stop offset="0.25" stop-color="#ffe500"/><stop offset="0.292" stop-color="#ffd900"/><stop offset="0.333" stop-color="#ffcf00"/><stop offset="0.375" stop-color="#ffc900"/><stop offset="0.417" stop-color="#ffc600"/><stop offset="0.458" stop-color="#ffc600"/><stop offset="0.5" stop-color="#ffc800"/><stop offset="0.542" stop-color="#ffce00"/><stop offset="0.583" stop-color="#ffd700"/><stop offset="0.625" stop-color="#ffe300"/><stop offset="0.667" stop-color="#fff200"/><stop offset="0.697" stop-color="#ffff00"/><stop offset="0.708" stop-color="#faff00"/><stop offset="0.75" stop-color="#e5ff00"/><stop offset="0.792" stop-color="#cdff00"/><stop offset="0.833" stop-color="#b2ff00"/><stop offset="0.875" stop-color="#94ff00"/><stop offset="0.917" stop-color="#73ff00"/><stop offset="0.958" stop-color="#4eff00"/><stop offset="1" stop-color="#27ff00"/></linearGradient><linearGradient id="r112"><stop offset="0" stop-color="#8cff00"/><stop offset="0.042" stop-color="#aaff00"/><stop offset="0.083" stop-color="#c6ff00"/><stop offset="0.125" stop-color="#deff00"/><stop offset="0.167" stop-color="#f4ff00"/><stop offset="0.191" stop-color="#ffff00"/><stop offset="0.208" stop-color="#fff800"/><stop offset="0.25" stop-color="#ffe800"/><stop offset="0.292" stop-color="#ffdc00"/><stop offset="0.333" stop-color="#ffd200"/><stop offset="0.375" stop-color="#ffcc00"/><stop offset="0.417" stop-color="#ffc900"/><stop offset="0.458" stop-color="#ffc800"/><stop offset="0.5" stop-color="#ffcb00"/><stop offset="0.542" stop-color="#ffd100"/><stop offset="0.583" stop-color="#ffda00"/><stop offset="0.625" stop-color="#ffe500"/><stop offset="0.667" stop-color="#fff400"/><stop offset="0.693" stop-color="#ffff00"/><stop offset="0.708" stop-color="#f8ff00"/><stop offset="0.75" stop-color="#e3ff00"/><stop offset="0.792" stop-color="#cbff00"/><stop offset="0.833" stop-color="#b0ff00"/><stop offset="0.875" stop-color="#92ff00"/><stop offset="0.917" stop-color="#71ff00"/><stop offset="0.958" stop-color="#4dff00"/><stop offset="1" stop-color="#26ff00"/></linearGradient><linearGradient id="r113"><stop offset="0" stop-color="#88ff00"/><stop offset="0.042" stop-color="#a7ff00"/><stop offset="0.083" stop-color="#c2ff00"/><stop offset="0.125" stop-color="#dbff00"/><stop offset="0.167" stop-color="#f1ff00"/><stop offset="0.198" stop-color="#ffff00"/><stop offset="0.208" stop-color="#fffb00"/><stop offset="0.25" stop-color="#ffeb00"/><stop offset="0.292" stop-color="#ffdf00"/><stop offset="0.333" stop-color="#ffd500"/><stop offset="0.375" stop-color="#ffcf00"/><stop offset="0.417" stop-color="#ffcb00"/><stop offset="0.458" stop-color="#ffcb00"/><stop offset="0.5" stop-color="#ffcd00"/><stop offset="0.542" stop-color="#ffd300"/><stop offset="0.583" stop-color="#ffdc00"/><stop offset="0.625" stop-color="#ffe800"/><stop offset="0.667" stop-color="#fff600"/><stop offset="0.688" stop-color="#ffff00"/><stop offset="0.708" stop-color="#f6ff00"/><stop offset="0.75" stop-color="#e1ff00"/><stop offset="0.792" stop-color="#c9ff00"/><stop offset="0.833" stop-color="#aeff00"/><stop offset="0.875" stop-color="#90ff00"/><stop offset="0.917" stop-color="#6fff00"/><stop offset="0.958" stop-color="#4bff00"/><stop offset="1" stop-color="#24ff00"/></linearGradient><linearGradient id="r114"><stop offset="0" stop-color="#85ff00"/><stop offset="0.042" stop-color="#a3ff00"/><stop offset="0.083" stop-color="#bfff00"/><stop offset="0.125" stop-color="#d8ff00"/><stop offset="0.167" stop-color="#eeff00"/><stop offset="0.205" stop-color="#ffff00"/><stop offset="0.208" stop-color="#fffe00"/><stop offset="0.25" stop-color="#ffee00"/><stop offset="0.292" stop-color="#ffe100"/><stop offset="0.333" stop-color="#ffd800"/><stop offset="0.375" stop-color="#ffd100"/><stop offset="0.417" stop-color="#ffce00"/><stop offset="0.458" stop-color="#ffcd00"/><stop offset="0.5" stop-color="#ffd000"/><stop offset="0.542" stop-color="#ffd600"/><stop offset="0.583" stop-color="#ffde00"/><stop offset="0.625" stop-color="#ffea00"/><stop offset="0.667" stop-color="#fff900"/><stop offset="0.683" stop-color="#ffff00"/><stop offset="0.708" stop-color="#f4ff00"/><stop offset="0.75" stop-color="#dfff00"/><stop offset="0.792" stop-color="#c7ff00"/><stop offset="0.833" stop-color="#acff00"/><stop offset="0.875" stop-color="#8eff00"/><stop offset="0.917" stop-color="#6eff00"/><stop offset="0.958" stop-color="#4aff00"/><stop offset="1" stop-color="#23ff00"/></linearGradient><linearGradient id="r115"><stop offset="0" stop-color="#81ff00"/><stop offset="0.042" stop-color="#a0ff00"/><stop offset="0.083" stop-color="#bcff00"/><stop offset="0.125" stop-color="#d5ff00"/><stop offset="0.167" stop-color="#eaff00"/><stop offset="0.208" stop-color="#fdff00"/><stop offset="0.213" stop-color="#ffff00"/><stop offset="0.25" stop-color="#fff100"/><stop offset="0.292" stop-color="#ffe400"/><stop offset="0.333" stop-color="#ffdb00"/><stop offset="0.375" stop-color="#ffd400"/><stop offset="0.417" stop-color="#ffd100"/><stop offset="0.458" stop-color="#ffd000"/><stop offset="0.5" stop-color="#ffd200"/><stop offset="0.542" stop-color="#ffd800"/><stop offset="0.583" stop-color="#ffe000"/><stop offset="0.625" stop-color="#ffec00"/><stop offset="0.667" stop-color="#fffb00"/><stop offset="0.678" stop-color="#ffff00"/><stop offset="0.708" stop-color="#f2ff00"/><stop offset="0.75" stop-color="#ddff00"/><stop offset="0.792" stop-color="#c5ff00"/><stop offset="0.833" stop-color="#abff00"/><stop offset="0.875" stop-color="#8dff00"/><stop offset="0.917" stop-color="#6cff00"/><stop offset="0.958" stop-color="#48ff00"/><stop offset="1" stop-color="#21ff00"/></linearGradient><linearGradient id="r116"><stop offset="0" stop-color="#7eff00"/><stop offset="0.042" stop-color="#9dff00"/><stop offset="0.083" stop-color="#b9ff00"/><stop offset="0.125" stop-color="#d1ff00"/><stop offset="0.167" stop-color="#e7ff00"/><stop offset="0.208" stop-color="#faff00"/><stop offset="0.22" stop-color="#ffff00"/><stop offset="0.25" stop-color="#fff400"/><stop offset="0.292" stop-color="#ffe700"/><stop offset="0.333" stop-color="#ffde00"/><stop offset="0.375" stop-color="#ffd700"/><stop offset="0.417" stop-color="#ffd300"/><stop offset="0.458" stop-color="#ffd300"/><stop offset="0.5" stop-color="#ffd500"/><stop offset="0.542" stop-color="#ffda00"/><stop offset="0.583" stop-color="#ffe300"/><stop offset="0.625" stop-color="#ffee00"/><stop offset="0.667" stop-color="#fffd00"/><stop offset="0.672" stop-color="#ffff00"/><stop offset="0.708" stop-color="#f0ff00"/><stop offset="0.75" stop-color="#dbff00"/><stop offset="0.792" stop-color="#c3ff00"/><stop offset="0.833" stop-color="#a9ff00"/><stop offset="0.875" stop-color="#8bff00"/><stop offset="0.917" stop-color="#6aff00"/><stop offset="0.958" stop-color="#47ff00"/><stop offset="1" stop-color="#20ff00"/></linearGradient><linearGradient id="r117"><stop offset="0" stop-color="#7aff00"/><stop offset="0.042" stop-color="#99ff00"/><stop offset="0.083" stop-color="#b5ff00"/><stop offset="0.125" stop-color="#ceff00"/><stop offset="0.167" stop-color="#e4ff00"/><stop offset="0.208" stop-color="#f7ff00"/><stop offset="0.228" stop-color="#ffff00"/><stop offset="0.25" stop-color="#fff700"/><stop offset="0.292" stop-color="#ffea00"/><stop offset="0.333" stop-color="#ffe000"/><stop offset="0.375" stop-color="#ffda00"/><stop offset="0.417" stop-color="#ffd600"/><stop offset="0.458" stop-color="#ffd500"/><stop offset="0.5" stop-color="#ffd700"/><stop offset="0.542" stop-color="#ffdd00"/><stop offset="0.583" stop-color="#ffe500"/><stop offset="0.625" stop-color="#fff100"/><stop offset="0.667" stop-color="#ffff00"/><stop offset="0.667" stop-color="#ffff00"/><stop offset="0.708" stop-color="#eeff00"/><stop offset="0.75" stop-color="#d9ff00"/><stop offset="0.792" stop-color="#c2ff00"/><stop offset="0.833" stop-color="#a7ff00"/><stop offset="0.875" stop-color="#89ff00"/><stop offset="0.917" stop-color="#69ff00"/><stop offset="0.958" stop-color="#45ff00"/><stop offset="1" stop-color="#1eff00"/></linearGradient><linearGradient id="r118"><stop offset="0" stop-color="#77ff00"/><stop offset="0.042" stop-color="#96ff00"/><stop offset="0.083" stop-color="#b2ff00"/><stop offset="0.125" stop-color="#cbff00"/><stop offset="0.167" stop-color="#e1ff00"/><stop offset="0.208" stop-color="#f4ff00"/><stop offset="0.236" stop-color="#ffff00"/><stop offset="0.25" stop-color="#fffa00"/><stop offset="0.292" stop-color="#ffed00"/><stop offset="0.333" stop-color="#ffe300"/><stop offset="0.375" stop-color="#ffdc00"/><stop offset="0.417" stop-color="#ffd800"/><stop offset="0.458" stop-color="#ffd800"/><stop offset="0.5" stop-color="#ffda00"/><stop offset="0.542" stop-color="#ffdf00"/><stop offset="0.583" stop-color="#ffe700"/><stop offset="0.625" stop-color="#fff300"/><stop offset="0.661" stop-color="#ffff00"/><stop offset="0.667" stop-color="#fdff00"/><stop offset="0.708" stop-color="#ecff00"/><stop offset="0.75" stop-color="#d7ff00"/><stop offset="0.792" stop-color="#c0ff00"/><stop offset="0.833" stop-color="#a5ff00"/><stop offset="0.875" stop-color="#88ff00"/><stop offset="0.917" stop-color="#67ff00"/><stop offset="0.958" stop-color="#43ff00"/><stop offset="1" stop-color="#1dff00"/></linearGradient><linearGradient id="r119"><stop offset="0" stop-color="#73ff00"/><stop offset="0.042" stop-color="#92ff00"/><stop offset="0.083" stop-color="#afff00"/><stop offset="0.125" stop-color="#c8ff00"/><stop offset="0.167" stop-color="#deff00"/><stop offset="0.208" stop-color="#f1ff00"/><stop offset="0.244" stop-color="#ffff00"/><stop offset="0.25" stop-color="#fffd00"/><stop offset="0.292" stop-color="#fff000"/><stop offset="0.333" stop-color="#ffe600"/><stop offset="0.375" stop-color="#ffdf00"/><stop offset="0.417" stop-color="#ffdb00"/><stop offset="0.458" stop-color="#ffda00"/><stop offset="0.5" stop-color="#ffdc00"/><stop offset="0.542" stop-color="#ffe100"/><stop offset="0.583" stop-color="#ffea00"/><stop offset="0.625" stop-color="#fff500"/><stop offset="0.655" stop-color="#ffff00"/><stop offset="0.667" stop-color="#fbff00"/><stop offset="0.708" stop-color="#e9ff00"/><stop offset="0.75" stop-color="#d5ff00"/><stop offset="0.792" stop-color="#beff00"/><stop offset="0.833" stop-color="#a3ff00"/><stop offset="0.875" stop-color="#86ff00"/><stop offset="0.917" stop-color="#65ff00"/><stop offset="0.958" stop-color="#42ff00"/><stop offset="1" stop-color="#1bff00"/></linearGradient><linearGradient id="r120"><stop offset="0" stop-color="#70ff00"/><stop offset="0.042" stop-color="#8fff00"/><stop offset="0.083" stop-color="#abff00"/><stop offset="0.125" stop-color="#c5ff00"/><stop offset="0.167" stop-color="#dbff00"/><stop offset="0.208" stop-color="#eeff00"/><stop offset="0.25" stop-color="#feff00"/><stop offset="0.253" stop-color="#ffff00"/><stop offset="0.292" stop-color="#fff300"/><stop offset="0.333" stop-color="#ffe900"/><stop offset="0.375" stop-color="#ffe200"/><stop offset="0.417" stop-color="#ffde00"/><stop offset="0.458" stop-color="#ffdd00"/><stop offset="0.5" stop-color="#ffdf00"/><stop offset="0.542" stop-color="#ffe400"/><stop offset="0.583" stop-color="#ffec00"/><stop offset="0.625" stop-color="#fff700"/><stop offset="0.649" stop-color="#ffff00"/><stop offset="0.667" stop-color="#f9ff00"/><stop offset="0.708" stop-color="#e7ff00"/><stop offset="0.75" stop-color="#d3ff00"/><stop offset="0.792" stop-color="#bcff00"/><stop offset="0.833" stop-color="#a2ff00"/><stop offset="0.875" stop-color="#84ff00"/><stop offset="0.917" stop-color="#64ff00"/><stop offset="0.958" stop-color="#40ff00"/><stop offset="1" stop-color="#1aff00"/></linearGradient><linearGradient id="r121"><stop offset="0" stop-color="#6cff00"/><stop offset="0.042" stop-color="#8cff00"/><stop offset="0.083" stop-color="#a8ff00"/><stop offset="0.125" stop-color="#c1ff00"/><stop offset="0.167" stop-color="#d8ff00"/><stop offset="0.208" stop-color="#ebff00"/><stop offset="0.25" stop-color="#fbff00"/><stop offset="0.261" stop-color="#ffff00"/><stop offset="0.292" stop-color="#fff600"/><stop offset="0.333" stop-color="#ffec00"/><stop offset="0.375" stop-color="#ffe400"/><stop offset="0.417" stop-color="#ffe000"/><stop offset="0.458" stop-color="#ffdf00"/><stop offset="0.5" stop-color="#ffe100"/><stop offset="0.542" stop-color="#ffe600"/><stop offset="0.583" stop-color="#ffee00"/><stop offset="0.625" stop-color="#fff900"/><stop offset="0.643" stop-color="#ffff00"/><stop offset="0.667" stop-color="#f7ff00"/><stop offset="0.708" stop-color="#e5ff00"/><stop offset="0.75" stop-color="#d1ff00"/><stop offset="0.792" stop-color="#baff00"/><stop offset="0.833" stop-color="#a0ff00"/><stop offset="0.875" stop-color="#82ff00"/><stop offset="0.917" stop-color="#62ff00"/><stop offset="0.958" stop-color="#3fff00"/><stop offset="1" stop-color="#18ff00"/></linearGradient><linearGradient id="r122"><stop offset="0" stop-color="#6aff00"/><stop offset="0.042" stop-color="#8aff00"/><stop offset="0.083" stop-color="#a6ff00"/><stop offset="0.125" stop-color="#bfff00"/><stop offset="0.167" stop-color="#d6ff00"/><stop offset="0.208" stop-color="#e9ff00"/><stop offset="0.25" stop-color="#f9ff00"/><stop offset="0.267" stop-color="#ffff00"/><stop offset="0.292" stop-color="#fff700"/><stop offset="0.333" stop-color="#ffed00"/><stop offset="0.375" stop-color="#ffe600"/><stop offset="0.417" stop-color="#ffe200"/><stop offset="0.458" stop-color="#ffe100"/><stop offset="0.5" stop-color="#ffe300"/><stop offset="0.542" stop-color="#ffe800"/><stop offset="0.583" stop-color="#fff000"/><stop offset="0.625" stop-color="#fffb00"/><stop offset="0.639" stop-color="#ffff00"/><stop offset="0.667" stop-color="#f5ff00"/><stop offset="0.708" stop-color="#e4ff00"/><stop offset="0.75" stop-color="#d0ff00"/><stop offset="0.792" stop-color="#b9ff00"/><stop offset="0.833" stop-color="#9fff00"/><stop offset="0.875" stop-color="#81ff00"/><stop offset="0.917" stop-color="#61ff00"/><stop offset="0.958" stop-color="#3eff00"/><stop offset="1" stop-color="#18ff00"/></linearGradient></defs><rect x="249.9" y="499.00" width="367.7" height="3.60" fill="url(#r0)"/><rect x="249.9" y="502.00" width="367.7" height="3.60" fill="url(#r1)"/><rect x="249.9" y="505.00" width="367.7" height="3.60" fill="url(#r2)"/><rect x="249.9" y="508.00" width="367.7" height="3.60" fill="url(#r3)"/><rect x="249.9" y="511.00" width="367.7" height="3.60" fill="url(#r4)"/><rect x="249.9" y="514.00" width="367.7" height="3.60" fill="url(#r5)"/><rect x="249.9" y="517.00" width="367.7" height="3.60" fill="url(#r6)"/><rect x="249.9" y="520.00" width="367.7" height="3.60" fill="url(#r7)"/><rect x="249.9" y="523.00" width="367.7" height="3.60" fill="url(#r8)"/><rect x="249.9" y="526.00" width="367.7" height="3.60" fill="url(#r9)"/><rect x="249.9" y="529.00" width="367.7" height="3.60" fill="url(#r10)"/><rect x="249.9" y="532.00" width="367.7" height="3.60" fill="url(#r11)"/><rect x="249.9" y="535.00" width="367.7" height="3.60" fill="url(#r12)"/><rect x="249.9" y="538.00" width="367.7" height="3.60" fill="url(#r13)"/><rect x="249.9" y="541.00" width="367.7" height="3.60" fill="url(#r14)"/><rect x="249.9" y="544.00" width="367.7" height="3.60" fill="url(#r15)"/><rect x="249.9" y="547.00" width="367.7" height="3.60" fill="url(#r16)"/><rect x="249.9" y="550.00" width="367.7" height="3.60" fill="url(#r17)"/><rect x="249.9" y="553.00" width="367.7" height="3.60" fill="url(#r18)"/><rect x="249.9" y="556.00" width="367.7" height="3.60" fill="url(#r19)"/><rect x="249.9" y="559.00" width="367.7" height="3.60" fill="url(#r20)"/><rect x="249.9" y="562.00" width="367.7" height="3.60" fill="url(#r21)"/><rect x="249.9" y="565.00" width="367.7" height="3.60" fill="url(#r22)"/><rect x="249.9" y="568.00" width="367.7" height="3.60" fill="url(#r23)"/><rect x="249.9" y="571.00" width="367.7" height="3.60" fill="url(#r24)"/><rect x="249.9" y="574.00" width="367.7" height="3.60" fill="url(#r25)"/><rect x="249.9" y="577.00" width="367.7" height="3.60" fill="url(#r26)"/><rect x="249.9" y="580.00" width="367.7" height="3.60" fill="url(#r27)"/><rect x="249.9" y="583.00" width="367.7" height="3.60" fill="url(#r28)"/><rect x="249.9" y="586.00" width="367.7" height="3.60" fill="url(#r29)"/><rect x="249.9" y="589.00" width="367.7" height="3.60" fill="url(#r30)"/><rect x="249.9" y="592.00" width="367.7" height="3.60" fill="url(#r31)"/><rect x="249.9" y="595.00" width="367.7" height="3.60" fill="url(#r32)"/><rect x="249.9" y="598.00" width="367.7" height="3.60" fill="url(#r33)"/><rect x="249.9" y="601.00" width="367.7" height="3.60" fill="url(#r34)"/><rect x="249.9" y="604.00" width="367.7" height="3.60" fill="url(#r35)"/><rect x="249.9" y="607.00" width="367.7" height="3.60" fill="url(#r36)"/><rect x="249.9" y="610.00" width="367.7" height="3.60" fill="url(#r37)"/><rect x="249.9" y="613.00" width="367.7" height="3.60" fill="url(#r38)"/><rect x="249.9" y="616.00" width="367.7" height="3.60" fill="url(#r39)"/><rect x="249.9" y="619.00" width="367.7" height="3.60" fill="url(#r40)"/><rect x="249.9" y="622.00" width="367.7" height="3.60" fill="url(#r41)"/><rect x="249.9" y="625.00" width="367.7" height="3.60" fill="url(#r42)"/><rect x="249.9" y="628.00" width="367.7" height="3.60" fill="url(#r43)"/><rect x="249.9" y="631.00" width="367.7" height="3.60" fill="url(#r44)"/><rect x="249.9" y="634.00" width="367.7" height="3.60" fill="url(#r45)"/><rect x="249.9" y="637.00" width="367.7" height="3.60" fill="url(#r46)"/><rect x="249.9" y="640.00" width="367.7" height="3.60" fill="url(#r47)"/><rect x="249.9" y="643.00" width="367.7" height="3.60" fill="url(#r48)"/><rect x="249.9" y="646.00" width="367.7" height="3.60" fill="url(#r49)"/><rect x="249.9" y="649.00" width="367.7" height="3.60" fill="url(#r50)"/><rect x="249.9" y="652.00" width="367.7" height="3.60" fill="url(#r51)"/><rect x="249.9" y="655.00" width="367.7" height="3.60" fill="url(#r52)"/><rect x="249.9" y="658.00" width="367.7" height="3.60" fill="url(#r53)"/><rect x="249.9" y="661.00" width="367.7" height="3.60" fill="url(#r54)"/><rect x="249.9" y="664.00" width="367.7" height="3.60" fill="url(#r55)"/><rect x="249.9" y="667.00" width="367.7" height="3.60" fill="url(#r56)"/><rect x="249.9" y="670.00" width="367.7" height="3.60" fill="url(#r57)"/><rect x="249.9" y="673.00" width="367.7" height="3.60" fill="url(#r58)"/><rect x="249.9" y="676.00" width="367.7" height="3.60" fill="url(#r59)"/><rect x="249.9" y="679.00" width="367.7" height="3.60" fill="url(#r60)"/><rect x="249.9" y="682.00" width="367.7" height="3.60" fill="url(#r61)"/><rect x="249.9" y="685.00" width="367.7" height="3.60" fill="url(#r62)"/><rect x="249.9" y="688.00" width="367.7" height="3.60" fill="url(#r63)"/><rect x="249.9" y="691.00" width="367.7" height="3.60" fill="url(#r64)"/><rect x="249.9" y="694.00" width="367.7" height="3.60" fill="url(#r65)"/><rect x="249.9" y="697.00" width="367.7" height="3.60" fill="url(#r66)"/><rect x="249.9" y="700.00" width="367.7" height="3.60" fill="url(#r67)"/><rect x="249.9" y="703.00" width="367.7" height="3.60" fill="url(#r68)"/><rect x="249.9" y="706.00" width="367.7" height="3.60" fill="url(#r69)"/><rect x="249.9" y="709.00" width="367.7" height="3.60" fill="url(#r70)"/><rect x="249.9" y="712.00" width="367.7" height="3.60" fill="url(#r71)"/><rect x="249.9" y="715.00" width="367.7" height="3.60" fill="url(#r72)"/><rect x="249.9" y="718.00" width="367.7" height="3.60" fill="url(#r73)"/><rect x="249.9" y="721.00" width="367.7" height="3.60" fill="url(#r74)"/><rect x="249.9" y="724.00" width="367.7" height="3.60" fill="url(#r75)"/><rect x="249.9" y="727.00" width="367.7" height="3.60" fill="url(#r76)"/><rect x="249.9" y="730.00" width="367.7" height="3.60" fill="url(#r77)"/><rect x="249.9" y="733.00" width="367.7" height="3.60" fill="url(#r78)"/><rect x="249.9" y="736.00" width="367.7" height="3.60" fill="url(#r79)"/><rect x="249.9" y="739.00" width="367.7" height="3.60" fill="url(#r80)"/><rect x="249.9" y="742.00" width="367.7" height="3.60" fill="url(#r81)"/><rect x="249.9" y="745.00" width="367.7" height="3.60" fill="url(#r82)"/><rect x="249.9" y="748.00" width="367.7" height="3.60" fill="url(#r83)"/><rect x="249.9" y="751.00" width="367.7" height="3.60" fill="url(#r84)"/><rect x="249.9" y="754.00" width="367.7" height="3.60" fill="url(#r85)"/><rect x="249.9" y="757.00" width="367.7" height="3.60" fill="url(#r86)"/><rect x="249.9" y="760.00" width="367.7" height="3.60" fill="url(#r87)"/><rect x="249.9" y="763.00" width="367.7" height="3.60" fill="url(#r88)"/><rect x="249.9" y="766.00" width="367.7" height="3.60" fill="url(#r89)"/><rect x="249.9" y="769.00" width="367.7" height="3.60" fill="url(#r90)"/><rect x="249.9" y="772.00" width="367.7" height="3.60" fill="url(#r91)"/><rect x="249.9" y="775.00" width="367.7" height="3.60" fill="url(#r92)"/><rect x="249.9" y="778.00" width="367.7" height="3.60" fill="url(#r93)"/><rect x="249.9" y="781.00" width="367.7" height="3.60" fill="url(#r94)"/><rect x="249.9" y="784.00" width="367.7" height="3.60" fill="url(#r95)"/><rect x="249.9" y="787.00" width="367.7" height="3.60" fill="url(#r96)"/><rect x="249.9" y="790.00" width="367.7" height="3.60" fill="url(#r97)"/><rect x="249.9" y="793.00" width="367.7" height="3.60" fill="url(#r98)"/><rect x="249.9" y="796.00" width="367.7" height="3.60" fill="url(#r99)"/><rect x="249.9" y="799.00" width="367.7" height="3.60" fill="url(#r100)"/><rect x="249.9" y="802.00" width="367.7" height="3.60" fill="url(#r101)"/><rect x="249.9" y="805.00" width="367.7" height="3.60" fill="url(#r102)"/><rect x="249.9" y="808.00" width="367.7" height="3.60" fill="url(#r103)"/><rect x="249.9" y="811.00" width="367.7" height="3.60" fill="url(#r104)"/><rect x="249.9" y="814.00" width="367.7" height="3.60" fill="url(#r105)"/><rect x="249.9" y="817.00" width="367.7" height="3.60" fill="url(#r106)"/><rect x="249.9" y="820.00" width="367.7" height="3.60" fill="url(#r107)"/><rect x="249.9" y="823.00" width="367.7" height="3.60" fill="url(#r108)"/><rect x="249.9" y="826.00" width="367.7" height="3.60" fill="url(#r109)"/><rect x="249.9" y="829.00" width="367.7" height="3.60" fill="url(#r110)"/><rect x="249.9" y="832.00" width="367.7" height="3.60" fill="url(#r111)"/><rect x="249.9" y="835.00" width="367.7" height="3.60" fill="url(#r112)"/><rect x="249.9" y="838.00" width="367.7" height="3.60" fill="url(#r113)"/><rect x="249.9" y="841.00" width="367.7" height="3.60" fill="url(#r114)"/><rect x="249.9" y="844.00" width="367.7" height="3.60" fill="url(#r115)"/><rect x="249.9" y="847.00" width="367.7" height="3.60" fill="url(#r116)"/><rect x="249.9" y="850.00" width="367.7" height="3.60" fill="url(#r117)"/><rect x="249.9" y="853.00" width="367.7" height="3.60" fill="url(#r118)"/><rect x="249.9" y="856.00" width="367.7" height="3.60" fill="url(#r119)"/><rect x="249.9" y="859.00" width="367.7" height="3.60" fill="url(#r120)"/><rect x="249.9" y="862.00" width="367.7" height="3.60" fill="url(#r121)"/><rect x="249.9" y="865.00" width="367.7" height="0.80" fill="url(#r122)"/><polyline points="591.2,865.8 591.9,862.7 592.7,859.7 593.1,857.8 593.4,856.6 594.1,853.6 594.8,850.5 595.4,847.5 596.1,844.4 596.2,844.4 596.8,841.3 597.5,838.3 598.2,835.2 598.9,832.2 599.2,830.6 599.5,829.1 600.2,826.1 600.9,823.0 601.5,819.9 602.2,816.9 602.3,816.6 602.9,813.8 603.5,810.8 604.2,807.7 604.8,804.7 605.3,802.2 605.5,801.6 606.1,798.6 606.8,795.5 607.4,792.4 608.0,789.4 608.4,787.6 608.7,786.3 609.3,783.3 609.9,780.2 610.6,777.2 611.2,774.1 611.5,772.7 611.8,771.0 612.4,768.0 613.0,764.9 613.6,761.9 614.3,758.8 614.5,757.5 614.9,755.8 615.5,752.7 616.1,749.6 616.7,746.6 617.3,743.5 617.6,742.0" fill="none" stroke="#1a1a1a" stroke-width="1"/><polyline points="249.9,696.2 250.9,697.7 253.0,700.7 253.0,700.7 255.1,703.8 256.0,705.2 257.2,706.9 259.1,709.6 259.3,709.9 261.5,713.0 262.2,714.0 263.6,716.0 265.2,718.3 265.8,719.1 268.0,722.1 268.3,722.5 270.2,725.2 271.3,726.7 272.5,728.2 274.4,730.9 274.7,731.3 277.0,734.4 277.5,735.0 279.3,737.4 280.5,739.0 281.7,740.5 283.6,743.0 284.0,743.5 286.4,746.6 286.7,746.9 288.8,749.6 289.7,750.8 291.3,752.7 292.8,754.6 293.7,755.8 295.9,758.3 296.3,758.8 298.8,761.9 298.9,762.0 301.4,764.9 302.0,765.6 304.0,768.0 305.1,769.2 306.7,771.0 308.1,772.6 309.4,774.1 311.2,776.0 312.2,777.2 314.2,779.4 315.0,780.2 317.3,782.6 317.9,783.3 320.4,785.8 320.9,786.3 323.4,788.9 323.9,789.4 326.5,792.0 327.0,792.4 329.6,794.9 330.2,795.5 332.6,797.8 333.5,798.6 335.7,800.6 336.8,801.6 338.8,803.3 340.3,804.7 341.8,805.9 344.0,807.7 344.9,808.5 347.8,810.8 348.0,810.9 351.0,813.3 351.8,813.8 354.1,815.5 356.0,816.9 357.1,817.7 360.2,819.8 360.5,819.9 363.3,821.8 365.3,823.0 366.3,823.6 369.4,825.4 370.6,826.1 372.5,827.1 375.5,828.6 376.6,829.1 378.6,830.1 381.7,831.4 383.6,832.2 384.7,832.6 387.8,833.7 390.9,834.7 392.8,835.2 393.9,835.6 397.0,836.3 400.0,836.9 403.1,837.4 406.2,837.7 409.2,838.0 412.3,838.0 415.4,838.0 418.4,837.8 421.5,837.4 424.6,836.9 427.6,836.3 430.7,835.5 431.5,835.2 433.8,834.5 436.8,833.4 439.8,832.2 439.9,832.2 442.9,830.7 446.0,829.1 446.0,829.1 449.1,827.3 451.1,826.1 452.1,825.4 455.2,823.3 455.5,823.0 458.3,821.0 459.5,819.9 461.3,818.5 463.1,816.9 464.4,815.8 466.5,813.8 467.5,812.9 469.6,810.8 470.5,809.9 472.6,807.7 473.6,806.7 475.4,804.7 476.6,803.2 478.0,801.6 479.7,799.6 480.5,798.6 482.8,795.8 483.0,795.5 485.3,792.4 485.8,791.7 487.5,789.4 488.9,787.5 489.7,786.3 491.8,783.3 492.0,783.0 493.8,780.2 495.0,778.4 495.8,777.2 497.7,774.1 498.1,773.5 499.6,771.0 501.2,768.4 501.4,768.0 503.2,764.9 504.2,763.1 504.9,761.9 506.6,758.8 507.3,757.5 508.2,755.8 509.9,752.7 510.4,751.8 511.5,749.6 513.0,746.6 513.4,745.8 514.6,743.5 516.1,740.5 516.5,739.6 517.5,737.4 519.0,734.4 519.5,733.2 520.4,731.3 521.8,728.2 522.6,726.5 523.2,725.2 524.6,722.1 525.7,719.6 525.9,719.1 527.2,716.0 528.5,713.0 528.7,712.5 529.8,709.9 531.1,706.9 531.8,705.2 532.4,703.8 533.6,700.7 534.8,697.7 534.9,697.6 536.0,694.6 537.2,691.6 537.9,689.7 538.4,688.5 539.6,685.5 540.7,682.4 541.0,681.7 541.9,679.3 543.0,676.3 544.1,673.4 544.1,673.2 545.2,670.2 546.3,667.1 547.1,664.8 547.4,664.1 548.5,661.0 549.5,657.9 550.2,656.1 550.6,654.9 551.6,651.8 552.7,648.8 553.3,647.0 553.7,645.7 554.7,642.7 555.7,639.6 556.3,637.8 556.7,636.5 557.7,633.5 558.7,630.4 559.4,628.3 559.7,627.4 560.6,624.3 561.6,621.3 562.4,618.6 562.6,618.2 563.5,615.2 564.4,612.1 565.4,609.0 565.5,608.6 566.3,606.0 567.2,602.9 568.1,599.9 568.6,598.4 569.0,596.8 569.9,593.8 570.8,590.7 571.6,587.9 571.7,587.6 572.6,584.6 573.5,581.5 574.3,578.5 574.7,577.2 575.2,575.4 576.1,572.4 576.9,569.3 577.8,566.3 577.8,566.2 578.6,563.2 579.5,560.1 580.3,557.1 580.8,555.1 581.1,554.0 582.0,551.0 582.8,547.9 583.6,544.9 583.9,543.7 584.4,541.8 585.2,538.7 586.0,535.7 586.8,532.6 587.0,532.1 587.6,529.6 588.4,526.5 589.2,523.5 590.0,520.4 590.0,520.2 590.8,517.3 591.5,514.3 592.3,511.2 593.1,508.2 593.1,508.1 593.8,505.1 594.6,502.1 595.4,499.0" fill="none" stroke="#1a1a1a" stroke-width="1"/><polyline points="249.9,525.6 250.7,526.5 253.0,529.1 253.4,529.6 256.0,532.5 256.1,532.6 258.9,535.7 259.1,535.8 261.8,538.7 262.2,539.1 264.7,541.8 265.2,542.4 267.6,544.9 268.3,545.5 270.6,547.9 271.3,548.6 273.7,551.0 274.4,551.7 276.8,554.0 277.5,554.7 280.0,557.1 280.5,557.6 283.3,560.1 283.6,560.4 286.6,563.2 286.7,563.2 289.7,565.9 290.1,566.2 292.8,568.6 293.7,569.3 295.9,571.2 297.3,572.4 298.9,573.7 301.1,575.4 302.0,576.1 305.1,578.4 305.1,578.5 308.1,580.7 309.3,581.5 311.2,582.9 313.6,584.6 314.2,585.0 317.3,587.1 318.2,587.6 320.4,589.0 323.1,590.7 323.4,590.9 326.5,592.7 328.4,593.8 329.6,594.4 332.6,596.0 334.2,596.8 335.7,597.6 338.8,599.0 340.7,599.9 341.8,600.3 344.9,601.6 348.0,602.8 348.4,602.9 351.0,603.8 354.1,604.8 357.1,605.7 358.4,606.0 360.2,606.4 363.3,607.1 366.3,607.7 369.4,608.1 372.5,608.4 375.5,608.7 378.6,608.8 381.7,608.8 384.7,608.7 387.8,608.5 390.9,608.1 393.9,607.7 397.0,607.1 400.0,606.4 401.6,606.0 403.1,605.6 406.2,604.6 409.2,603.5 410.7,602.9 412.3,602.3 415.4,600.9 417.5,599.9 418.4,599.4 421.5,597.8 423.2,596.8 424.6,596.0 427.6,594.1 428.2,593.8 430.7,592.1 432.6,590.7 433.8,589.9 436.7,587.6 436.8,587.5 439.9,585.0 440.4,584.6 442.9,582.4 443.9,581.5 446.0,579.6 447.2,578.5 449.1,576.6 450.3,575.4 452.1,573.5 453.2,572.4 455.2,570.3 456.1,569.3 458.3,566.8 458.8,566.2 461.3,563.2 461.4,563.2 463.9,560.1 464.4,559.5 466.3,557.1 467.5,555.6 468.6,554.0 470.5,551.5 470.9,551.0 473.1,547.9 473.6,547.2 475.2,544.9 476.6,542.8 477.3,541.8 479.4,538.7 479.7,538.2 481.3,535.7 482.8,533.4 483.3,532.6 485.2,529.6 485.8,528.5 487.0,526.5 488.8,523.5 488.9,523.4 490.6,520.4 492.0,518.0 492.4,517.3 494.1,514.3 495.0,512.6 495.8,511.2 497.4,508.2 498.1,506.9 499.0,505.1 500.6,502.1 501.2,501.1 502.2,499.0" fill="none" stroke="#1a1a1a" stroke-width="1"/><rect x="249.9" y="499.0" width="367.7" height="366.8" fill="none" stroke="#333" stroke-width="1"/><path d="M249.9,865.8h-8.6M249.9,865.8v8.8M249.9,804.7h-8.6M311.2,865.8v8.8M249.9,743.5h-8.6M372.5,865.8v8.8M249.9,682.4h-8.6M433.8,865.8v8.8M249.9,621.3h-8.6M495.0,865.8v8.8M249.9,560.1h-8.6M556.3,865.8v8.8M249.9,499.0h-8.6M617.6,865.8v8.8" stroke="#444" stroke-width="1" fill="none"/><g font-family="Liberation Sans, sans-serif" font-size="9.2" fill="#2e2e2e"><text x="236.9" y="869.2" text-anchor="end">60</text><text x="250.3" y="888.7" text-anchor="middle">40</text><text x="236.9" y="808.1" text-anchor="end">70</text><text x="311.6" y="888.7" text-anchor="middle">50</text><text x="236.9" y="746.9" text-anchor="end">80</text><text x="372.9" y="888.7" text-anchor="middle">60</text><text x="236.9" y="685.8" text-anchor="end">90</text><text x="434.1" y="888.7" text-anchor="middle">70</text><text x="236.9" y="624.7" text-anchor="end">100</text><text x="495.4" y="888.7" text-anchor="middle">80</text><text x="236.9" y="563.5" text-anchor="end">110</text><text x="556.7" y="888.7" text-anchor="middle">90</text><text x="236.9" y="502.4" text-anchor="end">120</text><text x="618.0" y="888.7" text-anchor="middle">100</text></g><rect x="380.7" y="599.4" width="14.4" height="8.3" fill="#fff" stroke="#333" stroke-width="0.8"/><text font-family="Liberation Sans, sans-serif" font-size="6.2" fill="#222" x="388.4" y="605.8" text-anchor="middle">100</text><rect x="474.3" y="792.4" width="11.0" height="8.8" fill="#fff" stroke="#333" stroke-width="0.8"/><text font-family="Liberation Sans, sans-serif" font-size="6.2" fill="#222" x="480.3" y="799.1" text-anchor="middle">99</text><rect x="599.4" y="798.2" width="10.8" height="8.8" fill="#fff" stroke="#333" stroke-width="0.8"/><text font-family="Liberation Sans, sans-serif" font-size="6.2" fill="#222" x="605.3" y="804.9" text-anchor="middle">98</text><circle cx="249.9" cy="682.4" r="2.9" fill="#c80a10" stroke="#5a0000" stroke-width="0.9"/><circle cx="433.8" cy="499.0" r="2.9" fill="#c80a10" stroke="#5a0000" stroke-width="0.9"/><circle cx="433.8" cy="682.4" r="3.6" fill="#c80a10" stroke="#5a0000" stroke-width="1.2"/><circle cx="433.8" cy="865.8" r="2.9" fill="#c80a10" stroke="#5a0000" stroke-width="0.9"/><circle cx="617.6" cy="682.4" r="2.9" fill="#c80a10" stroke="#5a0000" stroke-width="0.9"/><text font-family="Liberation Sans, sans-serif" font-size="6.3" fill="#5a2808" x="424.8" y="684.8" text-anchor="middle">6</text><text font-family="Liberation Sans, sans-serif" font-size="15" fill="#222" x="390.6" y="491.5" textLength="84.4" lengthAdjust="spacingAndGlyphs">Rem.Eff. (%)</text><text font-family="Liberation Sans, sans-serif" font-size="13" fill="#222" x="326.9" y="916.6" textLength="212.9" lengthAdjust="spacingAndGlyphs">B: Initial Cr (VI) concentration (mg/L)</text><text font-family="Liberation Sans, sans-serif" font-size="13" fill="#222" transform="translate(196,742.2) rotate(-90)" textLength="122.8" lengthAdjust="spacingAndGlyphs">C: Contact time (min)</text></svg>
<svg class="sl" width="708" height="922" viewBox="0 0 708 922" font-family="Liberation Sans, sans-serif"><defs><linearGradient id="ga"><stop offset="0" stop-color="#0000ff"/><stop offset="0.5" stop-color="#00ff00"/><stop offset="1" stop-color="#ff0000"/></linearGradient><linearGradient id="gb"><stop offset="0" stop-color="#0000ff"/><stop offset="0.5" stop-color="#00ff00"/><stop offset="1" stop-color="#ff0000"/></linearGradient></defs><rect x="576.8" y="2.5" width="129.4" height="249.6" fill="#fff" stroke="#a6a6a6" stroke-width="1"/><text x="578.5" y="16.2" fill="#222" font-size="10.5" textLength="100.5" lengthAdjust="spacingAndGlyphs">Factor Coding: Actual</text><text x="578.5" y="50.7" fill="#000" font-size="10.5" font-weight="bold" textLength="61.5" lengthAdjust="spacingAndGlyphs">Rem.Eff. (%)</text><text x="578.5" y="67.8" fill="#222" font-size="10.5" textLength="66.5" lengthAdjust="spacingAndGlyphs">Design Points:</text><circle cx="589.5" cy="81.1" r="5.6" fill="#b00000" stroke="#500" stroke-width="0.8"/><text x="600.6" y="85.6" fill="#c8283c" font-size="10.5" textLength="68.0" lengthAdjust="spacingAndGlyphs">Above Surface</text><circle cx="589.5" cy="98.7" r="5.6" fill="#ffc6c6" stroke="#666" stroke-width="0.8"/><text x="600.6" y="102.9" fill="#c8283c" font-size="10.5" textLength="66.0" lengthAdjust="spacingAndGlyphs">Below Surface</text><text x="578.5" y="120.7" fill="#2828f0" font-size="10.5" textLength="19.5" lengthAdjust="spacingAndGlyphs">95.3</text><rect x="608.5" y="109.3" width="39" height="15" fill="url(#ga)" stroke="#2a2a2a" stroke-opacity="0.75" stroke-width="0.8"/><text x="651.5" y="120.7" fill="#f02020" font-size="10.5" textLength="24.5" lengthAdjust="spacingAndGlyphs">99.91</text><text x="578.5" y="155.4" fill="#222" font-size="10.5" textLength="31.5" lengthAdjust="spacingAndGlyphs">X1 = B</text><text x="578.5" y="172.8" fill="#222" font-size="10.5" textLength="32.0" lengthAdjust="spacingAndGlyphs">X2 = C</text><text x="578.5" y="207.2" fill="#000" font-size="10.5" font-weight="bold" textLength="71.0" lengthAdjust="spacingAndGlyphs">Actual Factors</text><text x="578.5" y="225.0" fill="#222" font-size="10.5" textLength="26.0" lengthAdjust="spacingAndGlyphs">A = 6</text><text x="578.5" y="242.4" fill="#222" font-size="10.5" textLength="41.0" lengthAdjust="spacingAndGlyphs">D = 0.75</text><text x="2.1" y="484.5" fill="#222" font-size="10.5" textLength="101.0" lengthAdjust="spacingAndGlyphs">Factor Coding: Actual</text><text x="2.1" y="519.7" fill="#000" font-size="10.5" font-weight="bold" textLength="61.5" lengthAdjust="spacingAndGlyphs">Rem.Eff. (%)</text><circle cx="12.5" cy="533.6" r="5.8" fill="#b00000" stroke="#500" stroke-width="0.8"/><text x="25.0" y="537.0" fill="#c8283c" font-size="10.5" textLength="64.4" lengthAdjust="spacingAndGlyphs">Design Points</text><text x="2.1" y="572.4" fill="#2828f0" font-size="10.5" textLength="19.5" lengthAdjust="spacingAndGlyphs">95.3</text><rect x="31.3" y="561.2" width="39.3" height="15" fill="url(#gb)" stroke="#2a2a2a" stroke-opacity="0.75" stroke-width="0.8"/><text x="75.2" y="572.4" fill="#f02020" font-size="10.5" textLength="24.2" lengthAdjust="spacingAndGlyphs">99.91</text><text x="2.1" y="590.0" fill="#222" font-size="10.5" textLength="31.5" lengthAdjust="spacingAndGlyphs">X1 = B</text><text x="2.1" y="607.4" fill="#222" font-size="10.5" textLength="32.0" lengthAdjust="spacingAndGlyphs">X2 = C</text><text x="2.1" y="641.9" fill="#000" font-size="10.5" font-weight="bold" textLength="71.0" lengthAdjust="spacingAndGlyphs">Actual Factors</text><text x="2.1" y="659.3" fill="#222" font-size="10.5" textLength="26.0" lengthAdjust="spacingAndGlyphs">A = 6</text><text x="2.1" y="676.7" fill="#222" font-size="10.5" textLength="41.0" lengthAdjust="spacingAndGlyphs">D = 0.75</text><path d="M113.6,670H108.4V685.5H124.5V680.6" fill="none" stroke="#000" stroke-width="2.5"/><path d="M116.2,668.8h9.6v9.6z" fill="#000"/><path d="M122,672.6L115.8,678.6" stroke="#000" stroke-width="3" fill="none"/></svg>
</body></html>
